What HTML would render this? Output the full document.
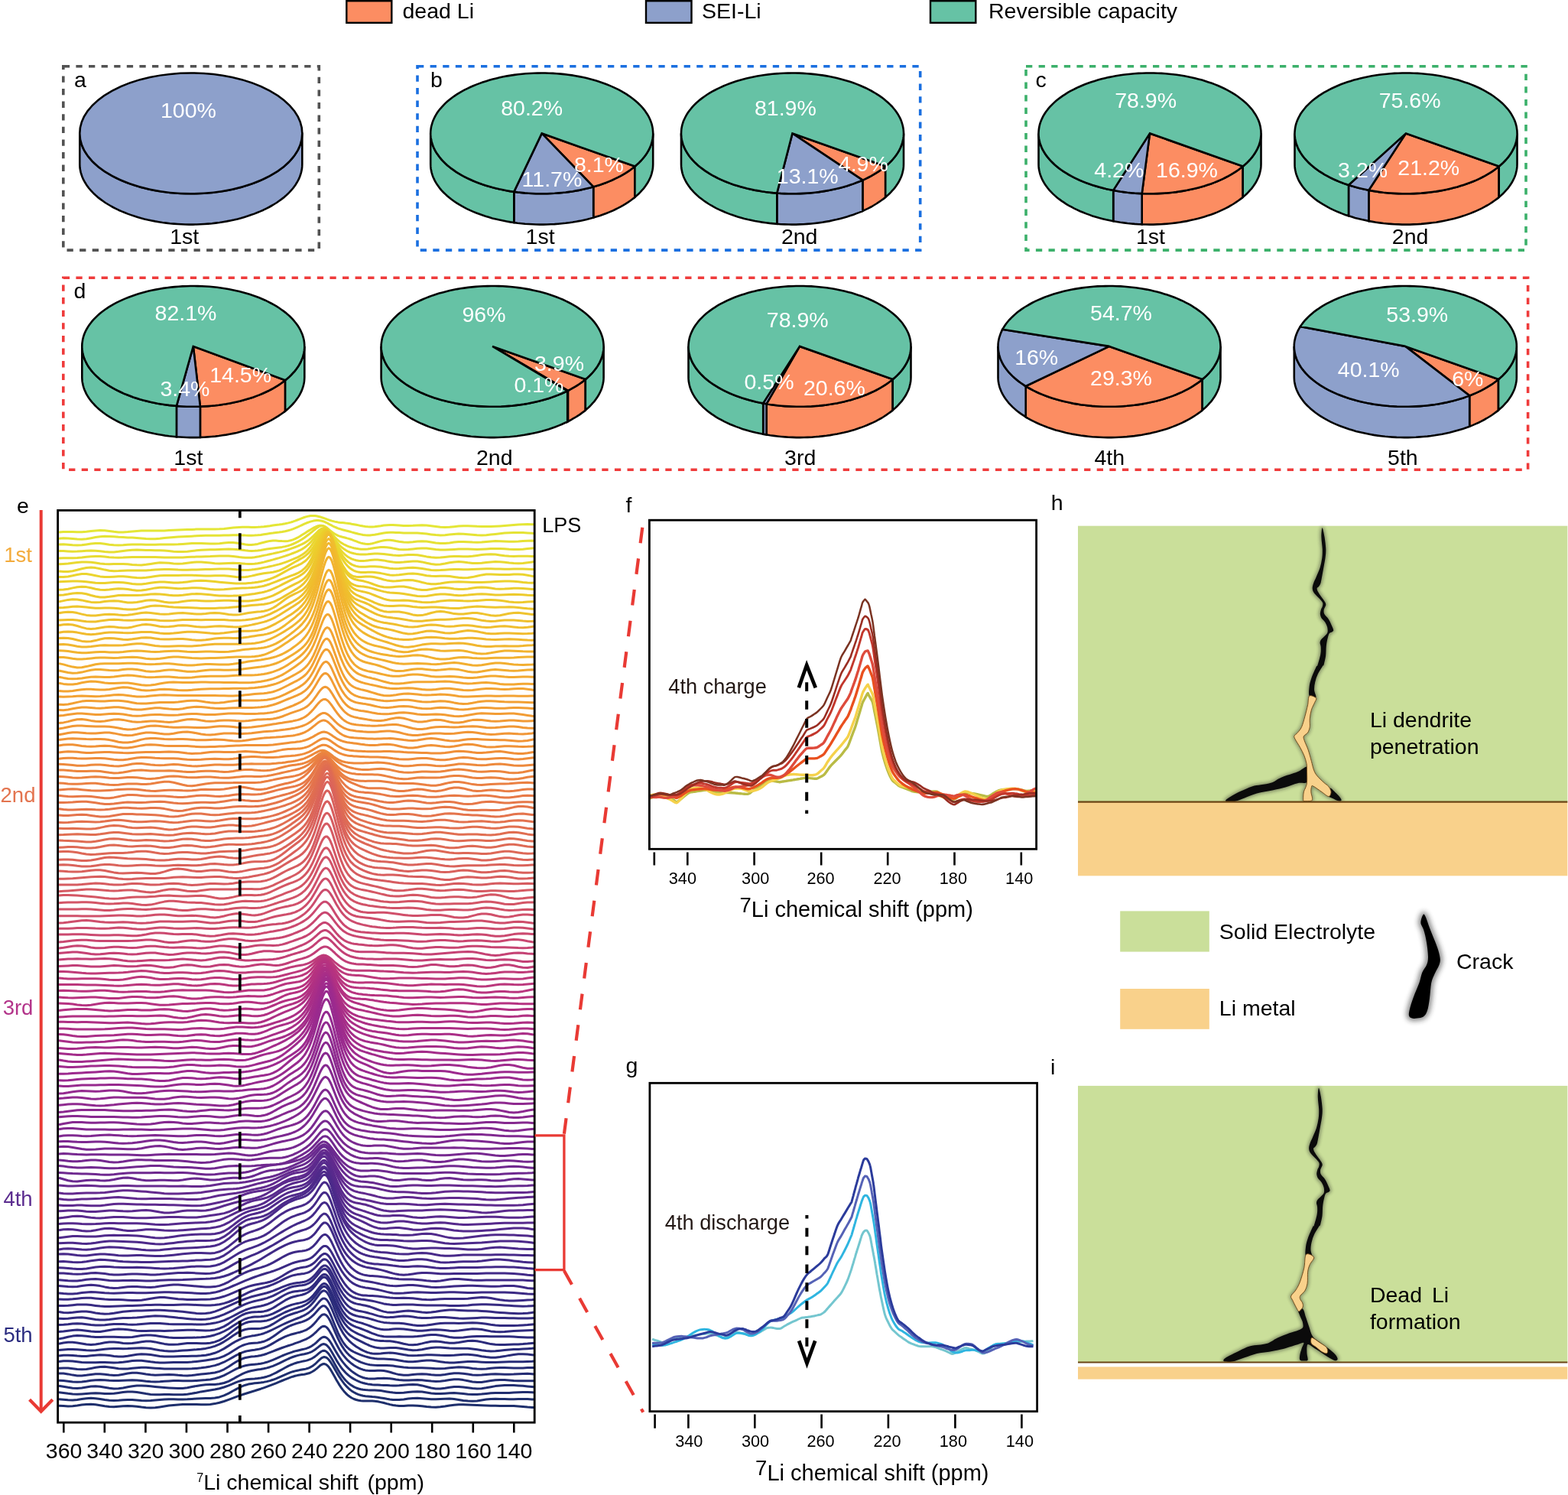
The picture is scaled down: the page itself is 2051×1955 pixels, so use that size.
<!DOCTYPE html>
<html lang="en"><head><meta charset="utf-8"><title>Figure</title>
<style>
html,body{margin:0;padding:0;background:#fff;}
body{width:2051px;height:1955px;overflow:hidden;}
svg{display:block;font-family:"Liberation Sans",sans-serif;}
</style></head><body>
<svg width="2051" height="1955" viewBox="0 0 2051 1955">
<rect width="2051" height="1955" fill="#fff"/>
<rect x="453.3" y="1.2" width="58.99999999999994" height="28.6" fill="#fc8d62" stroke="#000" stroke-width="2.4"/>
<text x="526.5" y="23.8" font-size="28.5" fill="#000" text-anchor="start" >dead Li</text>
<rect x="845" y="1.2" width="59.5" height="28.6" fill="#8da0cb" stroke="#000" stroke-width="2.4"/>
<text x="918.0" y="23.8" font-size="28.5" fill="#000" text-anchor="start" >SEI-Li</text>
<rect x="1217" y="1.2" width="59.299999999999955" height="28.6" fill="#66c2a5" stroke="#000" stroke-width="2.4"/>
<text x="1293.0" y="23.8" font-size="28.5" fill="#000" text-anchor="start" >Reversible capacity</text>
<rect x="82.8" y="86.7" width="334.5" height="240.40000000000003" fill="none" stroke="#525252" stroke-width="3.6" stroke-dasharray="8.3 8.3"/>
<rect x="546" y="86.7" width="657.7" height="240.40000000000003" fill="none" stroke="#1a6fe0" stroke-width="3.6" stroke-dasharray="8.3 8.3"/>
<rect x="1342" y="86.7" width="654" height="240.40000000000003" fill="none" stroke="#3bb06a" stroke-width="3.6" stroke-dasharray="8.3 8.3"/>
<rect x="82.8" y="363.2" width="1915.8" height="251.00000000000006" fill="none" stroke="#ef3b3b" stroke-width="3.6" stroke-dasharray="8.3 8.3"/>
<path d="M395.3,174.4 L395.2,177.1 L395.0,179.8 L394.5,182.6 L393.9,185.3 L393.1,188.0 L392.2,190.6 L391.1,193.3 L389.8,195.9 L388.3,198.5 L386.7,201.1 L384.9,203.6 L383.0,206.2 L380.9,208.6 L378.6,211.1 L376.2,213.5 L373.7,215.8 L371.0,218.1 L368.1,220.3 L365.1,222.5 L362.0,224.7 L358.7,226.7 L355.3,228.7 L351.8,230.7 L348.1,232.5 L344.4,234.4 L340.5,236.1 L336.5,237.7 L332.5,239.3 L328.3,240.8 L324.0,242.3 L319.6,243.6 L315.2,244.9 L310.7,246.1 L306.1,247.2 L301.4,248.2 L296.7,249.1 L291.9,249.9 L287.1,250.7 L282.2,251.3 L277.3,251.9 L272.3,252.3 L267.3,252.7 L262.3,253.0 L257.3,253.2 L252.3,253.3 L247.3,253.3 L242.3,253.2 L237.3,253.0 L232.3,252.7 L227.3,252.3 L222.3,251.9 L217.4,251.3 L212.5,250.7 L207.7,249.9 L202.9,249.1 L198.2,248.2 L193.5,247.2 L188.9,246.1 L184.4,244.9 L180.0,243.6 L175.6,242.3 L171.3,240.8 L167.1,239.3 L163.1,237.7 L159.1,236.1 L155.2,234.4 L151.5,232.5 L147.8,230.7 L144.3,228.7 L140.9,226.7 L137.6,224.7 L134.5,222.5 L131.5,220.3 L128.6,218.1 L125.9,215.8 L123.4,213.5 L121.0,211.1 L118.7,208.6 L116.6,206.2 L114.7,203.6 L112.9,201.1 L111.3,198.5 L109.8,195.9 L108.5,193.3 L107.4,190.6 L106.5,188.0 L105.7,185.3 L105.1,182.6 L104.6,179.8 L104.4,177.1 L104.3,174.4 L104.3,214.7 L104.4,217.4 L104.6,220.1 L105.1,222.9 L105.7,225.6 L106.5,228.3 L107.4,230.9 L108.5,233.6 L109.8,236.2 L111.3,238.8 L112.9,241.4 L114.7,243.9 L116.6,246.5 L118.7,248.9 L121.0,251.4 L123.4,253.8 L125.9,256.1 L128.6,258.4 L131.5,260.6 L134.5,262.8 L137.6,265.0 L140.9,267.0 L144.3,269.0 L147.8,271.0 L151.5,272.8 L155.2,274.7 L159.1,276.4 L163.1,278.0 L167.1,279.6 L171.3,281.1 L175.6,282.6 L180.0,283.9 L184.4,285.2 L188.9,286.4 L193.5,287.5 L198.2,288.5 L202.9,289.4 L207.7,290.2 L212.5,291.0 L217.4,291.6 L222.3,292.2 L227.3,292.6 L232.3,293.0 L237.3,293.3 L242.3,293.5 L247.3,293.6 L252.3,293.6 L257.3,293.5 L262.3,293.3 L267.3,293.0 L272.3,292.6 L277.3,292.2 L282.2,291.6 L287.1,291.0 L291.9,290.2 L296.7,289.4 L301.4,288.5 L306.1,287.5 L310.7,286.4 L315.2,285.2 L319.6,283.9 L324.0,282.6 L328.3,281.1 L332.5,279.6 L336.5,278.0 L340.5,276.4 L344.4,274.7 L348.1,272.8 L351.8,271.0 L355.3,269.0 L358.7,267.0 L362.0,265.0 L365.1,262.8 L368.1,260.6 L371.0,258.4 L373.7,256.1 L376.2,253.8 L378.6,251.4 L380.9,248.9 L383.0,246.5 L384.9,243.9 L386.7,241.4 L388.3,238.8 L389.8,236.2 L391.1,233.6 L392.2,230.9 L393.1,228.3 L393.9,225.6 L394.5,222.9 L395.0,220.1 L395.2,217.4 L395.3,214.7Z" fill="#8da0cb" stroke="#000" stroke-width="2.6" stroke-linejoin="round"/>
<ellipse cx="249.8" cy="174.4" rx="145.5" ry="78.9" fill="#8da0cb" stroke="#000" stroke-width="2.6"/>
<text x="246.4" y="153.7" font-size="28.5" fill="#fff" text-anchor="middle" >100%</text>
<text x="241.2" y="319.0" font-size="28.5" fill="#000" text-anchor="middle" >1st</text>
<text x="97.0" y="114.0" font-size="28.5" fill="#000" text-anchor="start" >a</text>
<path d="M830.4,217.6 L827.7,219.8 L824.8,222.0 L821.7,224.1 L818.6,226.1 L815.3,228.1 L811.8,230.1 L808.3,231.9 L804.6,233.7 L800.9,235.5 L797.0,237.1 L793.0,238.7 L788.9,240.2 L784.8,241.7 L780.5,243.0 L776.2,244.3 L776.2,284.6 L780.5,283.3 L784.8,282.0 L788.9,280.5 L793.0,279.0 L797.0,277.4 L800.9,275.8 L804.6,274.0 L808.3,272.2 L811.8,270.4 L815.3,268.4 L818.6,266.4 L821.7,264.4 L824.8,262.3 L827.7,260.1 L830.4,257.9Z" fill="#fc8d62" stroke="#000" stroke-width="2.6" stroke-linejoin="miter" stroke-miterlimit="6"/>
<path d="M776.2,244.3 L771.9,245.5 L767.4,246.6 L763.0,247.6 L758.4,248.6 L753.8,249.4 L749.2,250.2 L744.5,250.9 L739.8,251.5 L735.0,252.0 L730.2,252.4 L725.4,252.8 L720.5,253.0 L715.7,253.2 L710.8,253.3 L706.0,253.3 L701.1,253.2 L696.3,253.0 L691.4,252.7 L686.6,252.4 L681.8,251.9 L677.0,251.4 L672.3,250.8 L672.3,291.1 L677.0,291.7 L681.8,292.2 L686.6,292.7 L691.4,293.0 L696.3,293.3 L701.1,293.5 L706.0,293.6 L710.8,293.6 L715.7,293.5 L720.5,293.3 L725.4,293.1 L730.2,292.7 L735.0,292.3 L739.8,291.8 L744.5,291.2 L749.2,290.5 L753.8,289.7 L758.4,288.9 L763.0,287.9 L767.4,286.9 L771.9,285.8 L776.2,284.6Z" fill="#8da0cb" stroke="#000" stroke-width="2.6" stroke-linejoin="miter" stroke-miterlimit="6"/>
<path d="M672.3,250.8 L667.5,250.1 L662.6,249.2 L657.9,248.3 L653.2,247.3 L648.6,246.2 L644.0,245.1 L639.5,243.8 L635.1,242.5 L630.8,241.0 L626.6,239.5 L622.5,238.0 L618.5,236.3 L614.6,234.6 L610.8,232.8 L607.1,230.9 L603.5,228.9 L600.1,226.9 L596.8,224.8 L593.7,222.7 L590.6,220.5 L587.8,218.3 L585.0,216.0 L582.5,213.6 L580.0,211.2 L577.7,208.8 L575.6,206.3 L573.7,203.8 L571.9,201.2 L570.2,198.6 L568.8,196.0 L567.5,193.4 L566.3,190.7 L565.4,188.0 L564.6,185.3 L564.0,182.6 L563.5,179.9 L563.3,177.1 L563.2,174.4 L563.2,214.7 L563.3,217.4 L563.5,220.2 L564.0,222.9 L564.6,225.6 L565.4,228.3 L566.3,231.0 L567.5,233.7 L568.8,236.3 L570.2,238.9 L571.9,241.5 L573.7,244.1 L575.6,246.6 L577.7,249.1 L580.0,251.5 L582.5,253.9 L585.0,256.3 L587.8,258.6 L590.6,260.8 L593.7,263.0 L596.8,265.1 L600.1,267.2 L603.5,269.2 L607.1,271.2 L610.8,273.1 L614.6,274.9 L618.5,276.6 L622.5,278.3 L626.6,279.8 L630.8,281.3 L635.1,282.8 L639.5,284.1 L644.0,285.4 L648.6,286.5 L653.2,287.6 L657.9,288.6 L662.6,289.5 L667.5,290.4 L672.3,291.1Z" fill="#66c2a5" stroke="#000" stroke-width="2.6" stroke-linejoin="miter" stroke-miterlimit="6"/>
<path d="M854.2,174.4 L854.1,177.1 L853.9,179.8 L853.4,182.5 L852.8,185.1 L852.1,187.8 L851.2,190.4 L850.1,193.0 L848.8,195.6 L847.4,198.2 L845.8,200.8 L844.1,203.3 L842.2,205.8 L840.1,208.2 L837.9,210.6 L835.6,213.0 L833.1,215.3 L830.4,217.6 L830.4,257.9 L833.1,255.6 L835.6,253.3 L837.9,250.9 L840.1,248.5 L842.2,246.1 L844.1,243.6 L845.8,241.1 L847.4,238.5 L848.8,235.9 L850.1,233.3 L851.2,230.7 L852.1,228.1 L852.8,225.4 L853.4,222.8 L853.9,220.1 L854.1,217.4 L854.2,214.7Z" fill="#66c2a5" stroke="#000" stroke-width="2.6" stroke-linejoin="miter" stroke-miterlimit="6"/>
<path d="M708.7,174.4 L830.4,217.6 L827.7,219.8 L824.8,222.0 L821.7,224.1 L818.6,226.1 L815.3,228.1 L811.8,230.1 L808.3,231.9 L804.6,233.7 L800.9,235.5 L797.0,237.1 L793.0,238.7 L788.9,240.2 L784.8,241.7 L780.5,243.0 L776.2,244.3Z" fill="#fc8d62" stroke="#000" stroke-width="2.6" stroke-linejoin="miter" stroke-miterlimit="8"/>
<path d="M708.7,174.4 L776.2,244.3 L771.9,245.5 L767.4,246.6 L763.0,247.6 L758.4,248.6 L753.8,249.4 L749.2,250.2 L744.5,250.9 L739.8,251.5 L735.0,252.0 L730.2,252.4 L725.4,252.8 L720.5,253.0 L715.7,253.2 L710.8,253.3 L706.0,253.3 L701.1,253.2 L696.3,253.0 L691.4,252.7 L686.6,252.4 L681.8,251.9 L677.0,251.4 L672.3,250.8Z" fill="#8da0cb" stroke="#000" stroke-width="2.6" stroke-linejoin="miter" stroke-miterlimit="8"/>
<path d="M708.7,174.4 L672.3,250.8 L667.4,250.1 L662.6,249.2 L657.9,248.3 L653.1,247.3 L648.5,246.2 L643.9,245.1 L639.5,243.8 L635.1,242.4 L630.7,241.0 L626.5,239.5 L622.4,237.9 L618.4,236.3 L614.5,234.5 L610.7,232.7 L607.0,230.8 L603.4,228.9 L600.0,226.9 L596.7,224.8 L593.6,222.6 L590.5,220.4 L587.7,218.2 L584.9,215.9 L582.3,213.5 L579.9,211.1 L577.6,208.7 L575.5,206.2 L573.6,203.6 L571.8,201.1 L570.1,198.5 L568.7,195.9 L567.4,193.2 L566.3,190.5 L565.3,187.8 L564.6,185.1 L564.0,182.4 L563.5,179.7 L563.3,176.9 L563.2,174.2 L563.3,171.5 L563.6,168.7 L564.0,166.0 L564.7,163.3 L565.5,160.6 L566.4,157.9 L567.6,155.2 L568.9,152.6 L570.4,149.9 L572.0,147.3 L573.8,144.8 L575.8,142.3 L578.0,139.8 L580.3,137.3 L582.7,134.9 L585.3,132.6 L588.1,130.3 L591.0,128.0 L594.0,125.8 L597.2,123.7 L600.5,121.6 L603.9,119.6 L607.5,117.7 L611.2,115.8 L615.0,114.0 L619.0,112.3 L623.0,110.6 L627.1,109.1 L631.4,107.6 L635.7,106.2 L640.1,104.8 L644.6,103.6 L649.2,102.4 L653.8,101.3 L658.5,100.3 L663.3,99.4 L668.2,98.6 L673.0,97.9 L678.0,97.3 L682.9,96.7 L687.9,96.3 L692.9,96.0 L698.0,95.7 L703.0,95.6 L708.1,95.5 L713.1,95.5 L718.2,95.7 L723.2,95.9 L728.2,96.2 L733.2,96.6 L738.2,97.1 L743.1,97.7 L748.0,98.4 L752.9,99.2 L757.6,100.1 L762.4,101.1 L767.0,102.1 L771.6,103.3 L776.2,104.5 L780.6,105.8 L785.0,107.2 L789.2,108.7 L793.4,110.2 L797.4,111.9 L801.4,113.6 L805.2,115.4 L809.0,117.2 L812.6,119.1 L816.0,121.1 L819.4,123.2 L822.6,125.3 L825.7,127.5 L828.6,129.7 L831.4,132.0 L834.0,134.3 L836.5,136.7 L838.9,139.2 L841.1,141.6 L843.1,144.1 L844.9,146.7 L846.6,149.3 L848.2,151.9 L849.5,154.5 L850.7,157.2 L851.7,159.9 L852.6,162.6 L853.2,165.3 L853.7,168.0 L854.0,170.8 L854.2,173.5 L854.2,176.2 L854.0,179.0 L853.6,181.7 L853.0,184.4 L852.3,187.2 L851.4,189.9 L850.3,192.5 L849.1,195.2 L847.6,197.8 L846.1,200.4 L844.3,203.0 L842.4,205.5 L840.3,208.0 L838.1,210.5 L835.7,212.9 L833.1,215.3 L830.4,217.6Z" fill="#66c2a5" stroke="#000" stroke-width="2.6" stroke-linejoin="miter" stroke-miterlimit="8"/>
<text x="695.6" y="151.3" font-size="28.5" fill="#fff" text-anchor="middle" >80.2%</text>
<text x="783.4" y="224.9" font-size="28.5" fill="#fff" text-anchor="middle" >8.1%</text>
<text x="721.9" y="244.4" font-size="28.5" fill="#fff" text-anchor="middle" >11.7%</text>
<text x="706.6" y="319.0" font-size="28.5" fill="#000" text-anchor="middle" >1st</text>
<text x="563.0" y="113.7" font-size="28.5" fill="#000" text-anchor="start" >b</text>
<path d="M1158.2,217.6 L1155.5,219.8 L1152.5,222.0 L1149.4,224.1 L1146.2,226.2 L1142.9,228.2 L1139.5,230.2 L1135.9,232.0 L1132.2,233.8 L1128.4,235.6 L1128.4,275.9 L1132.2,274.1 L1135.9,272.3 L1139.5,270.5 L1142.9,268.5 L1146.2,266.5 L1149.4,264.4 L1152.5,262.3 L1155.5,260.1 L1158.2,257.9Z" fill="#fc8d62" stroke="#000" stroke-width="2.6" stroke-linejoin="miter" stroke-miterlimit="6"/>
<path d="M1128.4,235.6 L1124.5,237.3 L1120.4,238.8 L1116.3,240.4 L1112.1,241.8 L1107.8,243.2 L1103.4,244.5 L1098.9,245.7 L1094.4,246.8 L1089.8,247.8 L1085.1,248.8 L1080.4,249.6 L1075.6,250.4 L1070.8,251.1 L1065.9,251.7 L1061.0,252.2 L1056.0,252.6 L1051.1,252.9 L1046.1,253.1 L1041.1,253.3 L1036.1,253.3 L1031.2,253.2 L1026.2,253.1 L1021.2,252.9 L1016.3,252.5 L1016.3,292.8 L1021.2,293.2 L1026.2,293.4 L1031.2,293.5 L1036.1,293.6 L1041.1,293.6 L1046.1,293.4 L1051.1,293.2 L1056.0,292.9 L1061.0,292.5 L1065.9,292.0 L1070.8,291.4 L1075.6,290.7 L1080.4,289.9 L1085.1,289.1 L1089.8,288.1 L1094.4,287.1 L1098.9,286.0 L1103.4,284.8 L1107.8,283.5 L1112.1,282.1 L1116.3,280.7 L1120.4,279.1 L1124.5,277.6 L1128.4,275.9Z" fill="#8da0cb" stroke="#000" stroke-width="2.6" stroke-linejoin="miter" stroke-miterlimit="6"/>
<path d="M1016.3,252.5 L1011.4,252.1 L1006.5,251.6 L1001.7,251.0 L996.9,250.3 L992.1,249.5 L987.4,248.7 L982.8,247.7 L978.2,246.7 L973.7,245.6 L969.3,244.4 L964.9,243.1 L960.6,241.7 L956.4,240.3 L952.4,238.8 L948.4,237.2 L944.5,235.5 L940.7,233.8 L937.0,232.0 L933.4,230.1 L930.0,228.2 L926.7,226.2 L923.5,224.1 L920.4,222.0 L917.5,219.8 L914.7,217.6 L912.1,215.3 L909.6,213.0 L907.2,210.6 L905.0,208.2 L903.0,205.8 L901.1,203.3 L899.4,200.8 L897.8,198.2 L896.4,195.6 L895.1,193.0 L894.0,190.4 L893.1,187.8 L892.3,185.1 L891.8,182.5 L891.3,179.8 L891.1,177.1 L891.0,174.4 L891.0,214.7 L891.1,217.4 L891.3,220.1 L891.8,222.8 L892.3,225.4 L893.1,228.1 L894.0,230.7 L895.1,233.3 L896.4,235.9 L897.8,238.5 L899.4,241.1 L901.1,243.6 L903.0,246.1 L905.0,248.5 L907.2,250.9 L909.6,253.3 L912.1,255.6 L914.7,257.9 L917.5,260.1 L920.4,262.3 L923.5,264.4 L926.7,266.5 L930.0,268.5 L933.4,270.4 L937.0,272.3 L940.7,274.1 L944.5,275.8 L948.4,277.5 L952.4,279.1 L956.4,280.6 L960.6,282.0 L964.9,283.4 L969.3,284.7 L973.7,285.9 L978.2,287.0 L982.8,288.0 L987.4,289.0 L992.1,289.8 L996.9,290.6 L1001.7,291.3 L1006.5,291.9 L1011.4,292.4 L1016.3,292.8Z" fill="#66c2a5" stroke="#000" stroke-width="2.6" stroke-linejoin="miter" stroke-miterlimit="6"/>
<path d="M1182.0,174.4 L1181.9,177.1 L1181.7,179.8 L1181.2,182.5 L1180.6,185.1 L1179.9,187.8 L1179.0,190.4 L1177.9,193.0 L1176.6,195.6 L1175.2,198.2 L1173.6,200.8 L1171.9,203.3 L1170.0,205.8 L1167.9,208.2 L1165.7,210.6 L1163.4,213.0 L1160.9,215.3 L1158.2,217.6 L1158.2,257.9 L1160.9,255.6 L1163.4,253.3 L1165.7,250.9 L1167.9,248.5 L1170.0,246.1 L1171.9,243.6 L1173.6,241.1 L1175.2,238.5 L1176.6,235.9 L1177.9,233.3 L1179.0,230.7 L1179.9,228.1 L1180.6,225.4 L1181.2,222.8 L1181.7,220.1 L1181.9,217.4 L1182.0,214.7Z" fill="#66c2a5" stroke="#000" stroke-width="2.6" stroke-linejoin="miter" stroke-miterlimit="6"/>
<path d="M1036.5,174.4 L1158.2,217.6 L1155.5,219.8 L1152.5,222.0 L1149.4,224.1 L1146.2,226.2 L1142.9,228.2 L1139.5,230.2 L1135.9,232.0 L1132.2,233.8 L1128.4,235.6Z" fill="#fc8d62" stroke="#000" stroke-width="2.6" stroke-linejoin="miter" stroke-miterlimit="8"/>
<path d="M1036.5,174.4 L1128.4,235.6 L1124.5,237.3 L1120.4,238.8 L1116.3,240.4 L1112.1,241.8 L1107.8,243.2 L1103.4,244.5 L1098.9,245.7 L1094.4,246.8 L1089.8,247.8 L1085.1,248.8 L1080.4,249.6 L1075.6,250.4 L1070.8,251.1 L1065.9,251.7 L1061.0,252.2 L1056.0,252.6 L1051.1,252.9 L1046.1,253.1 L1041.1,253.3 L1036.1,253.3 L1031.2,253.2 L1026.2,253.1 L1021.2,252.9 L1016.3,252.5Z" fill="#8da0cb" stroke="#000" stroke-width="2.6" stroke-linejoin="miter" stroke-miterlimit="8"/>
<path d="M1036.5,174.4 L1016.3,252.5 L1011.2,252.1 L1006.3,251.6 L1001.3,251.0 L996.4,250.3 L991.6,249.4 L986.8,248.6 L982.1,247.6 L977.4,246.5 L972.8,245.3 L968.3,244.1 L963.9,242.8 L959.5,241.4 L955.3,239.9 L951.1,238.3 L947.1,236.6 L943.1,234.9 L939.3,233.1 L935.6,231.2 L932.0,229.3 L928.6,227.3 L925.2,225.2 L922.0,223.1 L919.0,220.9 L916.1,218.7 L913.3,216.4 L910.7,214.0 L908.2,211.6 L905.9,209.2 L903.7,206.7 L901.7,204.2 L899.9,201.6 L898.3,199.0 L896.8,196.4 L895.4,193.7 L894.3,191.1 L893.3,188.4 L892.5,185.7 L891.9,182.9 L891.4,180.2 L891.1,177.5 L891.0,174.7 L891.1,172.0 L891.3,169.2 L891.7,166.5 L892.3,163.8 L893.1,161.0 L894.0,158.3 L895.2,155.7 L896.5,153.0 L897.9,150.4 L899.5,147.8 L901.3,145.2 L903.3,142.7 L905.4,140.2 L907.7,137.7 L910.1,135.3 L912.7,132.9 L915.4,130.6 L918.3,128.4 L921.3,126.2 L924.5,124.0 L927.8,121.9 L931.2,119.9 L934.8,118.0 L938.5,116.1 L942.3,114.3 L946.2,112.5 L950.2,110.9 L954.4,109.3 L958.6,107.8 L962.9,106.3 L967.3,105.0 L971.8,103.7 L976.4,102.5 L981.0,101.5 L985.8,100.5 L990.5,99.5 L995.4,98.7 L1000.2,98.0 L1005.2,97.4 L1010.1,96.8 L1015.1,96.4 L1020.2,96.0 L1025.2,95.7 L1030.3,95.6 L1035.3,95.5 L1040.4,95.5 L1045.4,95.6 L1050.5,95.9 L1055.5,96.2 L1060.5,96.6 L1065.5,97.1 L1070.5,97.7 L1075.4,98.4 L1080.2,99.1 L1085.0,100.0 L1089.8,101.0 L1094.4,102.0 L1099.1,103.2 L1103.6,104.4 L1108.0,105.7 L1112.4,107.1 L1116.7,108.6 L1120.9,110.1 L1124.9,111.7 L1128.9,113.5 L1132.8,115.2 L1136.5,117.1 L1140.1,119.0 L1143.6,121.0 L1147.0,123.1 L1150.2,125.2 L1153.3,127.3 L1156.2,129.6 L1159.0,131.9 L1161.7,134.2 L1164.2,136.6 L1166.6,139.0 L1168.7,141.5 L1170.8,144.0 L1172.6,146.6 L1174.4,149.2 L1175.9,151.8 L1177.3,154.4 L1178.5,157.1 L1179.5,159.8 L1180.3,162.5 L1181.0,165.2 L1181.5,167.9 L1181.8,170.7 L1182.0,173.4 L1182.0,176.2 L1181.8,178.9 L1181.4,181.7 L1180.8,184.4 L1180.1,187.1 L1179.2,189.8 L1178.1,192.5 L1176.9,195.2 L1175.5,197.8 L1173.9,200.4 L1172.1,203.0 L1170.2,205.5 L1168.1,208.0 L1165.9,210.5 L1163.5,212.9 L1160.9,215.3 L1158.2,217.6Z" fill="#66c2a5" stroke="#000" stroke-width="2.6" stroke-linejoin="miter" stroke-miterlimit="8"/>
<text x="1027.4" y="151.3" font-size="28.5" fill="#fff" text-anchor="middle" >81.9%</text>
<text x="1129.3" y="223.5" font-size="28.5" fill="#fff" text-anchor="middle" >4.9%</text>
<text x="1056.2" y="239.7" font-size="28.5" fill="#fff" text-anchor="middle" >13.1%</text>
<text x="1045.7" y="319.0" font-size="28.5" fill="#000" text-anchor="middle" >2nd</text>
<path d="M1625.7,217.6 L1622.9,219.8 L1620.0,222.0 L1616.9,224.1 L1613.7,226.2 L1610.4,228.2 L1606.9,230.2 L1603.3,232.0 L1599.6,233.9 L1595.8,235.6 L1591.9,237.3 L1587.9,238.9 L1583.8,240.4 L1579.6,241.8 L1575.3,243.2 L1570.9,244.5 L1566.4,245.7 L1561.9,246.8 L1557.3,247.8 L1552.6,248.8 L1547.9,249.6 L1543.1,250.4 L1538.3,251.1 L1533.4,251.7 L1528.5,252.2 L1523.6,252.6 L1518.6,252.9 L1513.7,253.1 L1508.7,253.3 L1503.7,253.3 L1498.7,253.2 L1493.7,253.1 L1493.7,293.4 L1498.7,293.5 L1503.7,293.6 L1508.7,293.6 L1513.7,293.4 L1518.6,293.2 L1523.6,292.9 L1528.5,292.5 L1533.4,292.0 L1538.3,291.4 L1543.1,290.7 L1547.9,289.9 L1552.6,289.1 L1557.3,288.1 L1561.9,287.1 L1566.4,286.0 L1570.9,284.8 L1575.3,283.5 L1579.6,282.1 L1583.8,280.7 L1587.9,279.2 L1591.9,277.6 L1595.8,275.9 L1599.6,274.2 L1603.3,272.3 L1606.9,270.5 L1610.4,268.5 L1613.7,266.5 L1616.9,264.4 L1620.0,262.3 L1622.9,260.1 L1625.7,257.9Z" fill="#fc8d62" stroke="#000" stroke-width="2.6" stroke-linejoin="miter" stroke-miterlimit="6"/>
<path d="M1493.7,253.1 L1489.0,252.9 L1484.2,252.6 L1479.5,252.2 L1474.7,251.7 L1470.1,251.1 L1465.4,250.5 L1460.8,249.7 L1456.2,248.9 L1456.2,289.2 L1460.8,290.0 L1465.4,290.8 L1470.1,291.4 L1474.7,292.0 L1479.5,292.5 L1484.2,292.9 L1489.0,293.2 L1493.7,293.4Z" fill="#8da0cb" stroke="#000" stroke-width="2.6" stroke-linejoin="miter" stroke-miterlimit="6"/>
<path d="M1456.2,248.9 L1451.6,248.0 L1446.9,247.0 L1442.4,245.9 L1437.9,244.7 L1433.5,243.4 L1429.1,242.1 L1424.9,240.6 L1420.7,239.1 L1416.7,237.5 L1412.8,235.9 L1408.9,234.1 L1405.2,232.3 L1401.6,230.4 L1398.1,228.5 L1394.7,226.5 L1391.5,224.4 L1388.4,222.3 L1385.4,220.1 L1382.6,217.9 L1379.9,215.6 L1377.4,213.3 L1375.0,210.9 L1372.8,208.5 L1370.7,206.0 L1368.8,203.5 L1367.0,201.0 L1365.4,198.4 L1364.0,195.8 L1362.7,193.2 L1361.6,190.5 L1360.6,187.9 L1359.9,185.2 L1359.3,182.5 L1358.8,179.8 L1358.6,177.1 L1358.5,174.4 L1358.5,214.7 L1358.6,217.4 L1358.8,220.1 L1359.3,222.8 L1359.9,225.5 L1360.6,228.2 L1361.6,230.8 L1362.7,233.5 L1364.0,236.1 L1365.4,238.7 L1367.0,241.3 L1368.8,243.8 L1370.7,246.3 L1372.8,248.8 L1375.0,251.2 L1377.4,253.6 L1379.9,255.9 L1382.6,258.2 L1385.4,260.4 L1388.4,262.6 L1391.5,264.7 L1394.7,266.8 L1398.1,268.8 L1401.6,270.7 L1405.2,272.6 L1408.9,274.4 L1412.8,276.2 L1416.7,277.8 L1420.7,279.4 L1424.9,280.9 L1429.1,282.4 L1433.5,283.7 L1437.9,285.0 L1442.4,286.2 L1446.9,287.3 L1451.6,288.3 L1456.2,289.2Z" fill="#66c2a5" stroke="#000" stroke-width="2.6" stroke-linejoin="miter" stroke-miterlimit="6"/>
<path d="M1649.5,174.4 L1649.4,177.1 L1649.2,179.8 L1648.7,182.5 L1648.1,185.1 L1647.4,187.8 L1646.5,190.4 L1645.4,193.0 L1644.1,195.6 L1642.7,198.2 L1641.1,200.8 L1639.4,203.3 L1637.5,205.8 L1635.4,208.2 L1633.2,210.6 L1630.9,213.0 L1628.4,215.3 L1625.7,217.6 L1625.7,257.9 L1628.4,255.6 L1630.9,253.3 L1633.2,250.9 L1635.4,248.5 L1637.5,246.1 L1639.4,243.6 L1641.1,241.1 L1642.7,238.5 L1644.1,235.9 L1645.4,233.3 L1646.5,230.7 L1647.4,228.1 L1648.1,225.4 L1648.7,222.8 L1649.2,220.1 L1649.4,217.4 L1649.5,214.7Z" fill="#66c2a5" stroke="#000" stroke-width="2.6" stroke-linejoin="miter" stroke-miterlimit="6"/>
<path d="M1504.0,174.4 L1625.7,217.6 L1622.9,219.8 L1620.0,222.0 L1616.9,224.1 L1613.7,226.2 L1610.4,228.2 L1606.9,230.2 L1603.3,232.0 L1599.6,233.9 L1595.8,235.6 L1591.9,237.3 L1587.9,238.9 L1583.8,240.4 L1579.6,241.8 L1575.3,243.2 L1570.9,244.5 L1566.4,245.7 L1561.9,246.8 L1557.3,247.8 L1552.6,248.8 L1547.9,249.6 L1543.1,250.4 L1538.3,251.1 L1533.4,251.7 L1528.5,252.2 L1523.6,252.6 L1518.6,252.9 L1513.7,253.1 L1508.7,253.3 L1503.7,253.3 L1498.7,253.2 L1493.7,253.1Z" fill="#fc8d62" stroke="#000" stroke-width="2.6" stroke-linejoin="miter" stroke-miterlimit="8"/>
<path d="M1504.0,174.4 L1493.7,253.1 L1489.0,252.9 L1484.2,252.6 L1479.5,252.2 L1474.7,251.7 L1470.1,251.1 L1465.4,250.5 L1460.8,249.7 L1456.2,248.9Z" fill="#8da0cb" stroke="#000" stroke-width="2.6" stroke-linejoin="miter" stroke-miterlimit="8"/>
<path d="M1504.0,174.4 L1456.2,248.9 L1451.5,248.0 L1446.8,247.0 L1442.2,245.8 L1437.7,244.6 L1433.3,243.3 L1428.9,242.0 L1424.6,240.5 L1420.4,239.0 L1416.4,237.4 L1412.4,235.7 L1408.5,233.9 L1404.8,232.1 L1401.1,230.2 L1397.6,228.2 L1394.3,226.2 L1391.0,224.1 L1387.9,222.0 L1384.9,219.8 L1382.1,217.5 L1379.4,215.2 L1376.9,212.8 L1374.5,210.4 L1372.3,207.9 L1370.2,205.4 L1368.3,202.9 L1366.6,200.3 L1365.0,197.7 L1363.6,195.1 L1362.4,192.5 L1361.3,189.8 L1360.4,187.1 L1359.7,184.4 L1359.1,181.7 L1358.7,179.0 L1358.5,176.2 L1358.5,173.5 L1358.7,170.7 L1359.0,168.0 L1359.5,165.3 L1360.1,162.6 L1361.0,159.9 L1362.0,157.2 L1363.2,154.6 L1364.5,151.9 L1366.1,149.3 L1367.7,146.7 L1369.6,144.2 L1371.6,141.7 L1373.8,139.2 L1376.1,136.8 L1378.6,134.4 L1381.2,132.1 L1384.0,129.8 L1386.9,127.6 L1390.0,125.4 L1393.2,123.3 L1396.5,121.2 L1400.0,119.2 L1403.6,117.3 L1407.3,115.5 L1411.1,113.7 L1415.0,112.0 L1419.1,110.3 L1423.2,108.8 L1427.5,107.3 L1431.8,105.9 L1436.2,104.6 L1440.7,103.3 L1445.3,102.2 L1450.0,101.1 L1454.7,100.2 L1459.5,99.3 L1464.3,98.5 L1469.2,97.8 L1474.1,97.2 L1479.0,96.7 L1484.0,96.2 L1489.0,95.9 L1494.0,95.7 L1499.1,95.5 L1504.1,95.5 L1509.2,95.5 L1514.2,95.7 L1519.2,95.9 L1524.2,96.3 L1529.2,96.7 L1534.2,97.2 L1539.1,97.8 L1544.0,98.5 L1548.8,99.3 L1553.6,100.2 L1558.3,101.2 L1562.9,102.3 L1567.5,103.4 L1572.0,104.6 L1576.4,106.0 L1580.7,107.4 L1585.0,108.8 L1589.1,110.4 L1593.2,112.0 L1597.1,113.8 L1600.9,115.5 L1604.6,117.4 L1608.2,119.3 L1611.7,121.3 L1615.0,123.4 L1618.2,125.5 L1621.2,127.7 L1624.1,129.9 L1626.9,132.2 L1629.5,134.5 L1632.0,136.9 L1634.3,139.3 L1636.5,141.8 L1638.5,144.3 L1640.3,146.9 L1642.0,149.4 L1643.5,152.0 L1644.9,154.7 L1646.1,157.3 L1647.1,160.0 L1647.9,162.7 L1648.6,165.4 L1649.0,168.2 L1649.4,170.9 L1649.5,173.6 L1649.5,176.4 L1649.2,179.1 L1648.9,181.8 L1648.3,184.5 L1647.6,187.2 L1646.7,189.9 L1645.6,192.6 L1644.3,195.3 L1642.9,197.9 L1641.3,200.5 L1639.6,203.0 L1637.7,205.6 L1635.6,208.1 L1633.4,210.5 L1631.0,212.9 L1628.4,215.3 L1625.7,217.6Z" fill="#66c2a5" stroke="#000" stroke-width="2.6" stroke-linejoin="miter" stroke-miterlimit="8"/>
<text x="1498.6" y="141.1" font-size="28.5" fill="#fff" text-anchor="middle" >78.9%</text>
<text x="1463.8" y="232.0" font-size="28.5" fill="#fff" text-anchor="middle" >4.2%</text>
<text x="1552.5" y="232.0" font-size="28.5" fill="#fff" text-anchor="middle" >16.9%</text>
<text x="1504.9" y="319.0" font-size="28.5" fill="#000" text-anchor="middle" >1st</text>
<text x="1354.5" y="113.7" font-size="28.5" fill="#000" text-anchor="start" >c</text>
<path d="M1960.7,217.6 L1958.0,219.8 L1955.0,222.0 L1952.0,224.1 L1948.8,226.2 L1945.4,228.2 L1942.0,230.1 L1938.4,232.0 L1934.7,233.8 L1930.9,235.6 L1927.0,237.2 L1923.0,238.8 L1918.9,240.3 L1914.7,241.8 L1910.4,243.1 L1906.1,244.4 L1901.6,245.6 L1897.1,246.7 L1892.5,247.8 L1887.9,248.7 L1883.1,249.6 L1878.4,250.4 L1873.6,251.0 L1868.7,251.6 L1863.9,252.1 L1858.9,252.6 L1854.0,252.9 L1849.1,253.1 L1844.1,253.3 L1839.1,253.3 L1834.2,253.3 L1829.2,253.1 L1824.2,252.9 L1819.3,252.6 L1814.4,252.2 L1809.5,251.7 L1804.7,251.1 L1799.9,250.4 L1795.1,249.6 L1790.4,248.8 L1790.4,289.1 L1795.1,289.9 L1799.9,290.7 L1804.7,291.4 L1809.5,292.0 L1814.4,292.5 L1819.3,292.9 L1824.2,293.2 L1829.2,293.4 L1834.2,293.6 L1839.1,293.6 L1844.1,293.6 L1849.1,293.4 L1854.0,293.2 L1858.9,292.9 L1863.9,292.4 L1868.7,291.9 L1873.6,291.3 L1878.4,290.7 L1883.1,289.9 L1887.9,289.0 L1892.5,288.1 L1897.1,287.0 L1901.6,285.9 L1906.1,284.7 L1910.4,283.4 L1914.7,282.1 L1918.9,280.6 L1923.0,279.1 L1927.0,277.5 L1930.9,275.9 L1934.7,274.1 L1938.4,272.3 L1942.0,270.4 L1945.4,268.5 L1948.8,266.5 L1952.0,264.4 L1955.0,262.3 L1958.0,260.1 L1960.7,257.9Z" fill="#fc8d62" stroke="#000" stroke-width="2.6" stroke-linejoin="miter" stroke-miterlimit="6"/>
<path d="M1790.4,248.8 L1785.8,247.8 L1781.3,246.8 L1776.9,245.7 L1772.5,244.6 L1768.2,243.3 L1764.0,242.0 L1764.0,282.3 L1768.2,283.6 L1772.5,284.9 L1776.9,286.0 L1781.3,287.1 L1785.8,288.1 L1790.4,289.1Z" fill="#8da0cb" stroke="#000" stroke-width="2.6" stroke-linejoin="miter" stroke-miterlimit="6"/>
<path d="M1764.0,242.0 L1759.7,240.6 L1755.6,239.1 L1751.6,237.5 L1747.6,235.8 L1743.8,234.1 L1740.1,232.3 L1736.5,230.4 L1733.0,228.4 L1729.6,226.4 L1726.4,224.4 L1723.3,222.3 L1720.4,220.1 L1717.5,217.8 L1714.9,215.6 L1712.3,213.2 L1710.0,210.8 L1707.7,208.4 L1705.7,206.0 L1703.7,203.5 L1702.0,200.9 L1700.4,198.4 L1698.9,195.8 L1697.7,193.2 L1696.6,190.5 L1695.6,187.9 L1694.9,185.2 L1694.3,182.5 L1693.8,179.8 L1693.6,177.1 L1693.5,174.4 L1693.5,214.7 L1693.6,217.4 L1693.8,220.1 L1694.3,222.8 L1694.9,225.5 L1695.6,228.2 L1696.6,230.8 L1697.7,233.5 L1698.9,236.1 L1700.4,238.7 L1702.0,241.2 L1703.7,243.8 L1705.7,246.3 L1707.7,248.7 L1710.0,251.1 L1712.3,253.5 L1714.9,255.9 L1717.5,258.1 L1720.4,260.4 L1723.3,262.6 L1726.4,264.7 L1729.6,266.7 L1733.0,268.7 L1736.5,270.7 L1740.1,272.6 L1743.8,274.4 L1747.6,276.1 L1751.6,277.8 L1755.6,279.4 L1759.7,280.9 L1764.0,282.3Z" fill="#66c2a5" stroke="#000" stroke-width="2.6" stroke-linejoin="miter" stroke-miterlimit="6"/>
<path d="M1984.5,174.4 L1984.4,177.1 L1984.2,179.8 L1983.7,182.5 L1983.1,185.1 L1982.4,187.8 L1981.5,190.4 L1980.4,193.0 L1979.1,195.6 L1977.7,198.2 L1976.1,200.8 L1974.4,203.3 L1972.5,205.8 L1970.4,208.2 L1968.2,210.6 L1965.9,213.0 L1963.4,215.3 L1960.7,217.6 L1960.7,257.9 L1963.4,255.6 L1965.9,253.3 L1968.2,250.9 L1970.4,248.5 L1972.5,246.1 L1974.4,243.6 L1976.1,241.1 L1977.7,238.5 L1979.1,235.9 L1980.4,233.3 L1981.5,230.7 L1982.4,228.1 L1983.1,225.4 L1983.7,222.8 L1984.2,220.1 L1984.4,217.4 L1984.5,214.7Z" fill="#66c2a5" stroke="#000" stroke-width="2.6" stroke-linejoin="miter" stroke-miterlimit="6"/>
<path d="M1839.0,174.4 L1960.7,217.6 L1958.0,219.8 L1955.0,222.0 L1952.0,224.1 L1948.8,226.2 L1945.4,228.2 L1942.0,230.1 L1938.4,232.0 L1934.7,233.8 L1930.9,235.6 L1927.0,237.2 L1923.0,238.8 L1918.9,240.3 L1914.7,241.8 L1910.4,243.1 L1906.1,244.4 L1901.6,245.6 L1897.1,246.7 L1892.5,247.8 L1887.9,248.7 L1883.1,249.6 L1878.4,250.4 L1873.6,251.0 L1868.7,251.6 L1863.9,252.1 L1858.9,252.6 L1854.0,252.9 L1849.1,253.1 L1844.1,253.3 L1839.1,253.3 L1834.2,253.3 L1829.2,253.1 L1824.2,252.9 L1819.3,252.6 L1814.4,252.2 L1809.5,251.7 L1804.7,251.1 L1799.9,250.4 L1795.1,249.6 L1790.4,248.8Z" fill="#fc8d62" stroke="#000" stroke-width="2.6" stroke-linejoin="miter" stroke-miterlimit="8"/>
<path d="M1839.0,174.4 L1790.4,248.8 L1785.8,247.8 L1781.3,246.8 L1776.9,245.7 L1772.5,244.6 L1768.2,243.3 L1764.0,242.0Z" fill="#8da0cb" stroke="#000" stroke-width="2.6" stroke-linejoin="miter" stroke-miterlimit="8"/>
<path d="M1839.0,174.4 L1764.0,242.0 L1759.7,240.6 L1755.5,239.0 L1751.4,237.4 L1747.5,235.7 L1743.6,234.0 L1739.8,232.1 L1736.2,230.2 L1732.7,228.3 L1729.3,226.2 L1726.1,224.2 L1723.0,222.0 L1720.0,219.8 L1717.2,217.5 L1714.5,215.2 L1711.9,212.8 L1709.6,210.4 L1707.3,208.0 L1705.3,205.5 L1703.4,203.0 L1701.6,200.4 L1700.0,197.8 L1698.6,195.2 L1697.4,192.5 L1696.3,189.8 L1695.4,187.1 L1694.7,184.4 L1694.1,181.7 L1693.7,179.0 L1693.5,176.3 L1693.5,173.5 L1693.7,170.8 L1694.0,168.1 L1694.5,165.3 L1695.1,162.6 L1696.0,159.9 L1697.0,157.2 L1698.2,154.6 L1699.5,152.0 L1701.0,149.3 L1702.7,146.8 L1704.6,144.2 L1706.6,141.7 L1708.7,139.2 L1711.1,136.8 L1713.6,134.4 L1716.2,132.1 L1719.0,129.8 L1721.9,127.6 L1724.9,125.4 L1728.1,123.3 L1731.5,121.2 L1734.9,119.3 L1738.5,117.3 L1742.2,115.5 L1746.1,113.7 L1750.0,112.0 L1754.0,110.3 L1758.2,108.8 L1762.4,107.3 L1766.8,105.9 L1771.2,104.6 L1775.7,103.4 L1780.3,102.2 L1784.9,101.2 L1789.6,100.2 L1794.4,99.3 L1799.2,98.5 L1804.1,97.8 L1809.0,97.2 L1814.0,96.7 L1819.0,96.3 L1824.0,95.9 L1829.0,95.7 L1834.0,95.5 L1839.1,95.5 L1844.1,95.5 L1849.2,95.7 L1854.2,95.9 L1859.2,96.3 L1864.2,96.7 L1869.1,97.2 L1874.0,97.8 L1878.9,98.5 L1883.7,99.3 L1888.5,100.2 L1893.2,101.2 L1897.9,102.2 L1902.5,103.4 L1907.0,104.6 L1911.4,106.0 L1915.7,107.4 L1920.0,108.8 L1924.1,110.4 L1928.1,112.0 L1932.1,113.8 L1935.9,115.5 L1939.6,117.4 L1943.2,119.3 L1946.6,121.3 L1950.0,123.4 L1953.2,125.5 L1956.2,127.7 L1959.1,129.9 L1961.9,132.2 L1964.5,134.5 L1967.0,136.9 L1969.3,139.3 L1971.5,141.8 L1973.5,144.3 L1975.3,146.8 L1977.0,149.4 L1978.5,152.0 L1979.9,154.7 L1981.1,157.3 L1982.1,160.0 L1982.9,162.7 L1983.6,165.4 L1984.0,168.1 L1984.4,170.9 L1984.5,173.6 L1984.5,176.3 L1984.2,179.1 L1983.9,181.8 L1983.3,184.5 L1982.6,187.2 L1981.7,189.9 L1980.6,192.6 L1979.3,195.2 L1977.9,197.9 L1976.3,200.5 L1974.6,203.0 L1972.7,205.6 L1970.6,208.1 L1968.4,210.5 L1966.0,212.9 L1963.4,215.3 L1960.7,217.6Z" fill="#66c2a5" stroke="#000" stroke-width="2.6" stroke-linejoin="miter" stroke-miterlimit="8"/>
<text x="1844.1" y="140.7" font-size="28.5" fill="#fff" text-anchor="middle" >75.6%</text>
<text x="1782.6" y="232.2" font-size="28.5" fill="#fff" text-anchor="middle" >3.2%</text>
<text x="1868.7" y="228.5" font-size="28.5" fill="#fff" text-anchor="middle" >21.2%</text>
<text x="1844.6" y="319.0" font-size="28.5" fill="#000" text-anchor="middle" >2nd</text>
<path d="M373.1,497.2 L370.3,499.4 L367.4,501.5 L364.3,503.6 L361.0,505.6 L357.7,507.6 L354.2,509.5 L350.7,511.3 L347.0,513.0 L343.2,514.7 L339.3,516.4 L335.3,517.9 L331.2,519.4 L327.0,520.8 L322.7,522.1 L318.4,523.3 L314.0,524.5 L309.5,525.6 L304.9,526.6 L300.3,527.5 L295.7,528.3 L290.9,529.0 L286.2,529.7 L281.4,530.3 L276.6,530.7 L271.7,531.1 L266.8,531.4 L261.9,531.6 L261.9,571.9 L266.8,571.7 L271.7,571.4 L276.6,571.0 L281.4,570.6 L286.2,570.0 L290.9,569.3 L295.7,568.6 L300.3,567.8 L304.9,566.9 L309.5,565.9 L314.0,564.8 L318.4,563.6 L322.7,562.4 L327.0,561.1 L331.2,559.7 L335.3,558.2 L339.3,556.7 L343.2,555.0 L347.0,553.3 L350.7,551.6 L354.2,549.8 L357.7,547.9 L361.0,545.9 L364.3,543.9 L367.4,541.8 L370.3,539.7 L373.1,537.5Z" fill="#fc8d62" stroke="#000" stroke-width="2.6" stroke-linejoin="miter" stroke-miterlimit="6"/>
<path d="M261.9,531.6 L257.5,531.8 L253.1,531.8 L248.6,531.8 L244.2,531.7 L239.8,531.5 L235.3,531.2 L230.9,530.9 L230.9,571.2 L235.3,571.5 L239.8,571.8 L244.2,572.0 L248.6,572.1 L253.1,572.1 L257.5,572.1 L261.9,571.9Z" fill="#8da0cb" stroke="#000" stroke-width="2.6" stroke-linejoin="miter" stroke-miterlimit="6"/>
<path d="M230.9,530.9 L226.0,530.4 L221.0,529.9 L216.1,529.3 L211.3,528.5 L206.5,527.7 L201.7,526.8 L197.0,525.8 L192.4,524.7 L187.9,523.5 L183.4,522.2 L179.0,520.9 L174.7,519.5 L170.5,518.0 L166.4,516.4 L162.4,514.7 L158.5,513.0 L154.7,511.2 L151.1,509.3 L147.5,507.4 L144.1,505.4 L140.8,503.3 L137.7,501.2 L134.7,499.0 L131.8,496.7 L129.1,494.4 L126.5,492.1 L124.1,489.7 L121.8,487.2 L119.7,484.8 L117.7,482.2 L115.9,479.7 L114.3,477.1 L112.8,474.5 L111.6,471.8 L110.4,469.2 L109.5,466.5 L108.7,463.8 L108.1,461.1 L107.6,458.4 L107.4,455.6 L107.3,452.9 L107.3,493.2 L107.4,495.9 L107.6,498.7 L108.1,501.4 L108.7,504.1 L109.5,506.8 L110.4,509.5 L111.6,512.1 L112.8,514.8 L114.3,517.4 L115.9,520.0 L117.7,522.5 L119.7,525.1 L121.8,527.5 L124.1,530.0 L126.5,532.4 L129.1,534.7 L131.8,537.0 L134.7,539.3 L137.7,541.5 L140.8,543.6 L144.1,545.7 L147.5,547.7 L151.1,549.6 L154.7,551.5 L158.5,553.3 L162.4,555.0 L166.4,556.7 L170.5,558.3 L174.7,559.8 L179.0,561.2 L183.4,562.5 L187.9,563.8 L192.4,565.0 L197.0,566.1 L201.7,567.1 L206.5,568.0 L211.3,568.8 L216.1,569.6 L221.0,570.2 L226.0,570.7 L230.9,571.2Z" fill="#66c2a5" stroke="#000" stroke-width="2.6" stroke-linejoin="miter" stroke-miterlimit="6"/>
<path d="M398.3,452.9 L398.2,455.5 L398.0,458.1 L397.6,460.7 L397.0,463.3 L396.3,465.9 L395.4,468.5 L394.4,471.1 L393.2,473.6 L391.9,476.1 L390.4,478.6 L388.7,481.0 L386.9,483.5 L385.0,485.9 L382.9,488.2 L380.7,490.5 L378.3,492.8 L375.8,495.1 L373.1,497.2 L373.1,537.5 L375.8,535.4 L378.3,533.1 L380.7,530.8 L382.9,528.5 L385.0,526.2 L386.9,523.8 L388.7,521.3 L390.4,518.9 L391.9,516.4 L393.2,513.9 L394.4,511.4 L395.4,508.8 L396.3,506.2 L397.0,503.6 L397.6,501.0 L398.0,498.4 L398.2,495.8 L398.3,493.2Z" fill="#66c2a5" stroke="#000" stroke-width="2.6" stroke-linejoin="miter" stroke-miterlimit="6"/>
<path d="M252.8,452.9 L373.1,497.2 L370.3,499.4 L367.4,501.5 L364.3,503.6 L361.0,505.6 L357.7,507.6 L354.2,509.5 L350.7,511.3 L347.0,513.0 L343.2,514.7 L339.3,516.4 L335.3,517.9 L331.2,519.4 L327.0,520.8 L322.7,522.1 L318.4,523.3 L314.0,524.5 L309.5,525.6 L304.9,526.6 L300.3,527.5 L295.7,528.3 L290.9,529.0 L286.2,529.7 L281.4,530.3 L276.6,530.7 L271.7,531.1 L266.8,531.4 L261.9,531.6Z" fill="#fc8d62" stroke="#000" stroke-width="2.6" stroke-linejoin="miter" stroke-miterlimit="8"/>
<path d="M252.8,452.9 L261.9,531.6 L257.5,531.8 L253.1,531.8 L248.6,531.8 L244.2,531.7 L239.8,531.5 L235.3,531.2 L230.9,530.9Z" fill="#8da0cb" stroke="#000" stroke-width="2.6" stroke-linejoin="miter" stroke-miterlimit="8"/>
<path d="M252.8,452.9 L230.9,530.9 L225.9,530.4 L221.0,529.9 L216.0,529.2 L211.2,528.5 L206.3,527.7 L201.6,526.7 L196.8,525.7 L192.2,524.6 L187.6,523.4 L183.1,522.2 L178.7,520.8 L174.4,519.4 L170.2,517.8 L166.1,516.2 L162.0,514.6 L158.1,512.8 L154.3,511.0 L150.7,509.1 L147.1,507.1 L143.7,505.1 L140.4,503.0 L137.3,500.8 L134.2,498.6 L131.4,496.4 L128.7,494.0 L126.1,491.7 L123.7,489.3 L121.4,486.8 L119.3,484.3 L117.4,481.8 L115.6,479.2 L114.0,476.6 L112.6,473.9 L111.3,471.3 L110.2,468.6 L109.3,465.9 L108.5,463.2 L108.0,460.4 L107.6,457.7 L107.3,454.9 L107.3,452.2 L107.4,449.4 L107.8,446.7 L108.2,444.0 L108.9,441.2 L109.7,438.5 L110.7,435.8 L111.9,433.1 L113.3,430.5 L114.8,427.9 L116.5,425.3 L118.4,422.7 L120.4,420.2 L122.6,417.7 L124.9,415.3 L127.4,412.9 L130.0,410.5 L132.8,408.2 L135.8,406.0 L138.9,403.8 L142.1,401.7 L145.5,399.6 L148.9,397.6 L152.6,395.7 L156.3,393.9 L160.1,392.1 L164.1,390.4 L168.2,388.7 L172.4,387.2 L176.6,385.7 L181.0,384.3 L185.4,383.0 L190.0,381.7 L194.6,380.6 L199.3,379.5 L204.0,378.6 L208.8,377.7 L213.7,376.9 L218.6,376.2 L223.5,375.6 L228.5,375.1 L233.5,374.7 L238.6,374.4 L243.6,374.2 L248.7,374.0 L253.8,374.0 L258.8,374.1 L263.9,374.2 L269.0,374.5 L274.0,374.8 L279.0,375.3 L284.0,375.8 L288.9,376.5 L293.8,377.2 L298.6,378.0 L303.4,378.9 L308.1,379.9 L312.8,381.0 L317.4,382.2 L321.9,383.5 L326.3,384.8 L330.6,386.2 L334.9,387.7 L339.0,389.3 L343.0,391.0 L347.0,392.7 L350.8,394.6 L354.5,396.5 L358.0,398.4 L361.5,400.4 L364.8,402.5 L367.9,404.7 L371.0,406.9 L373.9,409.1 L376.6,411.4 L379.2,413.8 L381.6,416.2 L383.9,418.7 L386.0,421.2 L388.0,423.7 L389.8,426.3 L391.4,428.9 L392.9,431.5 L394.1,434.2 L395.3,436.9 L396.2,439.6 L397.0,442.3 L397.6,445.0 L398.0,447.7 L398.2,450.5 L398.3,453.2 L398.2,456.0 L397.9,458.7 L397.4,461.5 L396.8,464.2 L396.0,466.9 L395.0,469.6 L393.8,472.3 L392.5,474.9 L391.0,477.6 L389.3,480.2 L387.5,482.7 L385.5,485.3 L383.3,487.7 L381.0,490.2 L378.5,492.6 L375.9,494.9 L373.1,497.2Z" fill="#66c2a5" stroke="#000" stroke-width="2.6" stroke-linejoin="miter" stroke-miterlimit="8"/>
<text x="243.0" y="419.1" font-size="28.5" fill="#fff" text-anchor="middle" >82.1%</text>
<text x="314.6" y="500.4" font-size="28.5" fill="#fff" text-anchor="middle" >14.5%</text>
<text x="241.9" y="518.3" font-size="28.5" fill="#fff" text-anchor="middle" >3.4%</text>
<text x="246.3" y="607.7" font-size="28.5" fill="#000" text-anchor="middle" >1st</text>
<text x="96.5" y="389.6" font-size="28.5" fill="#000" text-anchor="start" >d</text>
<path d="M765.8,496.1 L763.4,498.1 L760.7,500.1 L758.0,502.0 L755.2,503.8 L752.3,505.7 L749.2,507.4 L746.1,509.2 L742.9,510.8 L742.9,551.1 L746.1,549.5 L749.2,547.7 L752.3,546.0 L755.2,544.1 L758.0,542.3 L760.7,540.4 L763.4,538.4 L765.8,536.4Z" fill="#fc8d62" stroke="#000" stroke-width="2.6" stroke-linejoin="miter" stroke-miterlimit="6"/>
<path d="M742.9,510.8 L742.5,511.0 L742.2,511.2 L742.2,551.5 L742.5,551.3 L742.9,551.1Z" fill="#8da0cb" stroke="#000" stroke-width="2.6" stroke-linejoin="miter" stroke-miterlimit="6"/>
<path d="M742.2,511.2 L738.4,513.0 L734.6,514.7 L730.6,516.3 L726.5,517.9 L722.3,519.4 L718.0,520.9 L713.7,522.2 L709.2,523.5 L704.7,524.6 L700.1,525.7 L695.4,526.7 L690.7,527.6 L685.9,528.5 L681.1,529.2 L676.2,529.9 L671.3,530.4 L666.4,530.9 L661.4,531.2 L656.4,531.5 L651.4,531.7 L646.4,531.8 L641.4,531.8 L636.4,531.7 L631.4,531.5 L626.4,531.2 L621.4,530.8 L616.4,530.4 L611.5,529.8 L606.7,529.1 L601.8,528.4 L597.1,527.6 L592.3,526.6 L587.7,525.6 L583.1,524.5 L578.6,523.3 L574.1,522.1 L569.8,520.7 L565.5,519.3 L561.3,517.8 L557.3,516.2 L553.3,514.5 L549.4,512.8 L545.7,511.0 L542.0,509.1 L538.5,507.2 L535.1,505.2 L531.9,503.1 L528.7,501.0 L525.7,498.8 L522.9,496.6 L520.2,494.3 L517.6,491.9 L515.2,489.5 L513.0,487.1 L510.9,484.6 L508.9,482.1 L507.2,479.6 L505.6,477.0 L504.1,474.4 L502.8,471.8 L501.7,469.1 L500.8,466.4 L500.0,463.8 L499.4,461.0 L498.9,458.3 L498.7,455.6 L498.6,452.9 L498.6,493.2 L498.7,495.9 L498.9,498.6 L499.4,501.3 L500.0,504.1 L500.8,506.7 L501.7,509.4 L502.8,512.1 L504.1,514.7 L505.6,517.3 L507.2,519.9 L508.9,522.4 L510.9,524.9 L513.0,527.4 L515.2,529.8 L517.6,532.2 L520.2,534.6 L522.9,536.9 L525.7,539.1 L528.7,541.3 L531.9,543.4 L535.1,545.5 L538.5,547.5 L542.0,549.4 L545.7,551.3 L549.4,553.1 L553.3,554.8 L557.3,556.5 L561.3,558.1 L565.5,559.6 L569.8,561.0 L574.1,562.4 L578.6,563.6 L583.1,564.8 L587.7,565.9 L592.3,566.9 L597.1,567.9 L601.8,568.7 L606.7,569.4 L611.5,570.1 L616.4,570.7 L621.4,571.1 L626.4,571.5 L631.4,571.8 L636.4,572.0 L641.4,572.1 L646.4,572.1 L651.4,572.0 L656.4,571.8 L661.4,571.5 L666.4,571.2 L671.3,570.7 L676.2,570.2 L681.1,569.5 L685.9,568.8 L690.7,567.9 L695.4,567.0 L700.1,566.0 L704.7,564.9 L709.2,563.8 L713.7,562.5 L718.0,561.2 L722.3,559.7 L726.5,558.2 L730.6,556.6 L734.6,555.0 L738.4,553.3 L742.2,551.5Z" fill="#66c2a5" stroke="#000" stroke-width="2.6" stroke-linejoin="miter" stroke-miterlimit="6"/>
<path d="M789.6,452.9 L789.5,455.6 L789.3,458.3 L788.8,461.0 L788.2,463.6 L787.5,466.3 L786.6,468.9 L785.5,471.5 L784.2,474.1 L782.8,476.7 L781.2,479.3 L779.5,481.8 L777.6,484.3 L775.5,486.7 L773.3,489.1 L771.0,491.5 L768.5,493.8 L765.8,496.1 L765.8,536.4 L768.5,534.1 L771.0,531.8 L773.3,529.4 L775.5,527.0 L777.6,524.6 L779.5,522.1 L781.2,519.6 L782.8,517.0 L784.2,514.4 L785.5,511.8 L786.6,509.2 L787.5,506.6 L788.2,503.9 L788.8,501.3 L789.3,498.6 L789.5,495.9 L789.6,493.2Z" fill="#66c2a5" stroke="#000" stroke-width="2.6" stroke-linejoin="miter" stroke-miterlimit="6"/>
<path d="M644.1,452.9 L765.8,496.1 L763.4,498.1 L760.7,500.1 L758.0,502.0 L755.2,503.8 L752.3,505.7 L749.2,507.4 L746.1,509.2 L742.9,510.8Z" fill="#fc8d62" stroke="#000" stroke-width="2.6" stroke-linejoin="miter" stroke-miterlimit="8"/>
<path d="M644.1,452.9 L742.9,510.8 L742.5,511.0 L742.2,511.2Z" fill="#8da0cb" stroke="#000" stroke-width="2.6" stroke-linejoin="miter" stroke-miterlimit="8"/>
<path d="M644.1,452.9 L742.2,511.2 L738.4,513.0 L734.5,514.7 L730.5,516.4 L726.3,518.0 L722.1,519.5 L717.8,520.9 L713.3,522.3 L708.8,523.6 L704.3,524.7 L699.6,525.8 L694.9,526.8 L690.1,527.8 L685.3,528.6 L680.4,529.3 L675.4,529.9 L670.5,530.5 L665.5,530.9 L660.4,531.3 L655.4,531.6 L650.3,531.7 L645.2,531.8 L640.2,531.8 L635.1,531.6 L630.0,531.4 L625.0,531.1 L620.0,530.7 L615.0,530.2 L610.0,529.6 L605.1,528.9 L600.3,528.1 L595.5,527.3 L590.7,526.3 L586.0,525.2 L581.4,524.1 L576.9,522.9 L572.4,521.6 L568.0,520.2 L563.8,518.7 L559.6,517.1 L555.5,515.5 L551.5,513.8 L547.7,512.0 L543.9,510.1 L540.3,508.2 L536.8,506.2 L533.5,504.1 L530.2,502.0 L527.2,499.8 L524.2,497.6 L521.4,495.3 L518.8,493.0 L516.3,490.6 L513.9,488.1 L511.7,485.7 L509.7,483.1 L507.8,480.6 L506.1,478.0 L504.6,475.4 L503.3,472.7 L502.1,470.0 L501.1,467.3 L500.2,464.6 L499.5,461.9 L499.1,459.2 L498.7,456.4 L498.6,453.7 L498.6,450.9 L498.9,448.2 L499.3,445.4 L499.8,442.7 L500.6,440.0 L501.5,437.3 L502.6,434.6 L503.8,431.9 L505.3,429.3 L506.9,426.7 L508.7,424.1 L510.6,421.5 L512.7,419.0 L514.9,416.6 L517.4,414.2 L519.9,411.8 L522.6,409.5 L525.5,407.2 L528.5,405.0 L531.7,402.8 L535.0,400.7 L538.4,398.7 L541.9,396.7 L545.6,394.8 L549.4,393.0 L553.3,391.2 L557.3,389.6 L561.4,388.0 L565.7,386.4 L570.0,385.0 L574.4,383.6 L578.9,382.4 L583.5,381.2 L588.1,380.1 L592.8,379.1 L597.6,378.1 L602.4,377.3 L607.3,376.6 L612.3,375.9 L617.2,375.4 L622.2,374.9 L627.3,374.5 L632.3,374.3 L637.4,374.1 L642.4,374.0 L647.5,374.0 L652.6,374.1 L657.6,374.3 L662.7,374.6 L667.7,375.0 L672.7,375.5 L677.6,376.1 L682.6,376.8 L687.4,377.6 L692.2,378.4 L697.0,379.4 L701.7,380.4 L706.3,381.6 L710.9,382.8 L715.3,384.1 L719.7,385.5 L724.0,387.0 L728.2,388.5 L732.3,390.1 L736.3,391.8 L740.1,393.6 L743.9,395.5 L747.5,397.4 L751.0,399.4 L754.4,401.4 L757.6,403.6 L760.7,405.7 L763.7,408.0 L766.5,410.2 L769.2,412.6 L771.7,415.0 L774.1,417.4 L776.3,419.9 L778.3,422.4 L780.2,425.0 L781.9,427.6 L783.4,430.2 L784.8,432.8 L786.0,435.5 L787.0,438.2 L787.9,440.9 L788.6,443.6 L789.1,446.4 L789.4,449.1 L789.6,451.9 L789.6,454.6 L789.4,457.4 L789.0,460.1 L788.4,462.8 L787.7,465.6 L786.8,468.3 L785.7,470.9 L784.5,473.6 L783.1,476.3 L781.5,478.9 L779.7,481.4 L777.8,484.0 L775.7,486.5 L773.5,489.0 L771.1,491.4 L768.6,493.8 L765.8,496.1Z" fill="#66c2a5" stroke="#000" stroke-width="2.6" stroke-linejoin="miter" stroke-miterlimit="8"/>
<text x="633.0" y="420.7" font-size="28.5" fill="#fff" text-anchor="middle" >96%</text>
<text x="731.5" y="484.6" font-size="28.5" fill="#fff" text-anchor="middle" >3.9%</text>
<text x="704.9" y="513.0" font-size="28.5" fill="#fff" text-anchor="middle" >0.1%</text>
<text x="646.8" y="607.7" font-size="28.5" fill="#000" text-anchor="middle" >2nd</text>
<path d="M1167.7,496.1 L1165.0,498.3 L1162.0,500.5 L1159.0,502.6 L1155.8,504.7 L1152.5,506.7 L1149.0,508.6 L1145.5,510.5 L1141.8,512.3 L1138.0,514.0 L1134.1,515.7 L1130.1,517.3 L1126.1,518.8 L1121.9,520.2 L1117.6,521.6 L1113.2,522.9 L1108.8,524.1 L1104.3,525.2 L1099.7,526.2 L1095.1,527.2 L1090.4,528.0 L1085.7,528.8 L1080.9,529.5 L1076.0,530.1 L1071.2,530.6 L1066.3,531.0 L1061.4,531.4 L1056.4,531.6 L1051.5,531.7 L1046.5,531.8 L1041.6,531.8 L1036.6,531.6 L1031.7,531.4 L1026.8,531.1 L1021.9,530.7 L1017.0,530.2 L1012.1,529.6 L1007.3,529.0 L1002.6,528.2 L1002.6,568.5 L1007.3,569.3 L1012.1,569.9 L1017.0,570.5 L1021.9,571.0 L1026.8,571.4 L1031.7,571.7 L1036.6,571.9 L1041.6,572.1 L1046.5,572.1 L1051.5,572.0 L1056.4,571.9 L1061.4,571.7 L1066.3,571.3 L1071.2,570.9 L1076.0,570.4 L1080.9,569.8 L1085.7,569.1 L1090.4,568.3 L1095.1,567.5 L1099.7,566.5 L1104.3,565.5 L1108.8,564.4 L1113.2,563.2 L1117.6,561.9 L1121.9,560.5 L1126.1,559.1 L1130.1,557.6 L1134.1,556.0 L1138.0,554.3 L1141.8,552.6 L1145.5,550.8 L1149.0,548.9 L1152.5,547.0 L1155.8,545.0 L1159.0,542.9 L1162.0,540.8 L1165.0,538.6 L1167.7,536.4Z" fill="#fc8d62" stroke="#000" stroke-width="2.6" stroke-linejoin="miter" stroke-miterlimit="6"/>
<path d="M1002.6,528.2 L1000.4,527.8 L998.2,527.4 L998.2,567.7 L1000.4,568.1 L1002.6,568.5Z" fill="#8da0cb" stroke="#000" stroke-width="2.6" stroke-linejoin="miter" stroke-miterlimit="6"/>
<path d="M998.2,527.4 L993.6,526.5 L988.9,525.5 L984.4,524.4 L979.9,523.2 L975.5,521.9 L971.1,520.6 L966.9,519.1 L962.7,517.6 L958.7,516.0 L954.8,514.4 L950.9,512.6 L947.2,510.8 L943.6,508.9 L940.1,507.0 L936.7,505.0 L933.5,502.9 L930.4,500.8 L927.4,498.6 L924.6,496.4 L921.9,494.1 L919.4,491.8 L917.0,489.4 L914.8,487.0 L912.7,484.5 L910.8,482.0 L909.0,479.5 L907.4,476.9 L906.0,474.3 L904.7,471.7 L903.6,469.0 L902.6,466.4 L901.9,463.7 L901.3,461.0 L900.8,458.3 L900.6,455.6 L900.5,452.9 L900.5,493.2 L900.6,495.9 L900.8,498.6 L901.3,501.3 L901.9,504.0 L902.6,506.7 L903.6,509.3 L904.7,512.0 L906.0,514.6 L907.4,517.2 L909.0,519.8 L910.8,522.3 L912.7,524.8 L914.8,527.3 L917.0,529.7 L919.4,532.1 L921.9,534.4 L924.6,536.7 L927.4,538.9 L930.4,541.1 L933.5,543.2 L936.7,545.3 L940.1,547.3 L943.6,549.2 L947.2,551.1 L950.9,552.9 L954.8,554.7 L958.7,556.3 L962.7,557.9 L966.9,559.4 L971.1,560.9 L975.5,562.2 L979.9,563.5 L984.4,564.7 L988.9,565.8 L993.6,566.8 L998.2,567.7Z" fill="#66c2a5" stroke="#000" stroke-width="2.6" stroke-linejoin="miter" stroke-miterlimit="6"/>
<path d="M1191.5,452.9 L1191.4,455.6 L1191.2,458.3 L1190.7,461.0 L1190.1,463.6 L1189.4,466.3 L1188.5,468.9 L1187.4,471.5 L1186.1,474.1 L1184.7,476.7 L1183.1,479.3 L1181.4,481.8 L1179.5,484.3 L1177.4,486.7 L1175.2,489.1 L1172.9,491.5 L1170.4,493.8 L1167.7,496.1 L1167.7,536.4 L1170.4,534.1 L1172.9,531.8 L1175.2,529.4 L1177.4,527.0 L1179.5,524.6 L1181.4,522.1 L1183.1,519.6 L1184.7,517.0 L1186.1,514.4 L1187.4,511.8 L1188.5,509.2 L1189.4,506.6 L1190.1,503.9 L1190.7,501.3 L1191.2,498.6 L1191.4,495.9 L1191.5,493.2Z" fill="#66c2a5" stroke="#000" stroke-width="2.6" stroke-linejoin="miter" stroke-miterlimit="6"/>
<path d="M1046.0,452.9 L1167.7,496.1 L1165.0,498.3 L1162.0,500.5 L1159.0,502.6 L1155.8,504.7 L1152.5,506.7 L1149.0,508.6 L1145.5,510.5 L1141.8,512.3 L1138.0,514.0 L1134.1,515.7 L1130.1,517.3 L1126.1,518.8 L1121.9,520.2 L1117.6,521.6 L1113.2,522.9 L1108.8,524.1 L1104.3,525.2 L1099.7,526.2 L1095.1,527.2 L1090.4,528.0 L1085.7,528.8 L1080.9,529.5 L1076.0,530.1 L1071.2,530.6 L1066.3,531.0 L1061.4,531.4 L1056.4,531.6 L1051.5,531.7 L1046.5,531.8 L1041.6,531.8 L1036.6,531.6 L1031.7,531.4 L1026.8,531.1 L1021.9,530.7 L1017.0,530.2 L1012.1,529.6 L1007.3,529.0 L1002.6,528.2Z" fill="#fc8d62" stroke="#000" stroke-width="2.6" stroke-linejoin="miter" stroke-miterlimit="8"/>
<path d="M1046.0,452.9 L1002.6,528.2 L1000.4,527.8 L998.2,527.4Z" fill="#8da0cb" stroke="#000" stroke-width="2.6" stroke-linejoin="miter" stroke-miterlimit="8"/>
<path d="M1046.0,452.9 L998.2,527.4 L993.5,526.5 L988.8,525.5 L984.2,524.3 L979.7,523.1 L975.3,521.8 L970.9,520.5 L966.6,519.0 L962.4,517.5 L958.4,515.9 L954.4,514.2 L950.5,512.4 L946.8,510.6 L943.1,508.7 L939.6,506.7 L936.3,504.7 L933.0,502.6 L929.9,500.5 L926.9,498.3 L924.1,496.0 L921.4,493.7 L918.9,491.3 L916.5,488.9 L914.3,486.4 L912.2,483.9 L910.3,481.4 L908.6,478.8 L907.0,476.2 L905.6,473.6 L904.4,471.0 L903.3,468.3 L902.4,465.6 L901.7,462.9 L901.1,460.2 L900.7,457.5 L900.5,454.7 L900.5,452.0 L900.7,449.2 L901.0,446.5 L901.5,443.8 L902.1,441.1 L903.0,438.4 L904.0,435.7 L905.2,433.1 L906.5,430.4 L908.1,427.8 L909.7,425.2 L911.6,422.7 L913.6,420.2 L915.8,417.7 L918.1,415.3 L920.6,412.9 L923.2,410.6 L926.0,408.3 L928.9,406.1 L932.0,403.9 L935.2,401.8 L938.5,399.7 L942.0,397.7 L945.6,395.8 L949.3,394.0 L953.1,392.2 L957.0,390.5 L961.1,388.8 L965.2,387.3 L969.5,385.8 L973.8,384.4 L978.2,383.1 L982.7,381.8 L987.3,380.7 L992.0,379.6 L996.7,378.7 L1001.5,377.8 L1006.3,377.0 L1011.2,376.3 L1016.1,375.7 L1021.0,375.2 L1026.0,374.7 L1031.0,374.4 L1036.0,374.2 L1041.1,374.0 L1046.1,374.0 L1051.2,374.0 L1056.2,374.2 L1061.2,374.4 L1066.2,374.8 L1071.2,375.2 L1076.2,375.7 L1081.1,376.3 L1086.0,377.0 L1090.8,377.8 L1095.6,378.7 L1100.3,379.7 L1104.9,380.8 L1109.5,381.9 L1114.0,383.1 L1118.4,384.5 L1122.7,385.9 L1127.0,387.3 L1131.1,388.9 L1135.2,390.5 L1139.1,392.3 L1142.9,394.0 L1146.6,395.9 L1150.2,397.8 L1153.7,399.8 L1157.0,401.9 L1160.2,404.0 L1163.2,406.2 L1166.1,408.4 L1168.9,410.7 L1171.5,413.0 L1174.0,415.4 L1176.3,417.8 L1178.5,420.3 L1180.5,422.8 L1182.3,425.4 L1184.0,427.9 L1185.5,430.5 L1186.9,433.2 L1188.1,435.8 L1189.1,438.5 L1189.9,441.2 L1190.6,443.9 L1191.0,446.7 L1191.4,449.4 L1191.5,452.1 L1191.5,454.9 L1191.2,457.6 L1190.9,460.3 L1190.3,463.0 L1189.6,465.7 L1188.7,468.4 L1187.6,471.1 L1186.3,473.8 L1184.9,476.4 L1183.3,479.0 L1181.6,481.5 L1179.7,484.1 L1177.6,486.6 L1175.4,489.0 L1173.0,491.4 L1170.4,493.8 L1167.7,496.1Z" fill="#66c2a5" stroke="#000" stroke-width="2.6" stroke-linejoin="miter" stroke-miterlimit="8"/>
<text x="1043.2" y="428.3" font-size="28.5" fill="#fff" text-anchor="middle" >78.9%</text>
<text x="1006.0" y="508.9" font-size="28.5" fill="#fff" text-anchor="middle" >0.5%</text>
<text x="1091.4" y="516.7" font-size="28.5" fill="#fff" text-anchor="middle" >20.6%</text>
<text x="1046.7" y="607.7" font-size="28.5" fill="#000" text-anchor="middle" >3rd</text>
<path d="M1572.7,496.1 L1569.9,498.4 L1566.9,500.6 L1563.8,502.7 L1560.5,504.8 L1557.2,506.9 L1553.6,508.8 L1550.0,510.7 L1546.2,512.6 L1542.3,514.3 L1538.4,516.0 L1534.3,517.6 L1530.1,519.1 L1525.8,520.6 L1521.4,521.9 L1516.9,523.2 L1512.4,524.4 L1507.8,525.5 L1503.1,526.6 L1498.3,527.5 L1493.5,528.4 L1488.7,529.1 L1483.8,529.8 L1478.8,530.3 L1473.9,530.8 L1468.8,531.2 L1463.8,531.5 L1458.8,531.7 L1453.7,531.8 L1448.7,531.8 L1443.6,531.7 L1438.6,531.5 L1433.6,531.2 L1428.5,530.9 L1423.6,530.4 L1418.6,529.8 L1413.7,529.2 L1408.9,528.4 L1404.0,527.6 L1399.3,526.6 L1394.6,525.6 L1390.0,524.5 L1385.4,523.3 L1381.0,522.1 L1376.6,520.7 L1372.3,519.3 L1368.1,517.7 L1364.0,516.1 L1360.0,514.5 L1356.1,512.7 L1352.3,510.9 L1348.7,509.0 L1345.1,507.0 L1341.7,505.0 L1341.7,545.3 L1345.1,547.3 L1348.7,549.3 L1352.3,551.2 L1356.1,553.0 L1360.0,554.8 L1364.0,556.4 L1368.1,558.0 L1372.3,559.6 L1376.6,561.0 L1381.0,562.4 L1385.4,563.6 L1390.0,564.8 L1394.6,565.9 L1399.3,566.9 L1404.0,567.9 L1408.9,568.7 L1413.7,569.5 L1418.6,570.1 L1423.6,570.7 L1428.5,571.2 L1433.6,571.5 L1438.6,571.8 L1443.6,572.0 L1448.7,572.1 L1453.7,572.1 L1458.8,572.0 L1463.8,571.8 L1468.8,571.5 L1473.9,571.1 L1478.8,570.6 L1483.8,570.1 L1488.7,569.4 L1493.5,568.7 L1498.3,567.8 L1503.1,566.9 L1507.8,565.8 L1512.4,564.7 L1516.9,563.5 L1521.4,562.2 L1525.8,560.9 L1530.1,559.4 L1534.3,557.9 L1538.4,556.3 L1542.3,554.6 L1546.2,552.9 L1550.0,551.0 L1553.6,549.1 L1557.2,547.2 L1560.5,545.1 L1563.8,543.0 L1566.9,540.9 L1569.9,538.7 L1572.7,536.4Z" fill="#fc8d62" stroke="#000" stroke-width="2.6" stroke-linejoin="miter" stroke-miterlimit="6"/>
<path d="M1341.7,505.0 L1338.5,502.9 L1335.4,500.8 L1332.4,498.6 L1329.6,496.4 L1326.9,494.1 L1324.4,491.8 L1322.0,489.4 L1319.8,487.0 L1317.7,484.5 L1315.8,482.0 L1314.0,479.5 L1312.4,476.9 L1311.0,474.3 L1309.7,471.7 L1308.6,469.0 L1307.6,466.4 L1306.9,463.7 L1306.3,461.0 L1305.8,458.3 L1305.6,455.6 L1305.5,452.9 L1305.5,493.2 L1305.6,495.9 L1305.8,498.6 L1306.3,501.3 L1306.9,504.0 L1307.6,506.7 L1308.6,509.3 L1309.7,512.0 L1311.0,514.6 L1312.4,517.2 L1314.0,519.8 L1315.8,522.3 L1317.7,524.8 L1319.8,527.3 L1322.0,529.7 L1324.4,532.1 L1326.9,534.4 L1329.6,536.7 L1332.4,538.9 L1335.4,541.1 L1338.5,543.2 L1341.7,545.3Z" fill="#8da0cb" stroke="#000" stroke-width="2.6" stroke-linejoin="miter" stroke-miterlimit="6"/>
<path d="M1596.5,452.9 L1596.4,455.6 L1596.2,458.3 L1595.7,461.0 L1595.1,463.6 L1594.4,466.3 L1593.5,468.9 L1592.4,471.5 L1591.1,474.1 L1589.7,476.7 L1588.1,479.3 L1586.4,481.8 L1584.5,484.3 L1582.4,486.7 L1580.2,489.1 L1577.9,491.5 L1575.4,493.8 L1572.7,496.1 L1572.7,536.4 L1575.4,534.1 L1577.9,531.8 L1580.2,529.4 L1582.4,527.0 L1584.5,524.6 L1586.4,522.1 L1588.1,519.6 L1589.7,517.0 L1591.1,514.4 L1592.4,511.8 L1593.5,509.2 L1594.4,506.6 L1595.1,503.9 L1595.7,501.3 L1596.2,498.6 L1596.4,495.9 L1596.5,493.2Z" fill="#66c2a5" stroke="#000" stroke-width="2.6" stroke-linejoin="miter" stroke-miterlimit="6"/>
<path d="M1451.0,452.9 L1572.7,496.1 L1569.9,498.4 L1566.9,500.6 L1563.8,502.7 L1560.5,504.8 L1557.2,506.9 L1553.6,508.8 L1550.0,510.7 L1546.2,512.6 L1542.3,514.3 L1538.4,516.0 L1534.3,517.6 L1530.1,519.1 L1525.8,520.6 L1521.4,521.9 L1516.9,523.2 L1512.4,524.4 L1507.8,525.5 L1503.1,526.6 L1498.3,527.5 L1493.5,528.4 L1488.7,529.1 L1483.8,529.8 L1478.8,530.3 L1473.9,530.8 L1468.8,531.2 L1463.8,531.5 L1458.8,531.7 L1453.7,531.8 L1448.7,531.8 L1443.6,531.7 L1438.6,531.5 L1433.6,531.2 L1428.5,530.9 L1423.6,530.4 L1418.6,529.8 L1413.7,529.2 L1408.9,528.4 L1404.0,527.6 L1399.3,526.6 L1394.6,525.6 L1390.0,524.5 L1385.4,523.3 L1381.0,522.1 L1376.6,520.7 L1372.3,519.3 L1368.1,517.7 L1364.0,516.1 L1360.0,514.5 L1356.1,512.7 L1352.3,510.9 L1348.7,509.0 L1345.1,507.0 L1341.7,505.0Z" fill="#fc8d62" stroke="#000" stroke-width="2.6" stroke-linejoin="miter" stroke-miterlimit="8"/>
<path d="M1451.0,452.9 L1341.7,505.0 L1338.5,502.9 L1335.3,500.8 L1332.3,498.6 L1329.5,496.3 L1326.8,494.0 L1324.2,491.6 L1321.8,489.2 L1319.6,486.8 L1317.5,484.3 L1315.6,481.8 L1313.8,479.2 L1312.2,476.6 L1310.8,474.0 L1309.5,471.3 L1308.4,468.7 L1307.5,466.0 L1306.8,463.3 L1306.2,460.6 L1305.8,457.8 L1305.6,455.1 L1305.5,452.4 L1305.6,449.6 L1305.9,446.9 L1306.4,444.2 L1307.0,441.5 L1307.9,438.8 L1308.8,436.1 L1310.0,433.4 L1311.3,430.8Z" fill="#8da0cb" stroke="#000" stroke-width="2.6" stroke-linejoin="miter" stroke-miterlimit="8"/>
<path d="M1451.0,452.9 L1311.3,430.8 L1312.8,428.2 L1314.5,425.6 L1316.3,423.0 L1318.3,420.5 L1320.5,418.0 L1322.8,415.6 L1325.3,413.2 L1327.9,410.9 L1330.6,408.6 L1333.5,406.3 L1336.6,404.2 L1339.8,402.0 L1343.1,400.0 L1346.6,398.0 L1350.1,396.0 L1353.8,394.2 L1357.7,392.4 L1361.6,390.7 L1365.6,389.0 L1369.8,387.4 L1374.0,386.0 L1378.3,384.5 L1382.8,383.2 L1387.3,382.0 L1391.8,380.8 L1396.5,379.7 L1401.2,378.8 L1406.0,377.9 L1410.8,377.1 L1415.7,376.4 L1420.6,375.7 L1425.6,375.2 L1430.5,374.8 L1435.6,374.4 L1440.6,374.2 L1445.6,374.1 L1450.7,374.0 L1455.7,374.0 L1460.8,374.2 L1465.8,374.4 L1470.8,374.7 L1475.8,375.2 L1480.8,375.7 L1485.7,376.3 L1490.6,377.0 L1495.4,377.8 L1500.2,378.6 L1504.9,379.6 L1509.6,380.7 L1514.2,381.8 L1518.7,383.1 L1523.1,384.4 L1527.5,385.8 L1531.7,387.3 L1535.9,388.8 L1539.9,390.4 L1543.9,392.2 L1547.7,393.9 L1551.4,395.8 L1555.0,397.7 L1558.5,399.7 L1561.8,401.8 L1565.0,403.9 L1568.1,406.1 L1571.0,408.3 L1573.8,410.6 L1576.4,412.9 L1578.9,415.3 L1581.2,417.7 L1583.4,420.2 L1585.4,422.7 L1587.3,425.3 L1589.0,427.8 L1590.5,430.5 L1591.8,433.1 L1593.0,435.8 L1594.0,438.4 L1594.9,441.1 L1595.5,443.9 L1596.0,446.6 L1596.3,449.3 L1596.5,452.1 L1596.5,454.8 L1596.2,457.5 L1595.9,460.3 L1595.3,463.0 L1594.6,465.7 L1593.7,468.4 L1592.6,471.1 L1591.3,473.7 L1589.9,476.3 L1588.3,478.9 L1586.6,481.5 L1584.7,484.1 L1582.6,486.5 L1580.4,489.0 L1578.0,491.4 L1575.4,493.8 L1572.7,496.1Z" fill="#66c2a5" stroke="#000" stroke-width="2.6" stroke-linejoin="miter" stroke-miterlimit="8"/>
<text x="1466.5" y="419.1" font-size="28.5" fill="#fff" text-anchor="middle" >54.7%</text>
<text x="1355.7" y="477.0" font-size="28.5" fill="#fff" text-anchor="middle" >16%</text>
<text x="1466.5" y="503.5" font-size="28.5" fill="#fff" text-anchor="middle" >29.3%</text>
<text x="1451.3" y="607.7" font-size="28.5" fill="#000" text-anchor="middle" >4th</text>
<path d="M1960.0,496.1 L1957.2,498.3 L1954.3,500.5 L1951.2,502.7 L1948.0,504.7 L1944.7,506.7 L1941.2,508.7 L1937.6,510.6 L1933.9,512.4 L1930.1,514.1 L1926.2,515.8 L1922.2,517.4 L1922.2,557.7 L1926.2,556.1 L1930.1,554.4 L1933.9,552.7 L1937.6,550.9 L1941.2,549.0 L1944.7,547.0 L1948.0,545.0 L1951.2,543.0 L1954.3,540.8 L1957.2,538.6 L1960.0,536.4Z" fill="#fc8d62" stroke="#000" stroke-width="2.6" stroke-linejoin="miter" stroke-miterlimit="6"/>
<path d="M1922.2,517.4 L1918.0,518.9 L1913.7,520.4 L1909.4,521.7 L1904.9,523.0 L1900.4,524.3 L1895.8,525.4 L1891.1,526.4 L1886.4,527.4 L1881.6,528.2 L1876.8,529.0 L1871.9,529.7 L1866.9,530.3 L1862.0,530.7 L1857.0,531.1 L1852.0,531.5 L1846.9,531.7 L1841.9,531.8 L1836.8,531.8 L1831.8,531.7 L1826.8,531.6 L1821.7,531.3 L1816.7,530.9 L1811.8,530.5 L1806.8,529.9 L1801.9,529.3 L1797.0,528.6 L1792.2,527.7 L1787.5,526.8 L1782.8,525.8 L1778.1,524.7 L1773.6,523.6 L1769.1,522.3 L1764.7,521.0 L1760.4,519.5 L1756.2,518.0 L1752.1,516.5 L1748.1,514.8 L1744.2,513.1 L1740.4,511.3 L1736.7,509.4 L1733.1,507.4 L1729.7,505.4 L1726.4,503.3 L1723.3,501.2 L1720.2,499.0 L1717.4,496.8 L1714.6,494.5 L1712.1,492.1 L1709.6,489.7 L1707.3,487.3 L1705.2,484.8 L1703.3,482.3 L1701.5,479.7 L1699.8,477.1 L1698.4,474.5 L1697.1,471.9 L1695.9,469.2 L1695.0,466.5 L1694.2,463.8 L1693.6,461.1 L1693.1,458.4 L1692.9,455.6 L1692.8,452.9 L1692.8,493.2 L1692.9,495.9 L1693.1,498.7 L1693.6,501.4 L1694.2,504.1 L1695.0,506.8 L1695.9,509.5 L1697.1,512.2 L1698.4,514.8 L1699.8,517.4 L1701.5,520.0 L1703.3,522.6 L1705.2,525.1 L1707.3,527.6 L1709.6,530.0 L1712.1,532.4 L1714.6,534.8 L1717.4,537.1 L1720.2,539.3 L1723.3,541.5 L1726.4,543.6 L1729.7,545.7 L1733.1,547.7 L1736.7,549.7 L1740.4,551.6 L1744.2,553.4 L1748.1,555.1 L1752.1,556.8 L1756.2,558.3 L1760.4,559.8 L1764.7,561.3 L1769.1,562.6 L1773.6,563.9 L1778.1,565.0 L1782.8,566.1 L1787.5,567.1 L1792.2,568.0 L1797.0,568.9 L1801.9,569.6 L1806.8,570.2 L1811.8,570.8 L1816.7,571.2 L1821.7,571.6 L1826.8,571.9 L1831.8,572.0 L1836.8,572.1 L1841.9,572.1 L1846.9,572.0 L1852.0,571.8 L1857.0,571.4 L1862.0,571.0 L1866.9,570.6 L1871.9,570.0 L1876.8,569.3 L1881.6,568.5 L1886.4,567.7 L1891.1,566.7 L1895.8,565.7 L1900.4,564.6 L1904.9,563.3 L1909.4,562.0 L1913.7,560.7 L1918.0,559.2 L1922.2,557.7Z" fill="#8da0cb" stroke="#000" stroke-width="2.6" stroke-linejoin="miter" stroke-miterlimit="6"/>
<path d="M1983.8,452.9 L1983.7,455.6 L1983.5,458.3 L1983.0,461.0 L1982.4,463.6 L1981.7,466.3 L1980.8,468.9 L1979.7,471.5 L1978.4,474.1 L1977.0,476.7 L1975.4,479.3 L1973.7,481.8 L1971.8,484.3 L1969.7,486.7 L1967.5,489.1 L1965.2,491.5 L1962.7,493.8 L1960.0,496.1 L1960.0,536.4 L1962.7,534.1 L1965.2,531.8 L1967.5,529.4 L1969.7,527.0 L1971.8,524.6 L1973.7,522.1 L1975.4,519.6 L1977.0,517.0 L1978.4,514.4 L1979.7,511.8 L1980.8,509.2 L1981.7,506.6 L1982.4,503.9 L1983.0,501.3 L1983.5,498.6 L1983.7,495.9 L1983.8,493.2Z" fill="#66c2a5" stroke="#000" stroke-width="2.6" stroke-linejoin="miter" stroke-miterlimit="6"/>
<path d="M1838.3,452.9 L1960.0,496.1 L1957.2,498.3 L1954.3,500.5 L1951.2,502.7 L1948.0,504.7 L1944.7,506.7 L1941.2,508.7 L1937.6,510.6 L1933.9,512.4 L1930.1,514.1 L1926.2,515.8 L1922.2,517.4Z" fill="#fc8d62" stroke="#000" stroke-width="2.6" stroke-linejoin="miter" stroke-miterlimit="8"/>
<path d="M1838.3,452.9 L1922.2,517.4 L1918.0,518.9 L1913.8,520.4 L1909.4,521.7 L1905.0,523.0 L1900.5,524.2 L1895.9,525.3 L1891.3,526.4 L1886.6,527.3 L1881.8,528.2 L1877.0,529.0 L1872.1,529.6 L1867.2,530.2 L1862.3,530.7 L1857.3,531.1 L1852.3,531.4 L1847.3,531.6 L1842.3,531.8 L1837.3,531.8 L1832.3,531.7 L1827.3,531.6 L1822.3,531.3 L1817.3,531.0 L1812.3,530.5 L1807.4,530.0 L1802.5,529.4 L1797.7,528.7 L1792.9,527.9 L1788.1,527.0 L1783.4,526.0 L1778.8,524.9 L1774.3,523.8 L1769.8,522.5 L1765.4,521.2 L1761.1,519.8 L1756.9,518.3 L1752.8,516.7 L1748.8,515.1 L1744.9,513.4 L1741.1,511.6 L1737.4,509.8 L1733.8,507.8 L1730.4,505.8 L1727.1,503.8 L1723.9,501.7 L1720.9,499.5 L1718.0,497.3 L1715.3,495.0 L1712.6,492.7 L1710.2,490.3 L1707.9,487.9 L1705.7,485.4 L1703.7,482.9 L1701.9,480.4 L1700.2,477.8 L1698.7,475.2 L1697.4,472.6 L1696.2,470.0 L1695.2,467.3 L1694.4,464.6 L1693.7,461.9 L1693.3,459.2 L1692.9,456.5 L1692.8,453.7 L1692.8,451.0 L1693.0,448.3 L1693.4,445.6 L1694.0,442.9 L1694.7,440.2 L1695.6,437.5 L1696.7,434.8 L1697.9,432.2 L1699.3,429.6 L1700.9,427.0Z" fill="#8da0cb" stroke="#000" stroke-width="2.6" stroke-linejoin="miter" stroke-miterlimit="8"/>
<path d="M1838.3,452.9 L1700.9,427.0 L1702.6,424.4 L1704.5,421.9 L1706.5,419.4 L1708.8,417.0 L1711.1,414.6 L1713.6,412.2 L1716.3,409.9 L1719.1,407.6 L1722.1,405.4 L1725.2,403.3 L1728.4,401.2 L1731.7,399.2 L1735.2,397.2 L1738.8,395.3 L1742.6,393.5 L1746.4,391.7 L1750.4,390.0 L1754.4,388.4 L1758.6,386.9 L1762.8,385.4 L1767.2,384.1 L1771.6,382.8 L1776.1,381.6 L1780.7,380.4 L1785.4,379.4 L1790.1,378.5 L1794.8,377.6 L1799.7,376.8 L1804.5,376.2 L1809.4,375.6 L1814.4,375.1 L1819.4,374.7 L1824.4,374.4 L1829.4,374.1 L1834.4,374.0 L1839.4,374.0 L1844.4,374.1 L1849.5,374.2 L1854.5,374.5 L1859.5,374.8 L1864.4,375.3 L1869.3,375.8 L1874.2,376.4 L1879.1,377.2 L1883.9,378.0 L1888.6,378.9 L1893.3,379.9 L1897.9,380.9 L1902.5,382.1 L1907.0,383.3 L1911.4,384.7 L1915.7,386.1 L1919.9,387.6 L1924.0,389.1 L1928.0,390.8 L1931.9,392.5 L1935.7,394.3 L1939.4,396.1 L1942.9,398.1 L1946.4,400.1 L1949.7,402.1 L1952.8,404.2 L1955.9,406.4 L1958.8,408.6 L1961.5,410.9 L1964.1,413.3 L1966.6,415.6 L1968.9,418.1 L1971.0,420.5 L1973.0,423.0 L1974.8,425.6 L1976.5,428.2 L1978.0,430.8 L1979.3,433.4 L1980.4,436.0 L1981.4,438.7 L1982.2,441.4 L1982.9,444.1 L1983.4,446.8 L1983.7,449.5 L1983.8,452.3 L1983.7,455.0 L1983.5,457.7 L1983.1,460.4 L1982.6,463.1 L1981.8,465.8 L1980.9,468.5 L1979.8,471.2 L1978.6,473.8 L1977.2,476.4 L1975.6,479.0 L1973.8,481.6 L1971.9,484.1 L1969.9,486.6 L1967.6,489.0 L1965.3,491.4 L1962.7,493.8 L1960.0,496.1Z" fill="#66c2a5" stroke="#000" stroke-width="2.6" stroke-linejoin="miter" stroke-miterlimit="8"/>
<text x="1853.7" y="420.7" font-size="28.5" fill="#fff" text-anchor="middle" >53.9%</text>
<text x="1790.2" y="493.3" font-size="28.5" fill="#fff" text-anchor="middle" >40.1%</text>
<text x="1919.8" y="504.9" font-size="28.5" fill="#fff" text-anchor="middle" >6%</text>
<text x="1834.9" y="607.7" font-size="28.5" fill="#000" text-anchor="middle" >5th</text>
<clipPath id="ce"><rect x="76.8" y="668" width="621.4" height="1191"/></clipPath>
<g clip-path="url(#ce)"><g fill="none" stroke-width="3" stroke-linejoin="round" stroke-linecap="butt">
<path d="M77.0,696.1l6,-.6 6,-.1 6,.1 6,.2 6,0 6,-.4 6,-.7 6,-.7 6,-.3 6,.2 6,.7 6,.8 6,.6 6,.1 6,-.4 6,-.6 6,-.6 6,-.3 6,-.1 6,.1 6,0 6,0 6,-.2 6,-.4 6,-.3 6,-.2 6,-.2 6,-.2 6,-.2 6,-.3 6,-.1 6,-.1 6,0 6,0 6,-.1 6,-.4 6,-.7 6,-.6 4,-.4 4,-.3 4,-.1 4,-.1 4,.1 4,.1 4,0 4,-.1 4,-.2 4,-.4 4,-.5 4,-.5 4,-.6 4,-.6 4,-.5 4,-.6 4,-.7 4,-.8 3,-.8 3,-.9 3,-1 3,-1.2 3,-1.2 3,-1.2 3,-1.1 2,-.6 2,-.5 2,-.5 2,-.3 2,-.1 2,-.1 2,.2 2,.2 2,.4 2,.5 2,.6 2,.7 2,.7 2,.7 2,.7 2,.7 2,.7 2,.6 2,.5 2,.5 2,.4 2,.4 2,.3 2,.2 2,.2 2,.2 2,.3 2,.2 2,.2 2,.3 2,.4 3,.5 3,.6 3,.6 3,.7 3,.5 3,.4 3,.3 3,.2 3,-.1 3,-.2 4,-.5 4,-.5 4,-.6 4,-.4 4,-.1 4,0 4,.2 4,.2 6,.4 6,.1 6,-.2 6,-.4 6,-.1 6,.2 6,.7 6,.8 6,.7 6,.2 6,-.2 6,-.5 6,-.6 6,-.4 6,0 6,.2 6,.4 6,.2 6,.1 6,-.1 6,-.3 6,-.3 6,-.4 6,-.4 6,-.5 6,-.5 6,-.3 6,-.2 6,.2 2,0" stroke="#e4e636"/>
<path d="M77.0,704.2l6,-.4 6,.2 6,.6 6,.5 6,.1 6,-.5 6,-1 6,-1.1 6,-.9 6,-.4 6,.1 6,.4 6,.5 6,.3 6,.3 6,.2 6,.4 6,.5 6,.5 6,.3 6,-.1 6,-.4 6,-.7 6,-.7 6,-.5 6,-.4 6,-.3 6,-.2 6,-.3 6,-.4 6,-.3 6,-.2 6,-.1 6,0 6,0 6,-.1 6,-.2 6,-.1 4,0 4,0 4,.1 4,.2 4,.1 4,0 4,-.1 4,-.3 4,-.4 4,-.6 4,-.6 4,-.6 4,-.5 4,-.6 4,-.5 4,-.6 4,-.7 4,-.9 3,-.9 3,-1 3,-1.2 3,-1.3 3,-1.4 3,-1.4 3,-1.4 2,-.9 2,-.8 2,-.7 2,-.7 2,-.5 2,-.5 2,-.3 2,-.2 2,0 2,.1 2,.3 2,.5 2,.7 2,.9 2,.9 2,1.1 2,1.1 2,1 2,1.1 2,.9 2,.8 2,.8 2,.7 2,.6 2,.6 2,.5 2,.6 2,.5 2,.5 2,.5 2,.6 3,.8 3,.8 3,.8 3,.6 3,.6 3,.3 3,.2 3,-.1 3,-.3 3,-.4 4,-.7 4,-.8 4,-.6 4,-.5 4,-.3 4,0 4,.1 4,.2 6,.4 6,.1 6,0 6,0 6,.3 6,.7 6,.8 6,.7 6,.3 6,-.2 6,-.6 6,-.6 6,-.4 6,.1 6,.5 6,.6 6,.5 6,.2 6,-.3 6,-.6 6,-.7 6,-.7 6,-.6 6,-.4 6,-.3 6,0 6,.1 6,.4 6,.4 2,.1" stroke="#e5e335"/>
<path d="M77.0,711.9l6,-.2 6,.5 6,.6 6,.3 6,-.4 6,-.8 6,-.9 6,-.6 6,.2 6,.7 6,.9 6,.6 6,.2 6,-.2 6,-.5 6,-.3 6,-.1 6,.1 6,.2 6,.1 6,0 6,-.2 6,-.1 6,-.1 6,0 6,-.1 6,-.3 6,-.4 6,-.5 6,-.2 6,.1 6,.3 6,.3 6,0 6,-.4 6,-.6 6,-.5 6,0 4,.4 4,.6 4,.7 4,.7 4,.4 4,.1 4,-.4 4,-.7 4,-1.1 4,-1.1 4,-1 4,-.8 4,-.3 4,0 4,.3 4,.2 4,.1 4,-.3 3,-.6 3,-.9 3,-1.2 3,-1.5 3,-1.7 3,-1.9 3,-1.9 2,-1.3 2,-1.3 2,-1.2 2,-1.2 2,-1.2 2,-1.1 2,-1.1 2,-.8 2,-.8 2,-.4 2,-.1 2,.2 2,.7 2,1.1 2,1.4 2,1.6 2,1.6 2,1.6 2,1.5 2,1.3 2,1.1 2,1 2,.8 2,.6 2,.6 2,.5 2,.5 2,.6 2,.5 2,.6 2,.7 3,1.1 3,1.1 3,1.2 3,1 3,.7 3,.5 3,.1 3,-.2 3,-.5 3,-.8 4,-1.2 4,-1.1 4,-.9 4,-.5 4,.1 4,.4 4,.8 4,.7 6,.9 6,.1 6,-.5 6,-.7 6,-.3 6,.4 6,.9 6,1 6,.6 6,0 6,-.6 6,-.9 6,-.5 6,-.2 6,.3 6,.4 6,.1 6,-.3 6,-.5 6,-.5 6,-.3 6,.1 6,.3 6,.3 6,0 6,-.3 6,-.5 6,-.3 6,-.1 2,.1" stroke="#e6e134"/>
<path d="M77.0,720.4l6,.2 6,.3 6,.3 6,-.1 6,-.4 6,-.5 6,-.2 6,.2 6,.6 6,.7 6,.4 6,0 6,-.6 6,-.8 6,-.8 6,-.5 6,-.1 6,.1 6,.2 6,.2 6,.1 6,.1 6,.3 6,.5 6,.6 6,.4 6,0 6,-.4 6,-.7 6,-.7 6,-.6 6,-.3 6,-.1 6,0 6,-.2 6,-.3 6,-.2 6,.1 4,.2 4,.4 4,.5 4,.5 4,.4 4,.2 4,-.1 4,-.3 4,-.5 4,-.7 4,-.7 4,-.6 4,-.6 4,-.5 4,-.5 4,-.5 4,-.8 4,-1 3,-1 3,-1.1 3,-1.3 3,-1.5 3,-1.7 3,-1.8 3,-2 2,-1.4 2,-1.5 2,-1.5 2,-1.6 2,-1.6 2,-1.7 2,-1.6 2,-1.6 2,-1.3 2,-1.1 2,-.6 2,0 2,.5 2,1.2 2,1.7 2,2.1 2,2.4 2,2.4 2,2.3 2,2.2 2,2.1 2,1.8 2,1.7 2,1.5 2,1.2 2,1.2 2,.9 2,.9 2,.8 2,.7 2,.6 3,.8 3,.6 3,.5 3,.4 3,.1 3,-.1 3,-.3 3,-.4 3,-.5 3,-.5 4,-.6 4,-.4 4,-.1 4,.3 4,.5 4,.8 4,.7 4,.7 6,.4 6,-.2 6,-.7 6,-.7 6,-.3 6,.2 6,.6 6,.8 6,.5 6,.1 6,-.3 6,-.4 6,-.4 6,0 6,.1 6,.2 6,.1 6,-.2 6,-.3 6,-.4 6,-.1 6,.1 6,.3 6,.4 6,.2 6,.1 6,-.3 6,-.6 6,-.6 2,-.2" stroke="#e7de33"/>
<path d="M77.0,730.0l6,-.2 6,-.1 6,0 6,-.3 6,-.5 6,-.7 6,-.5 6,-.2 6,.1 6,.5 6,.6 6,.4 6,.1 6,-.1 6,-.3 6,-.2 6,-.2 6,0 6,0 6,.1 6,.1 6,.1 6,.2 6,.1 6,.1 6,0 6,-.2 6,-.3 6,-.3 6,-.2 6,-.2 6,-.2 6,-.1 6,-.3 6,-.2 6,-.2 6,.2 6,.5 4,.4 4,.5 4,.4 4,.4 4,0 4,-.1 4,-.5 4,-.6 4,-.8 4,-.9 4,-.8 4,-.9 4,-.8 4,-.9 4,-.9 4,-1 4,-1.1 4,-1.3 3,-1 3,-1.1 3,-1.1 3,-1.2 3,-1.3 3,-1.4 3,-1.5 2,-1.2 2,-1.3 2,-1.5 2,-1.6 2,-1.8 2,-1.9 2,-2.1 2,-2 2,-2 2,-1.7 2,-1.3 2,-.7 2,.1 2,.8 2,1.5 2,2.1 2,2.5 2,2.6 2,2.7 2,2.7 2,2.5 2,2.3 2,2.2 2,1.9 2,1.7 2,1.4 2,1.3 2,1.2 2,1 2,.8 2,.7 3,.8 3,.6 3,.4 3,.2 3,0 3,-.1 3,-.2 3,-.3 3,-.2 3,-.1 4,-.1 4,.2 4,.4 4,.5 4,.5 4,.5 4,.2 4,.1 6,-.3 6,-.5 6,-.2 6,.4 6,.9 6,1.2 6,.9 6,.4 6,-.2 6,-.6 6,-.6 6,-.3 6,0 6,.2 6,0 6,-.4 6,-.8 6,-.9 6,-.7 6,-.2 6,.4 6,.8 6,.8 6,.5 6,.2 6,-.1 6,0 6,0 6,.1 2,.1" stroke="#e8db32"/>
<path d="M77.0,737.7l6,-.3 6,-.4 6,-.7 6,-.7 6,-.6 6,-.1 6,.3 6,.8 6,.9 6,.6 6,.2 6,-.1 6,-.1 6,0 6,.3 6,.6 6,.4 6,.1 6,-.6 6,-.9 6,-1 6,-.6 6,.1 6,.4 6,.6 6,.3 6,-.2 6,-.7 6,-.8 6,-.6 6,0 6,.5 6,.7 6,.6 6,.2 6,-.2 6,-.3 6,-.1 4,.1 4,.2 4,.3 4,.3 4,.2 4,.1 4,-.3 4,-.5 4,-.7 4,-.9 4,-1.1 4,-1 4,-1.1 4,-1.2 4,-1.1 4,-1.2 4,-1.3 4,-1.3 3,-1.1 3,-1.2 3,-1.2 3,-1.2 3,-1.4 3,-1.6 3,-1.8 2,-1.5 2,-1.6 2,-1.8 2,-2 2,-2.2 2,-2.4 2,-2.6 2,-2.6 2,-2.6 2,-2.3 2,-2 2,-1.2 2,-.4 2,.6 2,1.5 2,2.2 2,2.9 2,3.2 2,3.3 2,3.3 2,3.3 2,3 2,2.8 2,2.5 2,2.3 2,2 2,1.8 2,1.6 2,1.3 2,1.1 2,1 3,1.1 3,.8 3,.5 3,.2 3,0 3,-.2 3,-.3 3,-.3 3,-.3 3,-.2 4,0 4,.3 4,.5 4,.8 4,.7 4,.7 4,.4 4,0 6,-.4 6,-.7 6,-.5 6,.1 6,.9 6,1.4 6,1.2 6,.7 6,-.3 6,-.9 6,-1.2 6,-.9 6,-.3 6,.4 6,.8 6,.6 6,.2 6,-.3 6,-.7 6,-.7 6,-.3 6,.1 6,.5 6,.8 6,.5 6,.2 6,-.3 6,-.7 6,-.8 2,-.3" stroke="#e9d931"/>
<path d="M77.0,746.9l6,.6 6,0 6,-.8 6,-1.4 6,-1.6 6,-1.2 6,-.4 6,.5 6,1.2 6,1.3 6,1.1 6,.5 6,-.1 6,-.3 6,-.2 6,-.1 6,0 6,.1 6,-.2 6,-.3 6,-.5 6,-.4 6,-.1 6,0 6,.2 6,.3 6,.1 6,0 6,-.1 6,-.2 6,-.2 6,-.1 6,-.2 6,-.2 6,-.2 6,-.1 6,.1 6,.4 4,.4 4,.3 4,.3 4,.1 4,-.1 4,-.3 4,-.5 4,-.7 4,-.7 4,-.8 4,-.8 4,-.9 4,-.8 4,-1 4,-1 4,-1.2 4,-1.4 4,-1.5 3,-1.2 3,-1.2 3,-1.3 3,-1.3 3,-1.5 3,-1.8 3,-2 2,-1.7 2,-1.8 2,-2.2 2,-2.4 2,-2.7 2,-3 2,-3.3 2,-3.3 2,-3.4 2,-3.2 2,-2.7 2,-2.1 2,-1 2,0 2,1.2 2,2.3 2,3.1 2,3.6 2,4 2,4 2,4 2,3.8 2,3.6 2,3.3 2,3 2,2.7 2,2.3 2,2 2,1.8 2,1.5 2,1.2 3,1.4 3,.9 3,.6 3,.3 3,0 3,-.1 3,-.2 3,-.2 3,-.1 3,0 4,.2 4,.4 4,.6 4,.7 4,.6 4,.4 4,.1 4,-.1 6,-.5 6,-.6 6,-.2 6,.4 6,.9 6,1 6,.8 6,.4 6,-.2 6,-.4 6,-.4 6,-.2 6,0 6,.1 6,0 6,-.2 6,-.3 6,-.3 6,-.2 6,0 6,.2 6,.2 6,.1 6,0 6,-.2 6,0 6,.1 6,.2 6,.1 2,.1" stroke="#ead630"/>
<path d="M77.0,754.4l6,.1 6,-.6 6,-1.1 6,-1.3 6,-.9 6,0 6,.9 6,1.2 6,1.2 6,.7 6,0 6,-.4 6,-.4 6,0 6,.5 6,.7 6,.6 6,.1 6,-.5 6,-.8 6,-.9 6,-.7 6,-.3 6,0 6,0 6,-.1 6,-.1 6,-.1 6,0 6,.3 6,.3 6,.2 6,0 6,-.2 6,-.1 6,0 6,.5 6,.7 4,.5 4,.3 4,.1 4,-.3 4,-.6 4,-.8 4,-.9 4,-.9 4,-.8 4,-.7 4,-.5 4,-.5 4,-.6 4,-.9 4,-1.2 4,-1.7 4,-2 4,-2.3 3,-1.8 3,-1.8 3,-1.8 3,-1.6 3,-1.7 3,-1.7 3,-1.8 2,-1.5 2,-1.7 2,-1.9 2,-2.3 2,-2.6 2,-2.9 2,-3.3 2,-3.5 2,-3.6 2,-3.5 2,-3.2 2,-2.6 2,-1.6 2,-.5 2,.8 2,2.1 2,3 2,3.8 2,4.2 2,4.4 2,4.4 2,4.3 2,4 2,3.8 2,3.3 2,3.1 2,2.7 2,2.4 2,2 2,1.7 2,1.4 3,1.7 3,1.1 3,.7 3,.3 3,.1 3,0 3,-.2 3,0 3,0 3,.1 4,.5 4,.7 4,.8 4,.8 4,.7 4,.3 4,-.1 4,-.3 6,-.9 6,-.7 6,-.2 6,.6 6,1 6,1.1 6,.6 6,.1 6,-.2 6,0 6,.4 6,.8 6,.8 6,.6 6,-.2 6,-1 6,-1.4 6,-1.3 6,-.8 6,-.2 6,.3 6,.4 6,0 6,-.2 6,-.4 6,-.1 6,.4 6,.9 6,1.2 2,.4" stroke="#ebd42e"/>
<path d="M77.0,760.8l6,-.2 6,-.3 6,-.2 6,-.1 6,.2 6,.5 6,.8 6,.7 6,.3 6,-.1 6,-.4 6,-.4 6,-.2 6,.4 6,.8 6,.9 6,.5 6,-.1 6,-.7 6,-.9 6,-.9 6,-.5 6,.1 6,.5 6,.4 6,.1 6,-.4 6,-.7 6,-.8 6,-.6 6,-.3 6,.2 6,.5 6,.6 6,.7 6,.6 6,.5 6,.4 4,.2 4,.1 4,0 4,-.1 4,-.3 4,-.3 4,-.5 4,-.6 4,-.7 4,-.9 4,-1.1 4,-1.3 4,-1.5 4,-1.8 4,-2.1 4,-2.2 4,-2.2 4,-2.2 3,-1.5 3,-1.5 3,-1.3 3,-1.3 3,-1.4 3,-1.6 3,-2 2,-1.6 2,-1.9 2,-2.3 2,-2.7 2,-3.1 2,-3.5 2,-3.9 2,-4.1 2,-4.2 2,-4.2 2,-3.9 2,-3.1 2,-2.1 2,-.8 2,.8 2,2.2 2,3.5 2,4.5 2,5.1 2,5.4 2,5.4 2,5.2 2,4.9 2,4.5 2,4 2,3.5 2,3 2,2.5 2,2 2,1.6 2,1.3 3,1.2 3,.5 3,.2 3,-.1 3,-.2 3,-.2 3,-.1 3,.1 3,.2 3,.5 4,1 4,1.1 4,1.2 4,.9 4,.7 4,.3 4,-.1 4,-.4 6,-.6 6,-.4 6,.4 6,1.1 6,1.6 6,1.4 6,.8 6,0 6,-.7 6,-.9 6,-.8 6,-.4 6,-.1 6,.2 6,.3 6,.2 6,0 6,-.1 6,-.2 6,-.3 6,-.3 6,-.4 6,-.3 6,0 6,.3 6,.5 6,.7 6,.5 6,.3 2,-.1" stroke="#ecd12d"/>
<path d="M77.0,771.3l6,-.2 6,-.9 6,-1.3 6,-1.2 6,-.5 6,.4 6,1.2 6,1.4 6,1 6,.2 6,-.4 6,-.8 6,-.4 6,.1 6,.7 6,.9 6,.7 6,-.1 6,-.8 6,-1.2 6,-1.2 6,-.6 6,0 6,.5 6,.5 6,.4 6,-.1 6,-.4 6,-.4 6,0 6,.3 6,.7 6,.7 6,.5 6,.1 6,-.3 6,-.5 6,-.6 4,-.3 4,-.2 4,-.2 4,-.1 4,-.1 4,-.2 4,-.3 4,-.5 4,-.7 4,-.9 4,-1.2 4,-1.3 4,-1.5 4,-1.6 4,-1.6 4,-1.6 4,-1.6 4,-1.5 3,-1.1 3,-1.1 3,-1.1 3,-1.3 3,-1.6 3,-1.9 3,-2.5 2,-2.1 2,-2.4 2,-2.9 2,-3.2 2,-3.7 2,-4.2 2,-4.5 2,-4.8 2,-4.9 2,-4.9 2,-4.5 2,-3.9 2,-2.8 2,-1.3 2,.2 2,2 2,3.5 2,4.7 2,5.5 2,5.8 2,5.9 2,5.7 2,5.3 2,4.9 2,4.3 2,3.7 2,3.1 2,2.6 2,2.1 2,1.6 2,1.3 3,1.4 3,.8 3,.7 3,.5 3,.6 3,.8 3,.8 3,1 3,1.1 3,1.1 4,1.4 4,1.1 4,.7 4,.3 4,0 4,-.4 4,-.4 4,-.3 6,.1 6,.9 6,1.4 6,1.4 6,.8 6,-.2 6,-.9 6,-1.1 6,-.9 6,-.1 6,.6 6,.9 6,.6 6,0 6,-.6 6,-.9 6,-.8 6,-.2 6,.3 6,.8 6,.8 6,.3 6,-.1 6,-.4 6,-.4 6,-.1 6,.3 6,.4 6,.5 2,.1" stroke="#ecce2d"/>
<path d="M77.0,778.2l6,-.3 6,-.8 6,-1 6,-.6 6,.2 6,1.1 6,1.7 6,1.5 6,1 6,0 6,-.7 6,-.9 6,-.8 6,-.3 6,.1 6,.2 6,0 6,-.3 6,-.6 6,-.6 6,-.3 6,.2 6,.6 6,.7 6,.4 6,0 6,-.5 6,-.7 6,-.7 6,-.2 6,.1 6,.5 6,.6 6,.6 6,.5 6,.2 6,.1 6,-.1 4,-.2 4,-.2 4,-.3 4,-.4 4,-.4 4,-.6 4,-.5 4,-.7 4,-.7 4,-.9 4,-1.1 4,-1.3 4,-1.6 4,-1.8 4,-1.9 4,-2.1 4,-2.1 4,-2 3,-1.5 3,-1.4 3,-1.4 3,-1.4 3,-1.6 3,-1.9 3,-2.3 2,-2 2,-2.3 2,-2.8 2,-3.2 2,-3.6 2,-4.2 2,-4.6 2,-4.9 2,-5.2 2,-5.3 2,-5 2,-4.5 2,-3.4 2,-2.1 2,-.3 2,1.5 2,3.3 2,4.8 2,5.7 2,6.4 2,6.5 2,6.3 2,6.1 2,5.5 2,4.9 2,4.4 2,3.6 2,3.1 2,2.5 2,1.9 2,1.5 3,1.5 3,1 3,.5 3,.4 3,.3 3,.3 3,.5 3,.7 3,.8 3,.8 4,1.3 4,1.1 4,1 4,.8 4,.5 4,.3 4,.3 4,.3 6,.7 6,1 6,1.1 6,.9 6,.3 6,-.4 6,-1 6,-1 6,-.5 6,0 6,.6 6,.7 6,.5 6,-.1 6,-.5 6,-.7 6,-.5 6,-.1 6,.3 6,.5 6,.4 6,.1 6,-.3 6,-.3 6,-.2 6,.2 6,.3 6,.5 6,.3 2,0" stroke="#edcb2d"/>
<path d="M77.0,786.9l6,-1.3 6,-1.2 6,-.7 6,.2 6,1 6,1.3 6,1.2 6,.4 6,-.4 6,-.8 6,-.7 6,-.2 6,.4 6,1 6,.8 6,.2 6,-.6 6,-1.1 6,-1.1 6,-.5 6,.3 6,1 6,1.1 6,.8 6,.1 6,-.6 6,-1 6,-.8 6,-.4 6,0 6,.4 6,.3 6,0 6,-.2 6,-.4 6,-.2 6,0 6,.3 4,.2 4,.3 4,.1 4,0 4,-.2 4,-.3 4,-.5 4,-.7 4,-.7 4,-.9 4,-1.1 4,-1.4 4,-1.5 4,-1.9 4,-2.1 4,-2.2 4,-2.2 4,-2.2 3,-1.6 3,-1.5 3,-1.5 3,-1.4 3,-1.6 3,-1.9 3,-2.4 2,-1.9 2,-2.4 2,-2.8 2,-3.3 2,-3.9 2,-4.4 2,-5 2,-5.4 2,-5.8 2,-5.9 2,-5.9 2,-5.3 2,-4.5 2,-3.1 2,-1.4 2,.7 2,2.6 2,4.4 2,5.7 2,6.5 2,6.9 2,6.9 2,6.6 2,6.2 2,5.6 2,4.9 2,4.3 2,3.7 2,3 2,2.5 2,2 3,2.1 3,1.5 3,1 3,.7 3,.7 3,.6 3,.8 3,1 3,1.1 3,1.2 4,1.6 4,1.6 4,1.4 4,1.1 4,.7 4,.3 4,.1 4,-.1 6,-.1 6,.2 6,.6 6,.9 6,.7 6,.3 6,-.3 6,-.6 6,-.9 6,-.6 6,-.3 6,.1 6,.3 6,.3 6,.1 6,-.1 6,-.4 6,-.5 6,-.3 6,-.1 6,.2 6,.6 6,.8 6,.9 6,.6 6,.2 6,-.2 6,-.5 6,-.4 2,0" stroke="#eec92d"/>
<path d="M77.0,794.8l6,-.3 6,-.6 6,-.6 6,-.2 6,.3 6,.7 6,.6 6,.5 6,0 6,-.1 6,-.1 6,.2 6,.6 6,.8 6,.5 6,0 6,-.7 6,-1.3 6,-1.4 6,-1.1 6,-.5 6,.1 6,.5 6,.7 6,.5 6,.3 6,.2 6,.2 6,.2 6,.3 6,.3 6,.1 6,0 6,-.1 6,-.3 6,-.2 6,-.3 6,-.5 4,-.4 4,-.4 4,-.5 4,-.4 4,-.5 4,-.4 4,-.3 4,-.3 4,-.3 4,-.4 4,-.7 4,-.9 4,-1.3 4,-1.6 4,-2 4,-2.2 4,-2.4 4,-2.4 3,-1.7 3,-1.8 3,-1.8 3,-1.8 3,-2 3,-2.4 3,-2.9 2,-2.2 2,-2.7 2,-3.1 2,-3.7 2,-4.1 2,-4.7 2,-5.2 2,-5.7 2,-6.1 2,-6.3 2,-6.3 2,-5.8 2,-5 2,-3.7 2,-1.9 2,.2 2,2.3 2,4.4 2,5.9 2,6.9 2,7.4 2,7.5 2,7.3 2,6.8 2,6.2 2,5.5 2,4.7 2,4.1 2,3.4 2,2.8 2,2.2 3,2.6 3,1.8 3,1.4 3,1.3 3,1.1 3,1.2 3,1.3 3,1.3 3,1.3 3,1.4 4,1.6 4,1.3 4,.9 4,.4 4,.2 4,-.1 4,-.2 4,-.2 6,.1 6,.5 6,.8 6,.6 6,.4 6,-.1 6,-.2 6,-.1 6,.2 6,.5 6,.6 6,.2 6,-.1 6,-.6 6,-.8 6,-.6 6,-.3 6,.2 6,.4 6,.3 6,.2 6,-.1 6,-.2 6,-.1 6,.2 6,.5 6,.7 6,.6 6,.4 2,0" stroke="#eec62d"/>
<path d="M77.0,801.8l6,-1 6,-.5 6,.2 6,1.1 6,1.5 6,1.3 6,.7 6,-.2 6,-.7 6,-.8 6,-.2 6,.3 6,.6 6,.4 6,-.2 6,-.8 6,-1.1 6,-1 6,-.3 6,.4 6,.8 6,.8 6,.2 6,-.3 6,-.7 6,-.6 6,-.1 6,.4 6,.6 6,.5 6,-.1 6,-.5 6,-.7 6,-.3 6,.3 6,.8 6,.9 6,.5 4,0 4,-.3 4,-.6 4,-.8 4,-.7 4,-.6 4,-.5 4,-.4 4,-.4 4,-.5 4,-.9 4,-1.4 4,-1.9 4,-2.4 4,-2.9 4,-3 4,-2.9 4,-2.7 3,-1.8 3,-1.5 3,-1.4 3,-1.4 3,-1.5 3,-1.7 3,-2.4 2,-2 2,-2.5 2,-3 2,-3.6 2,-4.2 2,-4.9 2,-5.5 2,-6.1 2,-6.5 2,-6.9 2,-7 2,-6.6 2,-5.9 2,-4.7 2,-2.8 2,-.7 2,1.8 2,4 2,5.9 2,7.2 2,8 2,8.2 2,8.1 2,7.6 2,7 2,6.2 2,5.3 2,4.6 2,3.7 2,3.1 2,2.4 3,2.6 3,1.8 3,1.2 3,1.1 3,1 3,1.2 3,1.3 3,1.6 3,1.6 3,1.6 4,2 4,1.7 4,1.1 4,.6 4,.2 4,-.1 4,-.1 4,.1 6,.8 6,1.4 6,1.6 6,.9 6,-.2 6,-1.3 6,-1.8 6,-1.4 6,-.6 6,.6 6,1.2 6,1.3 6,.5 6,-.2 6,-.7 6,-.7 6,.1 6,.8 6,1.2 6,1.2 6,.4 6,-.5 6,-1.2 6,-1.3 6,-.8 6,-.1 6,.6 6,.8 6,.7 2,.1" stroke="#efc32e"/>
<path d="M77.0,811.0l6,-.3 6,-.3 6,.1 6,.6 6,.9 6,.8 6,.3 6,-.2 6,-.8 6,-.9 6,-.7 6,-.2 6,.3 6,.4 6,.2 6,0 6,-.4 6,-.4 6,-.2 6,.2 6,.4 6,.6 6,.3 6,0 6,-.3 6,-.5 6,-.4 6,-.1 6,0 6,.2 6,.1 6,-.1 6,-.1 6,-.1 6,0 6,.2 6,.4 6,.2 4,.1 4,-.1 4,-.2 4,-.3 4,-.5 4,-.5 4,-.7 4,-.8 4,-.9 4,-1.2 4,-1.4 4,-1.6 4,-1.9 4,-2 4,-2.2 4,-2.3 4,-2.3 4,-2.3 3,-1.7 3,-1.7 3,-1.8 3,-1.9 3,-2.1 3,-2.5 3,-3.1 2,-2.5 2,-2.8 2,-3.3 2,-3.9 2,-4.4 2,-5.1 2,-5.6 2,-6.2 2,-6.6 2,-7 2,-7.1 2,-6.8 2,-6.2 2,-5 2,-3.2 2,-.9 2,1.4 2,3.9 2,5.9 2,7.3 2,8.1 2,8.4 2,8.3 2,7.9 2,7.2 2,6.4 2,5.7 2,4.8 2,4 2,3.4 2,2.7 3,3.2 3,2.4 3,1.8 3,1.6 3,1.5 3,1.5 3,1.5 3,1.6 3,1.5 3,1.4 4,1.7 4,1.4 4,1 4,.8 4,.5 4,.5 4,.4 4,.6 6,1 6,1.1 6,.8 6,.4 6,-.1 6,-.6 6,-.6 6,-.4 6,-.3 6,-.1 6,-.3 6,-.4 6,-.6 6,-.4 6,0 6,.6 6,1 6,1.2 6,.8 6,.3 6,-.2 6,-.6 6,-.5 6,-.2 6,.2 6,.5 6,.5 6,.3 6,-.1 2,-.1" stroke="#efc02e"/>
<path d="M77.0,817.8l6,-1 6,-.4 6,.6 6,1.5 6,1.9 6,1.5 6,.6 6,-.4 6,-1.1 6,-1.1 6,-.4 6,.3 6,.8 6,.5 6,-.2 6,-1 6,-1.5 6,-1.3 6,-.5 6,.4 6,1.1 6,1.1 6,.6 6,-.2 6,-.7 6,-.8 6,-.4 6,.3 6,.8 6,.8 6,.5 6,0 6,-.5 6,-.6 6,-.2 6,.2 6,.4 6,.4 4,.1 4,-.2 4,-.4 4,-.7 4,-.7 4,-.8 4,-.9 4,-.8 4,-1 4,-1 4,-1.2 4,-1.5 4,-1.8 4,-2.1 4,-2.3 4,-2.5 4,-2.5 4,-2.6 3,-1.9 3,-1.8 3,-1.9 3,-2 3,-2.1 3,-2.6 3,-3.1 2,-2.5 2,-3 2,-3.4 2,-4 2,-4.7 2,-5.3 2,-6 2,-6.7 2,-7.2 2,-7.5 2,-7.7 2,-7.5 2,-6.8 2,-5.5 2,-3.6 2,-1.3 2,1.4 2,3.9 2,6.1 2,7.6 2,8.5 2,8.9 2,8.8 2,8.3 2,7.7 2,7 2,6.1 2,5.4 2,4.5 2,3.9 2,3.2 3,3.9 3,3 3,2.4 3,2.1 3,1.8 3,1.8 3,1.7 3,1.5 3,1.4 3,1.3 4,1.4 4,1 4,.8 4,.6 4,.6 4,.6 4,.7 4,.9 6,1.3 6,.9 6,.2 6,-.6 6,-1 6,-1 6,-.4 6,.3 6,.8 6,.8 6,.3 6,-.3 6,-.6 6,-.6 6,0 6,.5 6,1 6,.9 6,.3 6,-.2 6,-.7 6,-.5 6,-.2 6,.4 6,.7 6,.6 6,.2 6,-.5 6,-.8 2,-.3" stroke="#f0be2e"/>
<path d="M77.0,827.2l6,-.9 6,-.4 6,.3 6,.9 6,1.2 6,1 6,.4 6,-.4 6,-.9 6,-.9 6,-.6 6,0 6,.3 6,.4 6,.2 6,-.3 6,-.5 6,-.5 6,-.1 6,.2 6,.6 6,.8 6,.4 6,.1 6,-.4 6,-.7 6,-.7 6,-.4 6,-.1 6,.3 6,.5 6,.6 6,.5 6,.3 6,-.2 6,-.5 6,-.7 6,-.7 4,-.4 4,-.4 4,-.2 4,-.1 4,0 4,-.1 4,-.3 4,-.4 4,-.8 4,-1.1 4,-1.4 4,-1.7 4,-2 4,-2.1 4,-2.3 4,-2.3 4,-2.4 4,-2.5 3,-1.9 3,-2 3,-2.1 3,-2.3 3,-2.6 3,-3 3,-3.6 2,-2.8 2,-3.2 2,-3.7 2,-4.3 2,-4.8 2,-5.4 2,-6.1 2,-6.7 2,-7.1 2,-7.6 2,-7.6 2,-7.5 2,-6.7 2,-5.5 2,-3.6 2,-1.2 2,1.5 2,4 2,6.1 2,7.7 2,8.6 2,9 2,8.8 2,8.4 2,7.7 2,7 2,6.1 2,5.4 2,4.6 2,3.9 2,3.3 3,4.1 3,3.3 3,2.7 3,2.3 3,2.1 3,2 3,1.7 3,1.6 3,1.4 3,1.2 4,1.2 4,.9 4,.8 4,.7 4,.8 4,.9 4,1.1 4,1.1 6,1.6 6,.8 6,-.1 6,-1 6,-1.4 6,-1.1 6,-.2 6,.6 6,1.1 6,.9 6,.3 6,-.5 6,-1.2 6,-1.1 6,-.6 6,.3 6,.9 6,1.3 6,1.1 6,.5 6,0 6,-.4 6,-.3 6,-.1 6,.3 6,.3 6,.3 6,-.2 6,-.4 2,-.2" stroke="#f1bb2e"/>
<path d="M77.0,834.5l6,-.3 6,.3 6,1 6,1.5 6,1.4 6,.6 6,-.3 6,-1.1 6,-1.6 6,-1.2 6,-.4 6,.3 6,.8 6,.7 6,.2 6,-.6 6,-.9 6,-.8 6,-.3 6,.3 6,.8 6,.8 6,.4 6,0 6,-.4 6,-.3 6,.1 6,.5 6,.7 6,.5 6,.1 6,-.5 6,-.9 6,-.9 6,-.6 6,-.2 6,.1 6,.2 4,-.1 4,-.1 4,-.4 4,-.5 4,-.5 4,-.6 4,-.6 4,-.6 4,-.6 4,-.6 4,-.8 4,-1.1 4,-1.4 4,-1.7 4,-2.2 4,-2.5 4,-2.8 4,-3 3,-2.4 3,-2.3 3,-2.4 3,-2.6 3,-2.6 3,-3 3,-3.5 2,-2.7 2,-3.1 2,-3.6 2,-4.2 2,-4.8 2,-5.5 2,-6.1 2,-6.8 2,-7.3 2,-7.8 2,-7.9 2,-7.7 2,-7 2,-5.7 2,-3.8 2,-1.3 2,1.4 2,4 2,6.2 2,7.9 2,8.8 2,9.1 2,9.1 2,8.7 2,7.9 2,7.2 2,6.4 2,5.5 2,4.7 2,4 2,3.3 3,3.9 3,3 3,2.4 3,2 3,1.8 3,1.7 3,1.8 3,1.6 3,1.7 3,1.6 4,2.1 4,1.8 4,1.6 4,1.4 4,1.1 4,.9 4,.7 4,.5 6,.4 6,0 6,-.5 6,-.9 6,-.9 6,-.7 6,-.3 6,.3 6,.6 6,.7 6,.4 6,.1 6,-.2 6,-.4 6,-.4 6,0 6,.4 6,.6 6,.6 6,.4 6,.1 6,-.2 6,-.3 6,-.1 6,.1 6,.4 6,.4 6,.4 6,.1 2,-.1" stroke="#f1b82e"/>
<path d="M77.0,842.7l6,-.1 6,.5 6,1 6,1.1 6,.7 6,.1 6,-.5 6,-.8 6,-.6 6,-.3 6,.1 6,.2 6,0 6,-.4 6,-.7 6,-.8 6,-.5 6,.1 6,.6 6,1.1 6,1 6,.6 6,.2 6,-.1 6,-.3 6,-.1 6,0 6,.1 6,0 6,-.4 6,-.5 6,-.7 6,-.6 6,-.4 6,-.1 6,0 6,.1 6,0 4,0 4,-.1 4,-.1 4,-.1 4,-.2 4,-.2 4,-.4 4,-.6 4,-.8 4,-1 4,-1.4 4,-1.5 4,-1.9 4,-2 4,-2.2 4,-2.3 4,-2.4 4,-2.6 3,-2 3,-2.1 3,-2.3 3,-2.4 3,-2.6 3,-3.1 3,-3.6 2,-2.9 2,-3.2 2,-3.8 2,-4.3 2,-4.9 2,-5.6 2,-6.3 2,-6.9 2,-7.5 2,-7.8 2,-8.1 2,-7.8 2,-7.2 2,-5.8 2,-3.9 2,-1.5 2,1.2 2,3.9 2,6.1 2,7.8 2,8.7 2,9.1 2,9 2,8.6 2,8.1 2,7.2 2,6.5 2,5.7 2,5 2,4.2 2,3.6 3,4.5 3,3.5 3,2.9 3,2.4 3,2.2 3,1.8 3,1.7 3,1.5 3,1.4 3,1.2 4,1.4 4,1.3 4,1.2 4,1.2 4,1.3 4,1.3 4,1.3 4,1.1 6,1.1 6,.3 6,-.6 6,-1.2 6,-1.3 6,-.9 6,-.4 6,0 6,.2 6,-.1 6,-.3 6,-.4 6,-.3 6,.3 6,.8 6,1.1 6,1.2 6,.8 6,.4 6,-.1 6,-.3 6,-.2 6,-.1 6,.1 6,.1 6,-.1 6,-.3 6,-.5 6,-.4 2,-.2" stroke="#f1b62f"/>
<path d="M77.0,850.7l6,.2 6,.7 6,.9 6,.8 6,.4 6,0 6,-.4 6,-.5 6,-.3 6,.1 6,.3 6,.2 6,-.1 6,-.5 6,-.7 6,-.6 6,-.2 6,.2 6,.5 6,.5 6,.3 6,-.2 6,-.5 6,-.4 6,-.2 6,.1 6,.4 6,.5 6,.2 6,0 6,-.2 6,-.2 6,0 6,.2 6,.3 6,.1 6,-.3 6,-.7 4,-.5 4,-.7 4,-.6 4,-.5 4,-.4 4,-.3 4,-.3 4,-.3 4,-.4 4,-.6 4,-.9 4,-1.2 4,-1.5 4,-1.8 4,-2.2 4,-2.4 4,-2.7 4,-2.9 3,-2.3 3,-2.3 3,-2.5 3,-2.5 3,-2.7 3,-3 3,-3.6 2,-2.7 2,-3 2,-3.6 2,-4.1 2,-4.7 2,-5.3 2,-6 2,-6.6 2,-7.2 2,-7.6 2,-7.8 2,-7.6 2,-6.9 2,-5.7 2,-3.9 2,-1.5 2,1.2 2,3.7 2,6 2,7.5 2,8.5 2,8.9 2,8.9 2,8.6 2,7.9 2,7.3 2,6.6 2,5.8 2,5 2,4.4 2,3.8 3,4.7 3,3.7 3,3 3,2.4 3,2 3,1.7 3,1.4 3,1.1 3,1 3,.8 4,.9 4,.9 4,1 4,1 4,1.1 4,1.1 4,1.1 4,.8 6,.6 6,-.3 6,-1.1 6,-1.2 6,-.9 6,-.2 6,.4 6,.8 6,.7 6,.3 6,-.2 6,-.3 6,-.1 6,.5 6,1 6,1.3 6,1.1 6,.4 6,-.2 6,-.9 6,-1.1 6,-1 6,-.6 6,-.1 6,.2 6,.3 6,.3 6,.1 6,0 2,0" stroke="#f2b32f"/>
<path d="M77.0,859.4l6,.2 6,.7 6,.9 6,.7 6,.1 6,-.4 6,-.7 6,-.7 6,-.3 6,.1 6,.2 6,.2 6,-.1 6,-.5 6,-.4 6,-.2 6,.3 6,.8 6,.9 6,.6 6,0 6,-.5 6,-.9 6,-.9 6,-.6 6,0 6,.5 6,.6 6,.6 6,.2 6,.1 6,-.2 6,-.2 6,-.1 6,-.2 6,-.3 6,-.3 6,-.3 4,-.2 4,-.1 4,-.1 4,0 4,0 4,-.1 4,-.3 4,-.4 4,-.8 4,-1 4,-1.4 4,-1.7 4,-1.9 4,-2.2 4,-2.3 4,-2.6 4,-2.6 4,-2.7 3,-2.1 3,-2.1 3,-2.1 3,-2.2 3,-2.3 3,-2.6 3,-2.9 2,-2.4 2,-2.7 2,-3.1 2,-3.6 2,-4.2 2,-4.8 2,-5.4 2,-6.1 2,-6.6 2,-7 2,-7.3 2,-7.1 2,-6.5 2,-5.4 2,-3.7 2,-1.4 2,1 2,3.4 2,5.4 2,7 2,7.8 2,8.3 2,8.2 2,7.9 2,7.3 2,6.8 2,6 2,5.4 2,4.7 2,4 2,3.6 3,4.3 3,3.6 3,2.8 3,2.4 3,2 3,1.7 3,1.4 3,1.2 3,1 3,.9 4,1 4,.8 4,.7 4,.7 4,.7 4,.5 4,.4 4,.2 6,-.1 6,-.6 6,-.6 6,-.3 6,.5 6,1.1 6,1.5 6,1.4 6,.8 6,0 6,-.7 6,-.9 6,-.7 6,-.2 6,.2 6,.6 6,.4 6,.2 6,-.1 6,-.3 6,-.3 6,-.1 6,0 6,0 6,-.2 6,-.4 6,-.4 6,-.3 6,0 2,.1" stroke="#f2b130"/>
<path d="M77.0,867.6l6,1.3 6,1.7 6,1.5 6,.8 6,-.2 6,-1.1 6,-1.4 6,-1.4 6,-.8 6,-.3 6,0 6,.1 6,-.1 6,-.3 6,-.2 6,0 6,.3 6,.5 6,.5 6,.2 6,-.1 6,-.4 6,-.4 6,0 6,.4 6,.7 6,.7 6,.4 6,0 6,-.4 6,-.6 6,-.4 6,-.1 6,.2 6,.3 6,.1 6,-.2 6,-.6 4,-.6 4,-.6 4,-.7 4,-.6 4,-.7 4,-.6 4,-.5 4,-.6 4,-.5 4,-.6 4,-.7 4,-.8 4,-1 4,-1.2 4,-1.4 4,-1.7 4,-2.1 4,-2.3 3,-1.9 3,-2.1 3,-2.2 3,-2.3 3,-2.5 3,-2.8 3,-3.2 2,-2.5 2,-2.8 2,-3.1 2,-3.7 2,-4.2 2,-4.7 2,-5.4 2,-5.9 2,-6.4 2,-6.9 2,-7 2,-6.8 2,-6.3 2,-5.2 2,-3.5 2,-1.4 2,.9 2,3.2 2,5.2 2,6.6 2,7.6 2,7.9 2,7.9 2,7.5 2,7.2 2,6.5 2,5.8 2,5.2 2,4.6 2,3.9 2,3.4 3,4.2 3,3.4 3,2.6 3,2.1 3,1.7 3,1.4 3,1.2 3,1 3,.8 3,.7 4,.9 4,.9 4,.9 4,1 4,1 4,1 4,.7 4,.6 6,.4 6,-.2 6,-.3 6,-.1 6,.1 6,.4 6,.4 6,.2 6,-.4 6,-.7 6,-.7 6,-.3 6,.4 6,1 6,1.1 6,.9 6,.2 6,-.5 6,-1 6,-1 6,-.6 6,-.1 6,.5 6,.8 6,.6 6,.4 6,.1 6,-.2 6,-.1 2,-.1" stroke="#f2ae30"/>
<path d="M77.0,877.0l6,1.2 6,1.3 6,.8 6,-.2 6,-1 6,-1.5 6,-1.4 6,-.8 6,0 6,.6 6,.6 6,.1 6,-.3 6,-.8 6,-.6 6,0 6,.6 6,1 6,1.1 6,.5 6,-.1 6,-.7 6,-.8 6,-.5 6,0 6,.6 6,.9 6,.6 6,.1 6,-.3 6,-.7 6,-.7 6,-.5 6,-.1 6,.1 6,.2 6,0 6,-.2 4,-.2 4,-.4 4,-.4 4,-.5 4,-.5 4,-.5 4,-.5 4,-.5 4,-.5 4,-.6 4,-.8 4,-.8 4,-1.1 4,-1.3 4,-1.6 4,-1.9 4,-2.1 4,-2.3 3,-1.8 3,-1.9 3,-1.9 3,-2 3,-2.2 3,-2.4 3,-2.9 2,-2.2 2,-2.6 2,-3.1 2,-3.5 2,-4.1 2,-4.7 2,-5.3 2,-5.9 2,-6.4 2,-6.8 2,-6.8 2,-6.7 2,-6.1 2,-5 2,-3.2 2,-1.2 2,1.2 2,3.3 2,5.2 2,6.5 2,7.3 2,7.7 2,7.6 2,7.3 2,7 2,6.3 2,5.7 2,5.1 2,4.4 2,3.9 2,3.2 3,4 3,3.1 3,2.3 3,1.7 3,1.3 3,1 3,.8 3,.7 3,.7 3,.7 4,1.1 4,1.3 4,1.4 4,1.5 4,1.4 4,1.1 4,.7 4,.2 6,-.4 6,-1 6,-1 6,-.5 6,.1 6,.7 6,.6 6,.3 6,-.4 6,-.6 6,-.6 6,.1 6,.7 6,1.3 6,1.3 6,.8 6,-.1 6,-.9 6,-1.1 6,-.9 6,-.4 6,.3 6,.6 6,.6 6,.2 6,-.3 6,-.5 6,-.5 6,-.2 2,.1" stroke="#f2ac31"/>
<path d="M77.0,885.2l6,1.2 6,1 6,.4 6,-.2 6,-.7 6,-1 6,-.6 6,-.2 6,.2 6,.2 6,0 6,-.4 6,-.8 6,-.9 6,-.4 6,.2 6,.7 6,.9 6,.7 6,.3 6,-.2 6,-.4 6,-.3 6,.1 6,.4 6,.5 6,.3 6,0 6,-.3 6,-.6 6,-.6 6,-.3 6,-.1 6,0 6,0 6,-.1 6,-.3 6,-.4 4,-.2 4,-.1 4,-.1 4,0 4,-.1 4,0 4,-.2 4,-.3 4,-.4 4,-.6 4,-.8 4,-.9 4,-1.2 4,-1.4 4,-1.6 4,-1.9 4,-2.2 4,-2.4 3,-2 3,-2 3,-2.1 3,-2.2 3,-2.3 3,-2.6 3,-3 2,-2.4 2,-2.6 2,-3.1 2,-3.4 2,-4 2,-4.5 2,-5 2,-5.6 2,-5.9 2,-6.1 2,-6.2 2,-5.9 2,-5.2 2,-3.9 2,-2.3 2,-.2 2,1.9 2,3.8 2,5.4 2,6.5 2,7 2,7.3 2,7.1 2,6.9 2,6.3 2,5.8 2,5.2 2,4.5 2,4 2,3.5 2,2.9 3,3.6 3,2.7 3,2.1 3,1.6 3,1.2 3,.9 3,.8 3,.6 3,.6 3,.6 4,.9 4,.9 4,.9 4,.9 4,.7 4,.5 4,.1 4,-.1 6,-.7 6,-.9 6,-.7 6,0 6,.6 6,1 6,.9 6,.5 6,.1 6,-.3 6,-.2 6,.2 6,.5 6,.7 6,.5 6,.1 6,-.5 6,-.8 6,-.8 6,-.4 6,0 6,.4 6,.6 6,.4 6,0 6,-.1 6,-.2 6,0 6,.1 2,.1" stroke="#f3a931"/>
<path d="M77.0,893.2l6,1.2 6,.7 6,-.1 6,-.8 6,-1.4 6,-1.1 6,-.6 6,.1 6,.8 6,.9 6,.5 6,.1 6,-.3 6,-.2 6,.1 6,.7 6,1 6,1 6,.4 6,-.2 6,-.8 6,-1.2 6,-1.1 6,-.6 6,-.2 6,.1 6,.2 6,.1 6,-.1 6,-.1 6,-.2 6,0 6,.1 6,.1 6,0 6,.1 6,0 6,.1 4,.1 4,.1 4,.1 4,0 4,-.1 4,-.2 4,-.3 4,-.5 4,-.5 4,-.7 4,-.8 4,-1 4,-1.1 4,-1.4 4,-1.7 4,-1.9 4,-2.3 4,-2.5 3,-2 3,-2 3,-2.1 3,-2.2 3,-2.2 3,-2.5 3,-2.8 2,-2.1 2,-2.4 2,-2.8 2,-3.2 2,-3.6 2,-4.1 2,-4.6 2,-5 2,-5.4 2,-5.6 2,-5.5 2,-5.2 2,-4.4 2,-3.1 2,-1.6 2,.4 2,2.3 2,3.9 2,5.2 2,6.1 2,6.4 2,6.6 2,6.3 2,6 2,5.6 2,5 2,4.5 2,3.9 2,3.3 2,2.9 2,2.5 3,3 3,2.3 3,1.8 3,1.3 3,1.1 3,.9 3,.9 3,.7 3,.8 3,.7 4,1.1 4,1.2 4,1.2 4,1 4,.9 4,.6 4,.3 4,0 6,-.5 6,-.8 6,-.7 6,-.3 6,-.1 6,.1 6,0 6,-.2 6,-.4 6,-.1 6,.1 6,.7 6,.8 6,.8 6,.4 6,-.1 6,-.5 6,-.6 6,-.1 6,.3 6,.7 6,.8 6,.6 6,.1 6,-.2 6,-.4 6,-.2 6,-.1 6,.2 2,0" stroke="#f3a732"/>
<path d="M77.0,903.4l6,.6 6,0 6,-.5 6,-.9 6,-.9 6,-.5 6,.1 6,.4 6,.4 6,0 6,-.6 6,-1 6,-1.1 6,-.6 6,.3 6,1 6,1.3 6,1.1 6,.5 6,-.2 6,-.6 6,-.7 6,-.3 6,.2 6,.5 6,.6 6,.3 6,-.1 6,-.4 6,-.6 6,-.5 6,-.3 6,-.1 6,0 6,-.1 6,-.1 6,-.2 6,-.1 4,0 4,0 4,0 4,-.1 4,-.1 4,-.3 4,-.3 4,-.4 4,-.5 4,-.7 4,-.7 4,-.9 4,-1 4,-1.2 4,-1.5 4,-1.7 4,-2 4,-2 3,-1.7 3,-1.6 3,-1.6 3,-1.7 3,-1.8 3,-2.1 3,-2.4 2,-1.9 2,-2.2 2,-2.5 2,-3 2,-3.5 2,-3.8 2,-4.4 2,-4.7 2,-5.1 2,-5.2 2,-5.1 2,-4.6 2,-3.8 2,-2.6 2,-1 2,.7 2,2.5 2,3.8 2,5 2,5.6 2,5.8 2,5.9 2,5.7 2,5.3 2,4.8 2,4.4 2,3.9 2,3.4 2,2.9 2,2.5 2,2.1 3,2.6 3,1.9 3,1.5 3,1.1 3,.9 3,.8 3,.7 3,.7 3,.6 3,.7 4,.9 4,.9 4,.9 4,.7 4,.4 4,.3 4,-.1 4,-.1 6,-.4 6,-.1 6,.3 6,.7 6,.8 6,.5 6,-.1 6,-.5 6,-.7 6,-.5 6,0 6,.6 6,.9 6,.8 6,.2 6,-.3 6,-.8 6,-.8 6,-.5 6,.1 6,.3 6,.4 6,.2 6,-.2 6,-.4 6,-.3 6,.1 6,.6 6,.9 2,.3" stroke="#f3a432"/>
<path d="M77.0,910.9l6,.4 6,-.2 6,-.3 6,-.5 6,-.2 6,.1 6,.3 6,.2 6,-.1 6,-.5 6,-.7 6,-.6 6,-.2 6,.2 6,.7 6,.8 6,.6 6,.1 6,-.3 6,-.7 6,-.6 6,-.5 6,-.1 6,.2 6,.2 6,.3 6,.1 6,0 6,-.1 6,0 6,0 6,0 6,0 6,.1 6,.1 6,.1 6,.1 6,0 4,-.2 4,-.2 4,-.3 4,-.4 4,-.4 4,-.4 4,-.4 4,-.3 4,-.3 4,-.3 4,-.4 4,-.7 4,-.9 4,-1.3 4,-1.5 4,-1.9 4,-2 4,-2 3,-1.6 3,-1.5 3,-1.6 3,-1.5 3,-1.7 3,-2 3,-2.3 2,-1.9 2,-2.2 2,-2.6 2,-3 2,-3.4 2,-3.8 2,-4.2 2,-4.5 2,-4.7 2,-4.7 2,-4.5 2,-4 2,-3 2,-1.8 2,-.2 2,1.4 2,3 2,4.2 2,5 2,5.5 2,5.7 2,5.6 2,5.3 2,4.9 2,4.5 2,3.9 2,3.4 2,2.9 2,2.5 2,2 2,1.6 3,1.8 3,1.4 3,.9 3,.8 3,.7 3,.7 3,.8 3,.9 3,.9 3,.9 4,1.2 4,1 4,.7 4,.3 4,0 4,-.4 4,-.6 4,-.7 6,-.7 6,-.2 6,.3 6,.7 6,.7 6,.2 6,-.2 6,-.4 6,-.3 6,.1 6,.5 6,.9 6,.8 6,.6 6,.1 6,-.3 6,-.3 6,-.3 6,-.1 6,0 6,.1 6,0 6,-.1 6,0 6,0 6,.1 6,.1 6,0 6,-.2 2,-.1" stroke="#f3a233"/>
<path d="M77.0,921.2l6,.3 6,-.5 6,-1.2 6,-1.4 6,-1.3 6,-.6 6,-.1 6,.3 6,.2 6,0 6,-.3 6,-.3 6,-.1 6,.5 6,.9 6,1.1 6,1 6,.4 6,-.1 6,-.6 6,-.5 6,-.4 6,0 6,0 6,-.1 6,-.5 6,-.7 6,-.7 6,-.3 6,.1 6,.7 6,1 6,.8 6,.4 6,-.2 6,-.6 6,-.9 6,-.8 4,-.4 4,-.2 4,-.2 4,0 4,0 4,0 4,0 4,0 4,-.1 4,-.2 4,-.4 4,-.6 4,-.8 4,-1.1 4,-1.4 4,-1.6 4,-1.8 4,-2 3,-1.5 3,-1.5 3,-1.5 3,-1.6 3,-1.7 3,-2 3,-2.3 2,-1.9 2,-2.1 2,-2.5 2,-2.8 2,-3.2 2,-3.6 2,-3.9 2,-4.2 2,-4.4 2,-4.3 2,-4.1 2,-3.5 2,-2.6 2,-1.4 2,.1 2,1.5 2,3 2,3.9 2,4.8 2,5.1 2,5.2 2,5.1 2,4.9 2,4.5 2,4.1 2,3.6 2,3.2 2,2.8 2,2.3 2,2 2,1.6 3,1.8 3,1.4 3,1 3,.7 3,.5 3,.5 3,.5 3,.4 3,.5 3,.5 4,.7 4,.6 4,.4 4,.2 4,-.1 4,-.3 4,-.4 4,-.4 6,-.3 6,.1 6,.7 6,.9 6,.8 6,.3 6,-.3 6,-.5 6,-.4 6,.2 6,.7 6,1.2 6,1 6,.5 6,-.2 6,-.9 6,-1.2 6,-.9 6,-.5 6,0 6,.4 6,.4 6,.3 6,.1 6,0 6,.1 6,.2 6,.3 6,.2 2,0" stroke="#f2a033"/>
<path d="M77.0,928.6l6,.1 6,-.7 6,-1.2 6,-1.1 6,-.6 6,0 6,.4 6,.5 6,.2 6,-.4 6,-.6 6,-.5 6,0 6,.7 6,1.1 6,1.1 6,.5 6,-.1 6,-.8 6,-.8 6,-.6 6,0 6,.6 6,.7 6,.5 6,-.2 6,-.7 6,-1.1 6,-.9 6,-.5 6,.2 6,.6 6,.7 6,.5 6,.3 6,-.1 6,-.3 6,-.3 4,-.1 4,-.1 4,-.1 4,0 4,0 4,-.1 4,-.1 4,-.2 4,-.3 4,-.5 4,-.6 4,-.9 4,-1 4,-1.3 4,-1.5 4,-1.6 4,-1.7 4,-1.7 3,-1.2 3,-1.2 3,-1.3 3,-1.2 3,-1.4 3,-1.6 3,-2 2,-1.7 2,-1.9 2,-2.2 2,-2.6 2,-2.9 2,-3.3 2,-3.5 2,-3.8 2,-3.9 2,-3.8 2,-3.5 2,-2.9 2,-2 2,-.8 2,.5 2,1.8 2,2.9 2,3.9 2,4.4 2,4.6 2,4.7 2,4.5 2,4.2 2,3.9 2,3.5 2,3 2,2.6 2,2.2 2,1.8 2,1.4 2,1.2 3,1.3 3,.9 3,.6 3,.5 3,.5 3,.4 3,.6 3,.6 3,.7 3,.7 4,.9 4,.8 4,.4 4,.1 4,-.2 4,-.4 4,-.6 4,-.5 6,-.3 6,.3 6,.9 6,1.2 6,.8 6,.2 6,-.4 6,-.7 6,-.4 6,.1 6,.6 6,.9 6,.8 6,.2 6,-.4 6,-.8 6,-.8 6,-.5 6,.1 6,.3 6,.4 6,.1 6,-.1 6,-.4 6,-.3 6,0 6,.2 6,.4 6,.4 2,.1" stroke="#f29e34"/>
<path d="M77.0,935.9l6,-.4 6,-.9 6,-.9 6,-.6 6,-.1 6,.4 6,.6 6,.5 6,0 6,-.5 6,-.5 6,-.3 6,.2 6,.7 6,1 6,.8 6,.3 6,-.2 6,-.7 6,-.6 6,-.3 6,.1 6,.4 6,.4 6,0 6,-.4 6,-.6 6,-.6 6,-.2 6,.1 6,.5 6,.4 6,.1 6,-.2 6,-.5 6,-.5 6,-.4 6,-.1 4,.1 4,.1 4,.1 4,.2 4,.1 4,0 4,-.1 4,-.1 4,-.2 4,-.2 4,-.4 4,-.5 4,-.6 4,-.9 4,-1.1 4,-1.3 4,-1.4 4,-1.5 3,-1.2 3,-1.2 3,-1.3 3,-1.3 3,-1.5 3,-1.7 3,-2.2 2,-1.6 2,-1.9 2,-2.2 2,-2.5 2,-2.7 2,-3.1 2,-3.2 2,-3.4 2,-3.4 2,-3.3 2,-3 2,-2.3 2,-1.4 2,-.3 2,.8 2,2 2,2.9 2,3.6 2,4 2,4.1 2,4.2 2,3.9 2,3.7 2,3.3 2,3 2,2.6 2,2.2 2,1.9 2,1.5 2,1.3 2,1 3,1.1 3,.7 3,.6 3,.5 3,.4 3,.5 3,.5 3,.6 3,.6 3,.5 4,.7 4,.4 4,.2 4,-.1 4,-.3 4,-.5 4,-.5 4,-.4 6,-.2 6,.5 6,.8 6,.9 6,.5 6,0 6,-.2 6,-.2 6,.1 6,.6 6,.9 6,.8 6,.3 6,-.5 6,-1 6,-1.1 6,-.9 6,-.5 6,.1 6,.3 6,.2 6,0 6,-.2 6,-.2 6,.1 6,.6 6,.9 6,.9 6,.8 2,.1" stroke="#f29c34"/>
<path d="M77.0,945.5l6,-.6 6,-1.3 6,-1.6 6,-1.2 6,-.3 6,.7 6,1.2 6,.9 6,.3 6,-.6 6,-1.1 6,-.9 6,-.2 6,.6 6,1.2 6,1.1 6,.5 6,-.1 6,-.6 6,-.5 6,0 6,.4 6,.7 6,.3 6,-.4 6,-1.1 6,-1.2 6,-1 6,-.1 6,.5 6,1 6,.8 6,.3 6,-.3 6,-.6 6,-.4 6,0 6,.4 4,.3 4,.2 4,.1 4,-.2 4,-.3 4,-.4 4,-.5 4,-.4 4,-.2 4,-.2 4,-.1 4,-.2 4,-.4 4,-.7 4,-1 4,-1.3 4,-1.6 4,-1.5 3,-1.2 3,-1.1 3,-1 3,-1 3,-1 3,-1.2 3,-1.4 2,-1.2 2,-1.4 2,-1.6 2,-2 2,-2.2 2,-2.5 2,-2.7 2,-2.8 2,-2.9 2,-2.8 2,-2.4 2,-1.9 2,-1.1 2,-.2 2,.8 2,1.7 2,2.5 2,3 2,3.3 2,3.4 2,3.3 2,3.3 2,3 2,2.7 2,2.5 2,2.2 2,1.8 2,1.6 2,1.3 2,1.1 2,.8 3,1 3,.7 3,.6 3,.5 3,.5 3,.5 3,.6 3,.5 3,.5 3,.3 4,.3 4,-.1 4,-.5 4,-.8 4,-.9 4,-.9 4,-.6 4,-.2 6,.7 6,1.6 6,1.8 6,1.2 6,.1 6,-.8 6,-1.1 6,-.8 6,.2 6,1.1 6,1.4 6,1 6,0 6,-.8 6,-1.4 6,-1.2 6,-.4 6,.3 6,.8 6,.7 6,.2 6,-.2 6,-.5 6,-.4 6,0 6,.4 6,.4 6,.1 6,-.3 2,-.1" stroke="#f19a35"/>
<path d="M77.0,953.0l6,-1 6,-1.3 6,-1.1 6,-.5 6,0 6,.3 6,.4 6,.3 6,-.1 6,0 6,.3 6,.7 6,1.1 6,1.1 6,.7 6,-.1 6,-.9 6,-1.4 6,-1.4 6,-.9 6,-.2 6,.5 6,.7 6,.6 6,.4 6,0 6,-.1 6,0 6,.1 6,.3 6,.1 6,-.2 6,-.5 6,-.6 6,-.5 6,-.1 6,.3 6,.6 4,.4 4,.3 4,.2 4,0 4,-.2 4,-.3 4,-.5 4,-.5 4,-.5 4,-.6 4,-.6 4,-.6 4,-.6 4,-.6 4,-.7 4,-.6 4,-.7 4,-.6 3,-.5 3,-.5 3,-.6 3,-.7 3,-.9 3,-1.2 3,-1.5 2,-1.3 2,-1.4 2,-1.7 2,-1.9 2,-2.1 2,-2.2 2,-2.4 2,-2.5 2,-2.4 2,-2.1 2,-1.8 2,-1.3 2,-.5 2,.2 2,1.1 2,1.8 2,2.4 2,2.6 2,2.9 2,2.9 2,2.8 2,2.7 2,2.4 2,2.2 2,1.9 2,1.6 2,1.4 2,1.2 2,.9 2,.7 2,.6 3,.6 3,.5 3,.3 3,.2 3,.3 3,.2 3,.1 3,.2 3,.1 3,0 4,-.1 4,-.3 4,-.3 4,-.5 4,-.3 4,-.2 4,.1 4,.5 6,1.3 6,1.6 6,1.5 6,.9 6,0 6,-.7 6,-1.1 6,-.8 6,-.4 6,.1 6,.3 6,.1 6,-.1 6,-.5 6,-.4 6,-.2 6,.3 6,.7 6,.7 6,.4 6,-.2 6,-.5 6,-.7 6,-.4 6,.1 6,.5 6,.8 6,.6 6,.3 2,0" stroke="#f19835"/>
<path d="M77.0,960.8l6,-1.1 6,-1.1 6,-.8 6,0 6,.4 6,.6 6,.3 6,-.1 6,-.5 6,-.5 6,.1 6,.8 6,1.2 6,1.1 6,.5 6,-.3 6,-1.1 6,-1.3 6,-.9 6,-.2 6,.5 6,.9 6,.6 6,0 6,-.7 6,-1.1 6,-.8 6,-.2 6,.6 6,1.1 6,1.2 6,.8 6,.1 6,-.5 6,-.7 6,-.6 6,-.1 6,.1 4,.2 4,.1 4,.1 4,-.2 4,-.2 4,-.4 4,-.5 4,-.5 4,-.5 4,-.4 4,-.3 4,-.3 4,-.3 4,-.4 4,-.4 4,-.5 4,-.5 4,-.6 3,-.5 3,-.6 3,-.5 3,-.7 3,-.8 3,-.9 3,-1.1 2,-.9 2,-1 2,-1.2 2,-1.3 2,-1.5 2,-1.6 2,-1.6 2,-1.7 2,-1.6 2,-1.4 2,-1.2 2,-.8 2,-.2 2,.4 2,1 2,1.4 2,1.8 2,2 2,2 2,2.1 2,1.9 2,1.8 2,1.6 2,1.4 2,1.2 2,1.1 2,.8 2,.7 2,.6 2,.5 2,.4 3,.4 3,.4 3,.3 3,.3 3,.3 3,.2 3,.2 3,.1 3,0 3,-.1 4,-.3 4,-.3 4,-.3 4,-.2 4,0 4,.3 4,.6 4,.8 6,1.6 6,1.3 6,.8 6,0 6,-.7 6,-.9 6,-.7 6,-.3 6,.2 6,.3 6,.1 6,-.3 6,-.8 6,-.7 6,-.4 6,.2 6,.8 6,1 6,.8 6,.3 6,-.2 6,-.5 6,-.5 6,-.1 6,.3 6,.4 6,.1 6,-.3 6,-.7 2,-.3" stroke="#f19636"/>
<path d="M77.0,967.4l6,-.7 6,-.6 6,-.3 6,.1 6,.4 6,.3 6,.1 6,-.1 6,-.1 6,.3 6,.8 6,1.2 6,1.4 6,.9 6,0 6,-.8 6,-1.5 6,-1.7 6,-1.2 6,-.5 6,.2 6,.5 6,.5 6,.2 6,-.1 6,-.2 6,0 6,.3 6,.4 6,.5 6,.1 6,-.1 6,-.3 6,-.3 6,.1 6,.4 6,.6 6,.6 4,.2 4,0 4,-.3 4,-.4 4,-.6 4,-.6 4,-.6 4,-.6 4,-.5 4,-.3 4,-.4 4,-.2 4,-.3 4,-.2 4,-.3 4,-.3 4,-.4 4,-.4 3,-.3 3,-.4 3,-.5 3,-.6 3,-.8 3,-1 3,-1.2 2,-1 2,-1.1 2,-1.3 2,-1.4 2,-1.5 2,-1.6 2,-1.6 2,-1.6 2,-1.6 2,-1.3 2,-1.1 2,-.6 2,-.1 2,.5 2,1 2,1.5 2,1.8 2,2 2,2.1 2,2.1 2,1.9 2,1.9 2,1.6 2,1.4 2,1.2 2,1 2,.8 2,.6 2,.5 2,.4 2,.2 3,.3 3,.2 3,.2 3,.1 3,.2 3,.2 3,.2 3,.1 3,.1 3,.1 4,-.1 4,-.1 4,-.2 4,-.1 4,-.1 4,.2 4,.4 4,.5 6,.9 6,.7 6,.1 6,-.5 6,-1 6,-.9 6,-.4 6,.3 6,1 6,1.1 6,.8 6,.2 6,-.5 6,-.9 6,-.8 6,-.4 6,.1 6,.4 6,.4 6,.3 6,0 6,.1 6,.1 6,.5 6,.5 6,.4 6,-.1 6,-.7 6,-1.1 2,-.5" stroke="#f19436"/>
<path d="M77.0,975.1l6,-1 6,-.4 6,.1 6,.7 6,.9 6,.6 6,.2 6,-.3 6,-.5 6,-.2 6,.2 6,.8 6,1 6,.7 6,.1 6,-.7 6,-1.2 6,-1.2 6,-.9 6,-.2 6,.3 6,.5 6,.6 6,.2 6,0 6,0 6,0 6,.2 6,.4 6,.4 6,.3 6,0 6,-.1 6,-.2 6,-.3 6,-.2 6,-.3 6,-.3 4,-.2 4,-.2 4,-.2 4,-.2 4,-.1 4,0 4,0 4,.1 4,.1 4,0 4,-.1 4,-.3 4,-.3 4,-.5 4,-.5 4,-.5 4,-.5 4,-.5 3,-.3 3,-.3 3,-.3 3,-.4 3,-.4 3,-.6 3,-.8 2,-.6 2,-.7 2,-.8 2,-1 2,-1 2,-1.1 2,-1.2 2,-1.2 2,-1.1 2,-1 2,-.8 2,-.6 2,-.1 2,.3 2,.6 2,1 2,1.3 2,1.3 2,1.4 2,1.3 2,1.3 2,1.1 2,1 2,.8 2,.7 2,.6 2,.5 2,.4 2,.3 2,.3 2,.2 3,.4 3,.4 3,.4 3,.5 3,.4 3,.4 3,.3 3,.2 3,0 3,0 4,-.3 4,-.4 4,-.3 4,-.2 4,.2 4,.4 4,.8 4,1 6,1.4 6,.9 6,.1 6,-.8 6,-1.3 6,-1 6,-.4 6,.3 6,.9 6,.7 6,.2 6,-.7 6,-1.1 6,-1.1 6,-.6 6,.3 6,1 6,1.3 6,.9 6,.4 6,-.3 6,-.5 6,-.5 6,-.1 6,.2 6,.4 6,.2 6,-.2 6,-.4 2,-.2" stroke="#f09237"/>
<path d="M77.0,983.9l6,-.7 6,-.4 6,.1 6,.4 6,.6 6,.5 6,0 6,-.3 6,-.4 6,-.3 6,.1 6,.4 6,.4 6,.3 6,.1 6,-.3 6,-.4 6,-.3 6,-.2 6,0 6,0 6,-.1 6,-.2 6,-.1 6,.1 6,.4 6,.7 6,.7 6,.4 6,-.1 6,-.4 6,-.7 6,-.6 6,-.3 6,0 6,.2 6,.1 6,-.1 4,-.2 4,-.3 4,-.2 4,-.2 4,.1 4,.2 4,.3 4,.4 4,.3 4,.1 4,-.1 4,-.3 4,-.6 4,-.8 4,-.8 4,-.8 4,-.6 4,-.4 3,-.2 3,-.1 3,-.1 3,-.1 3,-.2 3,-.4 3,-.6 2,-.6 2,-.7 2,-.8 2,-1 2,-1.1 2,-1.2 2,-1.3 2,-1.2 2,-1.3 2,-1.1 2,-1 2,-.6 2,-.3 2,.2 2,.6 2,.9 2,1.2 2,1.4 2,1.4 2,1.4 2,1.4 2,1.3 2,1.2 2,1 2,.9 2,.8 2,.6 2,.5 2,.4 2,.4 2,.2 3,.3 3,.2 3,.2 3,.1 3,.1 3,.2 3,.1 3,0 3,.1 3,0 4,0 4,-.1 4,-.1 4,0 4,0 4,.1 4,.2 4,.2 6,.5 6,.3 6,.2 6,.1 6,.2 6,.2 6,.3 6,.2 6,-.1 6,-.5 6,-.8 6,-.9 6,-.5 6,.1 6,.6 6,.8 6,.6 6,.2 6,-.5 6,-.7 6,-.7 6,-.1 6,.6 6,1 6,.9 6,.5 6,-.2 6,-.7 6,-.9 2,-.3" stroke="#f08f38"/>
<path d="M77.0,992.2l6,-.6 6,-.3 6,0 6,.4 6,.2 6,.1 6,-.2 6,-.3 6,-.1 6,.4 6,.7 6,.8 6,.5 6,0 6,-.7 6,-1.1 6,-.9 6,-.6 6,0 6,.3 6,.5 6,.3 6,.1 6,0 6,.1 6,.3 6,.6 6,.6 6,.3 6,0 6,-.3 6,-.5 6,-.4 6,-.1 6,.2 6,.2 6,0 6,-.4 4,-.5 4,-.6 4,-.6 4,-.5 4,-.4 4,-.2 4,.1 4,.2 4,.3 4,.2 4,.2 4,.1 4,-.1 4,-.3 4,-.3 4,-.4 4,-.4 4,-.4 3,-.2 3,-.3 3,-.3 3,-.4 3,-.5 3,-.6 3,-.8 2,-.7 2,-.8 2,-.8 2,-1 2,-1 2,-1.2 2,-1.2 2,-1.1 2,-1.2 2,-1 2,-.8 2,-.5 2,-.1 2,.2 2,.7 2,1 2,1.2 2,1.3 2,1.4 2,1.4 2,1.2 2,1.2 2,1 2,.9 2,.7 2,.6 2,.5 2,.4 2,.3 2,.2 2,.2 3,.3 3,.1 3,.2 3,.2 3,.1 3,.2 3,.1 3,.1 3,.1 3,0 4,.1 4,.1 4,.2 4,.4 4,.4 4,.6 4,.5 4,.5 6,.3 6,-.1 6,-.6 6,-.7 6,-.3 6,.2 6,.7 6,.9 6,.5 6,0 6,-.7 6,-1.1 6,-1 6,-.4 6,.3 6,.7 6,.9 6,.4 6,0 6,-.6 6,-.5 6,-.3 6,.2 6,.5 6,.6 6,.2 6,-.4 6,-.7 6,-.8 2,-.2" stroke="#ef8c3a"/>
<path d="M77.0,999.2l6,.2 6,.5 6,.7 6,.6 6,.1 6,-.4 6,-.6 6,-.4 6,0 6,.5 6,.8 6,.6 6,.1 6,-.6 6,-1.1 6,-1.1 6,-.6 6,.1 6,.6 6,.8 6,.6 6,.1 6,-.3 6,-.5 6,-.3 6,.2 6,.6 6,.8 6,.6 6,.1 6,-.4 6,-.6 6,-.5 6,-.3 6,0 6,.2 6,0 6,-.1 4,-.3 4,-.3 4,-.3 4,-.3 4,-.1 4,-.1 4,.1 4,.1 4,.1 4,0 4,0 4,-.2 4,-.3 4,-.3 4,-.5 4,-.4 4,-.5 4,-.6 3,-.4 3,-.4 3,-.5 3,-.6 3,-.8 3,-.8 3,-1 2,-.8 2,-.9 2,-.9 2,-1 2,-1.1 2,-1.1 2,-1.2 2,-1 2,-1 2,-.8 2,-.6 2,-.2 2,.3 2,.6 2,1.1 2,1.3 2,1.5 2,1.5 2,1.6 2,1.5 2,1.3 2,1.2 2,1.1 2,.8 2,.8 2,.5 2,.5 2,.3 2,.3 2,.2 2,.1 3,.2 3,0 3,.1 3,0 3,-.1 3,-.1 3,-.1 3,-.1 3,-.2 3,-.1 4,-.2 4,.1 4,.2 4,.5 4,.7 4,.8 4,.8 4,.8 6,.7 6,0 6,-.4 6,-.7 6,-.4 6,.1 6,.5 6,.6 6,.4 6,-.2 6,-.8 6,-.9 6,-.8 6,-.1 6,.4 6,.6 6,.6 6,.2 6,-.4 6,-.6 6,-.6 6,-.1 6,.5 6,.7 6,.7 6,.3 6,-.1 6,-.5 6,-.5 2,-.2" stroke="#ed893c"/>
<path d="M77.0,1006.9l6,.1 6,.5 6,.6 6,.4 6,.1 6,-.2 6,-.2 6,0 6,.4 6,.9 6,.8 6,.6 6,-.1 6,-.8 6,-1.1 6,-1.1 6,-.6 6,-.1 6,.3 6,.5 6,.2 6,0 6,-.2 6,-.1 6,.1 6,.5 6,.6 6,.4 6,0 6,-.3 6,-.6 6,-.3 6,0 6,.4 6,.5 6,.3 6,-.2 6,-.7 4,-.7 4,-.6 4,-.5 4,-.3 4,0 4,.2 4,.3 4,.4 4,.3 4,.2 4,-.2 4,-.4 4,-.7 4,-.9 4,-1.1 4,-1 4,-1 4,-.9 3,-.5 3,-.5 3,-.4 3,-.4 3,-.5 3,-.6 3,-.8 2,-.7 2,-.9 2,-.9 2,-1.2 2,-1.2 2,-1.4 2,-1.5 2,-1.5 2,-1.5 2,-1.3 2,-1 2,-.6 2,-.1 2,.4 2,.9 2,1.4 2,1.5 2,1.7 2,1.7 2,1.7 2,1.6 2,1.4 2,1.4 2,1.1 2,1.1 2,.9 2,.8 2,.8 2,.6 2,.6 2,.5 3,.7 3,.6 3,.4 3,.4 3,.2 3,0 3,0 3,-.2 3,-.3 3,-.2 4,-.3 4,-.2 4,.2 4,.4 4,.7 4,.9 4,.9 4,.9 6,.8 6,.2 6,-.3 6,-.5 6,-.4 6,-.1 6,.2 6,.1 6,-.3 6,-.7 6,-1.1 6,-.8 6,-.4 6,.4 6,.9 6,1 6,.7 6,.3 6,-.3 6,-.4 6,-.1 6,.3 6,.8 6,.8 6,.4 6,-.2 6,-.9 6,-1.2 6,-1.2 2,-.3" stroke="#ec863e"/>
<path d="M77.0,1015.5l6,.3 6,.5 6,.6 6,.3 6,-.2 6,-.6 6,-.5 6,-.2 6,.2 6,.7 6,.6 6,.4 6,-.1 6,-.5 6,-.4 6,-.2 6,.4 6,.7 6,.7 6,.2 6,-.3 6,-.9 6,-1.1 6,-.8 6,-.3 6,.3 6,.7 6,.6 6,.2 6,-.1 6,-.4 6,-.2 6,0 6,.4 6,.5 6,.3 6,-.1 6,-.5 4,-.4 4,-.4 4,-.3 4,-.3 4,0 4,0 4,.1 4,0 4,0 4,-.3 4,-.4 4,-.6 4,-.8 4,-.9 4,-.9 4,-1 4,-.9 4,-.9 3,-.6 3,-.7 3,-.6 3,-.8 3,-.8 3,-1.1 3,-1.3 2,-1 2,-1.1 2,-1.3 2,-1.5 2,-1.6 2,-1.7 2,-1.8 2,-1.8 2,-1.8 2,-1.5 2,-1.1 2,-.6 2,0 2,.7 2,1.3 2,1.8 2,2.2 2,2.3 2,2.3 2,2.2 2,2.1 2,1.9 2,1.7 2,1.5 2,1.3 2,1 2,.9 2,.7 2,.6 2,.5 2,.4 3,.4 3,.4 3,.2 3,.2 3,.1 3,0 3,0 3,.1 3,0 3,.1 4,.2 4,.4 4,.7 4,.9 4,.9 4,.9 4,.9 4,.5 6,.4 6,-.3 6,-.7 6,-.6 6,-.3 6,.1 6,.2 6,0 6,-.4 6,-.8 6,-.9 6,-.6 6,0 6,.6 6,1 6,.9 6,.5 6,0 6,-.3 6,-.3 6,.2 6,.6 6,.8 6,.6 6,.1 6,-.6 6,-1 6,-1.2 6,-.9 2,-.2" stroke="#eb8340"/>
<path d="M77.0,1023.9l6,.4 6,.6 6,.4 6,0 6,-.4 6,-.5 6,-.2 6,.1 6,.6 6,.8 6,.6 6,.2 6,-.3 6,-.6 6,-.5 6,-.2 6,.2 6,.3 6,0 6,-.5 6,-.9 6,-1.1 6,-.7 6,.1 6,.9 6,1.5 6,1.6 6,1.1 6,.3 6,-.6 6,-1 6,-1.1 6,-.8 6,-.4 6,-.1 6,.1 6,-.1 6,-.1 4,-.2 4,0 4,0 4,0 4,.1 4,0 4,0 4,-.2 4,-.4 4,-.6 4,-.7 4,-.9 4,-.8 4,-.9 4,-.8 4,-.7 4,-.7 4,-.6 3,-.5 3,-.5 3,-.6 3,-.8 3,-1 3,-1.3 3,-1.6 2,-1.3 2,-1.5 2,-1.7 2,-1.9 2,-2.1 2,-2.3 2,-2.4 2,-2.4 2,-2.3 2,-2.1 2,-1.7 2,-1 2,-.3 2,.5 2,1.4 2,2 2,2.4 2,2.8 2,2.8 2,2.9 2,2.6 2,2.5 2,2.3 2,2 2,1.8 2,1.5 2,1.3 2,1.2 2,.9 2,.8 2,.6 3,.8 3,.6 3,.3 3,.3 3,.1 3,.1 3,-.1 3,0 3,-.1 3,0 4,.1 4,.3 4,.4 4,.5 4,.6 4,.6 4,.4 4,.3 6,.2 6,-.1 6,0 6,.4 6,.8 6,.9 6,.7 6,-.1 6,-.9 6,-1.5 6,-1.4 6,-1 6,0 6,.8 6,1.2 6,1.2 6,.7 6,.1 6,-.4 6,-.4 6,-.4 6,-.2 6,-.1 6,-.2 6,-.4 6,-.5 6,-.4 6,-.1 6,.5 2,.3" stroke="#ea8042"/>
<path d="M77.0,1033.1l6,-.7 6,-.5 6,-.1 6,.3 6,.6 6,.6 6,.5 6,.1 6,0 6,-.2 6,-.3 6,-.3 6,-.5 6,-.4 6,-.3 6,0 6,.4 6,.8 6,.7 6,.5 6,.1 6,-.4 6,-.5 6,-.3 6,0 6,.3 6,.3 6,.1 6,-.2 6,-.5 6,-.6 6,-.3 6,.1 6,.1 6,0 6,-.5 6,-.9 6,-1.1 4,-.6 4,-.3 4,.1 4,.5 4,.7 4,.9 4,.7 4,.5 4,0 4,-.4 4,-.7 4,-1.1 4,-1.2 4,-1.2 4,-1.2 4,-1 4,-.9 4,-.8 3,-.8 3,-.8 3,-1 3,-1.2 3,-1.4 3,-1.8 3,-2.1 2,-1.7 2,-1.8 2,-2 2,-2.1 2,-2.4 2,-2.5 2,-2.5 2,-2.6 2,-2.5 2,-2.3 2,-1.8 2,-1.2 2,-.3 2,.5 2,1.5 2,2.1 2,2.7 2,3 2,3 2,3 2,2.8 2,2.6 2,2.2 2,2.1 2,1.7 2,1.6 2,1.3 2,1.2 2,1.1 2,1 2,1 3,1.3 3,1.3 3,1.2 3,1.1 3,.8 3,.7 3,.5 3,.2 3,.1 3,0 4,-.1 4,.1 4,.2 4,.6 4,.8 4,.8 4,.8 4,.5 6,0 6,-.8 6,-1 6,-.6 6,.2 6,.9 6,1 6,.5 6,-.6 6,-1.4 6,-1.7 6,-1.1 6,0 6,1 6,1.6 6,1.4 6,.6 6,-.3 6,-.6 6,-.5 6,.1 6,.5 6,.7 6,.3 6,-.4 6,-.9 6,-.9 6,-.5 6,.1 2,.2" stroke="#e97d44"/>
<path d="M77.0,1040.3l6,.7 6,.6 6,.2 6,-.2 6,-.3 6,-.1 6,.3 6,.7 6,.9 6,.6 6,0 6,-.8 6,-1.2 6,-1.3 6,-.8 6,-.2 6,.4 6,.6 6,.5 6,.2 6,0 6,-.1 6,.1 6,.4 6,.6 6,.4 6,0 6,-.4 6,-.8 6,-.7 6,-.4 6,.1 6,.5 6,.5 6,.2 6,-.4 6,-.7 6,-.9 4,-.4 4,-.3 4,-.2 4,.1 4,.1 4,.2 4,0 4,-.2 4,-.4 4,-.7 4,-.9 4,-1 4,-1.1 4,-1.1 4,-1 4,-.9 4,-.9 4,-.8 3,-.6 3,-.6 3,-.7 3,-.9 3,-1.1 3,-1.4 3,-1.9 2,-1.6 2,-1.8 2,-2.2 2,-2.4 2,-2.8 2,-3 2,-3.2 2,-3.4 2,-3.3 2,-3.1 2,-2.7 2,-2 2,-1.1 2,.1 2,1.1 2,2.2 2,2.9 2,3.4 2,3.7 2,3.7 2,3.7 2,3.4 2,3.2 2,2.9 2,2.6 2,2.2 2,2 2,1.7 2,1.4 2,1.3 2,1 3,1.2 3,.8 3,.7 3,.4 3,.3 3,.3 3,.2 3,.2 3,.3 3,.3 4,.5 4,.7 4,.8 4,.8 4,.7 4,.4 4,.2 4,0 6,-.4 6,-.5 6,-.3 6,.2 6,.7 6,.7 6,.4 6,0 6,-.5 6,-.7 6,-.6 6,-.2 6,.3 6,.3 6,.3 6,-.1 6,-.4 6,-.4 6,0 6,.5 6,.8 6,.9 6,.5 6,-.1 6,-.6 6,-.9 6,-.8 6,-.3 6,.3 2,.1" stroke="#e87a47"/>
<path d="M77.0,1049.4l6,0 6,-.1 6,-.3 6,-.5 6,-.3 6,.1 6,.6 6,.9 6,1 6,.6 6,.1 6,-.5 6,-.8 6,-.7 6,-.4 6,.1 6,.2 6,.1 6,-.2 6,-.5 6,-.4 6,-.2 6,.3 6,.7 6,.8 6,.6 6,.2 6,-.4 6,-.5 6,-.5 6,-.2 6,.1 6,.1 6,0 6,-.6 6,-.9 6,-1 6,-.8 4,-.2 4,0 4,.3 4,.5 4,.4 4,.4 4,.1 4,-.1 4,-.5 4,-.7 4,-1 4,-1 4,-1.1 4,-1.1 4,-1 4,-1.1 4,-1 4,-1.1 3,-.9 3,-1 3,-1.2 3,-1.4 3,-1.6 3,-2 3,-2.5 2,-1.9 2,-2.3 2,-2.5 2,-2.7 2,-3.1 2,-3.4 2,-3.5 2,-3.6 2,-3.7 2,-3.3 2,-2.9 2,-2.2 2,-1.1 2,.2 2,1.3 2,2.6 2,3.4 2,4.1 2,4.4 2,4.4 2,4.3 2,4.1 2,3.7 2,3.4 2,2.9 2,2.6 2,2.1 2,1.8 2,1.5 2,1.2 2,1 3,1.1 3,.8 3,.6 3,.5 3,.4 3,.5 3,.5 3,.5 3,.6 3,.7 4,.9 4,.9 4,.7 4,.5 4,.2 4,-.1 4,-.4 4,-.6 6,-.9 6,-.5 6,.2 6,.8 6,1.1 6,.8 6,.3 6,-.5 6,-.7 6,-.6 6,0 6,.7 6,1.1 6,1 6,.4 6,-.4 6,-1 6,-1.1 6,-.7 6,-.2 6,.5 6,.7 6,.6 6,0 6,-.4 6,-.5 6,-.4 6,0 6,.4 2,.2" stroke="#e67848"/>
<path d="M77.0,1057.8l6,.8 6,.5 6,0 6,-.3 6,-.4 6,-.1 6,.1 6,.4 6,.2 6,-.2 6,-.5 6,-.9 6,-.7 6,-.4 6,0 6,.4 6,.4 6,.2 6,-.3 6,-.4 6,-.2 6,.3 6,.9 6,1.2 6,1.1 6,.6 6,-.3 6,-1.1 6,-1.3 6,-1.1 6,-.5 6,0 6,.4 6,.3 6,0 6,-.4 6,-.7 6,-.7 4,-.3 4,-.2 4,0 4,0 4,.1 4,0 4,-.1 4,-.2 4,-.4 4,-.6 4,-.7 4,-.9 4,-1 4,-1.1 4,-1.2 4,-1.3 4,-1.5 4,-1.5 3,-1.2 3,-1.3 3,-1.3 3,-1.5 3,-1.6 3,-2 3,-2.3 2,-1.8 2,-2.1 2,-2.4 2,-2.8 2,-3 2,-3.4 2,-3.6 2,-3.9 2,-3.8 2,-3.7 2,-3.3 2,-2.5 2,-1.5 2,-.2 2,1.2 2,2.4 2,3.5 2,4.2 2,4.6 2,4.7 2,4.6 2,4.4 2,4 2,3.6 2,3.1 2,2.7 2,2.3 2,1.9 2,1.6 2,1.2 2,1 3,1.1 3,.8 3,.6 3,.4 3,.5 3,.5 3,.5 3,.7 3,.8 3,.8 4,1.2 4,1.3 4,1.1 4,.9 4,.6 4,.3 4,0 4,-.2 6,-.5 6,-.3 6,0 6,.3 6,.3 6,.1 6,-.4 6,-.8 6,-.9 6,-.4 6,.1 6,.8 6,1.2 6,1.1 6,.7 6,.2 6,0 6,-.1 6,0 6,.2 6,0 6,-.3 6,-.9 6,-1.3 6,-1.4 6,-1 6,-.2 6,.7 6,1.1 2,.5" stroke="#e5764a"/>
<path d="M77.0,1066.0l6,.5 6,0 6,-.4 6,-.5 6,-.3 6,.3 6,.8 6,.9 6,.7 6,.1 6,-.5 6,-1.1 6,-1.1 6,-.8 6,-.2 6,.1 6,.4 6,.2 6,.2 6,.1 6,.3 6,.6 6,.7 6,.7 6,.3 6,-.4 6,-1 6,-1.3 6,-1 6,-.4 6,.2 6,.6 6,.7 6,.3 6,-.2 6,-.7 6,-.8 6,-.6 4,-.3 4,-.1 4,0 4,0 4,0 4,-.2 4,-.3 4,-.5 4,-.7 4,-.8 4,-.9 4,-.9 4,-1 4,-1 4,-1.1 4,-1.2 4,-1.2 4,-1.5 3,-1.1 3,-1.3 3,-1.3 3,-1.6 3,-1.8 3,-2.1 3,-2.6 2,-2 2,-2.4 2,-2.7 2,-3.1 2,-3.4 2,-3.8 2,-4.2 2,-4.3 2,-4.4 2,-4.2 2,-3.9 2,-3.1 2,-1.9 2,-.6 2,.9 2,2.5 2,3.6 2,4.5 2,5.1 2,5.2 2,5.2 2,5 2,4.5 2,4.2 2,3.6 2,3.2 2,2.7 2,2.2 2,1.9 2,1.5 2,1.2 3,1.4 3,.9 3,.8 3,.6 3,.7 3,.6 3,.7 3,.8 3,.9 3,.9 4,1.3 4,1.1 4,.9 4,.7 4,.2 4,0 4,-.2 4,-.4 6,-.4 6,0 6,.6 6,1 6,.9 6,.4 6,-.3 6,-.9 6,-1.1 6,-.9 6,-.3 6,.3 6,.5 6,.6 6,.4 6,.3 6,.2 6,.3 6,.6 6,.6 6,.4 6,-.2 6,-.8 6,-1.1 6,-1.1 6,-.6 6,-.1 6,.6 6,.7 2,.2" stroke="#e4744c"/>
<path d="M77.0,1075.4l6,.3 6,-.2 6,-.5 6,-.5 6,-.2 6,.1 6,.3 6,.2 6,-.2 6,-.6 6,-.8 6,-.7 6,-.3 6,.4 6,.8 6,.8 6,.5 6,0 6,-.4 6,-.5 6,-.2 6,.3 6,.6 6,.7 6,.4 6,-.2 6,-.7 6,-.9 6,-.7 6,-.2 6,.3 6,.4 6,.3 6,-.3 6,-.7 6,-1 6,-.9 6,-.6 4,-.1 4,0 4,.2 4,.1 4,.1 4,0 4,-.1 4,-.4 4,-.4 4,-.7 4,-.7 4,-.9 4,-1 4,-1.1 4,-1.3 4,-1.5 4,-1.7 4,-1.8 3,-1.4 3,-1.5 3,-1.6 3,-1.8 3,-1.9 3,-2.3 3,-2.7 2,-2.2 2,-2.5 2,-2.9 2,-3.3 2,-3.7 2,-4.1 2,-4.4 2,-4.7 2,-4.9 2,-4.7 2,-4.4 2,-3.6 2,-2.5 2,-1 2,.6 2,2.3 2,3.7 2,4.8 2,5.4 2,5.7 2,5.8 2,5.5 2,5.1 2,4.7 2,4.2 2,3.7 2,3.1 2,2.7 2,2.2 2,1.8 2,1.5 3,1.8 3,1.2 3,1 3,.8 3,.7 3,.7 3,.7 3,.8 3,.8 3,.8 4,1.1 4,1 4,.8 4,.6 4,.4 4,.1 4,0 4,0 6,0 6,.2 6,.5 6,.4 6,.2 6,-.4 6,-.7 6,-.8 6,-.4 6,.1 6,.7 6,1 6,.7 6,.3 6,-.2 6,-.5 6,-.4 6,-.1 6,.4 6,.6 6,.4 6,-.1 6,-.6 6,-.9 6,-.7 6,-.2 6,.3 6,.8 6,.8 2,.2" stroke="#e3724e"/>
<path d="M77.0,1083.3l6,.1 6,0 6,-.1 6,.2 6,.2 6,.3 6,-.1 6,-.5 6,-1 6,-1.3 6,-1.1 6,-.5 6,.2 6,.9 6,1.1 6,.8 6,.3 6,-.3 6,-.3 6,-.2 6,.4 6,.9 6,1 6,.6 6,-.1 6,-.9 6,-1.2 6,-1.1 6,-.6 6,0 6,.5 6,.4 6,0 6,-.6 6,-1 6,-.9 6,-.5 6,.2 4,.3 4,.4 4,.4 4,.2 4,-.1 4,-.4 4,-.6 4,-.9 4,-1 4,-1 4,-1.1 4,-1 4,-1 4,-1.1 4,-1.2 4,-1.4 4,-1.6 4,-1.7 3,-1.5 3,-1.5 3,-1.6 3,-1.8 3,-2 3,-2.3 3,-2.8 2,-2.2 2,-2.5 2,-3 2,-3.4 2,-3.8 2,-4.3 2,-4.7 2,-5.1 2,-5.2 2,-5.2 2,-4.9 2,-4.2 2,-3 2,-1.6 2,.2 2,2 2,3.5 2,4.8 2,5.6 2,6 2,6 2,5.9 2,5.5 2,5 2,4.6 2,4 2,3.5 2,3 2,2.5 2,2.2 2,1.8 3,2.2 3,1.7 3,1.4 3,1.2 3,1.1 3,1 3,1 3,.9 3,.8 3,.7 4,.8 4,.7 4,.4 4,.3 4,.1 4,.1 4,0 4,.1 6,.4 6,.6 6,.6 6,.5 6,.1 6,-.2 6,-.4 6,-.2 6,0 6,.5 6,.5 6,.3 6,0 6,-.5 6,-.7 6,-.5 6,-.1 6,.5 6,.8 6,.6 6,.1 6,-.5 6,-.9 6,-.7 6,-.2 6,.4 6,1 6,.9 6,.6 2,.1" stroke="#e27050"/>
<path d="M77.0,1091.8l6,-.2 6,-.4 6,-.3 6,-.2 6,.3 6,.3 6,.3 6,-.1 6,-.7 6,-.9 6,-1 6,-.5 6,.1 6,.7 6,.8 6,.7 6,.3 6,-.1 6,-.2 6,-.1 6,.3 6,.6 6,.6 6,.2 6,-.3 6,-.9 6,-1 6,-.6 6,-.2 6,.4 6,.6 6,.4 6,-.1 6,-.7 6,-1.1 6,-1 6,-.7 6,-.2 4,.1 4,.2 4,.2 4,.1 4,0 4,-.1 4,-.2 4,-.4 4,-.5 4,-.6 4,-.8 4,-.9 4,-1.2 4,-1.4 4,-1.7 4,-2 4,-2.2 4,-2.3 3,-1.8 3,-1.8 3,-1.9 3,-1.9 3,-2.1 3,-2.4 3,-2.9 2,-2.3 2,-2.6 2,-3.1 2,-3.6 2,-4 2,-4.5 2,-5 2,-5.4 2,-5.6 2,-5.6 2,-5.3 2,-4.6 2,-3.5 2,-2 2,-.1 2,1.9 2,3.6 2,5.1 2,6 2,6.5 2,6.7 2,6.5 2,6.1 2,5.6 2,5 2,4.5 2,3.8 2,3.3 2,2.7 2,2.3 2,1.9 3,2.2 3,1.7 3,1.4 3,1.2 3,1 3,1.1 3,1 3,1.1 3,1 3,1 4,1.2 4,.9 4,.7 4,.5 4,.2 4,.1 4,0 4,.1 6,.4 6,.5 6,.5 6,.2 6,-.2 6,-.7 6,-.9 6,-.6 6,0 6,.6 6,.9 6,.8 6,.6 6,0 6,-.2 6,-.1 6,.1 6,.4 6,.4 6,.2 6,-.4 6,-.9 6,-1.2 6,-1 6,-.3 6,.5 6,1 6,1.2 6,.8 2,.1" stroke="#e06e51"/>
<path d="M77.0,1098.9l6,.4 6,.2 6,.3 6,.3 6,.5 6,.4 6,-.1 6,-.6 6,-1.1 6,-1.2 6,-.9 6,-.4 6,.3 6,.8 6,.8 6,.5 6,.1 6,-.3 6,-.3 6,.1 6,.3 6,.6 6,.4 6,-.2 6,-.6 6,-1 6,-.9 6,-.3 6,.3 6,.8 6,.9 6,.5 6,-.1 6,-.6 6,-.9 6,-.9 6,-.6 6,-.2 4,-.1 4,-.1 4,-.1 4,-.2 4,-.3 4,-.4 4,-.5 4,-.4 4,-.5 4,-.5 4,-.6 4,-.8 4,-1.1 4,-1.4 4,-1.8 4,-2.1 4,-2.3 4,-2.6 3,-2 3,-2.1 3,-2.1 3,-2.1 3,-2.3 3,-2.6 3,-3.1 2,-2.4 2,-2.8 2,-3.2 2,-3.7 2,-4.2 2,-4.7 2,-5.2 2,-5.6 2,-5.8 2,-6 2,-5.6 2,-5 2,-3.9 2,-2.3 2,-.3 2,1.8 2,3.7 2,5.3 2,6.5 2,7 2,7.2 2,7.1 2,6.7 2,6.2 2,5.5 2,4.9 2,4.2 2,3.5 2,3 2,2.4 2,2 3,2.2 3,1.7 3,1.2 3,1 3,.9 3,.8 3,.9 3,.9 3,.8 3,.9 4,1.1 4,1 4,.8 4,.6 4,.6 4,.5 4,.4 4,.5 6,.9 6,.8 6,.4 6,0 6,-.5 6,-.9 6,-.8 6,-.4 6,.3 6,.8 6,1 6,.7 6,.2 6,-.3 6,-.4 6,-.3 6,.1 6,.3 6,.4 6,.1 6,-.5 6,-.9 6,-1 6,-.6 6,.1 6,.7 6,1.1 6,.9 6,.6 2,0" stroke="#df6c53"/>
<path d="M77.0,1108.3l6,-.4 6,-.5 6,0 6,.4 6,.6 6,.6 6,.1 6,-.5 6,-1.1 6,-1.3 6,-.9 6,-.2 6,.4 6,.7 6,.6 6,.1 6,-.3 6,-.4 6,-.3 6,.3 6,.8 6,1 6,.6 6,0 6,-.8 6,-1.1 6,-.9 6,-.4 6,.4 6,.8 6,.9 6,.4 6,-.3 6,-.8 6,-1.1 6,-.9 6,-.5 6,0 4,.1 4,0 4,.1 4,-.2 4,-.2 4,-.4 4,-.5 4,-.6 4,-.6 4,-.8 4,-.8 4,-1.1 4,-1.3 4,-1.6 4,-1.9 4,-2.2 4,-2.5 4,-2.6 3,-2 3,-2.1 3,-2.1 3,-2.2 3,-2.3 3,-2.7 3,-3.1 2,-2.5 2,-2.8 2,-3.3 2,-3.8 2,-4.4 2,-4.9 2,-5.4 2,-5.8 2,-6.2 2,-6.3 2,-6.1 2,-5.5 2,-4.5 2,-2.8 2,-.9 2,1.4 2,3.5 2,5.3 2,6.5 2,7.3 2,7.6 2,7.4 2,7.1 2,6.6 2,5.9 2,5.3 2,4.5 2,3.9 2,3.3 2,2.8 2,2.2 3,2.8 3,2.1 3,1.8 3,1.5 3,1.3 3,1.3 3,1.2 3,1.1 3,1 3,.9 4,.9 4,.7 4,.3 4,.2 4,.1 4,.1 4,.2 4,.4 6,.7 6,.8 6,.6 6,0 6,-.3 6,-.4 6,-.1 6,.5 6,.9 6,1.2 6,.8 6,.1 6,-.6 6,-.9 6,-.8 6,-.2 6,.4 6,.9 6,.7 6,0 6,-.7 6,-1.3 6,-1.3 6,-.8 6,0 6,.8 6,1.1 6,.9 6,.5 2,.1" stroke="#de6a55"/>
<path d="M77.0,1113.8l6,-.4 6,0 6,.5 6,.9 6,1.2 6,.9 6,.5 6,-.1 6,-.5 6,-.6 6,-.5 6,-.2 6,0 6,-.1 6,-.3 6,-.7 6,-.8 6,-.4 6,0 6,.7 6,1.1 6,.9 6,.5 6,-.1 6,-.7 6,-.8 6,-.4 6,.1 6,.5 6,.6 6,.4 6,-.1 6,-.6 6,-.8 6,-.7 6,-.4 6,-.1 6,0 4,-.2 4,-.2 4,-.5 4,-.5 4,-.7 4,-.6 4,-.6 4,-.4 4,-.4 4,-.5 4,-.5 4,-.7 4,-1.1 4,-1.4 4,-1.9 4,-2.2 4,-2.4 4,-2.6 3,-2 3,-2 3,-2 3,-2.1 3,-2.3 3,-2.6 3,-3.1 2,-2.5 2,-2.9 2,-3.3 2,-3.9 2,-4.5 2,-5.1 2,-5.6 2,-6.1 2,-6.5 2,-6.6 2,-6.5 2,-5.9 2,-4.9 2,-3.3 2,-1.2 2,1 2,3.2 2,5.1 2,6.5 2,7.3 2,7.7 2,7.7 2,7.3 2,6.8 2,6.1 2,5.5 2,4.7 2,4.1 2,3.4 2,2.8 2,2.4 3,2.8 3,2.1 3,1.7 3,1.5 3,1.3 3,1.3 3,1.2 3,1.2 3,1.2 3,1.1 4,1.4 4,1.3 4,1 4,.9 4,.8 4,.6 4,.7 4,.5 6,.7 6,.2 6,-.3 6,-.9 6,-1.2 6,-1.1 6,-.6 6,.1 6,.8 6,1.1 6,1 6,.6 6,.1 6,-.2 6,0 6,.2 6,.4 6,.4 6,0 6,-.5 6,-1 6,-1 6,-.7 6,0 6,.6 6,1 6,.9 6,.4 6,-.1 2,-.1" stroke="#dd6857"/>
<path d="M77.0,1124.2l6,-.2 6,0 6,.3 6,.6 6,.5 6,.1 6,-.5 6,-1.1 6,-1.2 6,-1.1 6,-.5 6,.1 6,.5 6,.6 6,.5 6,.2 6,.1 6,.1 6,.4 6,.6 6,.6 6,.3 6,-.2 6,-.5 6,-.7 6,-.4 6,-.1 6,.4 6,.4 6,.1 6,-.5 6,-1.1 6,-1.2 6,-.9 6,-.3 6,.4 6,.9 6,.7 4,.2 4,-.1 4,-.3 4,-.7 4,-.7 4,-.8 4,-.8 4,-.7 4,-.5 4,-.5 4,-.6 4,-.7 4,-1 4,-1.3 4,-1.7 4,-2.1 4,-2.4 4,-2.6 3,-2.1 3,-2.1 3,-2.2 3,-2.4 3,-2.5 3,-3 3,-3.5 2,-2.7 2,-3.1 2,-3.7 2,-4.1 2,-4.7 2,-5.3 2,-5.8 2,-6.3 2,-6.6 2,-6.8 2,-6.6 2,-6 2,-4.9 2,-3.4 2,-1.2 2,1 2,3.4 2,5.3 2,6.7 2,7.7 2,8 2,7.9 2,7.6 2,7.1 2,6.4 2,5.7 2,5 2,4.2 2,3.6 2,3 2,2.5 3,3 3,2.3 3,1.9 3,1.6 3,1.4 3,1.4 3,1.3 3,1.3 3,1.2 3,1.1 4,1.3 4,1.1 4,.8 4,.5 4,.4 4,.3 4,.2 4,.1 6,.1 6,0 6,-.3 6,-.3 6,-.3 6,0 6,.4 6,.8 6,.8 6,.5 6,.1 6,-.4 6,-.7 6,-.4 6,.1 6,.7 6,.9 6,.8 6,.2 6,-.5 6,-1.1 6,-1.1 6,-.7 6,.1 6,.7 6,1 6,.7 6,.2 6,-.3 2,-.2" stroke="#dc6559"/>
<path d="M77.0,1131.0l6,-.2 6,.1 6,.6 6,.8 6,.6 6,.2 6,-.4 6,-.8 6,-.8 6,-.5 6,0 6,.4 6,.7 6,.5 6,.1 6,-.4 6,-.4 6,-.3 6,0 6,.3 6,.5 6,.3 6,-.1 6,-.3 6,-.4 6,-.2 6,.1 6,.2 6,.2 6,-.1 6,-.5 6,-.8 6,-.6 6,-.2 6,.3 6,.6 6,.4 6,0 4,-.3 4,-.7 4,-.8 4,-.8 4,-.7 4,-.5 4,-.3 4,-.1 4,0 4,-.1 4,-.3 4,-.7 4,-1.3 4,-1.9 4,-2.4 4,-2.8 4,-3 4,-3.1 3,-2.4 3,-2.2 3,-2.2 3,-2.3 3,-2.3 3,-2.6 3,-3.1 2,-2.5 2,-2.9 2,-3.4 2,-3.9 2,-4.6 2,-5.1 2,-5.8 2,-6.3 2,-6.7 2,-6.9 2,-6.8 2,-6.3 2,-5.2 2,-3.7 2,-1.6 2,.8 2,3 2,5.1 2,6.7 2,7.5 2,8 2,8.1 2,7.7 2,7.3 2,6.6 2,6 2,5.2 2,4.6 2,3.9 2,3.4 2,2.9 3,3.5 3,2.8 3,2.3 3,1.8 3,1.6 3,1.4 3,1.1 3,.9 3,.8 3,.5 4,.5 4,.3 4,.2 4,.3 4,.3 4,.4 4,.7 4,.7 6,1 6,.7 6,.1 6,-.4 6,-.7 6,-.5 6,.1 6,.7 6,1 6,1 6,.6 6,.1 6,-.4 6,-.4 6,-.4 6,0 6,0 6,.1 6,-.2 6,-.5 6,-.4 6,-.3 6,.1 6,.4 6,.6 6,.3 6,0 6,-.4 6,-.4 2,-.1" stroke="#da635b"/>
<path d="M77.0,1138.9l6,.3 6,.5 6,.3 6,.1 6,-.4 6,-.7 6,-.8 6,-.5 6,.1 6,.7 6,1.2 6,1.2 6,.9 6,.3 6,-.3 6,-.4 6,-.2 6,.2 6,.5 6,.5 6,0 6,-.9 6,-1.6 6,-1.9 6,-1.5 6,-.5 6,.4 6,1.1 6,1.2 6,.7 6,0 6,-.6 6,-.7 6,-.3 6,.3 6,.8 6,1 6,.5 4,0 4,-.4 4,-.6 4,-.8 4,-.8 4,-.7 4,-.6 4,-.5 4,-.4 4,-.4 4,-.7 4,-.9 4,-1.4 4,-1.8 4,-2.2 4,-2.6 4,-2.8 4,-2.9 3,-2.2 3,-2.2 3,-2.2 3,-2.2 3,-2.4 3,-2.7 3,-3.2 2,-2.5 2,-2.9 2,-3.4 2,-4 2,-4.4 2,-5.1 2,-5.6 2,-6.1 2,-6.5 2,-6.6 2,-6.5 2,-5.9 2,-4.9 2,-3.3 2,-1.3 2,1 2,3.3 2,5.1 2,6.6 2,7.4 2,7.8 2,7.8 2,7.5 2,7 2,6.4 2,5.7 2,5.1 2,4.5 2,3.8 2,3.2 2,2.8 3,3.5 3,2.7 3,2.2 3,1.7 3,1.5 3,1.2 3,1 3,.7 3,.6 3,.5 4,.4 4,.2 4,.3 4,.4 4,.4 4,.7 4,.7 4,.7 6,.9 6,.3 6,-.3 6,-.6 6,-.5 6,-.1 6,.5 6,.9 6,.9 6,.4 6,-.3 6,-.8 6,-.9 6,-.5 6,.1 6,.8 6,1 6,.7 6,.1 6,-.5 6,-.8 6,-.7 6,-.2 6,.4 6,.9 6,.8 6,.5 6,.1 6,-.3 2,-.2" stroke="#d9615c"/>
<path d="M77.0,1149.3l6,-.1 6,-.2 6,-.3 6,-.5 6,-.5 6,-.5 6,-.5 6,-.3 6,-.1 6,.3 6,.6 6,.9 6,.8 6,.6 6,.2 6,-.2 6,-.4 6,-.4 6,-.3 6,0 6,.1 6,.1 6,-.2 6,-.5 6,-.6 6,-.4 6,-.2 6,.2 6,.3 6,.3 6,0 6,-.4 6,-.4 6,-.3 6,0 6,.5 6,.8 6,.6 4,.1 4,-.1 4,-.3 4,-.5 4,-.6 4,-.7 4,-.8 4,-.7 4,-.8 4,-.8 4,-1.1 4,-1.3 4,-1.6 4,-2 4,-2.2 4,-2.4 4,-2.5 4,-2.4 3,-1.7 3,-1.6 3,-1.7 3,-1.7 3,-1.9 3,-2.2 3,-2.9 2,-2.3 2,-2.8 2,-3.2 2,-3.9 2,-4.3 2,-5 2,-5.5 2,-6 2,-6.3 2,-6.4 2,-6.2 2,-5.7 2,-4.5 2,-3 2,-1 2,1.3 2,3.3 2,5.1 2,6.5 2,7.2 2,7.5 2,7.4 2,7.1 2,6.6 2,5.9 2,5.4 2,4.6 2,3.9 2,3.4 2,2.9 2,2.3 3,2.9 3,2.2 3,1.8 3,1.6 3,1.4 3,1.2 3,1.2 3,1 3,.9 3,.7 4,.6 4,.4 4,.1 4,-.1 4,-.1 4,0 4,.2 4,.3 6,.7 6,.7 6,.4 6,.2 6,.1 6,.3 6,.7 6,1.1 6,1.1 6,.7 6,-.1 6,-.9 6,-1.2 6,-1.1 6,-.4 6,.2 6,.6 6,.5 6,0 6,-.5 6,-.8 6,-.5 6,.1 6,.7 6,1 6,.8 6,.1 6,-.3 6,-.5 2,-.2" stroke="#d85e5e"/>
<path d="M77.0,1156.9l6,0 6,.1 6,.1 6,-.1 6,-.4 6,-.6 6,-.6 6,-.3 6,.1 6,.5 6,.8 6,.5 6,.1 6,-.4 6,-.6 6,-.5 6,-.2 6,.4 6,.6 6,.6 6,.1 6,-.4 6,-.7 6,-.6 6,-.2 6,.3 6,.8 6,.7 6,.4 6,-.1 6,-.6 6,-.7 6,-.4 6,-.1 6,.2 6,.2 6,-.2 6,-.5 4,-.6 4,-.6 4,-.5 4,-.3 4,-.2 4,-.1 4,0 4,0 4,-.2 4,-.6 4,-.9 4,-1.4 4,-1.7 4,-2 4,-2.2 4,-2.3 4,-2.1 4,-2 3,-1.3 3,-1.3 3,-1.4 3,-1.4 3,-1.7 3,-2.1 3,-2.7 2,-2.3 2,-2.7 2,-3.1 2,-3.7 2,-4.2 2,-4.8 2,-5.3 2,-5.7 2,-6 2,-6 2,-5.9 2,-5.2 2,-4.2 2,-2.6 2,-.7 2,1.3 2,3.2 2,4.8 2,6 2,6.7 2,6.8 2,6.8 2,6.5 2,6 2,5.5 2,4.8 2,4.3 2,3.7 2,3.2 2,2.6 2,2.3 3,2.7 3,2.2 3,1.6 3,1.4 3,1.2 3,.9 3,.8 3,.7 3,.6 3,.4 4,.6 4,.5 4,.4 4,.6 4,.5 4,.6 4,.6 4,.6 6,.5 6,.2 6,.1 6,0 6,.2 6,.5 6,.6 6,.6 6,.1 6,-.4 6,-.7 6,-.7 6,-.4 6,.2 6,.6 6,.7 6,.4 6,0 6,-.6 6,-.7 6,-.5 6,-.2 6,.2 6,.3 6,.2 6,-.1 6,-.3 6,-.2 6,.3 2,.2" stroke="#d65c60"/>
<path d="M77.0,1165.7l6,-.4 6,-.4 6,-.5 6,-.5 6,-.4 6,-.4 6,-.1 6,.2 6,.5 6,.6 6,.5 6,.2 6,-.3 6,-.5 6,-.3 6,.1 6,.7 6,1 6,.9 6,.3 6,-.5 6,-1.1 6,-1.4 6,-.9 6,-.3 6,.6 6,1 6,.9 6,.4 6,-.2 6,-.8 6,-.9 6,-.6 6,-.2 6,0 6,.2 6,0 6,-.2 4,-.2 4,-.2 4,-.1 4,0 4,.1 4,.1 4,.1 4,0 4,-.3 4,-.6 4,-1 4,-1.4 4,-1.6 4,-1.9 4,-1.9 4,-1.9 4,-1.9 4,-1.9 3,-1.3 3,-1.5 3,-1.5 3,-1.7 3,-2.1 3,-2.5 3,-3.1 2,-2.4 2,-2.9 2,-3.2 2,-3.8 2,-4.1 2,-4.7 2,-5 2,-5.3 2,-5.5 2,-5.5 2,-5.2 2,-4.5 2,-3.4 2,-1.9 2,-.1 2,1.8 2,3.6 2,5 2,6 2,6.5 2,6.6 2,6.5 2,6.1 2,5.6 2,5.1 2,4.5 2,3.8 2,3.3 2,2.8 2,2.3 2,1.9 3,2.2 3,1.6 3,1.3 3,1 3,.8 3,.7 3,.7 3,.7 3,.7 3,.7 4,.9 4,1 4,1 4,.9 4,.9 4,.6 4,.5 4,.1 6,-.3 6,-.7 6,-.9 6,-.6 6,-.1 6,.6 6,.8 6,.7 6,.4 6,-.3 6,-.5 6,-.5 6,-.2 6,.3 6,.8 6,.7 6,.5 6,0 6,-.3 6,-.4 6,-.1 6,.2 6,.4 6,.3 6,-.1 6,-.4 6,-.6 6,-.6 6,-.2 2,.1" stroke="#d55a62"/>
<path d="M77.0,1171.1l6,-.6 6,-.1 6,.3 6,.4 6,.5 6,.4 6,.4 6,.6 6,.7 6,.8 6,.5 6,.2 6,-.2 6,-.6 6,-.6 6,-.6 6,-.2 6,-.1 6,0 6,-.3 6,-.4 6,-.6 6,-.4 6,-.1 6,.3 6,.4 6,.3 6,-.1 6,-.3 6,-.3 6,-.1 6,.5 6,1 6,1.2 6,.9 6,.1 6,-.7 6,-1.2 4,-1 4,-.8 4,-.6 4,-.2 4,-.1 4,.1 4,.2 4,-.1 4,-.3 4,-.8 4,-1.1 4,-1.6 4,-1.8 4,-1.9 4,-2 4,-1.8 4,-1.7 4,-1.6 3,-1.1 3,-1.1 3,-1.2 3,-1.3 3,-1.6 3,-2.1 3,-2.7 2,-2.1 2,-2.5 2,-2.9 2,-3.4 2,-3.7 2,-4.2 2,-4.6 2,-4.8 2,-5 2,-4.9 2,-4.6 2,-4 2,-2.9 2,-1.4 2,.2 2,2 2,3.5 2,4.7 2,5.6 2,6 2,6 2,5.9 2,5.4 2,5.1 2,4.4 2,3.9 2,3.4 2,2.8 2,2.3 2,1.9 2,1.5 3,1.8 3,1.2 3,.9 3,.7 3,.6 3,.6 3,.6 3,.6 3,.7 3,.7 4,1 4,1 4,.9 4,.9 4,.7 4,.4 4,.2 4,-.1 6,-.5 6,-.7 6,-.4 6,.2 6,.7 6,1.1 6,1.1 6,.6 6,0 6,-.4 6,-.6 6,-.3 6,.1 6,.5 6,.4 6,-.1 6,-.7 6,-1.2 6,-1.3 6,-.7 6,.2 6,1.1 6,1.6 6,1.6 6,.9 6,.1 6,-.5 6,-.7 6,-.6 2,-.1" stroke="#d45764"/>
<path d="M77.0,1180.7l6,-.4 6,-.2 6,-.1 6,-.1 6,-.1 6,0 6,.3 6,.5 6,.6 6,.5 6,.2 6,-.1 6,-.4 6,-.3 6,0 6,.5 6,.8 6,.8 6,.3 6,-.4 6,-1.2 6,-1.5 6,-1.3 6,-.8 6,0 6,.5 6,.6 6,.6 6,.2 6,.2 6,.2 6,.6 6,.8 6,.7 6,.4 6,-.4 6,-1 6,-1.3 4,-.9 4,-.6 4,-.4 4,-.2 4,.1 4,.2 4,.2 4,0 4,-.2 4,-.6 4,-.9 4,-1.2 4,-1.4 4,-1.6 4,-1.6 4,-1.5 4,-1.6 4,-1.5 3,-1.1 3,-1.2 3,-1.3 3,-1.4 3,-1.7 3,-2.1 3,-2.6 2,-2.1 2,-2.4 2,-2.7 2,-3.1 2,-3.5 2,-3.8 2,-4.2 2,-4.4 2,-4.5 2,-4.5 2,-4.2 2,-3.5 2,-2.5 2,-1.1 2,.3 2,1.9 2,3.3 2,4.3 2,5 2,5.4 2,5.3 2,5.2 2,4.9 2,4.5 2,3.9 2,3.6 2,3 2,2.6 2,2.2 2,1.9 2,1.5 3,1.9 3,1.5 3,1.2 3,1 3,.8 3,.8 3,.6 3,.7 3,.5 3,.5 4,.7 4,.6 4,.5 4,.4 4,.4 4,.1 4,0 4,-.2 6,-.5 6,-.6 6,-.3 6,.2 6,.7 6,1.1 6,1 6,.7 6,.3 6,-.1 6,-.2 6,-.2 6,0 6,.1 6,-.1 6,-.5 6,-.8 6,-.9 6,-.5 6,.2 6,.8 6,1.1 6,1.1 6,.4 6,-.2 6,-.9 6,-.9 6,-.6 6,0 2,.1" stroke="#d35566"/>
<path d="M77.0,1188.9l6,.1 6,.1 6,0 6,-.1 6,-.2 6,0 6,.3 6,.5 6,.5 6,.4 6,0 6,-.5 6,-.7 6,-.6 6,-.3 6,.1 6,.4 6,.4 6,.1 6,-.3 6,-.6 6,-.5 6,-.1 6,.5 6,.8 6,.9 6,.4 6,-.1 6,-.6 6,-.7 6,-.4 6,0 6,.5 6,.6 6,.3 6,-.3 6,-.8 6,-1 4,-.5 4,-.3 4,-.2 4,.1 4,.2 4,.1 4,.1 4,-.2 4,-.4 4,-.8 4,-1 4,-1.2 4,-1.3 4,-1.3 4,-1.4 4,-1.2 4,-1.2 4,-1.3 3,-1 3,-1 3,-1.3 3,-1.4 3,-1.7 3,-2.1 3,-2.5 2,-2.1 2,-2.3 2,-2.7 2,-3 2,-3.3 2,-3.7 2,-4 2,-4.3 2,-4.3 2,-4.2 2,-3.9 2,-3.3 2,-2.3 2,-1 2,.5 2,1.9 2,3.1 2,4.2 2,4.8 2,5 2,5.1 2,4.9 2,4.6 2,4.2 2,3.8 2,3.3 2,2.8 2,2.5 2,2.1 2,1.8 2,1.4 3,1.8 3,1.4 3,1.1 3,.9 3,.7 3,.6 3,.6 3,.5 3,.4 3,.4 4,.5 4,.5 4,.4 4,.4 4,.3 4,.1 4,.1 4,-.1 6,-.2 6,-.1 6,.1 6,.6 6,.8 6,.9 6,.6 6,.2 6,-.1 6,-.4 6,-.3 6,.1 6,.2 6,.2 6,0 6,-.6 6,-.9 6,-.9 6,-.5 6,.1 6,.8 6,1.1 6,.9 6,.5 6,-.2 6,-.4 6,-.5 6,-.1 6,.3 2,.1" stroke="#d15368"/>
<path d="M77.0,1197.8l6,-.1 6,0 6,.1 6,0 6,.1 6,0 6,0 6,0 6,0 6,-.1 6,-.2 6,-.3 6,-.3 6,0 6,.2 6,.4 6,.3 6,0 6,-.4 6,-.6 6,-.6 6,-.4 6,.2 6,.5 6,.6 6,.5 6,0 6,-.2 6,-.2 6,.1 6,.5 6,.9 6,.8 6,.3 6,-.6 6,-1.3 6,-1.6 6,-1.2 4,-.4 4,0 4,.4 4,.5 4,.6 4,.4 4,.2 4,-.4 4,-.7 4,-1.2 4,-1.4 4,-1.5 4,-1.5 4,-1.4 4,-1.2 4,-1 4,-.8 4,-.8 3,-.7 3,-.7 3,-.9 3,-1.1 3,-1.4 3,-1.8 3,-2.3 2,-1.8 2,-2.2 2,-2.4 2,-2.8 2,-3.2 2,-3.4 2,-3.8 2,-3.9 2,-4 2,-4 2,-3.6 2,-2.9 2,-2.1 2,-.9 2,.5 2,1.8 2,3 2,3.8 2,4.3 2,4.6 2,4.6 2,4.4 2,4.2 2,3.9 2,3.4 2,3.1 2,2.7 2,2.4 2,2 2,1.7 2,1.5 3,1.8 3,1.4 3,1.1 3,.9 3,.5 3,.4 3,.3 3,.1 3,0 3,-.1 4,-.1 4,-.1 4,.1 4,.2 4,.4 4,.5 4,.6 4,.6 6,.8 6,.7 6,.3 6,.1 6,-.2 6,-.3 6,-.4 6,-.2 6,.2 6,.6 6,1.1 6,1.1 6,.7 6,-.1 6,-.8 6,-1.6 6,-1.5 6,-1.1 6,0 6,.8 6,1.5 6,1.3 6,.6 6,-.3 6,-1 6,-1.2 6,-.7 6,-.1 6,.6 2,.3" stroke="#d0506a"/>
<path d="M77.0,1207.0l6,-.3 6,-.6 6,-.9 6,-.8 6,-.7 6,-.2 6,.4 6,.8 6,.8 6,.6 6,.2 6,-.1 6,-.3 6,-.2 6,.3 6,.5 6,.5 6,.3 6,-.2 6,-.6 6,-.8 6,-.6 6,-.2 6,.1 6,.2 6,.1 6,-.1 6,-.3 6,-.2 6,.1 6,.6 6,.8 6,.7 6,.1 6,-.4 6,-1 6,-1 6,-.6 4,-.1 4,.2 4,.5 4,.5 4,.4 4,.1 4,-.1 4,-.6 4,-.9 4,-1.1 4,-1.2 4,-1.3 4,-1.1 4,-1 4,-.8 4,-.7 4,-.7 4,-.8 3,-.6 3,-.9 3,-1 3,-1.3 3,-1.5 3,-1.9 3,-2.4 2,-1.8 2,-2.1 2,-2.4 2,-2.6 2,-3 2,-3.2 2,-3.4 2,-3.5 2,-3.6 2,-3.5 2,-3.1 2,-2.5 2,-1.6 2,-.5 2,.7 2,2 2,2.9 2,3.7 2,4.1 2,4.3 2,4.2 2,4.1 2,3.8 2,3.4 2,3.1 2,2.6 2,2.3 2,2 2,1.6 2,1.3 2,1.1 3,1.2 3,.9 3,.6 3,.4 3,.4 3,.3 3,.3 3,.3 3,.4 3,.5 4,.6 4,.8 4,.7 4,.7 4,.5 4,.4 4,.1 4,0 6,-.2 6,-.3 6,.1 6,.3 6,.7 6,.6 6,.3 6,0 6,-.3 6,-.5 6,-.3 6,-.2 6,-.2 6,-.2 6,-.3 6,-.4 6,-.3 6,.1 6,.6 6,.9 6,.9 6,.5 6,-.1 6,-.6 6,-.7 6,-.4 6,.2 6,.8 6,.9 2,.2" stroke="#ce4e6b"/>
<path d="M77.0,1214.3l6,0 6,-.1 6,-.3 6,-.3 6,-.2 6,0 6,.3 6,.4 6,.2 6,-.1 6,-.3 6,-.5 6,-.3 6,.1 6,.5 6,.8 6,.6 6,.2 6,-.4 6,-.7 6,-.8 6,-.4 6,.1 6,.4 6,.5 6,.3 6,0 6,-.3 6,-.3 6,-.1 6,.2 6,.4 6,.3 6,0 6,-.4 6,-.6 6,-.6 6,-.2 4,.1 4,.1 4,.2 4,.2 4,-.1 4,-.2 4,-.5 4,-.6 4,-.8 4,-.7 4,-.7 4,-.5 4,-.4 4,-.3 4,-.4 4,-.4 4,-.7 4,-1 3,-1 3,-1.1 3,-1.4 3,-1.5 3,-1.7 3,-2 3,-2.2 2,-1.7 2,-1.9 2,-2.1 2,-2.3 2,-2.5 2,-2.8 2,-2.9 2,-3.1 2,-3.1 2,-2.9 2,-2.7 2,-2.1 2,-1.3 2,-.3 2,.7 2,1.7 2,2.6 2,3.2 2,3.5 2,3.7 2,3.6 2,3.4 2,3.2 2,2.9 2,2.6 2,2.3 2,2 2,1.7 2,1.5 2,1.2 2,1.1 3,1.4 3,1.1 3,1 3,.8 3,.8 3,.6 3,.6 3,.6 3,.5 3,.4 4,.5 4,.4 4,.3 4,.1 4,0 4,-.1 4,-.2 4,-.3 6,-.3 6,-.1 6,.1 6,.4 6,.4 6,.2 6,.1 6,-.2 6,-.1 6,.2 6,.3 6,.6 6,.4 6,0 6,-.3 6,-.5 6,-.5 6,-.1 6,.3 6,.6 6,.5 6,0 6,-.4 6,-.7 6,-.6 6,-.2 6,.4 6,.8 6,.7 2,.2" stroke="#cc4c6d"/>
<path d="M77.0,1221.9l6,.1 6,-.1 6,-.1 6,-.1 6,0 6,.3 6,.4 6,.4 6,.3 6,-.1 6,-.1 6,-.2 6,.1 6,.3 6,.4 6,.3 6,-.1 6,-.7 6,-1 6,-1.2 6,-.7 6,-.2 6,.4 6,.6 6,.6 6,.2 6,-.1 6,-.2 6,.1 6,.5 6,.9 6,.8 6,.5 6,-.2 6,-.9 6,-1.1 6,-.9 6,-.3 4,.1 4,.3 4,.4 4,.4 4,.2 4,.1 4,-.3 4,-.5 4,-.6 4,-.8 4,-.7 4,-.8 4,-.6 4,-.7 4,-.7 4,-.8 4,-1 4,-1.2 3,-1 3,-1.1 3,-1.2 3,-1.3 3,-1.5 3,-1.6 3,-1.8 2,-1.3 2,-1.5 2,-1.7 2,-1.8 2,-2.1 2,-2.2 2,-2.4 2,-2.5 2,-2.5 2,-2.4 2,-2 2,-1.6 2,-.9 2,0 2,.9 2,1.7 2,2.5 2,2.9 2,3.2 2,3.3 2,3.2 2,3 2,2.9 2,2.5 2,2.3 2,2 2,1.7 2,1.5 2,1.2 2,1.1 2,.8 3,1 3,.8 3,.6 3,.4 3,.3 3,.3 3,.2 3,.2 3,.2 3,.1 4,.2 4,.2 4,.1 4,0 4,0 4,-.1 4,-.1 4,-.1 6,0 6,.2 6,.5 6,.6 6,.5 6,.2 6,-.2 6,-.2 6,-.2 6,.1 6,.4 6,.5 6,.3 6,-.1 6,-.4 6,-.5 6,-.2 6,.2 6,.7 6,.9 6,.7 6,.1 6,-.6 6,-1 6,-1.1 6,-.6 6,-.2 6,.3 6,.3 2,0" stroke="#cb496f"/>
<path d="M77.0,1231.9l6,-.4 6,-.7 6,-.7 6,-.6 6,-.3 6,.1 6,.4 6,.5 6,.3 6,.1 6,0 6,-.1 6,-.1 6,.1 6,0 6,-.2 6,-.4 6,-.5 6,-.5 6,0 6,.6 6,1 6,1.2 6,.8 6,.1 6,-.5 6,-1 6,-.9 6,-.4 6,.2 6,.7 6,.5 6,.1 6,-.6 6,-1.1 6,-1.1 6,-.7 6,0 4,.3 4,.6 4,.6 4,.6 4,.3 4,.2 4,-.2 4,-.3 4,-.5 4,-.5 4,-.5 4,-.5 4,-.4 4,-.5 4,-.6 4,-.7 4,-1 4,-1.2 3,-1 3,-1.1 3,-1.2 3,-1.2 3,-1.3 3,-1.4 3,-1.5 2,-1.1 2,-1.3 2,-1.4 2,-1.6 2,-1.7 2,-1.9 2,-2.1 2,-2.1 2,-2.2 2,-2.1 2,-1.8 2,-1.4 2,-.8 2,0 2,.7 2,1.5 2,2.1 2,2.4 2,2.6 2,2.7 2,2.6 2,2.5 2,2.2 2,2.1 2,1.8 2,1.5 2,1.3 2,1.2 2,.9 2,.8 2,.7 3,.8 3,.7 3,.6 3,.5 3,.5 3,.5 3,.4 3,.4 3,.5 3,.4 4,.4 4,.4 4,.3 4,.2 4,.1 4,0 4,0 4,.1 6,.2 6,.4 6,.5 6,.4 6,0 6,-.3 6,-.6 6,-.6 6,-.3 6,.2 6,.5 6,.5 6,.3 6,-.1 6,-.5 6,-.4 6,-.2 6,.3 6,.6 6,.5 6,.2 6,-.4 6,-.9 6,-1 6,-.5 6,.2 6,.8 6,1.2 6,1 2,.2" stroke="#c94770"/>
<path d="M77.0,1240.0l6,-.7 6,-1.1 6,-1 6,-.5 6,.3 6,.8 6,1.1 6,.8 6,.1 6,-.4 6,-.7 6,-.5 6,.1 6,.4 6,.6 6,.2 6,-.3 6,-.8 6,-.8 6,-.4 6,.1 6,.6 6,.7 6,.5 6,.1 6,-.2 6,-.2 6,.1 6,.4 6,.5 6,.2 6,-.4 6,-.8 6,-1 6,-.8 6,-.1 6,.6 6,.8 4,.5 4,.3 4,-.1 4,-.3 4,-.5 4,-.7 4,-.7 4,-.5 4,-.2 4,-.1 4,.2 4,.1 4,.1 4,-.1 4,-.4 4,-.8 4,-1.1 4,-1.3 3,-1.1 3,-1 3,-1.1 3,-1 3,-1.1 3,-1.1 3,-1.3 2,-.9 2,-1.1 2,-1.2 2,-1.4 2,-1.6 2,-1.7 2,-1.8 2,-1.9 2,-1.9 2,-1.8 2,-1.5 2,-1.2 2,-.5 2,.1 2,.8 2,1.4 2,2 2,2.3 2,2.4 2,2.5 2,2.4 2,2.2 2,2.1 2,1.8 2,1.6 2,1.4 2,1.2 2,.9 2,.8 2,.6 2,.6 3,.6 3,.4 3,.4 3,.3 3,.3 3,.3 3,.3 3,.2 3,.2 3,.1 4,0 4,-.2 4,-.2 4,-.3 4,-.2 4,0 4,.2 4,.5 6,1 6,1.3 6,1 6,.5 6,-.1 6,-.6 6,-.6 6,-.4 6,0 6,.4 6,.3 6,0 6,-.3 6,-.7 6,-.7 6,-.4 6,.1 6,.3 6,.5 6,.4 6,.2 6,.1 6,0 6,.2 6,.3 6,.3 6,.1 6,-.3 6,-.5 2,-.3" stroke="#c74572"/>
<path d="M77.0,1246.6l6,-.6 6,-.6 6,-.4 6,.1 6,.6 6,.9 6,.9 6,.4 6,-.1 6,-.6 6,-.6 6,-.3 6,.2 6,.6 6,.6 6,.3 6,-.3 6,-.7 6,-.8 6,-.3 6,.2 6,.8 6,.9 6,.6 6,-.1 6,-.8 6,-.9 6,-.6 6,-.1 6,.4 6,.5 6,.1 6,-.3 6,-.8 6,-.7 6,-.2 6,.5 6,1.2 4,.9 4,.7 4,.4 4,-.1 4,-.5 4,-.8 4,-1 4,-1 4,-.8 4,-.6 4,-.1 4,.1 4,.3 4,.3 4,.1 4,-.3 4,-.6 4,-.9 3,-.9 3,-1.1 3,-1.1 3,-1.2 3,-1.2 3,-1.2 3,-1.4 2,-1 2,-1.1 2,-1.2 2,-1.3 2,-1.5 2,-1.6 2,-1.7 2,-1.8 2,-1.9 2,-1.7 2,-1.5 2,-1.1 2,-.6 2,-.1 2,.7 2,1.2 2,1.6 2,2 2,2.2 2,2.2 2,2.2 2,2.1 2,2 2,1.9 2,1.7 2,1.5 2,1.3 2,1.2 2,1 2,.8 2,.7 3,.8 3,.6 3,.3 3,.2 3,0 3,0 3,0 3,0 3,0 3,.1 4,.2 4,.3 4,.3 4,.3 4,.2 4,.2 4,0 4,0 6,0 6,.1 6,.4 6,.5 6,.5 6,.3 6,-.1 6,-.4 6,-.5 6,-.5 6,-.5 6,-.5 6,-.5 6,-.4 6,-.1 6,.2 6,.8 6,1.2 6,1.3 6,.9 6,.4 6,-.4 6,-.9 6,-1.1 6,-.8 6,-.2 6,.3 6,.6 6,.4 2,.1" stroke="#c54274"/>
<path d="M77.0,1255.0l6,-.5 6,-.4 6,-.2 6,-.1 6,.2 6,.1 6,.1 6,-.2 6,-.2 6,-.2 6,.1 6,.5 6,.8 6,1 6,.7 6,.3 6,-.2 6,-.4 6,-.5 6,-.3 6,.1 6,.1 6,0 6,-.3 6,-.5 6,-.6 6,-.3 6,.3 6,.6 6,.6 6,.4 6,-.4 6,-1 6,-1.3 6,-1 6,-.4 6,.5 6,1 4,.8 4,.8 4,.5 4,.4 4,0 4,-.1 4,-.2 4,-.2 4,-.2 4,-.2 4,-.1 4,-.2 4,-.2 4,-.5 4,-.7 4,-1 4,-1.2 4,-1.3 3,-1 3,-.9 3,-.9 3,-.9 3,-.9 3,-.9 3,-1 2,-.8 2,-.9 2,-1.1 2,-1.2 2,-1.3 2,-1.6 2,-1.7 2,-1.7 2,-1.8 2,-1.7 2,-1.5 2,-1.1 2,-.7 2,0 2,.5 2,1.1 2,1.6 2,1.9 2,2 2,2.1 2,2.1 2,2 2,1.9 2,1.8 2,1.6 2,1.4 2,1.3 2,1.1 2,.9 2,.8 2,.7 3,.8 3,.7 3,.5 3,.3 3,.3 3,.2 3,.1 3,.1 3,.1 3,.1 4,0 4,0 4,-.1 4,-.1 4,0 4,0 4,0 4,.2 6,.5 6,.6 6,.5 6,.2 6,-.1 6,-.4 6,-.5 6,-.3 6,-.1 6,.1 6,.1 6,-.1 6,-.4 6,-.5 6,-.3 6,.1 6,.5 6,.7 6,.6 6,.3 6,-.2 6,-.4 6,-.3 6,.2 6,.6 6,1 6,.8 6,.2 6,-.5 2,-.3" stroke="#c34075"/>
<path d="M77.0,1263.4l6,-.2 6,-.3 6,-.3 6,0 6,.3 6,.5 6,.5 6,.2 6,-.2 6,-.5 6,-.5 6,-.3 6,.2 6,.5 6,.4 6,.1 6,-.4 6,-.7 6,-.4 6,.1 6,.8 6,1.1 6,.9 6,.1 6,-.6 6,-1.3 6,-1.2 6,-.5 6,.4 6,.9 6,1 6,.3 6,-.4 6,-1.1 6,-1 6,-.4 6,.4 6,1.1 4,.7 4,.5 4,.2 4,-.2 4,-.5 4,-.8 4,-.8 4,-.6 4,-.3 4,0 4,.3 4,.4 4,.4 4,.2 4,-.2 4,-.7 4,-1 4,-1.3 3,-1 3,-1 3,-1 3,-.9 3,-.9 3,-.8 3,-.9 2,-.6 2,-.8 2,-.8 2,-1 2,-1.2 2,-1.3 2,-1.5 2,-1.5 2,-1.6 2,-1.5 2,-1.3 2,-1 2,-.6 2,-.1 2,.5 2,1 2,1.4 2,1.7 2,1.8 2,1.9 2,2 2,1.8 2,1.7 2,1.6 2,1.4 2,1.3 2,1.1 2,.9 2,.7 2,.6 2,.5 3,.5 3,.4 3,.2 3,.1 3,.1 3,.1 3,.2 3,.1 3,.2 3,.2 4,.3 4,.2 4,.1 4,0 4,.1 4,0 4,.1 4,.3 6,.6 6,.6 6,.3 6,-.3 6,-.8 6,-1 6,-.8 6,0 6,.6 6,.9 6,.7 6,0 6,-.6 6,-.9 6,-.4 6,.3 6,1.1 6,1.3 6,.8 6,-.1 6,-1.1 6,-1.4 6,-1 6,0 6,1 6,1.4 6,1.1 6,.1 6,-.9 2,-.5" stroke="#c13e77"/>
<path d="M77.0,1270.4l6,.2 6,.2 6,.4 6,.5 6,.6 6,.4 6,.2 6,0 6,-.2 6,-.3 6,-.2 6,0 6,-.1 6,-.3 6,-.5 6,-.7 6,-.7 6,-.4 6,.2 6,.7 6,.9 6,.8 6,.4 6,-.1 6,-.3 6,-.3 6,0 6,.3 6,.5 6,.2 6,-.3 6,-.8 6,-1 6,-.9 6,-.4 6,.4 6,.8 6,.9 4,.4 4,.2 4,0 4,-.2 4,-.4 4,-.3 4,-.2 4,-.1 4,0 4,.1 4,0 4,0 4,-.3 4,-.6 4,-.9 4,-1.1 4,-1.2 4,-1.2 3,-.8 3,-.7 3,-.6 3,-.5 3,-.5 3,-.5 3,-.7 2,-.6 2,-.7 2,-.8 2,-.9 2,-1.1 2,-1.2 2,-1.4 2,-1.3 2,-1.4 2,-1.2 2,-.9 2,-.6 2,-.2 2,.4 2,.8 2,1.2 2,1.5 2,1.7 2,1.8 2,1.8 2,1.6 2,1.6 2,1.5 2,1.2 2,1.2 2,.9 2,.8 2,.6 2,.5 2,.4 2,.3 3,.2 3,.2 3,0 3,0 3,0 3,0 3,0 3,0 3,.1 3,.1 4,.2 4,.2 4,.2 4,.1 4,.2 4,.2 4,.3 4,.3 6,.5 6,.3 6,.2 6,-.1 6,-.3 6,-.4 6,-.2 6,0 6,.1 6,.1 6,0 6,-.3 6,-.4 6,-.2 6,.2 6,.6 6,.9 6,.8 6,.4 6,-.3 6,-.7 6,-.8 6,-.6 6,-.1 6,.2 6,.3 6,0 6,-.3 6,-.7 2,-.2" stroke="#bf3c79"/>
<path d="M77.0,1279.1l6,.5 6,.3 6,.1 6,-.1 6,-.1 6,-.1 6,0 6,.1 6,.3 6,.5 6,.6 6,.4 6,-.1 6,-.5 6,-1.1 6,-1.2 6,-1 6,-.4 6,.4 6,.9 6,1.1 6,.7 6,.2 6,-.3 6,-.6 6,-.3 6,.1 6,.5 6,.7 6,.3 6,-.2 6,-.7 6,-1 6,-.6 6,-.1 6,.5 6,.8 6,.7 4,.1 4,-.1 4,-.4 4,-.6 4,-.6 4,-.5 4,-.4 4,-.2 4,0 4,.1 4,.2 4,0 4,-.2 4,-.4 4,-.7 4,-.9 4,-1.1 4,-1 3,-.8 3,-.8 3,-.7 3,-.8 3,-.8 3,-1 3,-1.1 2,-.9 2,-1.1 2,-1.2 2,-1.4 2,-1.6 2,-1.6 2,-1.8 2,-1.8 2,-1.7 2,-1.5 2,-1.2 2,-.7 2,-.1 2,.5 2,1.1 2,1.7 2,2 2,2.1 2,2.3 2,2.2 2,2.1 2,1.9 2,1.8 2,1.4 2,1.3 2,1 2,.9 2,.6 2,.5 2,.3 2,.3 3,.2 3,.2 3,.1 3,.2 3,.3 3,.4 3,.4 3,.5 3,.5 3,.5 4,.6 4,.4 4,.3 4,0 4,-.1 4,-.2 4,-.2 4,-.2 6,-.1 6,.1 6,.1 6,.2 6,.1 6,.2 6,.1 6,.2 6,.1 6,-.1 6,-.3 6,-.4 6,-.4 6,-.1 6,.4 6,.7 6,.7 6,.5 6,.1 6,-.4 6,-.5 6,-.4 6,-.1 6,.2 6,.3 6,.1 6,-.4 6,-.8 6,-.9 2,-.2" stroke="#bd397b"/>
<path d="M77.0,1287.6l6,0 6,-.1 6,0 6,.1 6,.1 6,.2 6,.1 6,0 6,.2 6,.2 6,.4 6,.3 6,.1 6,-.2 6,-.5 6,-.6 6,-.5 6,-.1 6,.2 6,.5 6,.2 6,0 6,-.5 6,-.5 6,-.4 6,0 6,.6 6,.8 6,.6 6,.1 6,-.4 6,-.9 6,-.8 6,-.3 6,.3 6,.8 6,.8 6,.6 4,0 4,-.2 4,-.4 4,-.4 4,-.5 4,-.4 4,-.2 4,-.2 4,0 4,-.2 4,-.3 4,-.5 4,-.7 4,-1 4,-1.2 4,-1.2 4,-1.2 4,-1 3,-.6 3,-.6 3,-.5 3,-.6 3,-.7 3,-.9 3,-1.3 2,-1 2,-1.3 2,-1.6 2,-1.7 2,-2 2,-2.2 2,-2.3 2,-2.3 2,-2.3 2,-2 2,-1.7 2,-1.1 2,-.3 2,.4 2,1.3 2,1.9 2,2.4 2,2.7 2,2.8 2,2.8 2,2.8 2,2.6 2,2.3 2,2.1 2,1.8 2,1.6 2,1.3 2,1 2,.8 2,.7 2,.4 3,.5 3,.2 3,.1 3,0 3,0 3,-.1 3,0 3,0 3,0 3,.1 4,.1 4,.2 4,.3 4,.3 4,.4 4,.5 4,.5 4,.5 6,.6 6,.4 6,0 6,-.4 6,-.5 6,-.4 6,-.3 6,.1 6,.1 6,.1 6,-.1 6,-.1 6,.1 6,.3 6,.6 6,.8 6,.7 6,.3 6,-.3 6,-.8 6,-.9 6,-.7 6,-.2 6,.2 6,.3 6,.1 6,-.3 6,-.5 6,-.5 2,-.1" stroke="#bb377c"/>
<path d="M77.0,1295.5l6,-.2 6,.1 6,.3 6,.4 6,.2 6,0 6,-.4 6,-.5 6,-.2 6,0 6,.5 6,.7 6,.6 6,.2 6,-.1 6,-.3 6,-.3 6,-.1 6,.2 6,.4 6,.2 6,0 6,-.5 6,-.7 6,-.7 6,-.4 6,-.1 6,.1 6,.2 6,0 6,0 6,0 6,.2 6,.6 6,.8 6,.7 6,.3 6,-.2 4,-.5 4,-.6 4,-.5 4,-.5 4,-.3 4,-.1 4,0 4,.1 4,0 4,-.2 4,-.6 4,-.8 4,-1.2 4,-1.4 4,-1.5 4,-1.4 4,-1.2 4,-.9 3,-.5 3,-.4 3,-.4 3,-.5 3,-.6 3,-1 3,-1.4 2,-1.3 2,-1.5 2,-1.8 2,-2.2 2,-2.3 2,-2.6 2,-2.8 2,-2.8 2,-2.8 2,-2.5 2,-2.1 2,-1.4 2,-.5 2,.3 2,1.4 2,2.1 2,2.7 2,3.1 2,3.3 2,3.3 2,3.2 2,3 2,2.7 2,2.4 2,2.1 2,1.8 2,1.5 2,1.2 2,.9 2,.7 2,.6 3,.5 3,.3 3,.2 3,.1 3,0 3,.2 3,.1 3,.3 3,.2 3,.4 4,.4 4,.5 4,.4 4,.4 4,.4 4,.2 4,.2 4,.2 6,0 6,0 6,-.1 6,0 6,.2 6,.4 6,.5 6,.2 6,-.2 6,-.6 6,-1 6,-.9 6,-.5 6,.3 6,.9 6,1.3 6,1.2 6,.6 6,-.1 6,-.6 6,-.6 6,-.4 6,.1 6,.5 6,.3 6,-.1 6,-.8 6,-1.2 6,-1.2 2,-.3" stroke="#b9357e"/>
<path d="M77.0,1303.9l6,.5 6,.4 6,.1 6,-.2 6,-.2 6,-.3 6,-.2 6,.1 6,.3 6,.5 6,.5 6,.2 6,-.2 6,-.6 6,-.7 6,-.5 6,-.1 6,.3 6,.6 6,.4 6,0 6,-.5 6,-.8 6,-.6 6,-.1 6,.5 6,1 6,1 6,.7 6,0 6,-.6 6,-.8 6,-.7 6,-.2 6,.1 6,.3 6,.1 6,-.2 4,-.3 4,-.4 4,-.4 4,-.2 4,-.1 4,.1 4,.1 4,.2 4,0 4,-.3 4,-.5 4,-.9 4,-1.2 4,-1.4 4,-1.4 4,-1.3 4,-1.1 4,-.9 3,-.5 3,-.5 3,-.5 3,-.7 3,-.9 3,-1.2 3,-1.8 2,-1.6 2,-1.8 2,-2.2 2,-2.4 2,-2.8 2,-3 2,-3.2 2,-3.3 2,-3.2 2,-3 2,-2.5 2,-1.7 2,-.9 2,.2 2,1.3 2,2.2 2,3 2,3.3 2,3.6 2,3.7 2,3.5 2,3.3 2,3.1 2,2.8 2,2.4 2,2.1 2,1.8 2,1.5 2,1.3 2,1 2,.9 3,1 3,.8 3,.6 3,.4 3,.4 3,.3 3,.3 3,.2 3,.1 3,.2 4,.1 4,.1 4,.1 4,.2 4,.4 4,.4 4,.4 4,.5 6,.6 6,.3 6,0 6,-.3 6,-.2 6,-.2 6,.1 6,.2 6,.1 6,-.1 6,-.3 6,-.3 6,-.3 6,.1 6,.4 6,.5 6,.3 6,.1 6,-.2 6,-.3 6,-.2 6,.1 6,.4 6,.4 6,.2 6,-.1 6,-.5 6,-.5 6,-.3 2,-.1" stroke="#b7337f"/>
<path d="M77.0,1312.0l6,.2 6,.3 6,.6 6,.8 6,.6 6,.2 6,-.5 6,-.9 6,-1 6,-.8 6,-.2 6,.2 6,.4 6,.2 6,-.1 6,-.3 6,-.3 6,0 6,.4 6,.9 6,.8 6,.7 6,.1 6,-.3 6,-.5 6,-.5 6,-.4 6,-.1 6,-.2 6,-.2 6,-.4 6,-.2 6,0 6,.3 6,.6 6,.4 6,0 6,-.5 4,-.6 4,-.6 4,-.5 4,-.4 4,0 4,.3 4,.4 4,.6 4,.4 4,0 4,-.4 4,-.9 4,-1.5 4,-1.8 4,-2 4,-2 4,-1.8 4,-1.4 3,-.8 3,-.7 3,-.6 3,-.7 3,-.9 3,-1.3 3,-1.8 2,-1.7 2,-1.9 2,-2.4 2,-2.6 2,-3.1 2,-3.3 2,-3.6 2,-3.6 2,-3.6 2,-3.4 2,-2.8 2,-2 2,-.9 2,.2 2,1.5 2,2.6 2,3.4 2,4 2,4.3 2,4.3 2,4.1 2,4 2,3.6 2,3.2 2,2.8 2,2.3 2,1.9 2,1.6 2,1.2 2,.9 2,.7 3,.6 3,.4 3,.1 3,.2 3,.1 3,.2 3,.3 3,.5 3,.4 3,.6 4,.7 4,.6 4,.6 4,.5 4,.4 4,.3 4,.3 4,.4 6,.5 6,.4 6,.3 6,-.1 6,-.3 6,-.5 6,-.3 6,-.3 6,0 6,0 6,-.1 6,-.1 6,0 6,0 6,.4 6,.5 6,.5 6,.3 6,0 6,-.4 6,-.5 6,-.4 6,-.2 6,.1 6,.3 6,.3 6,.1 6,0 6,0 2,0" stroke="#b53281"/>
<path d="M77.0,1321.4l6,-.6 6,-.6 6,-.5 6,-.3 6,0 6,.2 6,.4 6,.5 6,.6 6,.5 6,.3 6,-.1 6,-.4 6,-.5 6,-.4 6,-.1 6,.2 6,.3 6,.1 6,-.1 6,-.4 6,-.5 6,-.2 6,.2 6,.7 6,.9 6,.7 6,.1 6,-.7 6,-1 6,-1.1 6,-.6 6,.1 6,.7 6,.9 6,.5 6,-.1 6,-.6 4,-.6 4,-.4 4,-.3 4,-.1 4,.2 4,.3 4,.3 4,.1 4,-.2 4,-.6 4,-1.1 4,-1.4 4,-1.7 4,-1.7 4,-1.8 4,-1.5 4,-1.2 4,-1 3,-.7 3,-.6 3,-.7 3,-.9 3,-1.2 3,-1.7 3,-2.2 2,-1.9 2,-2.2 2,-2.6 2,-3 2,-3.2 2,-3.6 2,-3.8 2,-3.9 2,-3.8 2,-3.6 2,-3.1 2,-2.3 2,-1.1 2,.1 2,1.4 2,2.6 2,3.4 2,4.1 2,4.4 2,4.3 2,4.3 2,4 2,3.6 2,3.2 2,2.8 2,2.4 2,2 2,1.7 2,1.4 2,1.1 2,1 3,1.2 3,.9 3,.9 3,.9 3,.8 3,.9 3,.9 3,.9 3,.9 3,.8 4,.9 4,.8 4,.5 4,.4 4,.2 4,0 4,-.2 4,-.3 6,-.7 6,-.7 6,-.6 6,-.4 6,0 6,.2 6,.5 6,.3 6,.3 6,.3 6,.3 6,.5 6,.9 6,.8 6,.6 6,.1 6,-.7 6,-1.1 6,-1.2 6,-.9 6,-.3 6,.4 6,.6 6,.5 6,0 6,-.4 6,-.5 6,-.3 6,.2 2,.3" stroke="#b33182"/>
<path d="M77.0,1330.1l6,-.4 6,-.4 6,-.2 6,-.2 6,0 6,0 6,0 6,.1 6,.1 6,.1 6,-.1 6,-.1 6,-.3 6,-.2 6,-.1 6,.1 6,.2 6,.1 6,0 6,-.3 6,-.3 6,-.2 6,.3 6,.8 6,1.1 6,.9 6,.3 6,-.5 6,-1.2 6,-1.5 6,-1.2 6,-.5 6,.4 6,.9 6,1 6,.5 6,-.2 6,-.6 4,-.4 4,-.4 4,-.1 4,.1 4,.3 4,.4 4,.3 4,0 4,-.4 4,-.8 4,-1.2 4,-1.7 4,-1.8 4,-2 4,-1.9 4,-1.7 4,-1.5 4,-1.3 3,-.9 3,-.9 3,-1.1 3,-1.2 3,-1.5 3,-1.9 3,-2.5 2,-2.1 2,-2.3 2,-2.7 2,-3.1 2,-3.4 2,-3.7 2,-3.9 2,-4 2,-4 2,-3.7 2,-3.2 2,-2.4 2,-1.2 2,.2 2,1.6 2,2.9 2,3.8 2,4.6 2,4.8 2,4.9 2,4.8 2,4.4 2,4 2,3.6 2,3.1 2,2.6 2,2.2 2,1.8 2,1.4 2,1.2 2,.9 3,1.1 3,.9 3,.7 3,.6 3,.6 3,.7 3,.6 3,.7 3,.7 3,.7 4,1 4,.8 4,.8 4,.6 4,.6 4,.3 4,.1 4,0 6,-.4 6,-.5 6,-.6 6,-.2 6,.2 6,.4 6,.5 6,.3 6,0 6,-.2 6,-.3 6,0 6,.4 6,.7 6,.6 6,.3 6,-.1 6,-.5 6,-.7 6,-.4 6,-.1 6,.4 6,.4 6,.3 6,-.2 6,-.4 6,-.6 6,-.2 6,.3 2,.1" stroke="#b13183"/>
<path d="M77.0,1336.3l6,0 6,.2 6,.1 6,.1 6,-.1 6,0 6,.1 6,.2 6,.4 6,.3 6,.2 6,0 6,-.3 6,-.3 6,-.1 6,.3 6,.6 6,.6 6,.3 6,-.1 6,-.5 6,-.8 6,-.5 6,-.3 6,.1 6,.2 6,-.1 6,-.5 6,-.8 6,-.8 6,-.5 6,.1 6,.6 6,1.1 6,.9 6,.6 6,.1 6,-.1 4,-.1 4,-.1 4,.1 4,.2 4,.2 4,.1 4,-.1 4,-.4 4,-.8 4,-1.2 4,-1.5 4,-1.7 4,-1.9 4,-1.9 4,-1.9 4,-1.8 4,-1.6 4,-1.6 3,-1.2 3,-1.3 3,-1.3 3,-1.6 3,-1.9 3,-2.2 3,-2.8 2,-2.2 2,-2.6 2,-2.8 2,-3.3 2,-3.5 2,-3.9 2,-4.2 2,-4.2 2,-4.3 2,-4.1 2,-3.5 2,-2.6 2,-1.4 2,0 2,1.5 2,2.9 2,4.1 2,4.8 2,5.2 2,5.3 2,5.2 2,4.9 2,4.4 2,4 2,3.6 2,3 2,2.6 2,2.2 2,1.9 2,1.5 2,1.3 3,1.6 3,1.3 3,1.1 3,.8 3,.8 3,.7 3,.6 3,.5 3,.4 3,.4 4,.5 4,.5 4,.4 4,.5 4,.4 4,.4 4,.4 4,.3 6,.1 6,-.1 6,-.2 6,-.2 6,0 6,.2 6,.2 6,0 6,-.3 6,-.3 6,-.3 6,0 6,.4 6,.5 6,.5 6,.3 6,0 6,-.3 6,-.2 6,.1 6,.4 6,.6 6,.4 6,.1 6,-.3 6,-.5 6,-.5 6,-.2 6,.2 2,.1" stroke="#ae3084"/>
<path d="M77.0,1345.1l6,0 6,.2 6,.4 6,.3 6,.1 6,0 6,-.1 6,-.1 6,0 6,-.1 6,-.3 6,-.4 6,-.5 6,-.4 6,-.2 6,.1 6,.5 6,.5 6,.4 6,.2 6,0 6,0 6,0 6,.3 6,.2 6,.2 6,-.2 6,-.5 6,-.6 6,-.4 6,-.1 6,.3 6,.5 6,.4 6,-.1 6,-.5 6,-.9 6,-.8 4,-.4 4,-.1 4,.1 4,.2 4,.2 4,.2 4,-.1 4,-.3 4,-.6 4,-.9 4,-1.1 4,-1.2 4,-1.3 4,-1.3 4,-1.2 4,-1.3 4,-1.4 4,-1.6 3,-1.3 3,-1.4 3,-1.7 3,-2 3,-2.2 3,-2.7 3,-3.3 2,-2.5 2,-2.9 2,-3.1 2,-3.6 2,-3.9 2,-4.2 2,-4.6 2,-4.7 2,-4.6 2,-4.5 2,-4 2,-3.1 2,-1.8 2,-.3 2,1.4 2,2.8 2,4.2 2,4.9 2,5.5 2,5.6 2,5.4 2,5.2 2,4.7 2,4.3 2,3.7 2,3.3 2,2.8 2,2.4 2,2.1 2,1.7 2,1.5 3,1.8 3,1.5 3,1.3 3,1.1 3,1.1 3,.9 3,.8 3,.7 3,.7 3,.6 4,.7 4,.7 4,.6 4,.7 4,.6 4,.5 4,.5 4,.3 6,.1 6,-.2 6,-.4 6,-.4 6,-.2 6,0 6,0 6,.1 6,-.1 6,0 6,0 6,.2 6,.2 6,.3 6,.2 6,-.1 6,-.2 6,-.2 6,0 6,.3 6,.5 6,.5 6,.2 6,-.2 6,-.5 6,-.5 6,-.3 6,.2 6,.5 2,.2" stroke="#ac2f85"/>
<path d="M77.0,1352.4l6,.3 6,.7 6,1 6,.8 6,.3 6,-.1 6,-.5 6,-.5 6,-.2 6,-.1 6,0 6,-.3 6,-.5 6,-.6 6,-.4 6,-.1 6,.4 6,.5 6,.4 6,0 6,-.2 6,-.3 6,-.1 6,.3 6,.7 6,.6 6,.2 6,-.3 6,-.7 6,-.7 6,-.2 6,.3 6,.8 6,.6 6,.2 6,-.6 6,-1.1 6,-1.1 4,-.6 4,-.1 4,.1 4,.3 4,.4 4,.2 4,0 4,-.5 4,-1 4,-1.3 4,-1.6 4,-1.8 4,-1.6 4,-1.5 4,-1.3 4,-1.1 4,-1.1 4,-1.2 3,-1 3,-1.3 3,-1.7 3,-1.9 3,-2.4 3,-2.9 3,-3.5 2,-2.8 2,-3 2,-3.5 2,-3.8 2,-4.1 2,-4.5 2,-4.8 2,-5 2,-5 2,-4.8 2,-4.3 2,-3.3 2,-2.1 2,-.5 2,1.3 2,2.9 2,4.3 2,5.2 2,5.8 2,5.9 2,5.7 2,5.5 2,5 2,4.5 2,4 2,3.5 2,3 2,2.5 2,2.3 2,1.9 2,1.6 3,2.1 3,1.8 3,1.6 3,1.4 3,1.3 3,1.1 3,.9 3,.7 3,.6 3,.4 4,.6 4,.5 4,.5 4,.7 4,.7 4,.8 4,.7 4,.5 6,.3 6,-.3 6,-.7 6,-.6 6,-.3 6,0 6,.2 6,.2 6,-.1 6,-.2 6,0 6,.4 6,.7 6,.9 6,.7 6,.2 6,-.4 6,-.6 6,-.5 6,-.2 6,.2 6,.3 6,.1 6,-.5 6,-.8 6,-.9 6,-.5 6,.3 6,1 2,.4" stroke="#aa2e87"/>
<path d="M77.0,1360.8l6,.6 6,.8 6,.7 6,.4 6,0 6,-.2 6,-.2 6,-.1 6,-.2 6,-.4 6,-.6 6,-.7 6,-.7 6,-.4 6,.1 6,.6 6,.9 6,.7 6,.4 6,0 6,-.2 6,-.1 6,.1 6,.2 6,.3 6,-.1 6,-.4 6,-.8 6,-.7 6,-.4 6,.3 6,.7 6,.8 6,.4 6,-.2 6,-.8 6,-1 6,-.9 4,-.3 4,0 4,.2 4,.3 4,.2 4,.1 4,-.2 4,-.5 4,-.9 4,-1.2 4,-1.3 4,-1.4 4,-1.5 4,-1.4 4,-1.4 4,-1.4 4,-1.5 4,-1.8 3,-1.5 3,-1.7 3,-1.9 3,-2.2 3,-2.6 3,-3 3,-3.6 2,-2.8 2,-3.1 2,-3.5 2,-4 2,-4.3 2,-4.8 2,-5.1 2,-5.3 2,-5.4 2,-5.3 2,-4.7 2,-3.8 2,-2.5 2,-.7 2,1.1 2,2.9 2,4.5 2,5.6 2,6.2 2,6.4 2,6.4 2,6 2,5.6 2,5.1 2,4.4 2,3.9 2,3.4 2,2.8 2,2.4 2,2 2,1.7 3,2 3,1.7 3,1.4 3,1.3 3,1.1 3,1 3,1 3,.9 3,.8 3,.7 4,.9 4,.8 4,.8 4,.7 4,.6 4,.6 4,.5 4,.5 6,.4 6,.1 6,-.2 6,-.4 6,-.6 6,-.5 6,-.3 6,0 6,.3 6,.6 6,.8 6,.7 6,.5 6,.1 6,-.4 6,-.5 6,-.5 6,-.3 6,-.1 6,.1 6,0 6,-.2 6,-.4 6,-.5 6,-.2 6,.3 6,.7 6,.9 6,.8 2,.2" stroke="#a82e88"/>
<path d="M77.0,1370.6l6,.5 6,.4 6,.1 6,-.3 6,-.6 6,-.6 6,-.4 6,-.1 6,.2 6,.1 6,.1 6,-.2 6,-.3 6,-.1 6,0 6,.3 6,.2 6,.1 6,-.2 6,-.3 6,-.2 6,.1 6,.4 6,.5 6,.4 6,0 6,-.5 6,-.5 6,-.4 6,.2 6,.7 6,.8 6,.5 6,-.1 6,-.9 6,-1.3 6,-1.1 6,-.6 4,0 4,.3 4,.4 4,.4 4,.1 4,-.2 4,-.7 4,-1 4,-1.3 4,-1.4 4,-1.5 4,-1.4 4,-1.2 4,-1.1 4,-1.2 4,-1.2 4,-1.5 4,-1.8 3,-1.5 3,-1.8 3,-2 3,-2.3 3,-2.6 3,-3.1 3,-3.6 2,-2.8 2,-3.1 2,-3.6 2,-4.1 2,-4.5 2,-5.1 2,-5.4 2,-5.7 2,-6 2,-5.8 2,-5.4 2,-4.5 2,-3.1 2,-1.4 2,.6 2,2.6 2,4.3 2,5.5 2,6.4 2,6.7 2,6.7 2,6.5 2,6.1 2,5.6 2,5.1 2,4.5 2,4 2,3.5 2,3 2,2.5 2,2.2 3,2.8 3,2.1 3,1.8 3,1.3 3,1.1 3,.9 3,.7 3,.6 3,.5 3,.5 4,.7 4,.8 4,.9 4,1 4,.9 4,.9 4,.6 4,.4 6,.1 6,-.3 6,-.5 6,-.4 6,-.3 6,-.1 6,-.1 6,.1 6,.1 6,.4 6,.7 6,.7 6,.5 6,.1 6,-.4 6,-.8 6,-.7 6,-.5 6,.2 6,.7 6,.7 6,.5 6,-.2 6,-.6 6,-.7 6,-.5 6,.1 6,.7 6,.9 2,.2" stroke="#a52d89"/>
<path d="M77.0,1377.5l6,.4 6,.6 6,.6 6,.4 6,0 6,-.4 6,-.6 6,-.6 6,-.4 6,-.2 6,.1 6,.3 6,.3 6,.3 6,.2 6,.3 6,.2 6,.1 6,0 6,-.2 6,-.2 6,-.2 6,-.2 6,-.2 6,-.3 6,-.3 6,-.3 6,-.3 6,-.2 6,.2 6,.3 6,.5 6,.3 6,.1 6,-.2 6,-.4 6,-.2 6,.1 4,.3 4,.3 4,.4 4,.2 4,-.1 4,-.3 4,-.7 4,-1.1 4,-1.4 4,-1.5 4,-1.7 4,-1.8 4,-1.8 4,-1.7 4,-1.9 4,-1.9 4,-2.1 4,-2.3 3,-1.9 3,-1.9 3,-2.2 3,-2.3 3,-2.7 3,-3 3,-3.5 2,-2.8 2,-3.2 2,-3.6 2,-4 2,-4.6 2,-5.1 2,-5.5 2,-5.9 2,-6.1 2,-6 2,-5.5 2,-4.8 2,-3.3 2,-1.5 2,.5 2,2.7 2,4.4 2,5.9 2,6.7 2,7.2 2,7.1 2,6.9 2,6.5 2,5.9 2,5.3 2,4.7 2,4.2 2,3.5 2,3.1 2,2.7 2,2.3 3,2.8 3,2.4 3,1.9 3,1.7 3,1.4 3,1.2 3,1 3,.9 3,.7 3,.7 4,.8 4,.7 4,.7 4,.6 4,.6 4,.5 4,.3 4,.1 6,-.3 6,-.6 6,-.7 6,-.5 6,-.1 6,.3 6,.5 6,.6 6,.5 6,.4 6,.4 6,.5 6,.4 6,.3 6,.2 6,0 6,-.1 6,-.2 6,0 6,0 6,-.1 6,-.2 6,-.5 6,-.8 6,-.6 6,-.4 6,.1 6,.5 6,.7 2,.1" stroke="#a32c8a"/>
<path d="M77.0,1385.9l6,1.1 6,.9 6,.6 6,.1 6,-.1 6,-.4 6,-.4 6,-.5 6,-.5 6,-.5 6,-.5 6,-.4 6,-.2 6,.1 6,.2 6,.3 6,.2 6,.1 6,0 6,.1 6,.3 6,.4 6,.5 6,.3 6,-.1 6,-.5 6,-.6 6,-.5 6,-.2 6,.2 6,.2 6,.2 6,-.1 6,-.4 6,-.4 6,-.2 6,.2 6,.6 4,.4 4,.2 4,0 4,-.4 4,-.8 4,-1.1 4,-1.3 4,-1.4 4,-1.3 4,-1.2 4,-1 4,-.9 4,-.8 4,-1 4,-1.2 4,-1.7 4,-2.1 4,-2.5 3,-2.2 3,-2.3 3,-2.5 3,-2.7 3,-2.9 3,-3.3 3,-3.8 2,-3 2,-3.3 2,-3.8 2,-4.3 2,-4.9 2,-5.3 2,-5.9 2,-6.3 2,-6.5 2,-6.5 2,-6.1 2,-5.3 2,-3.8 2,-2 2,.3 2,2.5 2,4.5 2,6.1 2,7.1 2,7.7 2,7.7 2,7.5 2,7.1 2,6.5 2,5.9 2,5.2 2,4.5 2,3.9 2,3.2 2,2.8 2,2.3 3,2.7 3,2.1 3,1.7 3,1.3 3,1.1 3,1 3,.9 3,.9 3,.9 3,.8 4,1.2 4,1.2 4,1 4,.9 4,.8 4,.5 4,.3 4,.1 6,0 6,-.1 6,0 6,.2 6,.2 6,.1 6,.1 6,0 6,0 6,.1 6,.1 6,.1 6,0 6,-.2 6,-.3 6,-.1 6,.1 6,.4 6,.6 6,.6 6,.1 6,-.3 6,-.6 6,-.6 6,-.4 6,0 6,.3 6,.5 6,.3 2,0" stroke="#a12c8b"/>
<path d="M77.0,1394.5l6,.5 6,.4 6,.1 6,-.3 6,-.3 6,-.4 6,-.4 6,-.2 6,-.2 6,-.1 6,0 6,.1 6,.3 6,.5 6,.6 6,.4 6,.2 6,0 6,0 6,0 6,.1 6,.1 6,0 6,-.3 6,-.7 6,-.9 6,-.9 6,-.5 6,0 6,.3 6,.5 6,.3 6,0 6,-.3 6,-.3 6,.1 6,.4 6,.7 4,.5 4,.3 4,0 4,-.3 4,-.5 4,-.9 4,-1 4,-1.1 4,-1 4,-1 4,-1 4,-1.1 4,-1.3 4,-1.5 4,-2 4,-2.4 4,-2.9 4,-3.1 3,-2.4 3,-2.5 3,-2.5 3,-2.6 3,-2.8 3,-3 3,-3.5 2,-2.8 2,-3.2 2,-3.7 2,-4.2 2,-4.8 2,-5.5 2,-6 2,-6.4 2,-6.8 2,-6.8 2,-6.4 2,-5.5 2,-4.2 2,-2.3 2,0 2,2.3 2,4.4 2,6.1 2,7.2 2,7.7 2,7.9 2,7.7 2,7.3 2,6.7 2,6.1 2,5.4 2,4.8 2,4.1 2,3.5 2,3.1 2,2.5 3,3.2 3,2.5 3,2 3,1.7 3,1.5 3,1.4 3,1.2 3,1.1 3,1.1 3,1 4,1.1 4,1 4,.8 4,.5 4,.2 4,0 4,-.1 4,-.1 6,-.2 6,0 6,.3 6,.5 6,.4 6,0 6,-.2 6,-.5 6,-.6 6,-.3 6,.1 6,.4 6,.6 6,.8 6,.9 6,.7 6,.6 6,.2 6,-.3 6,-.7 6,-1.2 6,-1.2 6,-.8 6,0 6,.8 6,1.4 6,1.5 6,1 6,0 2,-.2" stroke="#9f2b8d"/>
<path d="M77.0,1404.2l6,0 6,-.2 6,-.4 6,-.4 6,-.3 6,-.3 6,-.3 6,-.4 6,-.5 6,-.4 6,-.3 6,.3 6,.7 6,1 6,1 6,.7 6,.2 6,-.3 6,-.4 6,-.4 6,0 6,.1 6,.2 6,-.1 6,-.6 6,-.9 6,-1 6,-.7 6,0 6,.5 6,.9 6,.8 6,.5 6,.1 6,-.3 6,-.4 6,-.2 6,-.1 4,-.1 4,0 4,-.3 4,-.3 4,-.5 4,-.7 4,-.8 4,-.8 4,-1 4,-1 4,-1.1 4,-1.3 4,-1.5 4,-1.7 4,-2 4,-2.2 4,-2.4 4,-2.5 3,-1.9 3,-1.9 3,-2 3,-2.2 3,-2.5 3,-2.9 3,-3.7 2,-3 2,-3.5 2,-4.1 2,-4.7 2,-5.4 2,-6 2,-6.6 2,-7.1 2,-7.3 2,-7.4 2,-6.9 2,-5.9 2,-4.5 2,-2.4 2,0 2,2.4 2,4.7 2,6.4 2,7.5 2,8.3 2,8.3 2,8.2 2,7.7 2,7.2 2,6.4 2,5.7 2,5 2,4.2 2,3.6 2,2.9 2,2.5 3,2.9 3,2.2 3,1.7 3,1.4 3,1.3 3,1.2 3,1.3 3,1.4 3,1.4 3,1.5 4,1.8 4,1.6 4,1.3 4,.8 4,.4 4,-.2 4,-.5 4,-.7 6,-1.1 6,-.7 6,-.3 6,.2 6,.3 6,.2 6,0 6,-.2 6,0 6,.4 6,.8 6,1.1 6,1.1 6,.9 6,.5 6,0 6,-.4 6,-.5 6,-.7 6,-.6 6,-.6 6,-.4 6,-.2 6,0 6,.2 6,.2 6,.1 6,0 6,-.2 2,-.1" stroke="#9c2a8e"/>
<path d="M77.0,1412.7l6,.3 6,-.2 6,-.6 6,-.7 6,-.5 6,-.3 6,-.1 6,-.2 6,-.3 6,-.2 6,-.2 6,0 6,.3 6,.3 6,.4 6,.1 6,.1 6,.1 6,.4 6,.7 6,.9 6,.6 6,0 6,-.6 6,-1.2 6,-1.3 6,-.9 6,-.2 6,.4 6,.6 6,.4 6,-.2 6,-.6 6,-.8 6,-.5 6,.2 6,.6 6,.8 4,.4 4,.1 4,-.2 4,-.5 4,-.6 4,-.8 4,-.7 4,-.6 4,-.6 4,-.5 4,-.7 4,-1 4,-1.4 4,-2 4,-2.5 4,-3 4,-3.3 4,-3.4 3,-2.5 3,-2.4 3,-2.3 3,-2.3 3,-2.4 3,-2.8 3,-3.4 2,-2.8 2,-3.4 2,-3.9 2,-4.5 2,-5.3 2,-5.9 2,-6.5 2,-7.1 2,-7.4 2,-7.4 2,-7 2,-6.1 2,-4.5 2,-2.5 2,-.1 2,2.4 2,4.7 2,6.5 2,7.7 2,8.4 2,8.5 2,8.4 2,8 2,7.4 2,6.7 2,5.9 2,5.2 2,4.5 2,3.8 2,3.2 2,2.7 3,3.1 3,2.3 3,1.8 3,1.3 3,1.2 3,1 3,.9 3,1 3,.9 3,1 4,1.1 4,1 4,.8 4,.6 4,.3 4,.1 4,0 4,-.1 6,0 6,.1 6,.3 6,.2 6,0 6,-.1 6,0 6,.2 6,.6 6,.9 6,1 6,.6 6,.2 6,-.3 6,-.6 6,-.5 6,-.3 6,-.1 6,-.2 6,-.4 6,-.6 6,-.6 6,-.3 6,.2 6,.8 6,1.1 6,.9 6,.3 6,-.3 2,-.2" stroke="#9a2a8e"/>
<path d="M77.0,1420.1l6,.3 6,0 6,-.4 6,-.5 6,-.4 6,-.2 6,0 6,0 6,-.1 6,-.1 6,-.1 6,0 6,0 6,.2 6,.2 6,.2 6,.3 6,.3 6,.4 6,.5 6,.4 6,0 6,-.3 6,-.8 6,-.9 6,-.8 6,-.5 6,0 6,.3 6,.3 6,0 6,-.3 6,-.5 6,-.3 6,.2 6,.7 6,.9 6,.8 4,.3 4,-.1 4,-.4 4,-.8 4,-.9 4,-.9 4,-1 4,-.8 4,-.8 4,-.7 4,-.8 4,-1 4,-1.3 4,-1.8 4,-2.2 4,-2.5 4,-2.8 4,-2.9 3,-2.3 3,-2.2 3,-2.2 3,-2.3 3,-2.6 3,-3.1 3,-3.7 2,-3 2,-3.5 2,-4 2,-4.7 2,-5.3 2,-6 2,-6.5 2,-7 2,-7.2 2,-7.2 2,-6.7 2,-5.8 2,-4.2 2,-2.3 2,.2 2,2.6 2,4.9 2,6.6 2,7.7 2,8.4 2,8.6 2,8.3 2,8 2,7.3 2,6.6 2,5.8 2,5.1 2,4.4 2,3.6 2,3 2,2.5 3,2.9 3,2.1 3,1.5 3,1.1 3,1 3,.8 3,.8 3,.8 3,.9 3,.8 4,1.1 4,1 4,.8 4,.7 4,.3 4,.1 4,0 4,-.1 6,-.2 6,-.1 6,.2 6,.4 6,.5 6,.6 6,.6 6,.5 6,.3 6,.2 6,0 6,-.4 6,-.5 6,-.4 6,-.2 6,.1 6,.4 6,.5 6,.3 6,-.1 6,-.4 6,-.4 6,-.3 6,.1 6,.5 6,.6 6,.4 6,0 6,-.3 2,-.1" stroke="#972a8e"/>
<path d="M77.0,1429.9l6,-.2 6,-.9 6,-1.1 6,-.8 6,-.4 6,.2 6,.3 6,.3 6,-.2 6,-.5 6,-.5 6,-.2 6,.3 6,.9 6,1.1 6,1 6,.5 6,0 6,-.4 6,-.7 6,-.8 6,-.7 6,-.5 6,-.3 6,-.1 6,.2 6,.3 6,.4 6,.4 6,.2 6,0 6,-.3 6,-.3 6,-.3 6,0 6,.1 6,.1 6,-.1 4,-.3 4,-.3 4,-.4 4,-.5 4,-.4 4,-.3 4,-.2 4,-.1 4,-.3 4,-.4 4,-.8 4,-1.2 4,-1.7 4,-2.2 4,-2.6 4,-2.8 4,-2.9 4,-2.9 3,-2 3,-1.9 3,-1.9 3,-1.9 3,-2.1 3,-2.5 3,-3.2 2,-2.7 2,-3.1 2,-3.7 2,-4.3 2,-4.9 2,-5.5 2,-6.1 2,-6.5 2,-6.8 2,-6.7 2,-6.3 2,-5.3 2,-4 2,-2 2,.3 2,2.5 2,4.5 2,6.2 2,7.2 2,7.8 2,7.9 2,7.7 2,7.2 2,6.7 2,5.9 2,5.3 2,4.6 2,3.8 2,3.3 2,2.7 2,2.1 3,2.6 3,1.8 3,1.3 3,1.1 3,.9 3,.8 3,.9 3,.8 3,1 3,.9 4,1.2 4,1.1 4,1 4,.8 4,.5 4,.3 4,.1 4,0 6,-.2 6,-.2 6,0 6,.2 6,.3 6,.5 6,.6 6,.5 6,.5 6,.1 6,-.2 6,-.4 6,-.4 6,-.3 6,0 6,.2 6,.2 6,.1 6,-.3 6,-.5 6,-.4 6,-.1 6,.3 6,.8 6,.7 6,.5 6,-.2 6,-.6 6,-.7 2,-.1" stroke="#942a8f"/>
<path d="M77.0,1436.5l6,-.4 6,-.6 6,-.4 6,-.1 6,.5 6,.8 6,.7 6,.2 6,-.4 6,-.6 6,-.7 6,-.4 6,0 6,.1 6,.1 6,0 6,-.1 6,.1 6,.3 6,.7 6,.6 6,.4 6,-.1 6,-.8 6,-1.1 6,-.9 6,-.4 6,.2 6,.6 6,.5 6,.2 6,-.2 6,-.3 6,-.1 6,.4 6,.7 6,.7 6,.2 4,-.3 4,-.7 4,-.9 4,-1 4,-1 4,-.8 4,-.5 4,-.3 4,0 4,-.1 4,-.3 4,-.7 4,-1.3 4,-1.9 4,-2.4 4,-2.8 4,-3 4,-3 3,-2 3,-2 3,-1.8 3,-1.8 3,-2.1 3,-2.4 3,-3 2,-2.5 2,-3 2,-3.6 2,-4.1 2,-4.7 2,-5.3 2,-5.8 2,-6.2 2,-6.4 2,-6.3 2,-5.8 2,-5 2,-3.5 2,-1.7 2,.5 2,2.7 2,4.6 2,6.1 2,7.1 2,7.6 2,7.7 2,7.4 2,7 2,6.4 2,5.7 2,5 2,4.3 2,3.6 2,2.9 2,2.3 2,1.9 3,2 3,1.4 3,.9 3,.8 3,.6 3,.8 3,.8 3,.9 3,1 3,1 4,1.3 4,1.1 4,.7 4,.4 4,.1 4,-.2 4,-.2 4,-.3 6,-.2 6,.3 6,.5 6,.4 6,.4 6,.1 6,.2 6,.5 6,.8 6,1.1 6,.9 6,.7 6,0 6,-.5 6,-.8 6,-.8 6,-.7 6,-.7 6,-.6 6,-.6 6,-.7 6,-.4 6,.1 6,.7 6,1.1 6,1.1 6,.9 6,.4 6,0 2,-.1" stroke="#912a8f"/>
<path d="M77.0,1445.2l6,-.5 6,-.6 6,-.4 6,0 6,.3 6,.7 6,.6 6,.5 6,.1 6,-.2 6,-.4 6,-.5 6,-.7 6,-.6 6,-.6 6,-.5 6,-.1 6,.2 6,.5 6,.6 6,.4 6,0 6,-.3 6,-.5 6,-.5 6,-.2 6,.2 6,.5 6,.6 6,.5 6,.3 6,.2 6,.3 6,.4 6,.4 6,.2 6,-.4 6,-1 4,-.9 4,-1.2 4,-1.1 4,-.9 4,-.7 4,-.4 4,-.2 4,.1 4,0 4,-.1 4,-.5 4,-.9 4,-1.5 4,-1.9 4,-2.4 4,-2.5 4,-2.6 4,-2.5 3,-1.8 3,-1.7 3,-1.7 3,-1.7 3,-2 3,-2.5 3,-3 2,-2.5 2,-3 2,-3.5 2,-3.9 2,-4.6 2,-5 2,-5.5 2,-5.8 2,-5.9 2,-5.9 2,-5.4 2,-4.5 2,-3.1 2,-1.4 2,.8 2,2.7 2,4.6 2,6 2,6.8 2,7.2 2,7.3 2,6.9 2,6.5 2,5.9 2,5.2 2,4.6 2,3.8 2,3.2 2,2.6 2,2.2 2,1.6 3,1.9 3,1.4 3,1 3,.8 3,.8 3,.8 3,.9 3,.9 3,.9 3,.8 4,1 4,.8 4,.6 4,.3 4,0 4,0 4,-.1 4,-.1 6,-.1 6,.2 6,.3 6,.5 6,.4 6,.6 6,.8 6,.8 6,.8 6,.7 6,.4 6,.1 6,-.2 6,-.3 6,-.3 6,-.4 6,-.4 6,-.5 6,-.7 6,-.8 6,-.5 6,-.1 6,.3 6,.6 6,.5 6,.2 6,-.1 6,-.3 6,-.3 2,-.1" stroke="#8e2a8f"/>
<path d="M77.0,1454.4l6,-.5 6,-.7 6,-.8 6,-.6 6,-.3 6,0 6,0 6,0 6,0 6,.1 6,.3 6,.3 6,.3 6,.2 6,.1 6,-.1 6,-.1 6,-.2 6,-.1 6,-.1 6,-.3 6,-.3 6,-.3 6,-.2 6,.2 6,.6 6,.8 6,.6 6,.3 6,-.3 6,-.7 6,-.7 6,-.6 6,-.1 6,.2 6,.4 6,.1 6,-.3 4,-.5 4,-.5 4,-.6 4,-.4 4,-.3 4,-.1 4,0 4,0 4,-.1 4,-.4 4,-.6 4,-1.1 4,-1.5 4,-1.8 4,-2 4,-2.2 4,-2.1 4,-2 3,-1.4 3,-1.5 3,-1.5 3,-1.8 3,-2 3,-2.5 3,-3.2 2,-2.6 2,-3 2,-3.5 2,-4 2,-4.5 2,-4.9 2,-5.4 2,-5.6 2,-5.7 2,-5.6 2,-5.1 2,-4.2 2,-2.9 2,-1.2 2,.7 2,2.6 2,4.3 2,5.6 2,6.3 2,6.6 2,6.7 2,6.3 2,6 2,5.3 2,4.8 2,4.1 2,3.5 2,3 2,2.4 2,2 2,1.7 3,2 3,1.6 3,1.4 3,1.3 3,1.3 3,1.4 3,1.3 3,1.2 3,1.2 3,.9 4,1 4,.6 4,.2 4,-.1 4,-.3 4,-.4 4,-.3 4,-.1 6,.2 6,.6 6,.8 6,.7 6,.4 6,.2 6,-.1 6,-.1 6,-.2 6,0 6,.1 6,.1 6,.1 6,.1 6,-.1 6,-.2 6,-.5 6,-.5 6,-.4 6,0 6,.5 6,1 6,1.2 6,1.1 6,.5 6,-.4 6,-1 6,-1.2 6,-1 2,-.2" stroke="#8b298f"/>
<path d="M77.0,1460.8l6,-.6 6,-.5 6,-.2 6,0 6,.3 6,.3 6,.3 6,.1 6,0 6,-.1 6,0 6,.1 6,.2 6,.3 6,.1 6,.1 6,0 6,-.2 6,-.4 6,-.4 6,-.4 6,-.3 6,0 6,.3 6,.5 6,.5 6,.3 6,-.1 6,-.5 6,-.6 6,-.5 6,0 6,.4 6,.6 6,.5 6,0 6,-.6 6,-1 4,-.6 4,-.5 4,-.3 4,.1 4,.3 4,.4 4,.5 4,.2 4,-.1 4,-.7 4,-1.1 4,-1.7 4,-2 4,-2.2 4,-2.3 4,-2.1 4,-1.9 4,-1.6 3,-1.2 3,-1.2 3,-1.3 3,-1.5 3,-1.9 3,-2.4 3,-3.1 2,-2.5 2,-3 2,-3.4 2,-3.8 2,-4.3 2,-4.6 2,-5.1 2,-5.2 2,-5.3 2,-5.2 2,-4.6 2,-3.8 2,-2.5 2,-.8 2,.9 2,2.7 2,4.3 2,5.5 2,6.1 2,6.4 2,6.4 2,6.1 2,5.6 2,5.2 2,4.5 2,3.9 2,3.4 2,2.8 2,2.3 2,1.9 2,1.5 3,1.8 3,1.4 3,1.1 3,.9 3,.9 3,.8 3,.7 3,.7 3,.6 3,.6 4,.5 4,.4 4,.2 4,.2 4,.1 4,.2 4,.2 4,.2 6,.3 6,.3 6,.3 6,.2 6,.4 6,.6 6,.8 6,.6 6,.3 6,-.2 6,-.6 6,-.7 6,-.4 6,-.1 6,.3 6,.5 6,.2 6,-.3 6,-.5 6,-.7 6,-.3 6,.3 6,.7 6,.9 6,.6 6,0 6,-.5 6,-.8 6,-.6 2,-.1" stroke="#88298f"/>
<path d="M77.0,1470.7l6,-1.2 6,-1.1 6,-.8 6,-.2 6,.2 6,.3 6,.3 6,0 6,-.1 6,-.2 6,-.2 6,.1 6,.2 6,.4 6,.5 6,.5 6,.5 6,.3 6,.1 6,-.4 6,-.7 6,-.9 6,-.7 6,-.3 6,.2 6,.6 6,.8 6,.5 6,0 6,-.4 6,-.5 6,-.4 6,-.1 6,.4 6,.4 6,.1 6,-.3 6,-.8 4,-.6 4,-.6 4,-.4 4,-.2 4,0 4,.2 4,.2 4,.2 4,-.1 4,-.4 4,-.8 4,-1.1 4,-1.5 4,-1.7 4,-1.7 4,-1.8 4,-1.7 4,-1.6 3,-1.1 3,-1.2 3,-1.3 3,-1.6 3,-1.8 3,-2.3 3,-2.8 2,-2.3 2,-2.7 2,-3.1 2,-3.4 2,-3.9 2,-4.2 2,-4.6 2,-4.7 2,-4.9 2,-4.6 2,-4.3 2,-3.4 2,-2.3 2,-.8 2,.8 2,2.4 2,3.8 2,4.7 2,5.4 2,5.6 2,5.6 2,5.3 2,4.9 2,4.4 2,4 2,3.4 2,3 2,2.5 2,2.1 2,1.8 2,1.5 3,2 3,1.6 3,1.5 3,1.3 3,1.3 3,1.1 3,1.1 3,.8 3,.7 3,.5 4,.4 4,0 4,-.2 4,-.2 4,-.3 4,0 4,.1 4,.3 6,.7 6,.8 6,.5 6,.3 6,-.1 6,-.1 6,0 6,.1 6,.2 6,.4 6,.2 6,.2 6,.1 6,0 6,-.2 6,-.3 6,-.5 6,-.5 6,-.4 6,-.1 6,.1 6,.5 6,.4 6,.2 6,0 6,-.3 6,-.3 6,0 6,.5 2,.3" stroke="#85298f"/>
<path d="M77.0,1476.7l6,-.9 6,-.4 6,.1 6,.5 6,.5 6,.4 6,.2 6,0 6,0 6,0 6,.1 6,0 6,0 6,-.2 6,-.1 6,-.1 6,.1 6,.1 6,.2 6,.2 6,-.1 6,-.1 6,-.3 6,-.2 6,-.3 6,-.2 6,-.2 6,-.1 6,.1 6,.2 6,.5 6,.6 6,.5 6,.3 6,-.2 6,-.5 6,-.8 6,-.9 4,-.4 4,-.4 4,-.1 4,-.1 4,.1 4,.1 4,0 4,-.1 4,-.3 4,-.5 4,-.7 4,-.8 4,-1.1 4,-1.2 4,-1.3 4,-1.5 4,-1.6 4,-1.7 3,-1.4 3,-1.5 3,-1.7 3,-1.7 3,-2.1 3,-2.3 3,-2.7 2,-2.1 2,-2.4 2,-2.7 2,-3 2,-3.3 2,-3.7 2,-3.9 2,-4.1 2,-4.2 2,-4 2,-3.6 2,-2.9 2,-1.9 2,-.6 2,1 2,2.3 2,3.6 2,4.5 2,4.9 2,5.2 2,5.1 2,4.8 2,4.5 2,4 2,3.6 2,3.1 2,2.7 2,2.2 2,1.9 2,1.5 2,1.3 3,1.5 3,1.1 3,1 3,.7 3,.7 3,.7 3,.6 3,.5 3,.6 3,.5 4,.7 4,.6 4,.6 4,.6 4,.5 4,.3 4,.3 4,.2 6,0 6,-.2 6,-.2 6,0 6,.1 6,.4 6,.5 6,.4 6,.3 6,0 6,0 6,-.2 6,-.2 6,-.3 6,-.3 6,-.4 6,-.4 6,-.4 6,0 6,.3 6,.7 6,1 6,.9 6,.6 6,.1 6,-.4 6,-.8 6,-.8 6,-.5 2,-.2" stroke="#832990"/>
<path d="M77.0,1485.9l6,-.8 6,-.4 6,0 6,.4 6,.5 6,.2 6,-.2 6,-.5 6,-.5 6,-.4 6,-.1 6,.3 6,.4 6,.5 6,.3 6,.1 6,-.1 6,-.3 6,-.3 6,-.2 6,-.2 6,.1 6,.2 6,.4 6,.3 6,.2 6,-.1 6,-.3 6,-.5 6,-.4 6,-.1 6,.2 6,.5 6,.5 6,.2 6,-.3 6,-.7 6,-.7 4,-.5 4,-.2 4,0 4,.1 4,.3 4,.3 4,.2 4,-.1 4,-.4 4,-.8 4,-1 4,-1.4 4,-1.5 4,-1.5 4,-1.4 4,-1.3 4,-1.1 4,-1.1 3,-.8 3,-.9 3,-1 3,-1.1 3,-1.5 3,-1.8 3,-2.4 2,-1.9 2,-2.1 2,-2.5 2,-2.8 2,-3.1 2,-3.3 2,-3.6 2,-3.8 2,-3.8 2,-3.6 2,-3.2 2,-2.5 2,-1.6 2,-.4 2,1 2,2.2 2,3.2 2,4 2,4.5 2,4.6 2,4.4 2,4.3 2,3.9 2,3.5 2,3.1 2,2.7 2,2.2 2,1.9 2,1.6 2,1.2 2,1.1 3,1.2 3,1 3,.7 3,.7 3,.6 3,.5 3,.5 3,.4 3,.3 3,.3 4,.3 4,.2 4,.3 4,.3 4,.4 4,.4 4,.6 4,.6 6,.8 6,.6 6,.4 6,.3 6,.2 6,.2 6,.1 6,.2 6,-.1 6,-.3 6,-.5 6,-.7 6,-.6 6,-.5 6,-.3 6,-.2 6,.1 6,.2 6,.3 6,.4 6,.5 6,.4 6,.4 6,.1 6,.1 6,0 6,.2 6,.2 6,.2 2,.1" stroke="#802990"/>
<path d="M77.0,1492.8l6,-.3 6,.1 6,.3 6,.4 6,.2 6,0 6,-.2 6,-.2 6,-.1 6,.3 6,.5 6,.6 6,.5 6,.3 6,-.1 6,-.4 6,-.6 6,-.9 6,-1 6,-.8 6,-.5 6,.1 6,.6 6,.9 6,1 6,.8 6,.1 6,-.3 6,-.6 6,-.5 6,0 6,.6 6,.8 6,.8 6,.2 6,-.6 6,-1.3 6,-1.4 4,-.9 4,-.5 4,-.3 4,0 4,.3 4,.3 4,.2 4,.1 4,-.2 4,-.5 4,-.7 4,-.9 4,-1 4,-1 4,-.9 4,-.9 4,-1 4,-1 3,-.9 3,-1.1 3,-1.2 3,-1.5 3,-1.8 3,-2.2 3,-2.5 2,-2 2,-2.2 2,-2.5 2,-2.7 2,-2.9 2,-3.2 2,-3.4 2,-3.4 2,-3.4 2,-3.3 2,-2.9 2,-2.2 2,-1.3 2,-.2 2,1.1 2,2.2 2,3.1 2,3.9 2,4.2 2,4.3 2,4.2 2,3.9 2,3.6 2,3.2 2,2.9 2,2.4 2,2 2,1.7 2,1.4 2,1.2 2,.9 3,1.2 3,1 3,.8 3,.7 3,.7 3,.6 3,.6 3,.5 3,.3 3,.4 4,.3 4,.2 4,.2 4,.3 4,.3 4,.4 4,.4 4,.5 6,.7 6,.6 6,.7 6,.5 6,.5 6,.3 6,.1 6,-.5 6,-.8 6,-1.1 6,-1 6,-.8 6,-.3 6,.1 6,.4 6,.4 6,.3 6,.4 6,.4 6,.6 6,.8 6,.7 6,.5 6,0 6,-.5 6,-.8 6,-.7 6,-.4 6,0 2,0" stroke="#7d2990"/>
<path d="M77.0,1499.8l6,-.5 6,.3 6,.8 6,1.1 6,1.1 6,.6 6,.1 6,-.3 6,-.5 6,-.4 6,-.2 6,0 6,.3 6,.3 6,.3 6,0 6,-.3 6,-.8 6,-1.1 6,-1.1 6,-.8 6,-.1 6,.6 6,1.2 6,1.4 6,1.1 6,.5 6,-.3 6,-.7 6,-.8 6,-.4 6,.1 6,.5 6,.4 6,.2 6,-.4 6,-.6 6,-.6 4,-.3 4,0 4,.1 4,.3 4,.2 4,.2 4,0 4,-.3 4,-.7 4,-.9 4,-1.1 4,-1.2 4,-1.2 4,-1.2 4,-1 4,-.9 4,-.8 4,-.9 3,-.6 3,-.7 3,-.9 3,-1 3,-1.2 3,-1.5 3,-1.8 2,-1.5 2,-1.7 2,-1.9 2,-2.2 2,-2.4 2,-2.7 2,-2.8 2,-3 2,-3.1 2,-2.9 2,-2.7 2,-2.1 2,-1.3 2,-.4 2,.7 2,1.7 2,2.5 2,3 2,3.4 2,3.6 2,3.5 2,3.3 2,3.1 2,2.9 2,2.5 2,2.3 2,2 2,1.7 2,1.6 2,1.3 2,1.2 3,1.5 3,1.2 3,.9 3,.8 3,.5 3,.3 3,.2 3,0 3,-.1 3,-.2 4,-.1 4,-.1 4,.2 4,.4 4,.7 4,.8 4,.8 4,.7 6,.7 6,.1 6,-.3 6,-.5 6,-.4 6,-.1 6,0 6,.1 6,0 6,-.1 6,-.1 6,-.1 6,.1 6,.2 6,.4 6,.4 6,.2 6,.1 6,0 6,0 6,-.1 6,-.2 6,-.2 6,-.2 6,-.1 6,0 6,.3 6,.4 6,.4 2,.1" stroke="#7a2990"/>
<path d="M77.0,1508.9l6,-.3 6,.2 6,.4 6,.4 6,.2 6,.1 6,-.2 6,0 6,0 6,.1 6,.1 6,0 6,0 6,0 6,.1 6,.2 6,.3 6,.3 6,0 6,-.3 6,-.4 6,-.4 6,-.3 6,-.1 6,.1 6,.2 6,0 6,0 6,0 6,0 6,.1 6,.1 6,0 6,-.3 6,-.5 6,-.6 6,-.3 6,.2 4,.4 4,.6 4,.6 4,.6 4,.4 4,0 4,-.3 4,-.7 4,-.9 4,-1.1 4,-1.1 4,-1 4,-.8 4,-.6 4,-.5 4,-.4 4,-.6 4,-.7 3,-.7 3,-.9 3,-1.1 3,-1.3 3,-1.5 3,-1.8 3,-2 2,-1.5 2,-1.7 2,-1.8 2,-2.1 2,-2.2 2,-2.4 2,-2.5 2,-2.6 2,-2.6 2,-2.5 2,-2.2 2,-1.7 2,-1 2,-.2 2,.7 2,1.6 2,2.3 2,2.8 2,3.1 2,3.1 2,3.1 2,3 2,2.7 2,2.5 2,2.3 2,2 2,1.8 2,1.5 2,1.4 2,1.2 2,1.1 3,1.4 3,1.2 3,1 3,.8 3,.6 3,.4 3,.3 3,.1 3,.1 3,-.1 4,0 4,-.1 4,.1 4,.2 4,.3 4,.3 4,.4 4,.2 6,0 6,-.2 6,-.3 6,-.2 6,.2 6,.5 6,.6 6,.6 6,.3 6,0 6,-.4 6,-.5 6,-.5 6,-.5 6,-.4 6,-.2 6,0 6,.4 6,.7 6,.8 6,.8 6,.5 6,0 6,-.5 6,-.6 6,-.7 6,-.2 6,.1 6,.3 2,.1" stroke="#772990"/>
<path d="M77.0,1517.1l6,.4 6,.8 6,.5 6,0 6,-.5 6,-.7 6,-.6 6,-.1 6,.6 6,1 6,.9 6,.5 6,-.1 6,-.7 6,-1 6,-.8 6,-.5 6,-.1 6,.2 6,.2 6,.3 6,.1 6,0 6,0 6,.1 6,.2 6,.4 6,.6 6,.7 6,.6 6,.3 6,-.1 6,-.6 6,-1.1 6,-1.2 6,-1.1 6,-.6 6,0 4,.2 4,.4 4,.3 4,.2 4,.1 4,-.2 4,-.4 4,-.6 4,-.5 4,-.5 4,-.3 4,-.2 4,0 4,0 4,0 4,-.3 4,-.7 4,-1 3,-1 3,-1.1 3,-1.4 3,-1.4 3,-1.6 3,-1.7 3,-1.9 2,-1.4 2,-1.5 2,-1.6 2,-1.8 2,-2 2,-2.2 2,-2.3 2,-2.5 2,-2.4 2,-2.4 2,-2.2 2,-1.7 2,-1.1 2,-.3 2,.5 2,1.4 2,2 2,2.5 2,2.8 2,2.9 2,2.9 2,2.7 2,2.6 2,2.4 2,2.2 2,2 2,1.8 2,1.6 2,1.3 2,1.3 2,1.1 3,1.3 3,1.1 3,.8 3,.5 3,.3 3,.2 3,0 3,-.1 3,-.1 3,-.1 4,0 4,.3 4,.6 4,.8 4,.8 4,.8 4,.6 4,.3 6,-.2 6,-.6 6,-.8 6,-.3 6,.2 6,.8 6,1 6,.7 6,0 6,-.6 6,-1.1 6,-1.1 6,-.7 6,-.1 6,.4 6,.8 6,.9 6,.7 6,.3 6,0 6,-.4 6,-.5 6,-.4 6,-.1 6,.2 6,.6 6,.5 6,.3 6,-.3 2,-.2" stroke="#74298f"/>
<path d="M77.0,1524.4l6,.7 6,.8 6,.7 6,.3 6,0 6,-.2 6,-.1 6,.1 6,.4 6,.4 6,.3 6,0 6,-.2 6,-.4 6,-.5 6,-.4 6,-.5 6,-.4 6,-.4 6,-.4 6,-.1 6,.1 6,.3 6,.5 6,.5 6,.3 6,.2 6,.2 6,.2 6,.5 6,.5 6,.4 6,0 6,-.5 6,-.9 6,-1 6,-.8 6,-.3 4,-.1 4,.1 4,.2 4,.1 4,-.1 4,-.1 4,-.3 4,-.4 4,-.3 4,-.4 4,-.2 4,-.1 4,-.2 4,-.2 4,-.4 4,-.8 4,-1.1 4,-1.4 3,-1.3 3,-1.4 3,-1.5 3,-1.5 3,-1.6 3,-1.6 3,-1.8 2,-1.2 2,-1.3 2,-1.5 2,-1.6 2,-1.8 2,-2 2,-2.1 2,-2.2 2,-2.2 2,-2.2 2,-1.9 2,-1.6 2,-.8 2,-.1 2,.7 2,1.6 2,2.2 2,2.7 2,2.9 2,3 2,2.9 2,2.8 2,2.6 2,2.3 2,2.1 2,1.8 2,1.6 2,1.3 2,1.1 2,1 2,.8 3,.9 3,.6 3,.4 3,.3 3,.1 3,0 3,-.1 3,-.1 3,0 3,.1 4,.3 4,.5 4,.7 4,.9 4,.9 4,1 4,.7 4,.6 6,.4 6,0 6,-.2 6,-.1 6,-.2 6,-.1 6,-.2 6,-.4 6,-.5 6,-.6 6,-.3 6,-.1 6,.3 6,.4 6,.5 6,.5 6,.3 6,.3 6,.2 6,0 6,-.2 6,-.4 6,-.6 6,-.5 6,-.2 6,.2 6,.5 6,.7 6,.6 2,0" stroke="#71298f"/>
<path d="M77.0,1533.4l6,.3 6,.5 6,.4 6,.2 6,.1 6,.1 6,.2 6,.4 6,.5 6,.2 6,-.1 6,-.5 6,-.7 6,-.6 6,-.5 6,-.2 6,0 6,0 6,0 6,0 6,-.1 6,0 6,.1 6,0 6,0 6,-.1 6,0 6,.2 6,.4 6,.7 6,.6 6,.5 6,.1 6,-.4 6,-.6 6,-.6 6,-.4 6,-.1 4,0 4,-.1 4,-.3 4,-.6 4,-.8 4,-1.1 4,-1.3 4,-1.4 4,-1.3 4,-1.2 4,-1 4,-.8 4,-.6 4,-.4 4,-.5 4,-.6 4,-.7 4,-.8 3,-.7 3,-.8 3,-.8 3,-.9 3,-1 3,-1.2 3,-1.4 2,-1.1 2,-1.3 2,-1.5 2,-1.6 2,-1.9 2,-2.1 2,-2.2 2,-2.2 2,-2.2 2,-2 2,-1.5 2,-1 2,-.1 2,.5 2,1.3 2,1.8 2,2.3 2,2.6 2,2.7 2,2.7 2,2.7 2,2.6 2,2.5 2,2.2 2,2.1 2,1.9 2,1.7 2,1.6 2,1.3 2,1.2 2,1 3,1.3 3,.9 3,.6 3,.4 3,.2 3,0 3,-.2 3,-.1 3,-.2 3,0 4,0 4,.3 4,.5 4,.6 4,.7 4,.7 4,.5 4,.4 6,.2 6,0 6,0 6,-.1 6,0 6,0 6,-.2 6,-.4 6,-.4 6,-.2 6,0 6,.3 6,.5 6,.5 6,.5 6,.3 6,.2 6,.1 6,.1 6,.1 6,-.1 6,-.2 6,-.4 6,-.3 6,-.3 6,-.2 6,-.1 6,-.1 6,-.4 2,-.2" stroke="#6e298f"/>
<path d="M77.0,1540.3l6,1.7 6,1.7 6,1.1 6,.1 6,-.6 6,-.7 6,-.4 6,.1 6,.5 6,.2 6,-.4 6,-1.1 6,-1.3 6,-1 6,-.2 6,.7 6,1.3 6,1.1 6,.7 6,0 6,-.3 6,-.3 6,0 6,.3 6,.3 6,-.1 6,-.6 6,-1 6,-.8 6,-.3 6,.4 6,.8 6,.7 6,.1 6,-.6 6,-.9 6,-.8 6,-.4 4,0 4,.1 4,0 4,-.2 4,-.6 4,-1.1 4,-1.3 4,-1.6 4,-1.6 4,-1.4 4,-1.1 4,-.8 4,-.4 4,-.3 4,-.4 4,-.6 4,-.9 4,-1.2 3,-1.2 3,-1.3 3,-1.4 3,-1.3 3,-1.4 3,-1.5 3,-1.5 2,-1.1 2,-1.2 2,-1.4 2,-1.5 2,-1.8 2,-1.9 2,-2.1 2,-2.2 2,-2.2 2,-2 2,-1.7 2,-1.1 2,-.3 2,.5 2,1.2 2,1.8 2,2.3 2,2.7 2,2.8 2,2.9 2,2.8 2,2.8 2,2.7 2,2.6 2,2.4 2,2.2 2,2.1 2,1.8 2,1.7 2,1.5 2,1.3 3,1.6 3,1.1 3,.7 3,.4 3,0 3,-.2 3,-.2 3,-.3 3,-.1 3,.1 4,.4 4,.9 4,1.1 4,1.2 4,1 4,.7 4,.2 4,-.1 6,-.7 6,-.8 6,-.2 6,.4 6,.8 6,.5 6,0 6,-.7 6,-1.1 6,-.8 6,-.2 6,.6 6,.8 6,.8 6,.3 6,-.1 6,-.2 6,0 6,.3 6,.6 6,.4 6,-.1 6,-.6 6,-.9 6,-.7 6,-.2 6,.4 6,.5 6,.4 2,0" stroke="#6a2a8f"/>
<path d="M77.0,1550.1l6,.5 6,.4 6,0 6,-.3 6,-.3 6,-.1 6,.1 6,.4 6,.4 6,.1 6,0 6,-.3 6,-.3 6,-.1 6,0 6,.2 6,.2 6,.1 6,0 6,-.1 6,0 6,0 6,.1 6,.1 6,0 6,0 6,-.1 6,.1 6,.2 6,.2 6,-.1 6,-.4 6,-.7 6,-1 6,-1 6,-.8 6,-.4 6,-.2 4,-.1 4,-.2 4,-.4 4,-.6 4,-.7 4,-.8 4,-.9 4,-.9 4,-.8 4,-.8 4,-.8 4,-.8 4,-1 4,-1.2 4,-1.4 4,-1.7 4,-1.8 4,-1.8 3,-1.3 3,-1.2 3,-1.2 3,-1 3,-1 3,-1 3,-1.3 2,-1 2,-1.2 2,-1.4 2,-1.7 2,-2 2,-2.2 2,-2.4 2,-2.5 2,-2.5 2,-2.4 2,-1.9 2,-1.2 2,-.4 2,.6 2,1.4 2,2.2 2,2.7 2,3.2 2,3.4 2,3.4 2,3.4 2,3.2 2,3.1 2,2.8 2,2.6 2,2.3 2,2 2,1.8 2,1.6 2,1.3 2,1.1 3,1.3 3,.9 3,.6 3,.5 3,.3 3,.3 3,.3 3,.4 3,.4 3,.5 4,.9 4,.9 4,.9 4,.8 4,.6 4,.3 4,0 4,-.2 6,-.5 6,-.5 6,-.3 6,0 6,.2 6,.2 6,0 6,-.1 6,-.2 6,-.1 6,.1 6,.2 6,.2 6,.2 6,.1 6,0 6,.2 6,.2 6,.2 6,.2 6,.1 6,-.2 6,-.2 6,-.2 6,-.2 6,-.1 6,-.1 6,-.2 6,-.4 2,-.1" stroke="#672a8f"/>
<path d="M77.0,1559.9l6,.8 6,.4 6,-.1 6,-.4 6,-.4 6,-.3 6,0 6,0 6,-.1 6,-.4 6,-.7 6,-.8 6,-.7 6,-.4 6,0 6,.2 6,.4 6,.5 6,.4 6,.6 6,.6 6,.6 6,.6 6,.3 6,.1 6,-.1 6,-.3 6,-.3 6,-.2 6,-.3 6,-.5 6,-.8 6,-.9 6,-1 6,-.8 6,-.5 6,-.3 6,-.3 4,-.4 4,-.5 4,-.7 4,-1 4,-1 4,-1.1 4,-1.1 4,-1.1 4,-.9 4,-1 4,-.9 4,-1.1 4,-1.3 4,-1.4 4,-1.8 4,-1.8 4,-1.9 4,-1.8 3,-1.2 3,-1 3,-.9 3,-.8 3,-.7 3,-.8 3,-1 2,-.9 2,-1.1 2,-1.4 2,-1.7 2,-2 2,-2.2 2,-2.5 2,-2.7 2,-2.7 2,-2.5 2,-2.1 2,-1.4 2,-.5 2,.6 2,1.5 2,2.3 2,3.1 2,3.5 2,3.7 2,3.8 2,3.8 2,3.6 2,3.3 2,3.1 2,2.8 2,2.5 2,2.1 2,1.9 2,1.5 2,1.3 2,1 3,1.1 3,.7 3,.4 3,.3 3,.1 3,.1 3,.2 3,.3 3,.4 3,.5 4,.8 4,1 4,.9 4,.9 4,.7 4,.5 4,.3 4,.2 6,.1 6,.3 6,.4 6,.6 6,.4 6,.1 6,-.3 6,-.6 6,-.8 6,-.6 6,-.3 6,-.2 6,0 6,.1 6,.1 6,.2 6,.2 6,.4 6,.5 6,.3 6,.2 6,0 6,-.1 6,-.1 6,0 6,0 6,-.1 6,-.3 6,-.5 2,-.2" stroke="#642a8e"/>
<path d="M77.0,1567.8l6,.8 6,.4 6,-.1 6,-.4 6,-.4 6,-.2 6,-.1 6,-.2 6,-.3 6,-.5 6,-.6 6,-.5 6,-.1 6,.3 6,.5 6,.6 6,.5 6,.2 6,0 6,-.1 6,-.1 6,0 6,.1 6,0 6,.2 6,.1 6,.2 6,.3 6,.2 6,0 6,-.5 6,-1 6,-1.2 6,-1.4 6,-1.2 6,-.9 6,-.8 6,-.8 4,-.6 4,-.7 4,-.8 4,-.9 4,-.9 4,-.9 4,-.9 4,-.8 4,-.8 4,-1 4,-1.1 4,-1.5 4,-1.8 4,-2.1 4,-2.3 4,-2.4 4,-2.2 4,-2 3,-1.3 3,-1 3,-.7 3,-.5 3,-.5 3,-.6 3,-.8 2,-.8 2,-1 2,-1.4 2,-1.6 2,-2 2,-2.3 2,-2.6 2,-2.8 2,-2.9 2,-2.7 2,-2.3 2,-1.6 2,-.6 2,.4 2,1.5 2,2.4 2,3.3 2,3.7 2,4 2,4.1 2,4.1 2,3.9 2,3.6 2,3.3 2,3.1 2,2.6 2,2.4 2,2 2,1.7 2,1.5 2,1.2 3,1.4 3,1 3,.8 3,.7 3,.5 3,.6 3,.7 3,.7 3,.7 3,.8 4,1.1 4,.9 4,.8 4,.4 4,.1 4,-.1 4,-.4 4,-.4 6,-.6 6,-.1 6,.3 6,.6 6,.6 6,.3 6,.1 6,-.2 6,-.3 6,-.2 6,-.1 6,0 6,0 6,.1 6,.2 6,.3 6,.4 6,.6 6,.5 6,.2 6,0 6,-.4 6,-.6 6,-.6 6,-.5 6,-.5 6,-.4 6,-.4 6,-.3 2,-.1" stroke="#612a8e"/>
<path d="M77.0,1576.1l6,.4 6,.1 6,-.2 6,-.3 6,0 6,.3 6,.3 6,.1 6,-.1 6,-.6 6,-.8 6,-.7 6,-.4 6,0 6,.2 6,.3 6,.3 6,.1 6,.1 6,0 6,.1 6,.2 6,.1 6,.1 6,.1 6,.2 6,.2 6,.3 6,.3 6,0 6,-.3 6,-.7 6,-1.1 6,-1.2 6,-1.2 6,-1.4 6,-1.5 6,-1.9 4,-1.5 4,-1.5 4,-1.5 4,-1.5 4,-1.3 4,-1 4,-.8 4,-.7 4,-.5 4,-.7 4,-.8 4,-1.2 4,-1.5 4,-1.9 4,-2.1 4,-2.3 4,-2.1 4,-1.9 3,-1.2 3,-1 3,-.8 3,-.6 3,-.7 3,-.9 3,-1.1 2,-1 2,-1.3 2,-1.6 2,-1.9 2,-2.3 2,-2.6 2,-2.9 2,-3.1 2,-3.1 2,-3 2,-2.5 2,-1.8 2,-.7 2,.5 2,1.7 2,2.7 2,3.7 2,4.2 2,4.5 2,4.7 2,4.6 2,4.5 2,4.1 2,3.9 2,3.4 2,3.1 2,2.6 2,2.3 2,2 2,1.6 2,1.3 3,1.5 3,1.1 3,.8 3,.6 3,.6 3,.5 3,.6 3,.6 3,.7 3,.7 4,.9 4,.9 4,.6 4,.3 4,.2 4,-.1 4,-.1 4,-.2 6,0 6,.3 6,.5 6,.5 6,.3 6,-.1 6,-.4 6,-.5 6,-.4 6,-.1 6,.1 6,.3 6,.3 6,.1 6,.1 6,.1 6,.2 6,.2 6,.3 6,.1 6,.1 6,0 6,0 6,0 6,0 6,-.1 6,-.4 6,-.6 6,-.7 2,-.2" stroke="#5e2a8e"/>
<path d="M77.0,1583.8l6,-.3 6,-.4 6,-.2 6,.2 6,.5 6,.6 6,.4 6,-.1 6,-.5 6,-.5 6,-.4 6,0 6,.3 6,.4 6,.2 6,-.2 6,-.6 6,-.4 6,-.2 6,.5 6,.9 6,1.1 6,.8 6,.1 6,-.5 6,-.9 6,-1 6,-.6 6,-.1 6,.2 6,.1 6,-.3 6,-.9 6,-1.5 6,-1.8 6,-1.9 6,-1.8 6,-1.7 4,-1 4,-1 4,-.8 4,-.8 4,-.8 4,-.8 4,-1 4,-1.1 4,-1.4 4,-1.7 4,-2.1 4,-2.3 4,-2.6 4,-2.6 4,-2.5 4,-2.3 4,-2 4,-1.6 3,-.9 3,-.8 3,-.6 3,-.6 3,-.7 3,-.9 3,-1.3 2,-1.1 2,-1.4 2,-1.6 2,-2 2,-2.3 2,-2.6 2,-2.8 2,-3 2,-3 2,-2.8 2,-2.4 2,-1.5 2,-.4 2,.8 2,2.2 2,3.2 2,4.2 2,4.8 2,5.1 2,5.2 2,5.1 2,4.7 2,4.5 2,3.9 2,3.5 2,3.1 2,2.5 2,2.1 2,1.7 2,1.4 2,1 3,1.1 3,.8 3,.5 3,.5 3,.6 3,.6 3,.9 3,.9 3,1.1 3,1.1 4,1.5 4,1.2 4,1 4,.6 4,.3 4,0 4,-.1 4,-.3 6,-.3 6,-.1 6,0 6,0 6,-.2 6,-.3 6,-.4 6,-.3 6,-.1 6,.1 6,.3 6,.3 6,.4 6,.4 6,.5 6,.6 6,.7 6,.6 6,.2 6,-.3 6,-.6 6,-.7 6,-.7 6,-.5 6,-.2 6,-.1 6,-.1 6,-.1 6,-.2 2,0" stroke="#5b2a8d"/>
<path d="M77.0,1592.9l6,-.6 6,-.9 6,-.8 6,-.3 6,.3 6,.8 6,.8 6,.6 6,.1 6,-.3 6,-.6 6,-.4 6,-.1 6,.1 6,.4 6,.4 6,.3 6,.1 6,-.1 6,-.2 6,-.3 6,-.2 6,-.3 6,-.2 6,-.1 6,.1 6,.3 6,.3 6,0 6,-.2 6,-.6 6,-.9 6,-.9 6,-.8 6,-.9 6,-1.2 6,-1.8 6,-2.6 4,-2.1 4,-2.1 4,-2.2 4,-2 4,-1.6 4,-1.3 4,-1 4,-.8 4,-.8 4,-1 4,-1.2 4,-1.7 4,-2.2 4,-2.5 4,-2.6 4,-2.7 4,-2.5 4,-2.1 3,-1.2 3,-1.1 3,-.8 3,-.7 3,-.6 3,-.8 3,-1.1 2,-.9 2,-1.2 2,-1.5 2,-1.8 2,-2.1 2,-2.5 2,-2.7 2,-3 2,-3 2,-2.9 2,-2.5 2,-1.6 2,-.6 2,.8 2,2 2,3.2 2,4.2 2,4.9 2,5.1 2,5.3 2,5.2 2,4.9 2,4.5 2,4 2,3.6 2,3.2 2,2.7 2,2.2 2,1.9 2,1.6 2,1.3 3,1.5 3,1.2 3,1 3,.9 3,1 3,.9 3,1 3,1.1 3,.9 3,.9 4,1 4,.6 4,.3 4,0 4,-.2 4,-.3 4,-.2 4,0 6,.4 6,.9 6,1 6,.6 6,.2 6,-.4 6,-.6 6,-.6 6,-.2 6,.3 6,.5 6,.5 6,.4 6,0 6,-.1 6,-.3 6,-.3 6,-.3 6,-.1 6,-.1 6,.1 6,.3 6,.3 6,.3 6,.1 6,-.1 6,-.3 6,-.5 6,-.3 2,0" stroke="#592a8d"/>
<path d="M77.0,1600.4l6,-.4 6,-.3 6,0 6,.2 6,.5 6,.3 6,.1 6,-.2 6,-.4 6,-.4 6,-.2 6,0 6,.1 6,.1 6,0 6,-.1 6,0 6,.2 6,.4 6,.5 6,.5 6,.3 6,0 6,-.3 6,-.5 6,-.6 6,-.5 6,-.3 6,-.2 6,-.2 6,-.2 6,-.3 6,-.7 6,-1 6,-1.5 6,-2.1 6,-2.7 6,-2.9 4,-1.9 4,-1.8 4,-1.6 4,-1.4 4,-1.1 4,-1 4,-1 4,-1.2 4,-1.4 4,-1.8 4,-2.3 4,-2.5 4,-2.8 4,-2.8 4,-2.7 4,-2.4 4,-2 4,-1.5 3,-.9 3,-.7 3,-.6 3,-.5 3,-.7 3,-.8 3,-1.3 2,-1.1 2,-1.3 2,-1.7 2,-2 2,-2.3 2,-2.7 2,-2.9 2,-3.2 2,-3.2 2,-3 2,-2.6 2,-1.8 2,-.6 2,.8 2,2.2 2,3.4 2,4.5 2,5.2 2,5.5 2,5.7 2,5.5 2,5.2 2,4.8 2,4.3 2,3.9 2,3.3 2,2.8 2,2.4 2,2 2,1.6 2,1.4 3,1.6 3,1.2 3,1.1 3,1.1 3,1.1 3,1.1 3,1.2 3,1.3 3,1.2 3,1 4,1.2 4,.7 4,.3 4,-.2 4,-.4 4,-.6 4,-.6 4,-.3 6,0 6,.7 6,1 6,.9 6,.4 6,-.1 6,-.5 6,-.5 6,-.1 6,.3 6,.7 6,.7 6,.6 6,.3 6,0 6,-.2 6,-.2 6,-.2 6,-.3 6,-.3 6,-.4 6,-.3 6,-.2 6,-.1 6,0 6,0 6,0 6,-.2 6,0 2,0" stroke="#562a8c"/>
<path d="M77.0,1608.7l6,-.9 6,-.3 6,.2 6,.9 6,.9 6,.5 6,-.2 6,-1 6,-1.2 6,-1 6,-.4 6,.5 6,1 6,1.1 6,.7 6,.1 6,-.5 6,-.7 6,-.6 6,-.1 6,.2 6,.5 6,.5 6,.3 6,.1 6,-.2 6,-.4 6,-.5 6,-.4 6,-.5 6,-.5 6,-.4 6,-.5 6,-.8 6,-1.3 6,-2.1 6,-3 6,-3.7 4,-2.7 4,-2.5 4,-2.3 4,-1.9 4,-1.5 4,-1.2 4,-.9 4,-1 4,-1.1 4,-1.4 4,-1.9 4,-2.3 4,-2.6 4,-2.7 4,-2.8 4,-2.5 4,-2.2 4,-1.8 3,-1.1 3,-1 3,-.8 3,-.8 3,-.8 3,-1.1 3,-1.3 2,-1.2 2,-1.4 2,-1.6 2,-2 2,-2.2 2,-2.6 2,-2.8 2,-2.9 2,-3.1 2,-2.9 2,-2.5 2,-1.6 2,-.4 2,1 2,2.3 2,3.7 2,4.7 2,5.5 2,5.7 2,5.9 2,5.6 2,5.2 2,4.8 2,4.3 2,3.8 2,3.2 2,2.7 2,2.2 2,1.9 2,1.5 2,1.3 3,1.5 3,1.4 3,1.3 3,1.4 3,1.4 3,1.4 3,1.6 3,1.4 3,1.4 3,1.1 4,1.1 4,.6 4,.2 4,-.2 4,-.4 4,-.3 4,-.2 4,0 6,.6 6,.9 6,.8 6,.3 6,-.3 6,-.7 6,-.7 6,-.3 6,.2 6,.7 6,.9 6,.9 6,.7 6,.3 6,.1 6,-.1 6,-.2 6,-.3 6,-.3 6,-.4 6,-.5 6,-.6 6,-.5 6,-.5 6,-.5 6,-.2 6,.1 6,.5 6,.9 2,.3" stroke="#532a8c"/>
<path d="M77.0,1618.7l6,-.7 6,-.8 6,-.6 6,0 6,.2 6,.3 6,0 6,-.2 6,-.5 6,-.6 6,-.3 6,-.2 6,.1 6,.1 6,.1 6,.1 6,.3 6,.5 6,.8 6,.8 6,.6 6,.3 6,-.3 6,-.6 6,-.9 6,-1 6,-.7 6,-.6 6,-.5 6,-.2 6,-.1 6,0 6,-.1 6,-.5 6,-1.2 6,-2.3 6,-3.5 6,-4.4 4,-3.1 4,-3 4,-2.7 4,-2.2 4,-1.7 4,-1.3 4,-.9 4,-.9 4,-1.1 4,-1.4 4,-1.8 4,-2.3 4,-2.7 4,-2.7 4,-2.8 4,-2.5 4,-2.1 4,-1.8 3,-1 3,-.9 3,-.7 3,-.8 3,-.8 3,-1.1 3,-1.4 2,-1.3 2,-1.5 2,-1.8 2,-2.1 2,-2.5 2,-2.8 2,-3.1 2,-3.3 2,-3.5 2,-3.3 2,-2.8 2,-2 2,-.8 2,.7 2,2.3 2,3.6 2,4.9 2,5.6 2,6.1 2,6.2 2,6.1 2,5.8 2,5.3 2,4.9 2,4.3 2,3.8 2,3.3 2,2.8 2,2.3 2,2.1 2,1.7 3,2.1 3,1.7 3,1.5 3,1.4 3,1.3 3,1.2 3,1.1 3,1.1 3,.9 3,.8 4,.8 4,.5 4,.3 4,.1 4,.1 4,.2 4,.1 4,.3 6,.3 6,.1 6,-.3 6,-.7 6,-.7 6,-.3 6,.2 6,1 6,1.4 6,1.5 6,1.2 6,.6 6,.1 6,-.4 6,-.7 6,-.7 6,-.7 6,-.7 6,-.5 6,-.5 6,-.3 6,-.1 6,0 6,.2 6,.2 6,.3 6,.3 6,.4 6,.7 2,.3" stroke="#502a8b"/>
<path d="M77.0,1625.8l6,-.4 6,-.2 6,.1 6,.5 6,.5 6,.1 6,-.4 6,-.8 6,-1 6,-.7 6,-.4 6,0 6,.2 6,.3 6,.2 6,.2 6,.3 6,.5 6,.7 6,.7 6,.6 6,.2 6,-.3 6,-.6 6,-.7 6,-.8 6,-.7 6,-.6 6,-.4 6,-.3 6,-.1 6,0 6,-.2 6,-.6 6,-1.6 6,-2.9 6,-4.1 6,-5.1 4,-3.5 4,-3.2 4,-2.8 4,-2.3 4,-1.5 4,-1.1 4,-.7 4,-.6 4,-.9 4,-1.2 4,-1.7 4,-2.3 4,-2.6 4,-2.9 4,-3 4,-2.9 4,-2.6 4,-2.2 3,-1.5 3,-1.3 3,-1.2 3,-1.1 3,-1.1 3,-1.2 3,-1.5 2,-1.2 2,-1.5 2,-1.6 2,-2 2,-2.3 2,-2.6 2,-2.9 2,-3.1 2,-3.2 2,-3.1 2,-2.8 2,-1.9 2,-.7 2,.9 2,2.4 2,3.8 2,5 2,5.8 2,6.3 2,6.4 2,6.3 2,5.9 2,5.5 2,5 2,4.4 2,3.9 2,3.4 2,2.8 2,2.5 2,2.1 2,1.8 3,2.3 3,2 3,1.6 3,1.6 3,1.4 3,1.3 3,1.2 3,1.1 3,.9 3,.7 4,.6 4,.4 4,.1 4,0 4,.1 4,.1 4,.2 4,.3 6,.5 6,.3 6,0 6,-.3 6,-.3 6,-.1 6,.4 6,.9 6,1 6,1 6,.6 6,.2 6,-.2 6,-.3 6,-.3 6,-.2 6,-.3 6,-.3 6,-.5 6,-.5 6,-.5 6,-.3 6,-.1 6,0 6,.1 6,.2 6,.4 6,.6 6,.8 2,.3" stroke="#4d2a8a"/>
<path d="M77.0,1634.1l6,-1 6,-.4 6,.2 6,.6 6,.5 6,.2 6,-.4 6,-.9 6,-1 6,-.7 6,-.4 6,.1 6,.4 6,.5 6,.6 6,.5 6,.6 6,.7 6,.5 6,.3 6,0 6,-.3 6,-.6 6,-.7 6,-.6 6,-.4 6,-.2 6,-.2 6,-.3 6,-.3 6,-.4 6,-.4 6,-.6 6,-1 6,-1.9 6,-3.1 6,-4.2 6,-5 4,-3.4 4,-3.2 4,-2.8 4,-2.2 4,-1.7 4,-1.3 4,-1 4,-1.1 4,-1.3 4,-1.7 4,-2.2 4,-2.7 4,-3 4,-3.2 4,-3.2 4,-3.1 4,-2.6 4,-2.4 3,-1.4 3,-1.3 3,-1.1 3,-1 3,-.9 3,-1 3,-1.2 2,-.9 2,-1.2 2,-1.5 2,-1.7 2,-2 2,-2.5 2,-2.7 2,-3.1 2,-3.3 2,-3.3 2,-3 2,-2.3 2,-1.1 2,.4 2,1.9 2,3.5 2,4.8 2,5.7 2,6.3 2,6.5 2,6.4 2,6.1 2,5.7 2,5.2 2,4.7 2,4.1 2,3.6 2,3.2 2,2.8 2,2.4 2,2.1 3,2.8 3,2.4 3,2.1 3,1.9 3,1.7 3,1.6 3,1.3 3,1.1 3,.8 3,.6 4,.5 4,.1 4,0 4,0 4,.2 4,.3 4,.5 4,.7 6,1.2 6,.9 6,.6 6,0 6,-.3 6,-.3 6,-.2 6,0 6,.1 6,.2 6,.1 6,.3 6,.3 6,.4 6,.4 6,.2 6,-.1 6,-.6 6,-.8 6,-.8 6,-.6 6,-.1 6,.3 6,.6 6,.6 6,.5 6,.2 6,.1 6,0 2,0" stroke="#4b2a8a"/>
<path d="M77.0,1640.1l6,-.3 6,.3 6,.7 6,.8 6,.4 6,-.1 6,-.7 6,-.8 6,-.5 6,0 6,.5 6,.7 6,.6 6,.4 6,-.1 6,-.2 6,-.2 6,0 6,.3 6,.3 6,.3 6,0 6,-.2 6,-.5 6,-.6 6,-.7 6,-.7 6,-.6 6,-.5 6,-.2 6,.1 6,.2 6,.1 6,-.5 6,-1.6 6,-2.8 6,-4.1 6,-4.8 4,-3.3 4,-3 4,-2.7 4,-2.2 4,-1.8 4,-1.4 4,-1.3 4,-1.4 4,-1.6 4,-2.1 4,-2.5 4,-2.8 4,-3.1 4,-3.1 4,-3 4,-2.7 4,-2.4 4,-2 3,-1.3 3,-1.1 3,-.9 3,-.9 3,-.9 3,-.9 3,-1.2 2,-1 2,-1.2 2,-1.5 2,-1.8 2,-2.1 2,-2.5 2,-2.8 2,-3.1 2,-3.4 2,-3.3 2,-3.1 2,-2.4 2,-1.2 2,.3 2,1.8 2,3.3 2,4.6 2,5.6 2,6.1 2,6.3 2,6.2 2,6.1 2,5.6 2,5.1 2,4.7 2,4.2 2,3.7 2,3.3 2,2.9 2,2.5 2,2.2 3,2.9 3,2.5 3,2.1 3,1.8 3,1.6 3,1.4 3,1.2 3,1 3,.7 3,.6 4,.6 4,.4 4,.3 4,.3 4,.5 4,.4 4,.5 4,.4 6,.3 6,-.2 6,-.6 6,-.6 6,-.3 6,.3 6,.9 6,1.1 6,1 6,.6 6,0 6,-.4 6,-.5 6,-.4 6,-.1 6,0 6,.2 6,0 6,0 6,-.2 6,-.1 6,-.1 6,.1 6,.1 6,.2 6,.1 6,.2 6,.2 6,.1 2,.1" stroke="#482a89"/>
<path d="M77.0,1649.7l6,-.1 6,.3 6,.5 6,.3 6,-.2 6,-.7 6,-1 6,-.9 6,-.6 6,.1 6,.5 6,.7 6,.7 6,.5 6,.2 6,.2 6,.1 6,.1 6,.1 6,0 6,-.2 6,-.3 6,-.3 6,-.2 6,-.2 6,0 6,-.2 6,-.2 6,-.4 6,-.4 6,-.2 6,-.3 6,-.3 6,-.9 6,-1.7 6,-2.9 6,-4 6,-4.4 4,-3 4,-2.6 4,-2.3 4,-1.8 4,-1.4 4,-1.1 4,-1 4,-1.1 4,-1.4 4,-1.8 4,-2.3 4,-2.7 4,-3 4,-3.1 4,-3.1 4,-2.9 4,-2.7 4,-2.3 3,-1.6 3,-1.3 3,-1.1 3,-1.1 3,-.9 3,-.9 3,-1.1 2,-.9 2,-1.1 2,-1.2 2,-1.6 2,-1.9 2,-2.2 2,-2.5 2,-2.9 2,-3 2,-3.1 2,-2.8 2,-2.2 2,-1 2,.3 2,1.8 2,3.2 2,4.4 2,5.3 2,5.8 2,5.9 2,6 2,5.7 2,5.3 2,4.9 2,4.5 2,4 2,3.6 2,3.1 2,2.7 2,2.5 2,2.1 3,2.7 3,2.2 3,1.9 3,1.5 3,1.3 3,1.1 3,.8 3,.7 3,.6 3,.5 4,.5 4,.6 4,.6 4,.6 4,.7 4,.7 4,.6 4,.4 6,0 6,-.5 6,-.7 6,-.6 6,0 6,.6 6,1.2 6,1.3 6,.9 6,.3 6,-.2 6,-.4 6,-.4 6,-.2 6,-.1 6,0 6,-.2 6,-.5 6,-.7 6,-.7 6,-.5 6,0 6,.3 6,.7 6,.8 6,.7 6,.7 6,.4 6,.3 2,.1" stroke="#452a88"/>
<path d="M77.0,1657.7l6,.2 6,.5 6,.7 6,.4 6,0 6,-.6 6,-1 6,-.9 6,-.6 6,-.2 6,.3 6,.5 6,.3 6,.2 6,0 6,-.1 6,-.1 6,.1 6,.3 6,.4 6,.4 6,.3 6,.1 6,-.1 6,-.3 6,-.5 6,-.6 6,-.7 6,-.4 6,-.2 6,0 6,.1 6,-.2 6,-.9 6,-1.8 6,-2.7 6,-3.6 6,-3.8 4,-2.5 4,-2.3 4,-2 4,-1.7 4,-1.5 4,-1.4 4,-1.4 4,-1.5 4,-1.8 4,-1.9 4,-2.2 4,-2.3 4,-2.5 4,-2.4 4,-2.5 4,-2.4 4,-2.4 4,-2.3 3,-1.6 3,-1.6 3,-1.4 3,-1.4 3,-1.2 3,-1.3 3,-1.2 2,-1 2,-1 2,-1.3 2,-1.4 2,-1.7 2,-2 2,-2.3 2,-2.6 2,-2.7 2,-2.7 2,-2.6 2,-1.8 2,-.9 2,.4 2,1.8 2,3.1 2,4.1 2,5 2,5.4 2,5.6 2,5.5 2,5.3 2,4.9 2,4.5 2,4.2 2,3.7 2,3.3 2,3 2,2.7 2,2.3 2,2.1 3,2.7 3,2.3 3,2 3,1.7 3,1.4 3,1.1 3,.9 3,.6 3,.5 3,.3 4,.2 4,.3 4,.3 4,.3 4,.5 4,.6 4,.5 4,.5 6,.3 6,0 6,-.3 6,-.3 6,.1 6,.6 6,.7 6,.8 6,.5 6,0 6,-.2 6,-.4 6,-.3 6,-.1 6,0 6,0 6,0 6,-.2 6,-.2 6,-.2 6,-.2 6,0 6,.1 6,.1 6,.2 6,.3 6,.5 6,.7 6,.5 2,.2" stroke="#432a88"/>
<path d="M77.0,1664.9l6,0 6,.5 6,.6 6,.2 6,-.2 6,-.6 6,-.6 6,-.2 6,.3 6,.7 6,.8 6,.5 6,.1 6,-.3 6,-.4 6,-.4 6,0 6,.3 6,.4 6,.3 6,0 6,-.3 6,-.5 6,-.6 6,-.5 6,-.4 6,-.2 6,-.1 6,.2 6,.4 6,.3 6,.3 6,-.2 6,-.9 6,-1.7 6,-2.5 6,-3.1 6,-3.5 4,-2.2 4,-2.2 4,-2 4,-1.9 4,-1.7 4,-1.7 4,-1.6 4,-1.7 4,-1.9 4,-2 4,-2.1 4,-2.2 4,-2.2 4,-2.3 4,-2.4 4,-2.4 4,-2.3 4,-2.3 3,-1.5 3,-1.5 3,-1.4 3,-1.1 3,-1 3,-1 3,-.9 2,-.6 2,-.8 2,-1 2,-1.1 2,-1.4 2,-1.7 2,-2 2,-2.3 2,-2.5 2,-2.6 2,-2.3 2,-1.8 2,-.9 2,.4 2,1.6 2,2.8 2,3.7 2,4.6 2,4.9 2,5.1 2,5 2,4.8 2,4.5 2,4.2 2,3.7 2,3.4 2,3 2,2.7 2,2.3 2,2.1 2,1.8 3,2.3 3,2 3,1.6 3,1.3 3,1.1 3,.9 3,.7 3,.5 3,.5 3,.5 4,.7 4,.8 4,1 4,1.2 4,1.2 4,1.1 4,1 4,.7 6,.4 6,-.4 6,-.9 6,-.9 6,-.5 6,0 6,.3 6,.5 6,.4 6,.1 6,-.1 6,-.1 6,-.1 6,0 6,.1 6,0 6,-.1 6,-.2 6,-.2 6,-.2 6,0 6,0 6,.2 6,.1 6,.3 6,.4 6,.6 6,.7 6,.5 2,.1" stroke="#412a87"/>
<path d="M77.0,1673.8l6,.5 6,.5 6,.3 6,-.2 6,-.7 6,-.9 6,-.6 6,-.1 6,.4 6,.7 6,.7 6,.4 6,0 6,-.2 6,-.2 6,-.1 6,.3 6,.2 6,.2 6,0 6,-.3 6,-.4 6,-.3 6,-.2 6,-.1 6,0 6,-.1 6,-.3 6,-.3 6,-.3 6,-.3 6,-.1 6,-.3 6,-.5 6,-1 6,-1.5 6,-2 6,-2.5 4,-1.8 4,-1.8 4,-1.8 4,-1.9 4,-1.9 4,-2 4,-2.1 4,-2.2 4,-2.3 4,-2.4 4,-2.5 4,-2.4 4,-2.4 4,-2.4 4,-2.2 4,-2.1 4,-2 4,-1.7 3,-1.1 3,-1 3,-.8 3,-.6 3,-.5 3,-.5 3,-.6 2,-.6 2,-.6 2,-.9 2,-1.2 2,-1.5 2,-1.8 2,-2.2 2,-2.5 2,-2.7 2,-2.7 2,-2.6 2,-2.1 2,-1.2 2,.1 2,1.2 2,2.4 2,3.4 2,4.1 2,4.6 2,4.8 2,4.9 2,4.6 2,4.5 2,4.2 2,3.8 2,3.6 2,3.2 2,2.9 2,2.6 2,2.3 2,2 3,2.6 3,2.2 3,1.7 3,1.3 3,1 3,.7 3,.5 3,.3 3,.2 3,.2 4,.3 4,.3 4,.5 4,.6 4,.7 4,.6 4,.5 4,.4 6,.2 6,.1 6,0 6,.4 6,.7 6,.7 6,.5 6,.1 6,-.5 6,-.9 6,-.9 6,-.5 6,-.1 6,.4 6,.5 6,.5 6,.3 6,0 6,-.1 6,-.1 6,0 6,0 6,-.1 6,0 6,0 6,0 6,.2 6,.3 6,.3 2,.1" stroke="#3f2a86"/>
<path d="M77.0,1681.6l6,.4 6,.5 6,.2 6,-.3 6,-.8 6,-.8 6,-.5 6,.4 6,.9 6,1.3 6,1.1 6,.4 6,-.2 6,-.7 6,-.7 6,-.3 6,.1 6,.4 6,.3 6,.1 6,-.5 6,-.8 6,-.9 6,-.7 6,-.4 6,0 6,.4 6,.5 6,.5 6,.6 6,.5 6,.4 6,.1 6,-.5 6,-1.2 6,-2.2 6,-2.9 6,-3.5 4,-2.4 4,-2.4 4,-2.1 4,-1.9 4,-1.6 4,-1.4 4,-1.2 4,-1.1 4,-1.1 4,-1.3 4,-1.4 4,-1.8 4,-2 4,-2.2 4,-2.3 4,-2.3 4,-2.2 4,-1.9 3,-1.2 3,-1 3,-.7 3,-.6 3,-.4 3,-.3 3,-.5 2,-.4 2,-.6 2,-.9 2,-1.1 2,-1.4 2,-1.7 2,-2.1 2,-2.3 2,-2.6 2,-2.6 2,-2.4 2,-1.9 2,-1 2,0 2,1.2 2,2.2 2,3.1 2,3.8 2,4.3 2,4.4 2,4.5 2,4.3 2,4.1 2,3.9 2,3.5 2,3.2 2,2.9 2,2.5 2,2.2 2,2 2,1.6 3,2.1 3,1.6 3,1.2 3,.9 3,.7 3,.6 3,.5 3,.5 3,.5 3,.6 4,.8 4,.9 4,.8 4,.8 4,.6 4,.3 4,.1 4,-.2 6,-.4 6,-.5 6,-.1 6,.4 6,.8 6,.8 6,.7 6,.3 6,-.2 6,-.4 6,-.5 6,-.4 6,-.3 6,-.2 6,-.2 6,0 6,.1 6,.3 6,.3 6,.2 6,0 6,-.2 6,-.4 6,-.2 6,.1 6,.7 6,1.1 6,1.1 6,.7 2,0" stroke="#3d2a85"/>
<path d="M77.0,1690.9l6,.6 6,.4 6,0 6,-.5 6,-.8 6,-.7 6,-.3 6,.1 6,.5 6,.6 6,.3 6,.1 6,-.2 6,-.3 6,-.1 6,0 6,.1 6,.1 6,0 6,-.3 6,-.3 6,-.3 6,-.2 6,0 6,.2 6,.1 6,.2 6,.3 6,.3 6,.4 6,.3 6,.1 6,-.5 6,-1 6,-1.6 6,-2.1 6,-2.3 6,-2.6 4,-1.7 4,-1.7 4,-1.7 4,-1.7 4,-1.6 4,-1.6 4,-1.5 4,-1.4 4,-1.3 4,-1.3 4,-1.2 4,-1.2 4,-1.3 4,-1.5 4,-1.5 4,-1.7 4,-1.8 4,-1.7 3,-1.3 3,-1.1 3,-.9 3,-.8 3,-.7 3,-.5 3,-.6 2,-.4 2,-.6 2,-.8 2,-.9 2,-1.3 2,-1.5 2,-1.8 2,-2.1 2,-2.2 2,-2.4 2,-2.1 2,-1.7 2,-1 2,0 2,1 2,1.9 2,2.7 2,3.3 2,3.7 2,3.9 2,3.9 2,3.7 2,3.6 2,3.4 2,3.2 2,2.8 2,2.6 2,2.3 2,2.1 2,1.8 2,1.6 3,2 3,1.6 3,1.2 3,.9 3,.7 3,.6 3,.4 3,.4 3,.5 3,.5 4,.8 4,.9 4,1 4,1 4,.9 4,.6 4,.4 4,0 6,-.3 6,-.6 6,-.5 6,-.1 6,.2 6,.3 6,.2 6,0 6,-.3 6,-.3 6,-.2 6,0 6,.3 6,.2 6,.2 6,0 6,-.1 6,-.2 6,-.2 6,0 6,0 6,.1 6,0 6,.2 6,.3 6,.5 6,.5 6,.5 6,.3 2,0" stroke="#3b2a84"/>
<path d="M77.0,1699.0l6,.2 6,0 6,-.4 6,-.6 6,-.7 6,-.3 6,.1 6,.6 6,.6 6,.6 6,.3 6,.1 6,.1 6,.2 6,.4 6,.3 6,.1 6,-.4 6,-.9 6,-1.1 6,-1 6,-.6 6,0 6,.6 6,.7 6,.8 6,.4 6,.3 6,0 6,0 6,-.1 6,-.1 6,-.3 6,-.7 6,-1.2 6,-1.7 6,-2.2 6,-2.5 4,-1.8 4,-1.8 4,-1.7 4,-1.5 4,-1.4 4,-1.1 4,-1 4,-.8 4,-.7 4,-.7 4,-.8 4,-1.1 4,-1.3 4,-1.8 4,-2.1 4,-2.3 4,-2.5 4,-2.3 3,-1.6 3,-1.4 3,-1.2 3,-.9 3,-.7 3,-.5 3,-.5 2,-.4 2,-.5 2,-.7 2,-.9 2,-1.2 2,-1.4 2,-1.7 2,-2 2,-2.2 2,-2.2 2,-2 2,-1.6 2,-.8 2,.1 2,1 2,2 2,2.8 2,3.3 2,3.7 2,4 2,3.9 2,3.9 2,3.7 2,3.5 2,3.2 2,3 2,2.7 2,2.4 2,2.1 2,1.9 2,1.6 3,1.9 3,1.5 3,1 3,.7 3,.5 3,.2 3,.2 3,.1 3,.2 3,.2 4,.3 4,.5 4,.5 4,.5 4,.4 4,.3 4,.1 4,0 6,-.1 6,.1 6,.4 6,.7 6,.7 6,.4 6,.1 6,-.4 6,-.5 6,-.3 6,-.1 6,.1 6,.1 6,0 6,-.4 6,-.7 6,-.6 6,-.3 6,.2 6,.8 6,1.1 6,1.1 6,.8 6,.4 6,.1 6,-.3 6,-.3 6,-.4 6,-.4 2,-.2" stroke="#392a83"/>
<path d="M77.0,1707.4l6,.1 6,-.2 6,-.6 6,-.6 6,-.2 6,.2 6,.5 6,.8 6,.7 6,.3 6,.1 6,-.3 6,-.3 6,-.2 6,-.2 6,-.1 6,-.2 6,-.3 6,-.3 6,-.2 6,-.1 6,0 6,.1 6,.1 6,0 6,-.2 6,-.2 6,0 6,.1 6,.3 6,.3 6,.2 6,0 6,-.4 6,-.8 6,-1.4 6,-1.9 6,-2.5 4,-1.8 4,-2 4,-2.1 4,-2 4,-1.9 4,-1.7 4,-1.4 4,-1.3 4,-1.1 4,-1.1 4,-1.1 4,-1.3 4,-1.5 4,-1.8 4,-1.9 4,-2.1 4,-2 4,-1.8 3,-1.2 3,-1 3,-.7 3,-.6 3,-.4 3,-.4 3,-.4 2,-.5 2,-.5 2,-.8 2,-1.1 2,-1.3 2,-1.6 2,-1.8 2,-2.1 2,-2.3 2,-2.3 2,-2 2,-1.6 2,-.8 2,.3 2,1.2 2,2.2 2,3 2,3.6 2,4 2,4.1 2,4.1 2,3.9 2,3.8 2,3.4 2,3.2 2,2.8 2,2.4 2,2.1 2,1.8 2,1.5 2,1.2 3,1.5 3,.9 3,.7 3,.5 3,.4 3,.4 3,.5 3,.5 3,.6 3,.6 4,1 4,1 4,1 4,.7 4,.5 4,.3 4,0 4,-.1 6,-.2 6,-.1 6,.1 6,.3 6,.3 6,.2 6,.1 6,-.1 6,.1 6,.1 6,.3 6,.1 6,.1 6,-.3 6,-.4 6,-.6 6,-.4 6,-.1 6,0 6,.2 6,.3 6,.3 6,.3 6,.4 6,.4 6,.3 6,.2 6,-.1 6,-.4 2,-.1" stroke="#372b82"/>
<path d="M77.0,1715.6l6,1 6,.1 6,-.5 6,-.8 6,-.5 6,.1 6,.8 6,1.1 6,.9 6,.4 6,-.2 6,-.8 6,-1 6,-.9 6,-.6 6,-.4 6,-.2 6,-.2 6,-.2 6,-.3 6,-.1 6,0 6,.2 6,.4 6,.3 6,.5 6,.6 6,.7 6,.7 6,.7 6,.4 6,-.2 6,-.9 6,-1.6 6,-2.2 6,-2.5 6,-2.6 6,-2.7 4,-1.8 4,-1.7 4,-1.6 4,-1.5 4,-1.4 4,-1.3 4,-1.1 4,-1 4,-1 4,-.9 4,-1.1 4,-1.2 4,-1.4 4,-1.6 4,-1.6 4,-1.7 4,-1.6 4,-1.4 3,-.9 3,-.7 3,-.5 3,-.5 3,-.3 3,-.5 3,-.6 2,-.6 2,-.8 2,-1 2,-1.2 2,-1.6 2,-1.8 2,-2.1 2,-2.4 2,-2.5 2,-2.5 2,-2.2 2,-1.7 2,-.9 2,.1 2,1.2 2,2 2,3 2,3.5 2,3.9 2,4.1 2,4.1 2,3.9 2,3.8 2,3.4 2,3.1 2,2.8 2,2.4 2,2.1 2,1.8 2,1.4 2,1.2 3,1.3 3,.9 3,.7 3,.5 3,.6 3,.6 3,.7 3,.8 3,1.1 3,1.1 4,1.5 4,1.4 4,1.2 4,.8 4,.4 4,-.1 4,-.4 4,-.6 6,-.8 6,-.3 6,.4 6,.8 6,.7 6,.4 6,-.3 6,-.8 6,-1 6,-.8 6,-.4 6,0 6,.3 6,.3 6,.2 6,.1 6,.1 6,.3 6,.4 6,.5 6,.6 6,.5 6,.4 6,.4 6,.3 6,.2 6,-.1 6,-.4 6,-.8 2,-.3" stroke="#352b81"/>
<path d="M77.0,1724.3l6,.2 6,-.3 6,-.7 6,-.6 6,-.1 6,.6 6,1 6,1 6,.6 6,0 6,-.5 6,-.8 6,-.7 6,-.4 6,-.2 6,-.1 6,-.3 6,-.6 6,-.6 6,-.6 6,-.4 6,.1 6,.4 6,.7 6,.6 6,.7 6,.5 6,.6 6,.5 6,.4 6,.2 6,-.3 6,-.8 6,-1.4 6,-1.8 6,-2.3 6,-2.7 6,-2.9 4,-2.1 4,-2 4,-2 4,-1.8 4,-1.5 4,-1.3 4,-1.1 4,-.9 4,-.9 4,-1 4,-1.1 4,-1.4 4,-1.6 4,-2 4,-2.1 4,-2.2 4,-2 4,-1.8 3,-1.1 3,-.9 3,-.6 3,-.4 3,-.4 3,-.4 3,-.5 2,-.5 2,-.8 2,-.9 2,-1.2 2,-1.5 2,-1.9 2,-2.1 2,-2.3 2,-2.5 2,-2.5 2,-2.2 2,-1.7 2,-.8 2,.3 2,1.4 2,2.3 2,3.3 2,3.9 2,4.3 2,4.4 2,4.4 2,4.3 2,4 2,3.7 2,3.3 2,2.9 2,2.6 2,2.2 2,1.8 2,1.5 2,1.2 3,1.4 3,1 3,.7 3,.6 3,.6 3,.6 3,.7 3,.9 3,.8 3,1 4,1.2 4,1 4,.7 4,.4 4,-.1 4,-.2 4,-.5 4,-.4 6,-.4 6,.2 6,.7 6,.9 6,.6 6,.1 6,-.3 6,-.5 6,-.4 6,0 6,.5 6,.6 6,.5 6,.3 6,-.2 6,-.3 6,-.4 6,-.3 6,0 6,.1 6,.2 6,.1 6,.1 6,.1 6,.1 6,.2 6,.1 6,-.1 6,-.3 2,-.1" stroke="#332b80"/>
<path d="M77.0,1732.4l6,-.1 6,-.5 6,-.7 6,-.3 6,.2 6,.7 6,.8 6,.6 6,0 6,-.4 6,-.7 6,-.5 6,-.1 6,.2 6,.4 6,.2 6,-.1 6,-.5 6,-.6 6,-.4 6,-.2 6,.2 6,.4 6,.5 6,.3 6,0 6,0 6,0 6,0 6,.1 6,0 6,-.2 6,-.6 6,-1 6,-1.5 6,-2 6,-2.6 6,-3 4,-2.1 4,-2.2 4,-1.9 4,-1.8 4,-1.4 4,-1.2 4,-.9 4,-.8 4,-.7 4,-1 4,-1.2 4,-1.6 4,-1.9 4,-2.3 4,-2.4 4,-2.4 4,-2.2 4,-1.8 3,-1.1 3,-.8 3,-.6 3,-.3 3,-.3 3,-.3 3,-.5 2,-.5 2,-.7 2,-.9 2,-1.2 2,-1.6 2,-1.8 2,-2.2 2,-2.3 2,-2.6 2,-2.5 2,-2.2 2,-1.7 2,-.7 2,.3 2,1.5 2,2.5 2,3.3 2,4 2,4.4 2,4.5 2,4.5 2,4.3 2,4 2,3.7 2,3.3 2,2.9 2,2.5 2,2.1 2,1.8 2,1.4 2,1.1 3,1.3 3,.9 3,.7 3,.5 3,.6 3,.6 3,.7 3,.8 3,.9 3,.9 4,1.2 4,1 4,.8 4,.4 4,.3 4,.1 4,0 4,.1 6,.5 6,.9 6,1 6,.7 6,.2 6,-.5 6,-.9 6,-1 6,-.7 6,-.3 6,0 6,.1 6,.1 6,-.2 6,-.3 6,-.2 6,.2 6,.6 6,.8 6,1 6,.7 6,.4 6,.2 6,0 6,-.2 6,-.1 6,-.3 6,-.4 6,-.6 2,-.2" stroke="#312b7f"/>
<path d="M77.0,1741.5l6,-.4 6,-.9 6,-.8 6,-.3 6,.3 6,.8 6,.9 6,.5 6,-.2 6,-.9 6,-1.1 6,-1 6,-.4 6,.2 6,.6 6,.8 6,.6 6,.2 6,0 6,-.1 6,0 6,0 6,.1 6,-.1 6,-.2 6,-.4 6,-.3 6,-.2 6,0 6,.2 6,.3 6,.2 6,-.2 6,-.8 6,-1.7 6,-2.6 6,-3.5 6,-4.1 4,-2.8 4,-2.5 4,-2.2 4,-1.7 4,-1.1 4,-.7 4,-.3 4,-.1 4,-.2 4,-.5 4,-.9 4,-1.5 4,-2 4,-2.4 4,-2.6 4,-2.6 4,-2.5 4,-2.1 3,-1.3 3,-1 3,-.8 3,-.7 3,-.6 3,-.7 3,-.9 2,-.8 2,-1 2,-1.2 2,-1.5 2,-1.7 2,-2 2,-2.3 2,-2.5 2,-2.6 2,-2.5 2,-2.1 2,-1.6 2,-.5 2,.7 2,1.7 2,2.9 2,3.8 2,4.4 2,4.8 2,4.9 2,4.8 2,4.6 2,4.2 2,3.9 2,3.4 2,2.9 2,2.5 2,2.2 2,1.7 2,1.4 2,1.1 3,1.3 3,1 3,.9 3,.8 3,.9 3,1 3,1.1 3,1.1 3,1.1 3,1.1 4,1.2 4,.8 4,.5 4,0 4,-.2 4,-.4 4,-.3 4,-.1 6,.3 6,.7 6,.9 6,.6 6,0 6,-.5 6,-.6 6,-.3 6,.2 6,.5 6,.7 6,.2 6,-.3 6,-.8 6,-.9 6,-.6 6,.1 6,.7 6,1.1 6,1.2 6,.7 6,.1 6,-.2 6,-.5 6,-.5 6,-.3 6,-.3 6,-.2 6,-.3 2,-.1" stroke="#2f2b7e"/>
<path d="M77.0,1750.9l6,-1.2 6,-1.4 6,-1.2 6,-.6 6,.2 6,.6 6,.7 6,.4 6,.1 6,-.2 6,-.1 6,.1 6,.3 6,.2 6,0 6,-.4 6,-.9 6,-.9 6,-.6 6,0 6,.5 6,.9 6,.9 6,.8 6,.3 6,.1 6,-.1 6,-.1 6,-.1 6,-.1 6,-.3 6,-.6 6,-1 6,-1.5 6,-2 6,-2.7 6,-3.3 6,-3.9 4,-2.6 4,-2.5 4,-2.2 4,-1.8 4,-1.3 4,-.8 4,-.5 4,-.2 4,-.2 4,-.4 4,-.7 4,-1.2 4,-1.6 4,-1.9 4,-2.1 4,-2.2 4,-2 4,-1.7 3,-1.1 3,-.9 3,-.8 3,-.6 3,-.6 3,-.8 3,-1 2,-.8 2,-1.1 2,-1.2 2,-1.6 2,-1.8 2,-2.2 2,-2.4 2,-2.5 2,-2.7 2,-2.6 2,-2.3 2,-1.7 2,-.7 2,.5 2,1.6 2,2.7 2,3.6 2,4.2 2,4.6 2,4.7 2,4.6 2,4.5 2,4.1 2,3.7 2,3.3 2,2.9 2,2.5 2,2.1 2,1.8 2,1.5 2,1.2 3,1.5 3,1.2 3,1.1 3,1.1 3,1.1 3,1.2 3,1.2 3,1.3 3,1.3 3,1.1 4,1.4 4,1 4,.7 4,.3 4,0 4,-.1 4,-.1 4,-.1 6,.1 6,.1 6,0 6,-.4 6,-.7 6,-.8 6,-.6 6,0 6,.7 6,1.1 6,1.1 6,.8 6,.1 6,-.4 6,-.6 6,-.6 6,-.3 6,.1 6,.1 6,.2 6,0 6,0 6,-.1 6,.1 6,.3 6,.3 6,.3 6,.2 6,0 2,0" stroke="#2d2b7d"/>
<path d="M77.0,1757.2l6,-1.1 6,-.8 6,-.1 6,.7 6,1.1 6,1.1 6,.4 6,-.5 6,-1 6,-1.2 6,-.7 6,0 6,.5 6,.8 6,.4 6,-.2 6,-.9 6,-1 6,-.6 6,0 6,.8 6,1.3 6,1.2 6,.8 6,.1 6,-.4 6,-.7 6,-.6 6,-.2 6,.1 6,.2 6,0 6,-.5 6,-1.3 6,-2.3 6,-3.4 6,-4.3 6,-4.8 4,-3.1 4,-2.9 4,-2.3 4,-1.8 4,-1.2 4,-.6 4,-.2 4,0 4,-.1 4,-.3 4,-.7 4,-1.2 4,-1.6 4,-1.9 4,-2.1 4,-2.1 4,-2 4,-1.7 3,-1.2 3,-1 3,-1 3,-.9 3,-.9 3,-1 3,-1.3 2,-1 2,-1.2 2,-1.5 2,-1.6 2,-2 2,-2.2 2,-2.5 2,-2.7 2,-2.7 2,-2.7 2,-2.3 2,-1.7 2,-.6 2,.6 2,1.7 2,2.9 2,3.8 2,4.4 2,4.9 2,4.9 2,4.8 2,4.6 2,4.3 2,3.9 2,3.4 2,3.1 2,2.7 2,2.3 2,1.9 2,1.7 2,1.5 3,1.8 3,1.6 3,1.5 3,1.3 3,1.3 3,1.3 3,1.2 3,1 3,.9 3,.8 4,.6 4,.4 4,.2 4,.1 4,.1 4,.4 4,.7 4,.8 6,1.5 6,1.2 6,.4 6,-.6 6,-1.3 6,-1.5 6,-1.1 6,-.3 6,.6 6,.9 6,.7 6,0 6,-.7 6,-1.1 6,-.9 6,-.3 6,.5 6,1.2 6,1.4 6,1.3 6,.7 6,.3 6,-.1 6,-.2 6,-.2 6,-.2 6,-.3 6,-.5 6,-.7 2,-.2" stroke="#2b2b7b"/>
<path d="M77.0,1765.6l6,-.5 6,-.5 6,-.2 6,.3 6,.6 6,.5 6,.2 6,-.3 6,-.7 6,-.7 6,-.6 6,-.2 6,.1 6,.1 6,-.1 6,-.3 6,-.3 6,-.2 6,.2 6,.6 6,1.1 6,1 6,.8 6,.4 6,0 6,-.3 6,-.5 6,-.4 6,-.5 6,-.4 6,-.6 6,-.8 6,-1.3 6,-1.7 6,-2.5 6,-3.3 6,-3.9 6,-4.1 4,-2.7 4,-2.3 4,-1.8 4,-1.3 4,-.7 4,-.3 4,0 4,0 4,-.3 4,-.7 4,-1.2 4,-1.7 4,-2.2 4,-2.5 4,-2.5 4,-2.3 4,-2.2 4,-1.8 3,-1.1 3,-1 3,-1 3,-.8 3,-1 3,-1.1 3,-1.3 2,-1.1 2,-1.3 2,-1.5 2,-1.8 2,-2.1 2,-2.3 2,-2.5 2,-2.7 2,-2.7 2,-2.7 2,-2.3 2,-1.5 2,-.5 2,.8 2,1.9 2,3.1 2,4.1 2,4.7 2,5.1 2,5.2 2,5 2,4.8 2,4.4 2,4 2,3.6 2,3.1 2,2.6 2,2.3 2,2 2,1.7 2,1.4 3,1.9 3,1.6 3,1.5 3,1.5 3,1.5 3,1.5 3,1.4 3,1.3 3,1.1 3,.9 4,.8 4,.4 4,0 4,-.2 4,-.2 4,-.1 4,.1 4,.4 6,1 6,1 6,.7 6,-.2 6,-.8 6,-1.1 6,-1 6,-.5 6,0 6,.4 6,.5 6,.2 6,0 6,0 6,.1 6,.6 6,.9 6,1 6,.7 6,.4 6,-.2 6,-.5 6,-.6 6,-.6 6,-.4 6,-.2 6,-.3 6,-.4 6,-.4 2,-.2" stroke="#2a2c7a"/>
<path d="M77.0,1773.1l6,-.8 6,-.1 6,.3 6,.6 6,.4 6,-.1 6,-.6 6,-.6 6,-.4 6,.1 6,.7 6,.8 6,.6 6,-.1 6,-.7 6,-1 6,-1 6,-.5 6,.2 6,.7 6,.9 6,.9 6,.5 6,.2 6,-.2 6,-.2 6,-.2 6,-.1 6,-.1 6,-.1 6,-.4 6,-.6 6,-1.2 6,-1.7 6,-2.5 6,-3.2 6,-3.7 6,-3.8 4,-2.3 4,-2 4,-1.7 4,-1.3 4,-.9 4,-.8 4,-.6 4,-.7 4,-.9 4,-1.2 4,-1.5 4,-1.8 4,-1.9 4,-2 4,-2 4,-2 4,-1.8 4,-1.8 3,-1.3 3,-1.2 3,-1.2 3,-1.2 3,-1.2 3,-1.3 3,-1.4 2,-1.1 2,-1.2 2,-1.4 2,-1.5 2,-1.8 2,-2 2,-2.2 2,-2.4 2,-2.4 2,-2.4 2,-2 2,-1.4 2,-.4 2,.7 2,1.9 2,3 2,3.8 2,4.4 2,4.8 2,4.9 2,4.7 2,4.5 2,4.2 2,3.8 2,3.5 2,3.1 2,2.8 2,2.4 2,2.2 2,2 2,1.8 3,2.4 3,2.1 3,1.9 3,1.8 3,1.5 3,1.4 3,1.1 3,.8 3,.5 3,.3 4,0 4,-.3 4,-.4 4,-.3 4,-.1 4,.2 4,.4 4,.7 6,1.1 6,.9 6,.4 6,-.2 6,-.4 6,-.4 6,-.1 6,.2 6,.4 6,.2 6,0 6,-.3 6,-.5 6,-.4 6,0 6,.4 6,.9 6,1.1 6,.9 6,.6 6,0 6,-.6 6,-1 6,-1.2 6,-1 6,-.6 6,-.1 6,.4 6,.6 2,.2" stroke="#292c78"/>
<path d="M77.0,1780.4l6,-.6 6,-.1 6,.4 6,.7 6,.7 6,.3 6,0 6,-.1 6,-.1 6,0 6,.2 6,.1 6,-.1 6,-.6 6,-.8 6,-.8 6,-.4 6,.1 6,.6 6,.9 6,.7 6,.4 6,.1 6,-.2 6,-.2 6,-.1 6,0 6,-.1 6,-.3 6,-.6 6,-.7 6,-.8 6,-.9 6,-1 6,-1.5 6,-2.2 6,-3.2 6,-3.8 4,-2.5 4,-2.4 4,-2 4,-1.4 4,-1 4,-.6 4,-.3 4,-.3 4,-.6 4,-1 4,-1.6 4,-2.1 4,-2.6 4,-2.8 4,-2.9 4,-2.7 4,-2.5 4,-2.2 3,-1.4 3,-1.1 3,-1.1 3,-.9 3,-.9 3,-.9 3,-1.1 2,-.8 2,-1.1 2,-1.1 2,-1.4 2,-1.7 2,-1.8 2,-2.1 2,-2.2 2,-2.3 2,-2.2 2,-1.8 2,-1.2 2,-.1 2,1 2,2.2 2,3.2 2,4.2 2,4.7 2,5 2,5 2,4.9 2,4.7 2,4.2 2,3.8 2,3.4 2,3 2,2.5 2,2.2 2,1.8 2,1.6 2,1.3 3,1.6 3,1.4 3,1.3 3,1.1 3,1.1 3,1 3,.8 3,.8 3,.6 3,.5 4,.3 4,.2 4,0 4,.1 4,.2 4,.4 4,.5 4,.7 6,1 6,.7 6,.1 6,-.6 6,-.7 6,-.5 6,0 6,.7 6,1 6,.9 6,.5 6,0 6,-.5 6,-.6 6,-.4 6,-.1 6,.3 6,.4 6,.3 6,.1 6,-.2 6,-.2 6,-.3 6,-.1 6,0 6,0 6,-.1 6,-.2 6,-.3 2,-.2" stroke="#272c77"/>
<path d="M77.0,1789.3l6,-.4 6,.1 6,.7 6,.7 6,.3 6,-.3 6,-1 6,-1.1 6,-.8 6,-.2 6,.6 6,.9 6,.9 6,.4 6,-.2 6,-.6 6,-.6 6,-.4 6,0 6,.4 6,.5 6,.4 6,.3 6,0 6,0 6,.1 6,0 6,0 6,-.2 6,-.4 6,-.6 6,-.8 6,-1.1 6,-1.3 6,-1.9 6,-2.5 6,-3.2 6,-3.4 4,-2.3 4,-2 4,-1.7 4,-1.3 4,-.9 4,-.7 4,-.5 4,-.6 4,-.9 4,-1.2 4,-1.6 4,-2 4,-2.3 4,-2.4 4,-2.3 4,-2.1 4,-1.9 4,-1.6 3,-1 3,-.8 3,-.8 3,-.8 3,-.7 3,-.9 3,-1.1 2,-.9 2,-1 2,-1.3 2,-1.4 2,-1.7 2,-2 2,-2.2 2,-2.3 2,-2.5 2,-2.3 2,-2.1 2,-1.4 2,-.4 2,.7 2,1.8 2,2.8 2,3.6 2,4.3 2,4.6 2,4.6 2,4.6 2,4.4 2,4 2,3.8 2,3.3 2,3 2,2.7 2,2.4 2,2 2,1.8 2,1.6 3,2.1 3,1.7 3,1.5 3,1.3 3,1.1 3,1 3,.7 3,.6 3,.4 3,.2 4,.1 4,0 4,0 4,.1 4,.2 4,.4 4,.6 4,.6 6,.8 6,.5 6,.2 6,-.1 6,0 6,.2 6,.4 6,.4 6,.1 6,-.3 6,-.7 6,-.6 6,-.4 6,.1 6,.6 6,.9 6,.6 6,.3 6,-.3 6,-.7 6,-.6 6,-.3 6,0 6,.3 6,.2 6,.1 6,-.1 6,-.3 6,-.1 2,0" stroke="#262d75"/>
<path d="M77.0,1796.1l6,0 6,.8 6,1.2 6,.8 6,.1 6,-.7 6,-.9 6,-.7 6,0 6,.6 6,.8 6,.4 6,-.3 6,-1 6,-1.1 6,-.8 6,0 6,.7 6,1 6,.8 6,.4 6,-.2 6,-.3 6,-.2 6,.2 6,.6 6,.4 6,.2 6,-.4 6,-.7 6,-.7 6,-.7 6,-.6 6,-.8 6,-1.6 6,-2.6 6,-3.5 6,-4 4,-2.5 4,-2.2 4,-1.8 4,-1.3 4,-.8 4,-.6 4,-.4 4,-.5 4,-.7 4,-1 4,-1.3 4,-1.5 4,-1.6 4,-1.6 4,-1.5 4,-1.5 4,-1.4 4,-1.3 3,-1 3,-1 3,-1.1 3,-1 3,-1.1 3,-1.2 3,-1.2 2,-.9 2,-1 2,-1.1 2,-1.2 2,-1.4 2,-1.6 2,-1.8 2,-1.9 2,-2 2,-2 2,-1.7 2,-1.1 2,-.3 2,.7 2,1.6 2,2.5 2,3.2 2,3.6 2,3.9 2,4 2,3.9 2,3.6 2,3.5 2,3.2 2,2.9 2,2.6 2,2.4 2,2.2 2,1.9 2,1.8 2,1.6 3,2.2 3,1.8 3,1.6 3,1.3 3,1 3,.7 3,.4 3,.2 3,0 3,-.1 4,-.2 4,.1 4,.3 4,.7 4,1 4,1.2 4,1.1 4,1 6,.7 6,-.1 6,-.7 6,-.6 6,-.2 6,.4 6,.7 6,.5 6,-.1 6,-.7 6,-.9 6,-.8 6,-.1 6,.5 6,.9 6,.8 6,.3 6,-.2 6,-.5 6,-.5 6,-.2 6,.2 6,.3 6,0 6,-.2 6,-.4 6,-.3 6,-.1 6,.4 2,.2" stroke="#252d74"/>
<path d="M77.0,1805.2l6,.4 6,.7 6,.7 6,.2 6,-.3 6,-.7 6,-.9 6,-.6 6,-.1 6,.2 6,.5 6,.3 6,0 6,-.3 6,-.4 6,-.2 6,.3 6,.6 6,.7 6,.5 6,.1 6,-.2 6,-.4 6,-.4 6,-.3 6,0 6,.1 6,.1 6,-.1 6,-.2 6,-.4 6,-.5 6,-.7 6,-1.1 6,-1.8 6,-2.4 6,-3.1 6,-3.2 4,-2.1 4,-1.8 4,-1.5 4,-1.1 4,-.7 4,-.5 4,-.4 4,-.4 4,-.5 4,-.9 4,-1.1 4,-1.4 4,-1.6 4,-1.7 4,-1.8 4,-1.8 4,-1.6 4,-1.6 3,-1 3,-1 3,-.9 3,-.7 3,-.7 3,-.7 3,-.7 2,-.5 2,-.7 2,-.8 2,-.9 2,-1.2 2,-1.4 2,-1.5 2,-1.8 2,-1.9 2,-1.9 2,-1.7 2,-1.1 2,-.5 2,.5 2,1.3 2,2 2,2.7 2,3.2 2,3.5 2,3.5 2,3.5 2,3.3 2,3.2 2,3 2,2.7 2,2.5 2,2.4 2,2.1 2,2 2,1.8 2,1.7 3,2.2 3,2 3,1.7 3,1.4 3,1.1 3,.7 3,.5 3,.3 3,0 3,-.1 4,-.3 4,-.2 4,-.1 4,.1 4,.4 4,.5 4,.6 4,.5 6,.5 6,0 6,-.2 6,-.1 6,.2 6,.6 6,.7 6,.3 6,-.1 6,-.8 6,-1 6,-.7 6,0 6,.8 6,1.2 6,1.1 6,.6 6,-.1 6,-.8 6,-1 6,-.8 6,-.4 6,.2 6,.4 6,.5 6,.2 6,.1 6,0 6,0 2,0" stroke="#232e72"/>
<path d="M77.0,1812.3l6,.9 6,1.1 6,.9 6,.2 6,-.5 6,-.9 6,-.9 6,-.3 6,.5 6,1 6,1 6,.6 6,-.1 6,-.8 6,-1.2 6,-1.1 6,-.6 6,-.1 6,.3 6,.5 6,.6 6,.5 6,.5 6,.5 6,.4 6,.3 6,-.2 6,-.7 6,-1.1 6,-1.2 6,-1 6,-.6 6,-.3 6,-.1 6,-.6 6,-1.3 6,-2.2 6,-3.1 4,-2.3 4,-2.2 4,-2.1 4,-1.7 4,-1.4 4,-1 4,-.7 4,-.7 4,-.6 4,-.7 4,-.9 4,-1.2 4,-1.4 4,-1.6 4,-1.9 4,-1.9 4,-2 4,-1.9 3,-1.3 3,-1.2 3,-1 3,-.9 3,-.7 3,-.7 3,-.5 2,-.5 2,-.5 2,-.6 2,-.7 2,-.9 2,-1.2 2,-1.3 2,-1.6 2,-1.6 2,-1.6 2,-1.5 2,-.9 2,-.2 2,.6 2,1.5 2,2.2 2,2.8 2,3.3 2,3.5 2,3.6 2,3.5 2,3.3 2,3.1 2,2.9 2,2.6 2,2.3 2,2.2 2,1.9 2,1.7 2,1.6 2,1.4 3,1.8 3,1.6 3,1.4 3,1.2 3,.9 3,.8 3,.6 3,.4 3,.4 3,.2 4,.2 4,.2 4,.1 4,.2 4,.2 4,.1 4,0 4,-.2 6,-.5 6,-.5 6,-.3 6,.4 6,1.1 6,1.6 6,1.5 6,.9 6,.1 6,-.7 6,-1 6,-.7 6,-.2 6,.5 6,.9 6,.8 6,.4 6,-.3 6,-.9 6,-1.1 6,-1.1 6,-.7 6,-.4 6,0 6,.1 6,.3 6,.4 6,.6 6,.6 2,.2" stroke="#222e71"/>
<path d="M77.0,1820.7l6,.7 6,.9 6,.7 6,.3 6,-.4 6,-.5 6,-.5 6,-.1 6,.3 6,.4 6,.1 6,-.3 6,-.8 6,-.9 6,-.6 6,0 6,.6 6,1 6,1 6,.8 6,.3 6,0 6,-.1 6,0 6,.1 6,.1 6,-.1 6,-.5 6,-.9 6,-1.1 6,-1.3 6,-1 6,-1 6,-.9 6,-1.3 6,-1.7 6,-2.2 6,-2.5 4,-1.6 4,-1.5 4,-1.2 4,-.9 4,-.6 4,-.3 4,-.3 4,-.4 4,-.5 4,-.7 4,-1.1 4,-1.4 4,-1.8 4,-1.9 4,-2.2 4,-2.2 4,-2.2 4,-2.1 3,-1.4 3,-1.2 3,-1.1 3,-.9 3,-.7 3,-.7 3,-.6 2,-.4 2,-.5 2,-.7 2,-.8 2,-.9 2,-1.2 2,-1.4 2,-1.6 2,-1.7 2,-1.7 2,-1.4 2,-1 2,-.2 2,.6 2,1.5 2,2.2 2,2.9 2,3.3 2,3.5 2,3.6 2,3.6 2,3.5 2,3.3 2,3 2,2.8 2,2.6 2,2.3 2,2 2,1.8 2,1.6 2,1.4 3,1.8 3,1.4 3,1 3,.8 3,.5 3,.3 3,.2 3,.1 3,0 3,.1 4,.3 4,.3 4,.6 4,.7 4,.7 4,.5 4,.4 4,.1 6,-.4 6,-.7 6,-.6 6,-.2 6,.4 6,.9 6,.9 6,.6 6,0 6,-.3 6,-.4 6,-.2 6,.3 6,.7 6,.6 6,.4 6,-.1 6,-.4 6,-.7 6,-.6 6,-.2 6,-.1 6,0 6,-.1 6,-.3 6,-.4 6,-.3 6,0 6,.3 2,.2" stroke="#212e6f"/>
<path d="M77.0,1829.7l6,.6 6,.5 6,.1 6,-.5 6,-.9 6,-.8 6,-.4 6,.4 6,.9 6,1 6,.7 6,.2 6,-.3 6,-.5 6,-.3 6,.1 6,.5 6,.5 6,.3 6,-.2 6,-.5 6,-.6 6,-.6 6,-.2 6,.1 6,.1 6,.1 6,-.2 6,-.4 6,-.4 6,-.3 6,-.1 6,-.1 6,-.5 6,-1.1 6,-2 6,-2.8 6,-3.3 4,-2.2 4,-2.1 4,-1.8 4,-1.5 4,-1.1 4,-.7 4,-.6 4,-.4 4,-.4 4,-.6 4,-.8 4,-1 4,-1.3 4,-1.5 4,-1.7 4,-1.8 4,-1.7 4,-1.7 3,-1.2 3,-1 3,-.8 3,-.7 3,-.6 3,-.5 3,-.5 2,-.5 2,-.6 2,-.7 2,-.9 2,-1.1 2,-1.4 2,-1.6 2,-1.8 2,-2 2,-1.9 2,-1.8 2,-1.2 2,-.6 2,.4 2,1.1 2,2 2,2.6 2,3.1 2,3.3 2,3.5 2,3.5 2,3.4 2,3.3 2,3 2,2.8 2,2.7 2,2.3 2,2.2 2,1.9 2,1.8 2,1.5 3,1.9 3,1.6 3,1.2 3,.9 3,.7 3,.5 3,.3 3,.3 3,.3 3,.2 4,.5 4,.6 4,.7 4,.7 4,.6 4,.5 4,.2 4,-.1 6,-.6 6,-.8 6,-.6 6,-.2 6,.4 6,.5 6,.5 6,.1 6,-.3 6,-.3 6,-.1 6,.4 6,.9 6,1 6,.7 6,.2 6,-.4 6,-.9 6,-.9 6,-.7 6,-.2 6,.2 6,.2 6,.1 6,0 6,-.2 6,-.1 6,.1 6,.4 2,.1" stroke="#1f2f6e"/>
<path d="M77.0,1838.2l6,.4 6,.3 6,-.2 6,-.7 6,-.9 6,-.7 6,-.2 6,.5 6,1 6,1.1 6,.7 6,.2 6,-.4 6,-.5 6,-.3 6,.2 6,.6 6,.8 6,.6 6,.3 6,-.3 6,-.8 6,-.9 6,-.9 6,-.7 6,-.5 6,-.4 6,-.1 6,.1 6,.1 6,.2 6,0 6,-.4 6,-.8 6,-1.3 6,-1.8 6,-2.2 6,-2.2 4,-1.5 4,-1.4 4,-1.4 4,-1.3 4,-1.3 4,-1.2 4,-1.2 4,-1.3 4,-1.3 4,-1.4 4,-1.4 4,-1.5 4,-1.5 4,-1.6 4,-1.6 4,-1.7 4,-1.6 4,-1.6 3,-1.1 3,-1 3,-.9 3,-.7 3,-.5 3,-.5 3,-.4 2,-.4 2,-.5 2,-.5 2,-.8 2,-1 2,-1.2 2,-1.4 2,-1.6 2,-1.7 2,-1.8 2,-1.5 2,-1 2,-.3 2,.6 2,1.3 2,2.2 2,2.8 2,3.3 2,3.5 2,3.6 2,3.6 2,3.4 2,3.3 2,3 2,2.8 2,2.5 2,2.2 2,2 2,1.7 2,1.4 2,1.3 3,1.5 3,1 3,.7 3,.5 3,.2 3,.1 3,0 3,0 3,.1 3,.2 4,.5 4,.8 4,.9 4,1.1 4,1 4,.9 4,.6 4,.3 6,0 6,-.3 6,-.1 6,.2 6,.6 6,.8 6,.5 6,.1 6,-.5 6,-.8 6,-1 6,-.7 6,-.4 6,0 6,.2 6,.3 6,.2 6,.3 6,.2 6,.2 6,.1 6,.1 6,0 6,0 6,.1 6,.4 6,.6 6,.6 6,.4 2,0" stroke="#1e2f6c"/>
</g></g>
<path d="M313.8,656.1V1861" stroke="#000" stroke-width="3.7" stroke-dasharray="21.1 20.1" fill="none" clip-path="url(#ce)"/>
<rect x="75.6" y="667.4" width="623.6" height="1192.8" fill="none" stroke="#000" stroke-width="2.8"/>
<path d="M83.3,1860V1873.5M136.8,1860V1873.5M190.4,1860V1873.5M243.9,1860V1873.5M297.5,1860V1873.5M351.1,1860V1873.5M404.6,1860V1873.5M458.1,1860V1873.5M511.7,1860V1873.5M565.2,1860V1873.5M618.8,1860V1873.5M672.3,1860V1873.5" stroke="#000" stroke-width="2.6" fill="none"/>
<text x="83.6" y="1907.0" font-size="28.5" fill="#000" text-anchor="middle" >360</text>
<text x="137.1" y="1907.0" font-size="28.5" fill="#000" text-anchor="middle" >340</text>
<text x="190.7" y="1907.0" font-size="28.5" fill="#000" text-anchor="middle" >320</text>
<text x="244.2" y="1907.0" font-size="28.5" fill="#000" text-anchor="middle" >300</text>
<text x="297.8" y="1907.0" font-size="28.5" fill="#000" text-anchor="middle" >280</text>
<text x="351.4" y="1907.0" font-size="28.5" fill="#000" text-anchor="middle" >260</text>
<text x="404.9" y="1907.0" font-size="28.5" fill="#000" text-anchor="middle" >240</text>
<text x="458.4" y="1907.0" font-size="28.5" fill="#000" text-anchor="middle" >220</text>
<text x="512.0" y="1907.0" font-size="28.5" fill="#000" text-anchor="middle" >200</text>
<text x="565.5" y="1907.0" font-size="28.5" fill="#000" text-anchor="middle" >180</text>
<text x="619.1" y="1907.0" font-size="28.5" fill="#000" text-anchor="middle" >160</text>
<text x="672.6" y="1907.0" font-size="28.5" fill="#000" text-anchor="middle" >140</text>
<text x="257.3" y="1947.6" font-size="28.5" fill="#000"><tspan font-size="16" dy="-10">7</tspan><tspan dy="10">Li chemical shift</tspan><tspan dx="11.5">(ppm)</tspan></text>
<text x="22.0" y="670.7" font-size="28.5" fill="#000" text-anchor="start" >e</text>
<text x="709.3" y="695.9" font-size="27" fill="#000" text-anchor="start" >LPS</text>
<text x="23.5" y="734.5" font-size="27.5" fill="#f3ab3c" text-anchor="middle" >1st</text>
<text x="23.5" y="1048.7" font-size="27.5" fill="#e3744f" text-anchor="middle" >2nd</text>
<text x="23.5" y="1326.9" font-size="27.5" fill="#b3348a" text-anchor="middle" >3rd</text>
<text x="23.5" y="1576.9" font-size="27.5" fill="#5b2c8f" text-anchor="middle" >4th</text>
<text x="23.5" y="1754.5" font-size="27.5" fill="#2b2c80" text-anchor="middle" >5th</text>
<path d="M53.7,667V1845" stroke="#e93a34" stroke-width="4" fill="none"/>
<path d="M38.6,1830.3L53.7,1845.8L68.8,1830.3" stroke="#e93a34" stroke-width="4.2" fill="none" stroke-linejoin="miter"/>
<path d="M699.5,1484.9H737.9V1660.7H699.5" stroke="#e93a34" stroke-width="3.3" fill="none"/>
<path d="M840.3,689.7L737.9,1483" stroke="#e93a34" stroke-width="4.2" fill="none" stroke-dasharray="20.7 20.3"/>
<path d="M737.9,1661.7L841.3,1846.8" stroke="#e93a34" stroke-width="4.2" fill="none" stroke-dasharray="20.7 20.7"/>
<clipPath id="cf"><rect x="849.4" y="681" width="506.5" height="429"/></clipPath>
<g clip-path="url(#cf)"><path d="M849.4,1044.1C850.1,1043.9 852.4,1043.1 853.9,1042.6C855.4,1042.1 856.9,1041.5 858.3,1041.0C859.8,1040.5 861.3,1039.6 862.8,1039.4C864.3,1039.3 865.8,1040.0 867.3,1040.4C868.8,1040.7 870.3,1041.1 871.8,1041.5C873.3,1041.9 874.8,1042.0 876.3,1042.7C877.8,1043.5 879.2,1044.7 880.7,1045.7C882.2,1046.7 883.7,1048.7 885.2,1048.7C886.7,1048.7 888.2,1046.7 889.7,1045.6C891.2,1044.5 892.7,1043.2 894.2,1042.0C895.7,1040.8 897.2,1039.5 898.6,1038.4C900.1,1037.4 901.6,1036.4 903.1,1035.9C904.6,1035.4 906.1,1035.5 907.6,1035.3C909.1,1035.1 910.6,1034.8 912.1,1034.6C913.6,1034.4 915.1,1034.2 916.6,1034.0C918.0,1033.8 919.5,1033.5 921.0,1033.4C922.5,1033.2 924.0,1033.1 925.5,1033.3C927.0,1033.4 928.5,1033.9 930.0,1034.2C931.5,1034.5 933.0,1034.8 934.5,1035.1C936.0,1035.4 937.4,1035.7 938.9,1035.9C940.4,1036.1 941.9,1036.2 943.4,1036.3C944.9,1036.3 946.4,1036.4 947.9,1036.4C949.4,1036.5 950.9,1036.5 952.4,1036.6C953.9,1036.6 955.4,1036.6 956.8,1036.7C958.3,1036.8 959.8,1036.9 961.3,1037.0C962.8,1037.1 964.3,1037.3 965.8,1037.5C967.3,1037.6 968.8,1037.7 970.3,1037.9C971.8,1038.0 973.3,1038.3 974.8,1038.3C976.2,1038.4 977.7,1038.6 979.2,1038.0C980.7,1037.5 982.2,1035.9 983.7,1034.9C985.2,1033.8 986.7,1032.8 988.2,1031.8C989.7,1030.7 991.2,1029.6 992.7,1028.5C994.2,1027.4 995.6,1026.3 997.1,1025.2C998.6,1024.1 1000.1,1022.6 1001.6,1021.8C1003.1,1021.0 1004.6,1020.6 1006.1,1020.5C1007.6,1020.4 1009.1,1021.0 1010.6,1021.2C1012.1,1021.5 1013.6,1021.7 1015.0,1021.9C1016.5,1022.2 1018.0,1022.6 1019.5,1022.7C1021.0,1022.7 1022.5,1022.3 1024.0,1022.0C1025.5,1021.8 1027.0,1021.6 1028.5,1021.3C1030.0,1021.1 1031.5,1020.9 1033.0,1020.6C1034.5,1020.4 1035.9,1020.1 1037.4,1019.9C1038.9,1019.6 1040.4,1019.4 1041.9,1019.1C1043.4,1018.9 1044.9,1018.6 1046.4,1018.4C1047.9,1018.1 1049.4,1017.9 1050.9,1017.6C1052.4,1017.4 1053.9,1017.0 1055.3,1017.0C1056.8,1017.0 1058.3,1017.4 1059.8,1017.6C1061.3,1017.7 1062.8,1018.0 1064.3,1018.1C1065.8,1018.2 1067.3,1018.5 1068.8,1018.1C1070.3,1017.7 1071.8,1016.6 1073.3,1015.8C1074.7,1015.0 1076.2,1014.7 1077.7,1013.3C1079.2,1011.9 1080.7,1009.3 1082.2,1007.4C1083.7,1005.4 1085.2,1003.1 1086.7,1001.4C1088.2,999.6 1089.7,998.3 1091.2,996.8C1092.7,995.3 1094.1,993.8 1095.6,992.3C1097.1,990.8 1098.6,989.5 1100.1,987.7C1101.6,986.0 1103.1,983.8 1104.6,981.8C1106.1,979.8 1107.7,978.3 1109.1,975.8C1110.4,973.3 1111.8,968.8 1112.6,966.9C1113.3,964.9 1113.2,965.3 1113.5,964.3C1113.9,963.3 1114.2,962.4 1114.8,960.9C1115.4,959.3 1116.5,956.3 1117.1,954.9C1117.6,953.5 1117.7,953.4 1118.0,952.4C1118.4,951.3 1118.7,950.6 1119.3,948.7C1119.9,946.9 1121.0,943.0 1121.5,941.3C1122.1,939.5 1122.1,939.3 1122.5,938.1C1122.9,936.8 1123.2,935.8 1123.8,933.8C1124.4,931.9 1125.5,928.1 1126.0,926.3C1126.6,924.6 1126.6,924.4 1127.0,923.1C1127.4,921.9 1127.7,920.3 1128.3,918.9C1128.8,917.4 1130.0,915.5 1130.5,914.5C1131.0,913.4 1131.1,913.4 1131.5,912.8C1131.8,912.1 1132.1,911.6 1132.7,910.5C1133.3,909.5 1134.4,907.0 1135.0,906.6C1135.5,906.2 1135.6,907.6 1135.9,908.3C1136.3,909.0 1136.6,909.5 1137.2,910.5C1137.8,911.6 1138.9,913.5 1139.4,914.5C1140.0,915.4 1140.0,915.3 1140.4,916.1C1140.8,917.0 1141.1,917.0 1141.7,919.4C1142.3,921.8 1143.4,927.9 1143.9,930.6C1144.5,933.3 1144.5,933.5 1144.9,935.4C1145.3,937.3 1145.6,938.8 1146.2,941.8C1146.8,944.8 1147.9,950.5 1148.4,953.3C1148.9,956.1 1149.0,956.5 1149.4,958.6C1149.7,960.6 1149.9,961.5 1150.6,965.6C1151.4,969.7 1152.6,977.6 1153.8,983.2C1155.1,988.9 1156.8,994.8 1158.3,999.5C1159.8,1004.3 1161.3,1008.4 1162.8,1011.8C1164.3,1015.3 1165.8,1018.4 1167.3,1020.4C1168.8,1022.5 1170.3,1022.9 1171.7,1024.1C1173.2,1025.4 1174.7,1026.9 1176.2,1027.9C1177.7,1028.8 1179.2,1029.1 1180.7,1029.7C1182.2,1030.3 1183.7,1030.9 1185.2,1031.5C1186.7,1032.0 1188.2,1032.6 1189.7,1033.2C1191.2,1033.7 1192.6,1034.5 1194.1,1034.9C1195.6,1035.3 1197.1,1035.5 1198.6,1035.6C1200.1,1035.8 1201.6,1035.8 1203.1,1035.9C1204.6,1035.9 1206.1,1036.1 1207.6,1036.1C1209.1,1036.1 1210.6,1035.9 1212.0,1035.8C1213.5,1035.7 1215.0,1035.5 1216.5,1035.3C1218.0,1035.2 1219.5,1034.9 1221.0,1034.9C1222.5,1034.9 1224.0,1034.6 1225.5,1035.1C1227.0,1035.6 1228.5,1037.0 1230.0,1037.9C1231.4,1038.9 1232.9,1039.9 1234.4,1040.7C1235.9,1041.6 1237.4,1042.4 1238.9,1043.1C1240.4,1043.7 1241.9,1044.2 1243.4,1044.6C1244.9,1044.9 1246.4,1045.5 1247.9,1045.2C1249.4,1044.8 1250.8,1043.4 1252.3,1042.5C1253.8,1041.6 1255.3,1040.7 1256.8,1039.8C1258.3,1038.9 1259.8,1037.6 1261.3,1037.1C1262.8,1036.6 1264.3,1036.6 1265.8,1036.6C1267.3,1036.6 1268.8,1037.1 1270.2,1037.3C1271.7,1037.6 1273.2,1037.8 1274.7,1038.0C1276.2,1038.3 1277.7,1038.5 1279.2,1038.8C1280.7,1039.1 1282.2,1039.5 1283.7,1039.9C1285.2,1040.3 1286.7,1040.8 1288.2,1041.0C1289.6,1041.3 1291.1,1041.7 1292.6,1041.4C1294.1,1041.0 1295.6,1039.7 1297.1,1038.9C1298.6,1038.0 1300.1,1037.2 1301.6,1036.3C1303.1,1035.5 1304.6,1034.4 1306.1,1033.8C1307.6,1033.2 1309.0,1033.0 1310.5,1032.7C1312.0,1032.5 1313.5,1032.5 1315.0,1032.4C1316.5,1032.3 1318.0,1032.2 1319.5,1032.1C1321.0,1032.0 1322.5,1031.9 1324.0,1031.8C1325.5,1031.7 1327.0,1031.4 1328.4,1031.5C1329.9,1031.5 1331.4,1031.8 1332.9,1032.1C1334.4,1032.4 1335.9,1032.8 1337.4,1033.2C1338.9,1033.6 1340.4,1034.1 1341.9,1034.3C1343.4,1034.5 1344.9,1034.2 1346.4,1034.1C1347.8,1034.0 1349.3,1033.7 1350.8,1033.5C1352.3,1033.4 1354.6,1033.1 1355.3,1033.0" fill="none" stroke="#b9bb45" stroke-width="3.4" stroke-linejoin="round"/>
<path d="M849.4,1040.7C850.1,1040.4 852.4,1039.7 853.9,1039.4C855.4,1039.1 856.9,1038.9 858.3,1038.8C859.8,1038.7 861.3,1038.3 862.8,1038.6C864.3,1039.0 865.8,1040.2 867.3,1041.0C868.8,1041.8 870.3,1042.7 871.8,1043.4C873.3,1044.1 874.8,1044.6 876.3,1045.3C877.8,1046.1 879.2,1047.2 880.7,1048.0C882.2,1048.7 883.7,1050.2 885.2,1049.9C886.7,1049.5 888.2,1047.2 889.7,1045.6C891.2,1044.0 892.7,1042.2 894.2,1040.5C895.7,1038.8 897.2,1036.9 898.6,1035.4C900.1,1034.0 901.6,1032.6 903.1,1031.8C904.6,1031.0 906.1,1030.9 907.6,1030.6C909.1,1030.4 910.6,1030.2 912.1,1030.3C913.6,1030.3 915.1,1030.5 916.6,1030.8C918.0,1031.0 919.5,1031.4 921.0,1031.9C922.5,1032.4 924.0,1033.0 925.5,1033.7C927.0,1034.4 928.5,1035.5 930.0,1036.2C931.5,1036.9 933.0,1037.6 934.5,1038.1C936.0,1038.6 937.4,1039.0 938.9,1039.0C940.4,1039.1 941.9,1038.8 943.4,1038.5C944.9,1038.2 946.4,1037.7 947.9,1037.1C949.4,1036.5 950.9,1035.7 952.4,1035.0C953.9,1034.3 955.4,1033.4 956.8,1032.8C958.3,1032.1 959.8,1031.4 961.3,1031.1C962.8,1030.8 964.3,1030.7 965.8,1030.7C967.3,1030.8 968.8,1031.0 970.3,1031.4C971.8,1031.8 973.3,1032.5 974.8,1033.1C976.2,1033.6 977.7,1034.6 979.2,1034.8C980.7,1035.0 982.2,1034.5 983.7,1034.3C985.2,1034.0 986.7,1033.8 988.2,1033.3C989.7,1032.9 991.2,1032.4 992.7,1031.7C994.2,1031.0 995.6,1030.2 997.1,1029.1C998.6,1028.0 1000.1,1026.4 1001.6,1025.3C1003.1,1024.2 1004.6,1023.2 1006.1,1022.5C1007.6,1021.7 1009.1,1021.4 1010.6,1020.9C1012.1,1020.4 1013.6,1019.8 1015.0,1019.3C1016.5,1018.8 1018.0,1018.4 1019.5,1017.7C1021.0,1017.1 1022.5,1016.1 1024.0,1015.4C1025.5,1014.8 1027.0,1014.2 1028.5,1013.7C1030.0,1013.2 1031.5,1012.9 1033.0,1012.7C1034.5,1012.5 1035.9,1012.5 1037.4,1012.5C1038.9,1012.4 1040.4,1012.6 1041.9,1012.7C1043.4,1012.8 1044.9,1013.0 1046.4,1013.1C1047.9,1013.2 1049.4,1013.3 1050.9,1013.2C1052.4,1013.2 1053.9,1012.9 1055.3,1013.0C1056.8,1013.1 1058.3,1013.6 1059.8,1013.7C1061.3,1013.8 1062.8,1013.8 1064.3,1013.5C1065.8,1013.3 1067.3,1013.0 1068.8,1012.1C1070.3,1011.3 1071.8,1009.6 1073.3,1008.2C1074.7,1006.9 1076.2,1006.1 1077.7,1004.2C1079.2,1002.3 1080.7,999.3 1082.2,996.9C1083.7,994.6 1085.2,992.2 1086.7,990.2C1088.2,988.2 1089.7,986.5 1091.2,984.8C1092.7,983.0 1094.1,981.4 1095.6,979.8C1097.1,978.1 1098.6,976.6 1100.1,974.8C1101.6,973.0 1103.1,971.1 1104.6,969.2C1106.1,967.3 1107.7,965.7 1109.1,963.3C1110.4,961.0 1111.8,956.6 1112.6,954.8C1113.3,952.9 1113.2,953.2 1113.5,952.2C1113.9,951.2 1114.2,950.3 1114.8,948.7C1115.4,947.2 1116.5,944.1 1117.1,942.7C1117.6,941.2 1117.7,941.1 1118.0,940.1C1118.4,939.0 1118.7,938.3 1119.3,936.4C1119.9,934.5 1121.0,930.7 1121.5,928.9C1122.1,927.2 1122.1,927.0 1122.5,925.7C1122.9,924.5 1123.2,923.4 1123.8,921.4C1124.4,919.4 1125.5,915.7 1126.0,913.9C1126.6,912.1 1126.6,911.9 1127.0,910.6C1127.4,909.4 1127.7,907.8 1128.3,906.3C1128.8,904.9 1130.0,903.0 1130.5,902.0C1131.0,901.0 1131.1,901.0 1131.5,900.4C1131.8,899.8 1132.1,899.3 1132.7,898.5C1133.3,897.6 1134.4,895.5 1135.0,895.2C1135.5,894.9 1135.6,896.1 1135.9,896.8C1136.3,897.5 1136.6,898.0 1137.2,899.2C1137.8,900.3 1138.9,902.6 1139.4,903.7C1140.0,904.8 1140.0,904.7 1140.4,905.6C1140.8,906.5 1141.1,906.7 1141.7,909.2C1142.3,911.8 1143.4,918.1 1143.9,920.9C1144.5,923.7 1144.5,924.0 1144.9,925.9C1145.3,927.9 1145.6,929.5 1146.2,932.7C1146.8,935.8 1147.9,941.8 1148.4,944.7C1148.9,947.7 1149.0,948.1 1149.4,950.3C1149.7,952.4 1149.9,953.3 1150.6,957.6C1151.4,962.0 1152.6,970.1 1153.8,976.2C1155.1,982.2 1156.8,988.8 1158.3,994.0C1159.8,999.3 1161.3,1003.9 1162.8,1007.9C1164.3,1011.8 1165.8,1015.3 1167.3,1017.7C1168.8,1020.2 1170.3,1020.9 1171.7,1022.4C1173.2,1023.8 1174.7,1025.4 1176.2,1026.3C1177.7,1027.3 1179.2,1027.6 1180.7,1028.1C1182.2,1028.6 1183.7,1028.9 1185.2,1029.2C1186.7,1029.6 1188.2,1029.8 1189.7,1030.2C1191.2,1030.5 1192.6,1031.0 1194.1,1031.4C1195.6,1031.7 1197.1,1032.0 1198.6,1032.3C1200.1,1032.6 1201.6,1033.0 1203.1,1033.4C1204.6,1033.9 1206.1,1034.5 1207.6,1035.0C1209.1,1035.5 1210.6,1035.8 1212.0,1036.2C1213.5,1036.5 1215.0,1036.9 1216.5,1037.2C1218.0,1037.4 1219.5,1037.6 1221.0,1037.9C1222.5,1038.1 1224.0,1038.1 1225.5,1038.6C1227.0,1039.2 1228.5,1040.4 1230.0,1041.1C1231.4,1041.8 1232.9,1042.4 1234.4,1043.0C1235.9,1043.5 1237.4,1044.0 1238.9,1044.3C1240.4,1044.5 1241.9,1044.6 1243.4,1044.6C1244.9,1044.5 1246.4,1044.7 1247.9,1044.0C1249.4,1043.3 1250.8,1041.6 1252.3,1040.5C1253.8,1039.4 1255.3,1038.3 1256.8,1037.4C1258.3,1036.5 1259.8,1035.4 1261.3,1035.1C1262.8,1034.7 1264.3,1035.0 1265.8,1035.4C1267.3,1035.8 1268.8,1036.6 1270.2,1037.3C1271.7,1037.9 1273.2,1038.6 1274.7,1039.2C1276.2,1039.9 1277.7,1040.5 1279.2,1041.1C1280.7,1041.8 1282.2,1042.5 1283.7,1043.0C1285.2,1043.6 1286.7,1044.2 1288.2,1044.4C1289.6,1044.7 1291.1,1045.0 1292.6,1044.5C1294.1,1044.1 1295.6,1042.7 1297.1,1041.7C1298.6,1040.6 1300.1,1039.5 1301.6,1038.4C1303.1,1037.3 1304.6,1035.9 1306.1,1035.0C1307.6,1034.1 1309.0,1033.5 1310.5,1033.0C1312.0,1032.5 1313.5,1032.3 1315.0,1032.1C1316.5,1031.8 1318.0,1031.6 1319.5,1031.5C1321.0,1031.4 1322.5,1031.3 1324.0,1031.3C1325.5,1031.3 1327.0,1031.2 1328.4,1031.4C1329.9,1031.6 1331.4,1032.1 1332.9,1032.5C1334.4,1033.0 1335.9,1033.6 1337.4,1034.1C1338.9,1034.6 1340.4,1035.2 1341.9,1035.5C1343.4,1035.7 1344.9,1035.5 1346.4,1035.4C1347.8,1035.4 1349.3,1035.1 1350.8,1034.9C1352.3,1034.7 1354.6,1034.3 1355.3,1034.2" fill="none" stroke="#f5d14b" stroke-width="3.4" stroke-linejoin="round"/>
<path d="M849.4,1043.5C850.1,1043.2 852.4,1042.2 853.9,1041.5C855.4,1040.9 856.9,1040.2 858.3,1039.6C859.8,1038.9 861.3,1037.9 862.8,1037.7C864.3,1037.4 865.8,1037.9 867.3,1038.1C868.8,1038.3 870.3,1038.5 871.8,1038.8C873.3,1039.1 874.8,1039.4 876.3,1039.8C877.8,1040.3 879.2,1041.0 880.7,1041.6C882.2,1042.2 883.7,1043.6 885.2,1043.5C886.7,1043.4 888.2,1042.1 889.7,1041.2C891.2,1040.3 892.7,1039.2 894.2,1038.3C895.7,1037.3 897.2,1036.2 898.6,1035.3C900.1,1034.5 901.6,1033.7 903.1,1033.3C904.6,1032.8 906.1,1032.9 907.6,1032.7C909.1,1032.5 910.6,1032.3 912.1,1032.1C913.6,1031.9 915.1,1031.8 916.6,1031.7C918.0,1031.6 919.5,1031.5 921.0,1031.5C922.5,1031.5 924.0,1031.5 925.5,1031.7C927.0,1031.8 928.5,1032.2 930.0,1032.5C931.5,1032.7 933.0,1033.0 934.5,1033.1C936.0,1033.3 937.4,1033.5 938.9,1033.4C940.4,1033.4 941.9,1033.2 943.4,1033.1C944.9,1032.9 946.4,1032.9 947.9,1032.6C949.4,1032.3 950.9,1031.9 952.4,1031.5C953.9,1031.0 955.4,1030.5 956.8,1030.0C958.3,1029.6 959.8,1029.0 961.3,1028.9C962.8,1028.7 964.3,1029.0 965.8,1029.2C967.3,1029.4 968.8,1029.7 970.3,1030.0C971.8,1030.3 973.3,1030.7 974.8,1031.0C976.2,1031.3 977.7,1031.8 979.2,1031.7C980.7,1031.6 982.2,1031.1 983.7,1030.5C985.2,1030.0 986.7,1029.1 988.2,1028.4C989.7,1027.6 991.2,1026.7 992.7,1025.9C994.2,1025.0 995.6,1024.2 997.1,1023.2C998.6,1022.2 1000.1,1020.8 1001.6,1019.9C1003.1,1019.0 1004.6,1018.2 1006.1,1017.8C1007.6,1017.4 1009.1,1017.5 1010.6,1017.4C1012.1,1017.3 1013.6,1017.5 1015.0,1017.4C1016.5,1017.4 1018.0,1017.3 1019.5,1016.9C1021.0,1016.5 1022.5,1015.8 1024.0,1015.1C1025.5,1014.3 1027.0,1013.4 1028.5,1012.4C1030.0,1011.4 1031.5,1010.2 1033.0,1009.1C1034.5,1008.0 1035.9,1006.8 1037.4,1005.6C1038.9,1004.5 1040.4,1003.2 1041.9,1002.0C1043.4,1000.8 1044.9,999.6 1046.4,998.5C1047.9,997.3 1049.4,996.2 1050.9,995.1C1052.4,994.1 1053.9,992.7 1055.3,992.1C1056.8,991.6 1058.3,992.0 1059.8,991.9C1061.3,991.9 1062.8,991.9 1064.3,991.9C1065.8,991.8 1067.3,991.8 1068.8,991.4C1070.3,990.9 1071.8,989.8 1073.3,989.0C1074.7,988.1 1076.2,987.8 1077.7,986.2C1079.2,984.6 1080.7,981.7 1082.2,979.5C1083.7,977.2 1085.2,975.0 1086.7,972.6C1088.2,970.2 1089.7,967.7 1091.2,965.2C1092.7,962.7 1094.1,960.1 1095.6,957.6C1097.1,955.1 1098.6,952.4 1100.1,950.0C1101.6,947.6 1103.1,945.6 1104.6,943.3C1106.1,941.1 1107.7,939.1 1109.1,936.6C1110.4,934.1 1111.8,930.2 1112.6,928.3C1113.3,926.5 1113.2,926.7 1113.5,925.7C1113.9,924.6 1114.2,923.7 1114.8,922.1C1115.4,920.4 1116.5,917.3 1117.1,915.8C1117.6,914.3 1117.7,914.2 1118.0,913.1C1118.4,912.1 1118.7,911.3 1119.3,909.4C1119.9,907.6 1121.0,903.9 1121.5,902.2C1122.1,900.4 1122.1,900.3 1122.5,899.0C1122.9,897.8 1123.2,896.7 1123.8,894.7C1124.4,892.7 1125.5,888.9 1126.0,887.1C1126.6,885.3 1126.6,885.1 1127.0,883.9C1127.4,882.6 1127.7,880.9 1128.3,879.5C1128.8,878.1 1130.0,876.4 1130.5,875.5C1131.0,874.6 1131.1,874.5 1131.5,874.1C1131.8,873.6 1132.1,873.3 1132.7,872.8C1133.3,872.3 1134.4,871.0 1135.0,870.9C1135.5,870.9 1135.6,871.8 1135.9,872.5C1136.3,873.2 1136.6,873.7 1137.2,875.2C1137.8,876.6 1138.9,879.6 1139.4,881.0C1140.0,882.4 1140.0,882.4 1140.4,883.5C1140.8,884.6 1141.1,885.0 1141.7,887.8C1142.3,890.7 1143.4,897.6 1143.9,900.7C1144.5,903.7 1144.5,904.0 1144.9,906.2C1145.3,908.3 1145.6,910.1 1146.2,913.5C1146.8,916.9 1147.9,923.5 1148.4,926.7C1148.9,929.9 1149.0,930.3 1149.4,932.7C1149.7,935.0 1149.9,936.0 1150.6,940.6C1151.4,945.3 1152.6,953.9 1153.8,960.6C1155.1,967.3 1156.8,974.9 1158.3,980.9C1159.8,987.0 1161.3,992.3 1162.8,997.0C1164.3,1001.6 1165.8,1005.8 1167.3,1008.9C1168.8,1012.1 1170.3,1013.6 1171.7,1015.7C1173.2,1017.8 1174.7,1019.8 1176.2,1021.4C1177.7,1022.9 1179.2,1024.0 1180.7,1025.1C1182.2,1026.2 1183.7,1027.2 1185.2,1028.1C1186.7,1028.9 1188.2,1029.6 1189.7,1030.4C1191.2,1031.1 1192.6,1032.0 1194.1,1032.7C1195.6,1033.3 1197.1,1033.9 1198.6,1034.4C1200.1,1034.9 1201.6,1035.3 1203.1,1035.8C1204.6,1036.2 1206.1,1036.8 1207.6,1037.1C1209.1,1037.3 1210.6,1037.2 1212.0,1037.2C1213.5,1037.1 1215.0,1037.0 1216.5,1036.9C1218.0,1036.8 1219.5,1036.6 1221.0,1036.5C1222.5,1036.4 1224.0,1036.0 1225.5,1036.2C1227.0,1036.4 1228.5,1037.1 1230.0,1037.6C1231.4,1038.1 1232.9,1038.5 1234.4,1039.2C1235.9,1039.8 1237.4,1040.7 1238.9,1041.4C1240.4,1042.0 1241.9,1042.7 1243.4,1043.2C1244.9,1043.6 1246.4,1044.4 1247.9,1044.2C1249.4,1044.0 1250.8,1042.8 1252.3,1042.1C1253.8,1041.5 1255.3,1040.8 1256.8,1040.3C1258.3,1039.7 1259.8,1039.0 1261.3,1038.9C1262.8,1038.8 1264.3,1039.3 1265.8,1039.8C1267.3,1040.2 1268.8,1041.0 1270.2,1041.6C1271.7,1042.1 1273.2,1042.7 1274.7,1043.2C1276.2,1043.7 1277.7,1044.1 1279.2,1044.5C1280.7,1045.0 1282.2,1045.5 1283.7,1045.9C1285.2,1046.3 1286.7,1046.6 1288.2,1046.7C1289.6,1046.8 1291.1,1047.0 1292.6,1046.5C1294.1,1046.1 1295.6,1044.9 1297.1,1044.0C1298.6,1043.1 1300.1,1042.0 1301.6,1041.0C1303.1,1039.9 1304.6,1038.7 1306.1,1037.7C1307.6,1036.8 1309.0,1035.9 1310.5,1035.3C1312.0,1034.7 1313.5,1034.4 1315.0,1034.0C1316.5,1033.6 1318.0,1033.2 1319.5,1032.8C1321.0,1032.5 1322.5,1032.1 1324.0,1031.9C1325.5,1031.7 1327.0,1031.6 1328.4,1031.6C1329.9,1031.7 1331.4,1032.0 1332.9,1032.4C1334.4,1032.7 1335.9,1033.2 1337.4,1033.7C1338.9,1034.1 1340.4,1034.7 1341.9,1035.1C1343.4,1035.4 1344.9,1035.5 1346.4,1035.7C1347.8,1035.9 1349.3,1036.0 1350.8,1036.2C1352.3,1036.3 1354.6,1036.5 1355.3,1036.6" fill="none" stroke="#e9501e" stroke-width="3.4" stroke-linejoin="round"/>
<path d="M849.4,1042.1C850.1,1042.1 852.4,1042.3 853.9,1042.4C855.4,1042.4 856.9,1042.6 858.3,1042.5C859.8,1042.5 861.3,1042.1 862.8,1042.2C864.3,1042.3 865.8,1043.0 867.3,1043.1C868.8,1043.3 870.3,1043.4 871.8,1043.4C873.3,1043.4 874.8,1043.2 876.3,1042.9C877.8,1042.7 879.2,1042.3 880.7,1042.0C882.2,1041.7 883.7,1041.9 885.2,1041.1C886.7,1040.3 888.2,1038.6 889.7,1037.2C891.2,1035.8 892.7,1034.3 894.2,1033.0C895.7,1031.7 897.2,1030.4 898.6,1029.4C900.1,1028.5 901.6,1027.7 903.1,1027.3C904.6,1026.8 906.1,1027.0 907.6,1026.9C909.1,1026.8 910.6,1026.7 912.1,1026.8C913.6,1026.8 915.1,1027.0 916.6,1027.2C918.0,1027.4 919.5,1027.7 921.0,1028.1C922.5,1028.4 924.0,1028.7 925.5,1029.1C927.0,1029.5 928.5,1030.1 930.0,1030.6C931.5,1031.1 933.0,1031.6 934.5,1032.1C936.0,1032.5 937.4,1032.9 938.9,1033.2C940.4,1033.4 941.9,1033.5 943.4,1033.7C944.9,1033.8 946.4,1034.2 947.9,1034.2C949.4,1034.1 950.9,1033.8 952.4,1033.4C953.9,1033.0 955.4,1032.3 956.8,1031.7C958.3,1031.1 959.8,1030.1 961.3,1029.7C962.8,1029.3 964.3,1029.3 965.8,1029.1C967.3,1028.9 968.8,1028.8 970.3,1028.5C971.8,1028.3 973.3,1028.0 974.8,1027.6C976.2,1027.3 977.7,1027.1 979.2,1026.5C980.7,1025.9 982.2,1025.1 983.7,1024.2C985.2,1023.2 986.7,1021.9 988.2,1020.9C989.7,1019.9 991.2,1018.9 992.7,1018.0C994.2,1017.2 995.6,1016.6 997.1,1016.0C998.6,1015.3 1000.1,1014.3 1001.6,1013.9C1003.1,1013.4 1004.6,1013.1 1006.1,1013.2C1007.6,1013.3 1009.1,1013.8 1010.6,1014.3C1012.1,1014.8 1013.6,1015.6 1015.0,1015.9C1016.5,1016.3 1018.0,1016.4 1019.5,1016.2C1021.0,1016.0 1022.5,1015.4 1024.0,1014.5C1025.5,1013.6 1027.0,1012.4 1028.5,1010.9C1030.0,1009.4 1031.5,1007.4 1033.0,1005.6C1034.5,1003.7 1035.9,1001.8 1037.4,999.8C1038.9,997.8 1040.4,995.6 1041.9,993.6C1043.4,991.7 1044.9,989.7 1046.4,987.9C1047.9,986.1 1049.4,984.4 1050.9,982.8C1052.4,981.3 1053.9,979.4 1055.3,978.6C1056.8,977.9 1058.3,978.3 1059.8,978.3C1061.3,978.2 1062.8,978.2 1064.3,978.1C1065.8,977.9 1067.3,978.0 1068.8,977.4C1070.3,976.8 1071.8,975.6 1073.3,974.5C1074.7,973.5 1076.2,972.9 1077.7,970.9C1079.2,969.0 1080.7,965.6 1082.2,962.9C1083.7,960.2 1085.2,957.6 1086.7,954.7C1088.2,951.7 1089.7,948.3 1091.2,945.1C1092.7,941.9 1094.1,938.7 1095.6,935.6C1097.1,932.5 1098.6,929.2 1100.1,926.6C1101.6,924.0 1103.1,922.1 1104.6,920.0C1106.1,917.8 1107.7,915.8 1109.1,913.4C1110.4,911.1 1111.8,907.8 1112.6,906.1C1113.3,904.4 1113.2,904.5 1113.5,903.4C1113.9,902.4 1114.2,901.5 1114.8,899.9C1115.4,898.3 1116.5,895.2 1117.1,893.7C1117.6,892.2 1117.7,892.1 1118.0,891.1C1118.4,890.0 1118.7,889.2 1119.3,887.4C1119.9,885.6 1121.0,882.0 1121.5,880.3C1122.1,878.6 1122.1,878.4 1122.5,877.2C1122.9,875.9 1123.2,874.8 1123.8,872.8C1124.4,870.8 1125.5,867.0 1126.0,865.1C1126.6,863.3 1126.6,863.1 1127.0,861.8C1127.4,860.6 1127.7,858.8 1128.3,857.4C1128.8,856.1 1130.0,854.4 1130.5,853.6C1131.0,852.7 1131.1,852.5 1131.5,852.2C1131.8,851.8 1132.1,851.7 1132.7,851.5C1133.3,851.3 1134.4,850.7 1135.0,850.9C1135.5,851.1 1135.6,851.7 1135.9,852.4C1136.3,853.2 1136.6,853.8 1137.2,855.5C1137.8,857.2 1138.9,860.9 1139.4,862.5C1140.0,864.2 1140.0,864.2 1140.4,865.6C1140.8,866.9 1141.1,867.4 1141.7,870.6C1142.3,873.7 1143.4,881.1 1143.9,884.4C1144.5,887.7 1144.5,888.0 1144.9,890.3C1145.3,892.6 1145.6,894.6 1146.2,898.2C1146.8,901.9 1147.9,908.9 1148.4,912.3C1148.9,915.7 1149.0,916.2 1149.4,918.7C1149.7,921.2 1149.9,922.3 1150.6,927.2C1151.4,932.1 1152.6,941.1 1153.8,948.4C1155.1,955.6 1156.8,963.9 1158.3,970.5C1159.8,977.2 1161.3,983.0 1162.8,988.1C1164.3,993.3 1165.8,997.8 1167.3,1001.3C1168.8,1004.8 1170.3,1006.7 1171.7,1008.9C1173.2,1011.2 1174.7,1013.2 1176.2,1014.8C1177.7,1016.5 1179.2,1017.7 1180.7,1018.9C1182.2,1020.2 1183.7,1021.2 1185.2,1022.2C1186.7,1023.3 1188.2,1024.0 1189.7,1025.0C1191.2,1026.0 1192.6,1027.2 1194.1,1028.4C1195.6,1029.6 1197.1,1031.0 1198.6,1032.3C1200.1,1033.6 1201.6,1035.0 1203.1,1036.2C1204.6,1037.5 1206.1,1039.1 1207.6,1040.0C1209.1,1040.9 1210.6,1041.5 1212.0,1041.9C1213.5,1042.3 1215.0,1042.5 1216.5,1042.6C1218.0,1042.7 1219.5,1042.6 1221.0,1042.3C1222.5,1042.0 1224.0,1041.3 1225.5,1040.9C1227.0,1040.5 1228.5,1040.4 1230.0,1040.1C1231.4,1039.8 1232.9,1039.2 1234.4,1039.1C1235.9,1039.1 1237.4,1039.4 1238.9,1039.6C1240.4,1039.8 1241.9,1040.1 1243.4,1040.3C1244.9,1040.6 1246.4,1041.2 1247.9,1041.1C1249.4,1041.0 1250.8,1040.0 1252.3,1039.7C1253.8,1039.4 1255.3,1039.2 1256.8,1039.2C1258.3,1039.3 1259.8,1039.3 1261.3,1039.9C1262.8,1040.5 1264.3,1041.7 1265.8,1042.7C1267.3,1043.7 1268.8,1044.9 1270.2,1045.7C1271.7,1046.5 1273.2,1047.2 1274.7,1047.6C1276.2,1048.1 1277.7,1048.2 1279.2,1048.3C1280.7,1048.4 1282.2,1048.4 1283.7,1048.1C1285.2,1047.9 1286.7,1047.4 1288.2,1046.8C1289.6,1046.2 1291.1,1045.6 1292.6,1044.6C1294.1,1043.7 1295.6,1042.4 1297.1,1041.3C1298.6,1040.3 1300.1,1039.2 1301.6,1038.4C1303.1,1037.5 1304.6,1036.7 1306.1,1036.3C1307.6,1035.9 1309.0,1035.8 1310.5,1036.0C1312.0,1036.1 1313.5,1036.9 1315.0,1037.4C1316.5,1037.9 1318.0,1038.6 1319.5,1039.1C1321.0,1039.6 1322.5,1040.0 1324.0,1040.3C1325.5,1040.7 1327.0,1041.0 1328.4,1041.2C1329.9,1041.4 1331.4,1041.5 1332.9,1041.4C1334.4,1041.3 1335.9,1041.1 1337.4,1040.7C1338.9,1040.2 1340.4,1039.6 1341.9,1038.7C1343.4,1037.9 1344.9,1036.7 1346.4,1035.8C1347.8,1034.8 1349.3,1033.7 1350.8,1032.9C1352.3,1032.0 1354.6,1031.1 1355.3,1030.8" fill="none" stroke="#de4b3c" stroke-width="3.4" stroke-linejoin="round"/>
<path d="M849.4,1042.8C850.1,1042.5 852.4,1041.9 853.9,1041.5C855.4,1041.1 856.9,1040.6 858.3,1040.2C859.8,1039.7 861.3,1038.9 862.8,1038.8C864.3,1038.6 865.8,1039.0 867.3,1039.1C868.8,1039.3 870.3,1039.5 871.8,1039.6C873.3,1039.8 874.8,1040.0 876.3,1040.0C877.8,1040.0 879.2,1039.7 880.7,1039.5C882.2,1039.4 883.7,1039.6 885.2,1039.1C886.7,1038.6 888.2,1037.6 889.7,1036.6C891.2,1035.6 892.7,1034.3 894.2,1033.1C895.7,1032.0 897.2,1030.7 898.6,1029.7C900.1,1028.7 901.6,1027.7 903.1,1027.0C904.6,1026.4 906.1,1026.1 907.6,1025.7C909.1,1025.2 910.6,1024.6 912.1,1024.3C913.6,1024.1 915.1,1024.0 916.6,1024.1C918.0,1024.2 919.5,1024.5 921.0,1024.9C922.5,1025.2 924.0,1025.5 925.5,1026.0C927.0,1026.4 928.5,1027.1 930.0,1027.6C931.5,1028.2 933.0,1028.8 934.5,1029.2C936.0,1029.7 937.4,1030.0 938.9,1030.2C940.4,1030.4 941.9,1030.3 943.4,1030.3C944.9,1030.4 946.4,1030.7 947.9,1030.4C949.4,1030.1 950.9,1029.3 952.4,1028.5C953.9,1027.8 955.4,1026.6 956.8,1025.7C958.3,1024.7 959.8,1023.3 961.3,1022.8C962.8,1022.3 964.3,1022.6 965.8,1022.7C967.3,1022.8 968.8,1023.2 970.3,1023.4C971.8,1023.6 973.3,1023.8 974.8,1024.0C976.2,1024.3 977.7,1024.6 979.2,1024.7C980.7,1024.8 982.2,1025.1 983.7,1024.6C985.2,1024.2 986.7,1023.2 988.2,1022.3C989.7,1021.4 991.2,1020.3 992.7,1019.3C994.2,1018.3 995.6,1017.5 997.1,1016.3C998.6,1015.2 1000.1,1013.6 1001.6,1012.4C1003.1,1011.1 1004.6,1009.8 1006.1,1009.0C1007.6,1008.2 1009.1,1007.7 1010.6,1007.4C1012.1,1007.1 1013.6,1007.5 1015.0,1007.3C1016.5,1007.1 1018.0,1006.7 1019.5,1006.2C1021.0,1005.7 1022.5,1005.1 1024.0,1004.2C1025.5,1003.3 1027.0,1002.1 1028.5,1000.6C1030.0,999.2 1031.5,997.2 1033.0,995.4C1034.5,993.6 1035.9,991.8 1037.4,989.8C1038.9,987.8 1040.4,985.5 1041.9,983.4C1043.4,981.2 1044.9,979.1 1046.4,976.9C1047.9,974.7 1049.4,972.5 1050.9,970.3C1052.4,968.2 1053.9,965.4 1055.3,964.0C1056.8,962.6 1058.3,962.7 1059.8,962.0C1061.3,961.3 1062.8,960.7 1064.3,959.9C1065.8,959.2 1067.3,958.5 1068.8,957.4C1070.3,956.3 1071.8,954.7 1073.3,953.3C1074.7,951.9 1076.2,951.1 1077.7,948.9C1079.2,946.7 1080.7,943.0 1082.2,940.1C1083.7,937.2 1085.2,934.8 1086.7,931.4C1088.2,928.1 1089.7,923.9 1091.2,920.1C1092.7,916.3 1094.1,912.4 1095.6,908.6C1097.1,904.8 1098.6,900.5 1100.1,897.5C1101.6,894.4 1103.1,892.7 1104.6,890.3C1106.1,888.0 1107.7,885.6 1109.1,883.2C1110.4,880.9 1111.8,877.9 1112.6,876.3C1113.3,874.7 1113.2,874.7 1113.5,873.6C1113.9,872.5 1114.2,871.6 1114.8,869.9C1115.4,868.2 1116.5,865.0 1117.1,863.5C1117.6,861.9 1117.7,861.8 1118.0,860.7C1118.4,859.6 1118.7,858.7 1119.3,857.0C1119.9,855.2 1121.0,851.7 1121.5,850.1C1122.1,848.4 1122.1,848.2 1122.5,847.0C1122.9,845.7 1123.2,844.6 1123.8,842.6C1124.4,840.6 1125.5,836.7 1126.0,834.9C1126.6,833.0 1126.6,832.9 1127.0,831.6C1127.4,830.3 1127.7,828.5 1128.3,827.2C1128.8,825.8 1130.0,824.5 1130.5,823.7C1131.0,822.9 1131.1,822.7 1131.5,822.5C1131.8,822.3 1132.1,822.4 1132.7,822.5C1133.3,822.7 1134.4,823.1 1135.0,823.5C1135.5,823.9 1135.6,824.1 1135.9,824.9C1136.3,825.7 1136.6,826.3 1137.2,828.3C1137.8,830.3 1138.9,834.8 1139.4,836.8C1140.0,838.8 1140.0,838.9 1140.4,840.5C1140.8,842.0 1141.1,842.8 1141.7,846.3C1142.3,849.8 1143.4,857.8 1143.9,861.5C1144.5,865.1 1144.5,865.4 1144.9,868.0C1145.3,870.5 1145.6,872.6 1146.2,876.6C1146.8,880.6 1147.9,888.4 1148.4,892.1C1148.9,895.8 1149.0,896.4 1149.4,899.1C1149.7,901.8 1149.9,903.0 1150.6,908.4C1151.4,913.8 1152.6,923.5 1153.8,931.6C1155.1,939.8 1156.8,949.5 1158.3,957.3C1159.8,965.0 1161.3,972.0 1162.8,978.2C1164.3,984.4 1165.8,990.0 1167.3,994.4C1168.8,998.9 1170.3,1001.8 1171.7,1004.8C1173.2,1007.8 1174.7,1010.2 1176.2,1012.4C1177.7,1014.6 1179.2,1016.3 1180.7,1017.9C1182.2,1019.4 1183.7,1020.7 1185.2,1021.7C1186.7,1022.7 1188.2,1023.1 1189.7,1023.9C1191.2,1024.6 1192.6,1025.3 1194.1,1026.0C1195.6,1026.8 1197.1,1027.7 1198.6,1028.6C1200.1,1029.4 1201.6,1030.4 1203.1,1031.3C1204.6,1032.3 1206.1,1033.5 1207.6,1034.2C1209.1,1034.9 1210.6,1035.1 1212.0,1035.4C1213.5,1035.8 1215.0,1036.0 1216.5,1036.3C1218.0,1036.6 1219.5,1037.0 1221.0,1037.3C1222.5,1037.5 1224.0,1037.4 1225.5,1037.7C1227.0,1038.0 1228.5,1038.5 1230.0,1038.9C1231.4,1039.4 1232.9,1039.5 1234.4,1040.3C1235.9,1041.1 1237.4,1042.6 1238.9,1043.7C1240.4,1044.8 1241.9,1045.9 1243.4,1046.8C1244.9,1047.6 1246.4,1048.7 1247.9,1048.8C1249.4,1048.9 1250.8,1047.9 1252.3,1047.4C1253.8,1046.9 1255.3,1046.3 1256.8,1045.8C1258.3,1045.4 1259.8,1044.9 1261.3,1044.9C1262.8,1044.9 1264.3,1045.4 1265.8,1045.8C1267.3,1046.1 1268.8,1046.7 1270.2,1047.0C1271.7,1047.3 1273.2,1047.5 1274.7,1047.7C1276.2,1047.9 1277.7,1047.9 1279.2,1048.0C1280.7,1048.1 1282.2,1048.4 1283.7,1048.4C1285.2,1048.4 1286.7,1048.2 1288.2,1048.0C1289.6,1047.8 1291.1,1047.5 1292.6,1047.0C1294.1,1046.5 1295.6,1045.9 1297.1,1045.2C1298.6,1044.5 1300.1,1043.6 1301.6,1042.8C1303.1,1042.0 1304.6,1041.1 1306.1,1040.3C1307.6,1039.6 1309.0,1038.8 1310.5,1038.4C1312.0,1038.0 1313.5,1038.0 1315.0,1037.8C1316.5,1037.7 1318.0,1037.6 1319.5,1037.5C1321.0,1037.4 1322.5,1037.2 1324.0,1037.2C1325.5,1037.3 1327.0,1037.5 1328.4,1037.8C1329.9,1038.0 1331.4,1038.3 1332.9,1038.6C1334.4,1038.9 1335.9,1039.3 1337.4,1039.5C1338.9,1039.7 1340.4,1039.9 1341.9,1039.9C1343.4,1040.0 1344.9,1039.9 1346.4,1039.9C1347.8,1039.9 1349.3,1039.8 1350.8,1039.7C1352.3,1039.7 1354.6,1039.6 1355.3,1039.5" fill="none" stroke="#c2372c" stroke-width="2.9" stroke-linejoin="round"/>
<path d="M849.4,1041.7C850.1,1041.4 852.4,1040.5 853.9,1039.9C855.4,1039.3 856.9,1038.7 858.3,1038.2C859.8,1037.7 861.3,1036.9 862.8,1036.8C864.3,1036.6 865.8,1037.1 867.3,1037.3C868.8,1037.6 870.3,1038.0 871.8,1038.3C873.3,1038.7 874.8,1039.3 876.3,1039.5C877.8,1039.7 879.2,1039.5 880.7,1039.5C882.2,1039.5 883.7,1039.7 885.2,1039.4C886.7,1039.2 888.2,1038.7 889.7,1038.0C891.2,1037.3 892.7,1036.1 894.2,1035.1C895.7,1034.1 897.2,1032.9 898.6,1031.8C900.1,1030.8 901.6,1029.7 903.1,1028.8C904.6,1027.9 906.1,1027.2 907.6,1026.4C909.1,1025.5 910.6,1024.4 912.1,1023.7C913.6,1022.9 915.1,1022.3 916.6,1022.0C918.0,1021.6 919.5,1021.6 921.0,1021.5C922.5,1021.4 924.0,1021.3 925.5,1021.4C927.0,1021.5 928.5,1021.8 930.0,1022.1C931.5,1022.4 933.0,1022.9 934.5,1023.3C936.0,1023.6 937.4,1024.0 938.9,1024.2C940.4,1024.5 941.9,1024.6 943.4,1024.9C944.9,1025.2 946.4,1025.9 947.9,1025.9C949.4,1026.0 950.9,1025.6 952.4,1025.2C953.9,1024.8 955.4,1024.0 956.8,1023.4C958.3,1022.8 959.8,1021.7 961.3,1021.6C962.8,1021.5 964.3,1022.4 965.8,1022.9C967.3,1023.4 968.8,1024.2 970.3,1024.7C971.8,1025.3 973.3,1025.7 974.8,1026.1C976.2,1026.5 977.7,1027.0 979.2,1027.1C980.7,1027.3 982.2,1027.8 983.7,1027.3C985.2,1026.8 986.7,1025.4 988.2,1024.2C989.7,1023.0 991.2,1021.5 992.7,1020.2C994.2,1018.8 995.6,1017.6 997.1,1016.0C998.6,1014.4 1000.1,1012.3 1001.6,1010.5C1003.1,1008.8 1004.6,1006.9 1006.1,1005.6C1007.6,1004.2 1009.1,1003.2 1010.6,1002.5C1012.1,1001.8 1013.6,1001.9 1015.0,1001.4C1016.5,1000.9 1018.0,1000.3 1019.5,999.6C1021.0,998.9 1022.5,998.3 1024.0,997.3C1025.5,996.2 1027.0,994.9 1028.5,993.3C1030.0,991.8 1031.5,989.7 1033.0,987.7C1034.5,985.8 1035.9,983.9 1037.4,981.8C1038.9,979.7 1040.4,977.3 1041.9,975.0C1043.4,972.8 1044.9,970.5 1046.4,968.2C1047.9,966.0 1049.4,963.6 1050.9,961.4C1052.4,959.1 1053.9,956.1 1055.3,954.7C1056.8,953.3 1058.3,953.6 1059.8,952.9C1061.3,952.3 1062.8,951.7 1064.3,951.0C1065.8,950.3 1067.3,949.6 1068.8,948.5C1070.3,947.4 1071.8,945.7 1073.3,944.2C1074.7,942.7 1076.2,941.9 1077.7,939.5C1079.2,937.1 1080.7,933.2 1082.2,930.1C1083.7,926.9 1085.2,924.3 1086.7,920.5C1088.2,916.8 1089.7,911.9 1091.2,907.5C1092.7,903.1 1094.1,898.5 1095.6,894.1C1097.1,889.8 1098.6,884.7 1100.1,881.2C1101.6,877.8 1103.1,876.0 1104.6,873.4C1106.1,870.8 1107.7,868.0 1109.1,865.6C1110.4,863.2 1111.8,860.5 1112.6,858.9C1113.3,857.4 1113.2,857.2 1113.5,856.1C1113.9,855.0 1114.2,854.1 1114.8,852.4C1115.4,850.6 1116.5,847.4 1117.1,845.8C1117.6,844.3 1117.7,844.1 1118.0,843.0C1118.4,841.9 1118.7,841.0 1119.3,839.3C1119.9,837.5 1121.0,834.2 1121.5,832.5C1122.1,830.9 1122.1,830.8 1122.5,829.5C1122.9,828.3 1123.2,827.2 1123.8,825.2C1124.4,823.2 1125.5,819.4 1126.0,817.5C1126.6,815.7 1126.6,815.5 1127.0,814.3C1127.4,813.0 1127.7,811.2 1128.3,809.9C1128.8,808.7 1130.0,807.5 1130.5,806.8C1131.0,806.1 1131.1,805.8 1131.5,805.7C1131.8,805.6 1132.1,805.8 1132.7,806.1C1133.3,806.5 1134.4,807.3 1135.0,807.9C1135.5,808.4 1135.6,808.4 1135.9,809.2C1136.3,810.0 1136.6,810.6 1137.2,812.7C1137.8,814.9 1138.9,819.8 1139.4,822.1C1140.0,824.3 1140.0,824.4 1140.4,826.1C1140.8,827.8 1141.1,828.7 1141.7,832.4C1142.3,836.1 1143.4,844.6 1143.9,848.4C1144.5,852.2 1144.5,852.5 1144.9,855.2C1145.3,857.9 1145.6,860.1 1146.2,864.4C1146.8,868.6 1147.9,876.8 1148.4,880.7C1148.9,884.7 1149.0,885.2 1149.4,888.1C1149.7,891.0 1149.9,892.2 1150.6,898.0C1151.4,903.7 1152.6,913.9 1153.8,922.6C1155.1,931.4 1156.8,942.1 1158.3,950.6C1159.8,959.1 1161.3,966.8 1162.8,973.7C1164.3,980.6 1165.8,986.8 1167.3,991.8C1168.8,996.8 1170.3,1000.3 1171.7,1003.6C1173.2,1006.9 1174.7,1009.5 1176.2,1011.7C1177.7,1014.0 1179.2,1015.9 1180.7,1017.3C1182.2,1018.8 1183.7,1019.9 1185.2,1020.6C1186.7,1021.3 1188.2,1021.3 1189.7,1021.6C1191.2,1021.9 1192.6,1022.1 1194.1,1022.6C1195.6,1023.1 1197.1,1023.7 1198.6,1024.4C1200.1,1025.2 1201.6,1026.1 1203.1,1027.1C1204.6,1028.1 1206.1,1029.5 1207.6,1030.4C1209.1,1031.3 1210.6,1031.8 1212.0,1032.5C1213.5,1033.1 1215.0,1033.8 1216.5,1034.5C1218.0,1035.3 1219.5,1036.2 1221.0,1036.9C1222.5,1037.6 1224.0,1038.1 1225.5,1038.8C1227.0,1039.4 1228.5,1040.2 1230.0,1040.9C1231.4,1041.6 1232.9,1041.9 1234.4,1042.9C1235.9,1044.0 1237.4,1045.8 1238.9,1047.0C1240.4,1048.3 1241.9,1049.5 1243.4,1050.4C1244.9,1051.3 1246.4,1052.3 1247.9,1052.2C1249.4,1052.1 1250.8,1050.8 1252.3,1050.0C1253.8,1049.2 1255.3,1048.1 1256.8,1047.4C1258.3,1046.6 1259.8,1045.7 1261.3,1045.4C1262.8,1045.0 1264.3,1045.2 1265.8,1045.2C1267.3,1045.3 1268.8,1045.4 1270.2,1045.5C1271.7,1045.6 1273.2,1045.7 1274.7,1045.7C1276.2,1045.8 1277.7,1045.8 1279.2,1046.0C1280.7,1046.2 1282.2,1046.6 1283.7,1046.8C1285.2,1047.1 1286.7,1047.2 1288.2,1047.3C1289.6,1047.4 1291.1,1047.4 1292.6,1047.4C1294.1,1047.4 1295.6,1047.4 1297.1,1047.2C1298.6,1047.1 1300.1,1046.7 1301.6,1046.3C1303.1,1045.9 1304.6,1045.4 1306.1,1044.9C1307.6,1044.5 1309.0,1043.8 1310.5,1043.4C1312.0,1043.1 1313.5,1043.1 1315.0,1042.9C1316.5,1042.7 1318.0,1042.3 1319.5,1042.0C1321.0,1041.6 1322.5,1041.0 1324.0,1040.7C1325.5,1040.4 1327.0,1040.2 1328.4,1040.0C1329.9,1039.8 1331.4,1039.6 1332.9,1039.4C1334.4,1039.2 1335.9,1039.1 1337.4,1038.9C1338.9,1038.6 1340.4,1038.3 1341.9,1038.0C1343.4,1037.8 1344.9,1037.5 1346.4,1037.4C1347.8,1037.3 1349.3,1037.2 1350.8,1037.2C1352.3,1037.3 1354.6,1037.5 1355.3,1037.6" fill="none" stroke="#9a2d22" stroke-width="2.6" stroke-linejoin="round"/>
<path d="M849.4,1040.9C850.1,1040.8 852.4,1040.2 853.9,1039.9C855.4,1039.5 856.9,1039.2 858.3,1038.9C859.8,1038.5 861.3,1037.9 862.8,1037.8C864.3,1037.7 865.8,1038.1 867.3,1038.3C868.8,1038.4 870.3,1038.7 871.8,1038.8C873.3,1039.0 874.8,1039.4 876.3,1039.2C877.8,1039.0 879.2,1038.1 880.7,1037.5C882.2,1037.0 883.7,1036.5 885.2,1035.9C886.7,1035.2 888.2,1034.7 889.7,1033.8C891.2,1032.9 892.7,1031.6 894.2,1030.5C895.7,1029.3 897.2,1028.1 898.6,1027.1C900.1,1026.1 901.6,1025.1 903.1,1024.3C904.6,1023.5 906.1,1023.0 907.6,1022.4C909.1,1021.7 910.6,1020.9 912.1,1020.5C913.6,1020.1 915.1,1019.9 916.6,1020.0C918.0,1020.1 919.5,1020.7 921.0,1021.1C922.5,1021.5 924.0,1021.9 925.5,1022.3C927.0,1022.8 928.5,1023.5 930.0,1024.0C931.5,1024.6 933.0,1025.3 934.5,1025.7C936.0,1026.1 937.4,1026.4 938.9,1026.5C940.4,1026.7 941.9,1026.5 943.4,1026.5C944.9,1026.5 946.4,1027.0 947.9,1026.5C949.4,1026.1 950.9,1025.1 952.4,1024.0C953.9,1023.0 955.4,1021.4 956.8,1020.1C958.3,1018.8 959.8,1016.8 961.3,1016.2C962.8,1015.5 964.3,1016.0 965.8,1016.2C967.3,1016.4 968.8,1017.0 970.3,1017.4C971.8,1017.7 973.3,1018.0 974.8,1018.5C976.2,1018.9 977.7,1019.4 979.2,1019.9C980.7,1020.4 982.2,1021.5 983.7,1021.4C985.2,1021.4 986.7,1020.3 988.2,1019.6C989.7,1018.8 991.2,1017.7 992.7,1016.8C994.2,1015.8 995.6,1015.1 997.1,1014.0C998.6,1012.8 1000.1,1011.1 1001.6,1009.6C1003.1,1008.1 1004.6,1006.4 1006.1,1005.1C1007.6,1003.9 1009.1,1002.8 1010.6,1002.2C1012.1,1001.5 1013.6,1001.8 1015.0,1001.3C1016.5,1000.8 1018.0,999.9 1019.5,999.0C1021.0,998.2 1022.5,997.4 1024.0,996.1C1025.5,994.7 1027.0,992.9 1028.5,990.8C1030.0,988.7 1031.5,985.9 1033.0,983.4C1034.5,980.8 1035.9,978.2 1037.4,975.4C1038.9,972.6 1040.4,969.4 1041.9,966.4C1043.4,963.4 1044.9,960.5 1046.4,957.5C1047.9,954.5 1049.4,951.4 1050.9,948.5C1052.4,945.6 1053.9,941.9 1055.3,940.0C1056.8,938.1 1058.3,938.1 1059.8,937.2C1061.3,936.3 1062.8,935.4 1064.3,934.4C1065.8,933.4 1067.3,932.5 1068.8,931.2C1070.3,930.0 1071.8,928.3 1073.3,926.8C1074.7,925.2 1076.2,924.3 1077.7,921.9C1079.2,919.5 1080.7,915.5 1082.2,912.2C1083.7,909.0 1085.2,906.5 1086.7,902.5C1088.2,898.5 1089.7,893.1 1091.2,888.3C1092.7,883.5 1094.1,878.5 1095.6,873.8C1097.1,869.0 1098.6,863.3 1100.1,859.7C1101.6,856.0 1103.1,854.5 1104.6,851.9C1106.1,849.2 1107.7,846.4 1109.1,844.0C1110.4,841.7 1111.8,839.4 1112.6,837.9C1113.3,836.4 1113.2,836.1 1113.5,835.0C1113.9,833.9 1114.2,832.9 1114.8,831.2C1115.4,829.4 1116.5,826.0 1117.1,824.4C1117.6,822.8 1117.7,822.7 1118.0,821.6C1118.4,820.4 1118.7,819.5 1119.3,817.7C1119.9,816.0 1121.0,812.6 1121.5,811.0C1122.1,809.4 1122.1,809.2 1122.5,808.0C1122.9,806.7 1123.2,805.5 1123.8,803.5C1124.4,801.4 1125.5,797.5 1126.0,795.7C1126.6,793.8 1126.6,793.6 1127.0,792.3C1127.4,791.0 1127.7,789.1 1128.3,787.8C1128.8,786.6 1130.0,785.4 1130.5,784.8C1131.0,784.1 1131.1,783.8 1131.5,783.8C1131.8,783.8 1132.1,784.1 1132.7,784.8C1133.3,785.4 1134.4,787.1 1135.0,787.8C1135.5,788.5 1135.6,788.2 1135.9,789.0C1136.3,789.9 1136.6,790.5 1137.2,792.9C1137.8,795.3 1138.9,800.8 1139.4,803.3C1140.0,805.8 1140.0,805.9 1140.4,807.8C1140.8,809.7 1141.1,810.7 1141.7,814.7C1142.3,818.6 1143.4,827.5 1143.9,831.5C1144.5,835.5 1144.5,835.9 1144.9,838.7C1145.3,841.5 1145.6,843.8 1146.2,848.3C1146.8,852.7 1147.9,861.2 1148.4,865.4C1148.9,869.5 1149.0,870.1 1149.4,873.0C1149.7,876.0 1149.9,877.3 1150.6,883.3C1151.4,889.2 1152.6,899.7 1153.8,908.9C1155.1,918.1 1156.8,929.4 1158.3,938.4C1159.8,947.5 1161.3,955.7 1162.8,963.1C1164.3,970.4 1165.8,977.2 1167.3,982.7C1168.8,988.3 1170.3,992.3 1171.7,996.2C1173.2,1000.0 1174.7,1002.9 1176.2,1005.8C1177.7,1008.6 1179.2,1011.1 1180.7,1013.2C1182.2,1015.3 1183.7,1017.0 1185.2,1018.4C1186.7,1019.7 1188.2,1020.2 1189.7,1021.1C1191.2,1022.1 1192.6,1022.9 1194.1,1023.9C1195.6,1025.0 1197.1,1026.2 1198.6,1027.5C1200.1,1028.7 1201.6,1030.1 1203.1,1031.4C1204.6,1032.7 1206.1,1034.4 1207.6,1035.3C1209.1,1036.2 1210.6,1036.5 1212.0,1037.0C1213.5,1037.5 1215.0,1037.8 1216.5,1038.1C1218.0,1038.5 1219.5,1039.1 1221.0,1039.3C1222.5,1039.5 1224.0,1039.3 1225.5,1039.3C1227.0,1039.4 1228.5,1039.3 1230.0,1039.3C1231.4,1039.4 1232.9,1039.0 1234.4,1039.6C1235.9,1040.2 1237.4,1041.8 1238.9,1042.9C1240.4,1044.1 1241.9,1045.3 1243.4,1046.3C1244.9,1047.3 1246.4,1048.5 1247.9,1048.7C1249.4,1048.9 1250.8,1047.9 1252.3,1047.6C1253.8,1047.2 1255.3,1046.7 1256.8,1046.5C1258.3,1046.2 1259.8,1046.1 1261.3,1046.3C1262.8,1046.6 1264.3,1047.5 1265.8,1048.0C1267.3,1048.6 1268.8,1049.2 1270.2,1049.7C1271.7,1050.2 1273.2,1050.5 1274.7,1050.8C1276.2,1051.1 1277.7,1051.2 1279.2,1051.4C1280.7,1051.6 1282.2,1051.9 1283.7,1051.9C1285.2,1051.9 1286.7,1051.7 1288.2,1051.4C1289.6,1051.1 1291.1,1050.7 1292.6,1050.3C1294.1,1049.9 1295.6,1049.7 1297.1,1049.2C1298.6,1048.7 1300.1,1047.9 1301.6,1047.2C1303.1,1046.5 1304.6,1045.7 1306.1,1044.9C1307.6,1044.2 1309.0,1043.2 1310.5,1042.7C1312.0,1042.2 1313.5,1042.2 1315.0,1042.0C1316.5,1041.8 1318.0,1041.6 1319.5,1041.5C1321.0,1041.3 1322.5,1041.0 1324.0,1041.0C1325.5,1041.0 1327.0,1041.4 1328.4,1041.5C1329.9,1041.7 1331.4,1041.9 1332.9,1042.1C1334.4,1042.2 1335.9,1042.5 1337.4,1042.5C1338.9,1042.5 1340.4,1042.2 1341.9,1042.1C1343.4,1042.0 1344.9,1041.8 1346.4,1041.7C1347.8,1041.6 1349.3,1041.5 1350.8,1041.3C1352.3,1041.2 1354.6,1041.0 1355.3,1041.0" fill="none" stroke="#7a3322" stroke-width="2.5" stroke-linejoin="round"/></g>
<rect x="849.4" y="680.2" width="506.2" height="430.1" fill="none" stroke="#000" stroke-width="2.8"/>
<path d="M855.8,1114.5V1131.4M899.3,1114.5V1131.4M986.6,1114.5V1131.4M1074.2,1114.5V1131.4M1161.2,1114.5V1131.4M1248.5,1114.5V1131.4M1335.8,1114.5V1131.4" stroke="#000" stroke-width="2.6" fill="none"/>
<text x="892.9" y="1156.0" font-size="21.7" fill="#000" text-anchor="middle" >340</text>
<text x="988.2" y="1156.0" font-size="21.7" fill="#000" text-anchor="middle" >300</text>
<text x="1073.6" y="1156.0" font-size="21.7" fill="#000" text-anchor="middle" >260</text>
<text x="1160.5" y="1156.0" font-size="21.7" fill="#000" text-anchor="middle" >220</text>
<text x="1246.9" y="1156.0" font-size="21.7" fill="#000" text-anchor="middle" >180</text>
<text x="1333.2" y="1156.0" font-size="21.7" fill="#000" text-anchor="middle" >140</text>
<text x="967.5" y="1199.2" font-size="29" fill="#000"><tspan font-size="27.5" dy="-6.5">7</tspan><tspan dy="6.5">Li chemical shift (ppm)</tspan></text>
<text x="818.4" y="670.0" font-size="28.5" fill="#000" text-anchor="start" >f</text>
<text x="1374.8" y="666.8" font-size="28.5" fill="#000" text-anchor="start" >h</text>
<text x="874.3" y="906.6" font-size="27.2" fill="#231815" text-anchor="start" >4th charge</text>
<path d="M1055.2,892.3V1064" stroke="#000" stroke-width="4" stroke-dasharray="11.65 12.25" fill="none"/>
<path d="M1044.8,899.3L1055.2,869.8L1066.8,899.3" stroke="#000" stroke-width="4.7" fill="none" stroke-linejoin="miter" stroke-miterlimit="10"/>
<clipPath id="cg"><rect x="849.9" y="1417" width="507" height="428"/></clipPath>
<g clip-path="url(#cg)"><path d="M853.1,1751.2C853.8,1751.5 856.0,1752.1 857.5,1752.6C859.0,1753.1 860.4,1753.5 861.9,1754.0C863.4,1754.4 864.9,1755.2 866.3,1755.4C867.8,1755.5 869.3,1755.4 870.7,1755.1C872.2,1754.8 873.7,1754.1 875.1,1753.6C876.6,1753.1 878.1,1752.6 879.6,1752.1C881.0,1751.6 882.5,1751.0 884.0,1750.6C885.4,1750.2 886.9,1750.1 888.4,1749.9C889.9,1749.7 891.3,1749.4 892.8,1749.2C894.3,1748.9 895.7,1748.7 897.2,1748.5C898.7,1748.2 900.1,1748.0 901.6,1747.7C903.1,1747.4 904.6,1747.1 906.0,1746.8C907.5,1746.5 909.0,1746.2 910.4,1745.9C911.9,1745.6 913.4,1745.3 914.8,1745.0C916.3,1744.8 917.8,1744.7 919.3,1744.5C920.7,1744.3 922.2,1744.2 923.7,1744.0C925.1,1743.8 926.6,1743.5 928.1,1743.5C929.5,1743.6 931.0,1744.0 932.5,1744.4C934.0,1744.8 935.4,1745.4 936.9,1746.0C938.4,1746.5 939.8,1747.1 941.3,1747.6C942.8,1748.1 944.3,1749.1 945.7,1749.2C947.2,1749.3 948.7,1748.6 950.1,1748.1C951.6,1747.5 953.1,1746.6 954.5,1745.9C956.0,1745.1 957.5,1744.3 959.0,1743.7C960.4,1743.0 961.9,1742.0 963.4,1741.9C964.8,1741.8 966.3,1742.7 967.8,1743.0C969.2,1743.4 970.7,1743.8 972.2,1744.1C973.7,1744.5 975.1,1744.9 976.6,1745.2C978.1,1745.6 979.5,1746.4 981.0,1746.3C982.5,1746.3 983.9,1745.6 985.4,1745.1C986.9,1744.6 988.4,1744.0 989.8,1743.4C991.3,1742.9 992.8,1742.5 994.2,1741.8C995.7,1741.1 997.2,1740.1 998.7,1739.3C1000.1,1738.4 1001.6,1737.3 1003.1,1736.7C1004.5,1736.2 1006.0,1735.9 1007.5,1735.9C1008.9,1735.8 1010.4,1736.4 1011.9,1736.6C1013.4,1736.9 1014.8,1737.3 1016.3,1737.4C1017.8,1737.5 1019.2,1737.7 1020.7,1737.3C1022.2,1736.8 1023.6,1735.6 1025.1,1734.7C1026.6,1733.9 1028.1,1733.0 1029.5,1732.2C1031.0,1731.4 1032.5,1730.6 1033.9,1729.9C1035.4,1729.1 1036.9,1728.5 1038.3,1727.8C1039.8,1727.2 1041.3,1726.5 1042.8,1725.8C1044.2,1725.1 1045.7,1724.3 1047.2,1723.8C1048.6,1723.3 1050.1,1723.2 1051.6,1723.0C1053.1,1722.7 1054.5,1722.6 1056.0,1722.4C1057.5,1722.1 1058.9,1722.0 1060.4,1721.7C1061.9,1721.5 1063.3,1721.3 1064.8,1721.0C1066.3,1720.7 1067.8,1720.2 1069.2,1719.9C1070.7,1719.5 1072.2,1719.4 1073.6,1718.8C1075.1,1718.1 1076.6,1717.3 1078.0,1716.0C1079.5,1714.7 1081.0,1712.7 1082.5,1711.1C1083.9,1709.4 1085.4,1707.7 1086.9,1706.1C1088.3,1704.4 1089.8,1702.8 1091.3,1701.1C1092.7,1699.5 1094.2,1697.8 1095.7,1696.2C1097.2,1694.5 1098.6,1693.4 1100.1,1691.2C1101.6,1689.0 1103.0,1685.9 1104.5,1683.0C1106.0,1680.0 1107.5,1677.1 1108.9,1673.4C1110.4,1669.7 1112.5,1663.3 1113.3,1660.9C1114.2,1658.5 1113.5,1660.4 1114.0,1658.8C1114.4,1657.2 1115.5,1653.6 1116.2,1651.5C1116.8,1649.4 1117.4,1647.4 1117.7,1646.2C1118.1,1645.0 1117.9,1645.7 1118.4,1644.1C1118.8,1642.5 1119.9,1638.9 1120.6,1636.8C1121.2,1634.7 1121.8,1632.9 1122.2,1631.8C1122.5,1630.6 1122.3,1631.2 1122.8,1629.7C1123.3,1628.2 1124.4,1624.7 1125.0,1622.7C1125.6,1620.7 1126.2,1618.8 1126.6,1617.6C1126.9,1616.5 1126.7,1616.7 1127.2,1615.6C1127.7,1614.6 1128.8,1612.3 1129.4,1611.3C1130.0,1610.4 1130.6,1610.1 1131.0,1609.8C1131.3,1609.4 1131.1,1609.2 1131.6,1609.1C1132.1,1609.0 1133.2,1608.8 1133.8,1609.1C1134.4,1609.5 1135.0,1610.7 1135.4,1611.2C1135.8,1611.7 1135.5,1611.0 1136.0,1612.1C1136.5,1613.1 1137.6,1615.2 1138.2,1617.5C1138.9,1619.8 1139.4,1623.8 1139.8,1625.7C1140.2,1627.7 1140.0,1626.6 1140.4,1629.1C1140.9,1631.5 1142.0,1637.3 1142.6,1640.6C1143.3,1644.0 1143.8,1647.1 1144.2,1649.1C1144.6,1651.2 1144.4,1650.1 1144.8,1652.9C1145.3,1655.8 1146.4,1662.4 1147.0,1666.2C1147.7,1669.9 1148.3,1673.4 1148.6,1675.6C1149.0,1677.8 1148.8,1676.8 1149.3,1679.4C1149.7,1682.0 1150.8,1688.1 1151.5,1691.4C1152.1,1694.7 1152.0,1694.7 1153.0,1699.2C1154.0,1703.8 1156.0,1713.8 1157.4,1718.8C1158.9,1723.9 1160.4,1726.3 1161.9,1729.4C1163.3,1732.5 1164.8,1735.3 1166.3,1737.4C1167.7,1739.4 1169.2,1740.4 1170.7,1741.8C1172.1,1743.2 1173.6,1744.6 1175.1,1745.8C1176.6,1747.0 1178.0,1747.9 1179.5,1748.9C1181.0,1749.9 1182.4,1750.9 1183.9,1752.0C1185.4,1753.0 1186.8,1754.2 1188.3,1755.1C1189.8,1755.9 1191.3,1756.5 1192.7,1757.1C1194.2,1757.7 1195.7,1758.2 1197.1,1758.8C1198.6,1759.3 1200.1,1760.1 1201.6,1760.4C1203.0,1760.8 1204.5,1760.6 1206.0,1760.7C1207.4,1760.7 1208.9,1760.7 1210.4,1760.7C1211.8,1760.7 1213.3,1760.7 1214.8,1760.7C1216.3,1760.7 1217.7,1760.5 1219.2,1760.7C1220.7,1760.8 1222.1,1761.2 1223.6,1761.6C1225.1,1762.1 1226.5,1762.7 1228.0,1763.3C1229.5,1763.8 1231.0,1764.3 1232.4,1764.9C1233.9,1765.5 1235.4,1766.1 1236.8,1766.7C1238.3,1767.4 1239.8,1768.0 1241.2,1768.6C1242.7,1769.2 1244.2,1770.5 1245.7,1770.5C1247.1,1770.5 1248.6,1769.4 1250.1,1768.7C1251.5,1768.0 1253.0,1767.1 1254.5,1766.3C1256.0,1765.5 1257.4,1764.6 1258.9,1764.0C1260.4,1763.3 1261.8,1762.6 1263.3,1762.6C1264.8,1762.5 1266.2,1763.3 1267.7,1763.7C1269.2,1764.0 1270.7,1764.3 1272.1,1764.8C1273.6,1765.2 1275.1,1765.7 1276.5,1766.2C1278.0,1766.8 1279.5,1767.5 1280.9,1768.1C1282.4,1768.7 1283.9,1769.9 1285.4,1770.0C1286.8,1770.0 1288.3,1769.5 1289.8,1768.6C1291.2,1767.8 1292.7,1766.2 1294.2,1764.9C1295.6,1763.7 1297.1,1762.5 1298.6,1761.2C1300.1,1760.0 1301.5,1758.2 1303.0,1757.5C1304.5,1756.8 1305.9,1757.3 1307.4,1757.2C1308.9,1757.0 1310.4,1756.9 1311.8,1756.8C1313.3,1756.7 1314.8,1756.5 1316.2,1756.4C1317.7,1756.3 1319.2,1756.2 1320.6,1756.1C1322.1,1755.9 1323.6,1755.8 1325.1,1755.6C1326.5,1755.5 1328.0,1755.3 1329.5,1755.2C1330.9,1755.0 1332.4,1754.9 1333.9,1754.8C1335.3,1754.6 1336.8,1754.4 1338.3,1754.3C1339.8,1754.2 1341.2,1754.2 1342.7,1754.1C1344.2,1754.0 1345.6,1754.0 1347.1,1753.9C1348.6,1753.8 1350.8,1753.8 1351.5,1753.7" fill="none" stroke="#74c6cf" stroke-width="3.0" stroke-linejoin="round"/>
<path d="M853.1,1757.3C853.8,1757.4 856.0,1757.7 857.5,1757.9C859.0,1758.1 860.4,1758.4 861.9,1758.7C863.4,1758.9 864.9,1759.4 866.3,1759.4C867.8,1759.4 869.3,1759.1 870.7,1758.9C872.2,1758.6 873.7,1758.1 875.1,1757.6C876.6,1757.2 878.1,1756.6 879.6,1756.1C881.0,1755.6 882.5,1755.1 884.0,1754.6C885.4,1754.2 886.9,1753.8 888.4,1753.2C889.9,1752.7 891.3,1752.0 892.8,1751.3C894.3,1750.6 895.7,1749.8 897.2,1748.9C898.7,1748.1 900.1,1747.1 901.6,1746.2C903.1,1745.2 904.6,1744.2 906.0,1743.3C907.5,1742.4 909.0,1741.6 910.4,1740.9C911.9,1740.2 913.4,1739.5 914.8,1739.1C916.3,1738.7 917.8,1738.5 919.3,1738.4C920.7,1738.3 922.2,1738.3 923.7,1738.5C925.1,1738.6 926.6,1738.6 928.1,1739.1C929.5,1739.6 931.0,1740.5 932.5,1741.4C934.0,1742.4 935.4,1743.6 936.9,1744.6C938.4,1745.6 939.8,1746.6 941.3,1747.5C942.8,1748.3 944.3,1749.3 945.7,1749.7C947.2,1750.2 948.7,1750.3 950.1,1750.1C951.6,1749.9 953.1,1749.1 954.5,1748.4C956.0,1747.7 957.5,1746.6 959.0,1745.8C960.4,1744.9 961.9,1743.8 963.4,1743.4C964.8,1743.0 966.3,1743.2 967.8,1743.3C969.2,1743.4 970.7,1743.5 972.2,1743.8C973.7,1744.1 975.1,1744.8 976.6,1745.3C978.1,1745.8 979.5,1746.6 981.0,1746.7C982.5,1746.9 983.9,1746.6 985.4,1746.2C986.9,1745.8 988.4,1745.2 989.8,1744.3C991.3,1743.4 992.8,1742.3 994.2,1741.0C995.7,1739.7 997.2,1738.2 998.7,1736.7C1000.1,1735.1 1001.6,1733.2 1003.1,1731.8C1004.5,1730.3 1006.0,1728.8 1007.5,1727.9C1008.9,1727.0 1010.4,1726.7 1011.9,1726.3C1013.4,1725.8 1014.8,1725.6 1016.3,1725.2C1017.8,1724.9 1019.2,1724.5 1020.7,1724.1C1022.2,1723.6 1023.6,1723.3 1025.1,1722.6C1026.6,1721.8 1028.1,1720.7 1029.5,1719.8C1031.0,1719.0 1032.5,1718.4 1033.9,1717.4C1035.4,1716.5 1036.9,1715.3 1038.3,1714.1C1039.8,1712.8 1041.3,1711.4 1042.8,1710.0C1044.2,1708.7 1045.7,1707.4 1047.2,1706.1C1048.6,1704.9 1050.1,1703.8 1051.6,1702.7C1053.1,1701.6 1054.5,1700.5 1056.0,1699.6C1057.5,1698.7 1058.9,1698.1 1060.4,1697.2C1061.9,1696.3 1063.3,1695.4 1064.8,1694.4C1066.3,1693.4 1067.8,1692.3 1069.2,1691.3C1070.7,1690.2 1072.2,1689.3 1073.6,1688.1C1075.1,1686.8 1076.6,1685.2 1078.0,1683.6C1079.5,1681.9 1081.0,1680.6 1082.5,1678.2C1083.9,1675.8 1085.4,1672.1 1086.9,1669.0C1088.3,1665.9 1089.8,1662.7 1091.3,1659.7C1092.7,1656.6 1094.2,1653.3 1095.7,1650.7C1097.2,1648.1 1098.6,1646.6 1100.1,1644.0C1101.6,1641.5 1103.0,1638.6 1104.5,1635.7C1106.0,1632.8 1107.5,1629.9 1108.9,1626.8C1110.4,1623.6 1112.5,1618.5 1113.3,1616.5C1114.2,1614.6 1113.5,1616.5 1114.0,1614.9C1114.4,1613.4 1115.5,1609.4 1116.2,1607.2C1116.8,1605.1 1117.4,1603.1 1117.7,1601.8C1118.1,1600.5 1117.9,1601.2 1118.4,1599.6C1118.8,1598.0 1119.9,1594.2 1120.6,1592.1C1121.2,1589.9 1121.8,1588.0 1122.2,1586.8C1122.5,1585.6 1122.3,1586.2 1122.8,1584.7C1123.3,1583.2 1124.4,1579.7 1125.0,1577.7C1125.6,1575.7 1126.2,1573.9 1126.6,1572.8C1126.9,1571.7 1126.7,1572.1 1127.2,1570.8C1127.7,1569.6 1128.8,1566.6 1129.4,1565.4C1130.0,1564.2 1130.6,1564.1 1131.0,1563.7C1131.3,1563.4 1131.1,1563.2 1131.6,1563.2C1132.1,1563.2 1133.2,1563.0 1133.8,1563.4C1134.4,1563.9 1135.0,1565.1 1135.4,1565.6C1135.8,1566.2 1135.5,1565.5 1136.0,1566.5C1136.5,1567.6 1137.6,1569.8 1138.2,1572.1C1138.9,1574.5 1139.4,1578.6 1139.8,1580.5C1140.2,1582.5 1140.0,1581.3 1140.4,1583.9C1140.9,1586.5 1142.0,1592.3 1142.6,1596.2C1143.3,1600.0 1143.8,1604.3 1144.2,1606.8C1144.6,1609.3 1144.4,1607.9 1144.8,1611.3C1145.3,1614.7 1146.4,1622.5 1147.0,1627.0C1147.7,1631.5 1148.3,1635.6 1148.6,1638.2C1149.0,1640.8 1148.8,1639.4 1149.3,1642.7C1149.7,1645.9 1150.8,1653.5 1151.5,1657.8C1152.1,1662.0 1152.0,1662.2 1153.0,1668.2C1154.0,1674.1 1156.0,1686.3 1157.4,1693.5C1158.9,1700.7 1160.4,1706.3 1161.9,1711.4C1163.3,1716.5 1164.8,1720.5 1166.3,1724.0C1167.7,1727.4 1169.2,1729.8 1170.7,1732.1C1172.1,1734.4 1173.6,1736.4 1175.1,1737.8C1176.6,1739.2 1178.0,1739.5 1179.5,1740.3C1181.0,1741.2 1182.4,1742.1 1183.9,1743.0C1185.4,1744.0 1186.8,1745.1 1188.3,1746.2C1189.8,1747.2 1191.3,1748.3 1192.7,1749.3C1194.2,1750.3 1195.7,1751.2 1197.1,1752.1C1198.6,1752.9 1200.1,1753.8 1201.6,1754.4C1203.0,1754.9 1204.5,1755.3 1206.0,1755.6C1207.4,1755.9 1208.9,1756.0 1210.4,1756.1C1211.8,1756.1 1213.3,1755.9 1214.8,1755.9C1216.3,1755.8 1217.7,1755.7 1219.2,1755.7C1220.7,1755.7 1222.1,1755.7 1223.6,1755.8C1225.1,1756.0 1226.5,1756.2 1228.0,1756.6C1229.5,1756.9 1231.0,1757.3 1232.4,1758.0C1233.9,1758.7 1235.4,1759.6 1236.8,1760.6C1238.3,1761.6 1239.8,1762.9 1241.2,1764.0C1242.7,1765.2 1244.2,1766.8 1245.7,1767.6C1247.1,1768.5 1248.6,1768.9 1250.1,1769.1C1251.5,1769.2 1253.0,1768.8 1254.5,1768.5C1256.0,1768.2 1257.4,1767.6 1258.9,1767.2C1260.4,1766.7 1261.8,1766.0 1263.3,1765.8C1264.8,1765.5 1266.2,1765.8 1267.7,1765.7C1269.2,1765.6 1270.7,1765.2 1272.1,1765.2C1273.6,1765.2 1275.1,1765.5 1276.5,1765.7C1278.0,1766.0 1279.5,1766.4 1280.9,1766.6C1282.4,1766.9 1283.9,1767.5 1285.4,1767.2C1286.8,1767.0 1288.3,1765.9 1289.8,1765.0C1291.2,1764.1 1292.7,1763.0 1294.2,1762.1C1295.6,1761.1 1297.1,1760.2 1298.6,1759.5C1300.1,1758.8 1301.5,1758.0 1303.0,1757.6C1304.5,1757.3 1305.9,1757.6 1307.4,1757.6C1308.9,1757.5 1310.4,1757.4 1311.8,1757.2C1313.3,1757.0 1314.8,1756.7 1316.2,1756.4C1317.7,1756.0 1319.2,1755.6 1320.6,1755.1C1322.1,1754.7 1323.6,1754.2 1325.1,1753.8C1326.5,1753.4 1328.0,1753.0 1329.5,1752.9C1330.9,1752.8 1332.4,1753.0 1333.9,1753.2C1335.3,1753.4 1336.8,1753.6 1338.3,1754.0C1339.8,1754.5 1341.2,1755.1 1342.7,1755.6C1344.2,1756.2 1345.6,1756.7 1347.1,1757.2C1348.6,1757.7 1350.8,1758.6 1351.5,1758.8" fill="none" stroke="#2fb5e0" stroke-width="3.0" stroke-linejoin="round"/>
<path d="M853.1,1756.5C853.8,1756.5 856.0,1756.3 857.5,1756.2C859.0,1756.1 860.4,1756.2 861.9,1756.1C863.4,1755.9 864.9,1755.9 866.3,1755.6C867.8,1755.2 869.3,1754.4 870.7,1753.8C872.2,1753.1 873.7,1752.3 875.1,1751.6C876.6,1750.8 878.1,1749.9 879.6,1749.3C881.0,1748.7 882.5,1748.3 884.0,1748.0C885.4,1747.7 886.9,1747.6 888.4,1747.5C889.9,1747.4 891.3,1747.3 892.8,1747.4C894.3,1747.5 895.7,1747.7 897.2,1747.9C898.7,1748.1 900.1,1748.3 901.6,1748.6C903.1,1748.8 904.6,1748.9 906.0,1749.1C907.5,1749.3 909.0,1749.6 910.4,1749.7C911.9,1749.9 913.4,1750.0 914.8,1750.0C916.3,1750.0 917.8,1750.1 919.3,1749.9C920.7,1749.7 922.2,1749.4 923.7,1748.9C925.1,1748.5 926.6,1747.6 928.1,1747.1C929.5,1746.6 931.0,1746.3 932.5,1746.1C934.0,1745.8 935.4,1745.6 936.9,1745.4C938.4,1745.1 939.8,1744.8 941.3,1744.6C942.8,1744.3 944.3,1744.0 945.7,1743.8C947.2,1743.5 948.7,1743.4 950.1,1742.9C951.6,1742.4 953.1,1741.5 954.5,1740.7C956.0,1740.0 957.5,1739.0 959.0,1738.3C960.4,1737.7 961.9,1737.0 963.4,1736.9C964.8,1736.8 966.3,1737.2 967.8,1737.5C969.2,1737.9 970.7,1738.3 972.2,1739.0C973.7,1739.7 975.1,1740.8 976.6,1741.6C978.1,1742.4 979.5,1743.3 981.0,1743.7C982.5,1744.0 983.9,1744.1 985.4,1743.8C986.9,1743.5 988.4,1743.0 989.8,1742.1C991.3,1741.3 992.8,1739.9 994.2,1738.7C995.7,1737.5 997.2,1736.1 998.7,1734.8C1000.1,1733.5 1001.6,1731.9 1003.1,1730.7C1004.5,1729.6 1006.0,1728.3 1007.5,1727.7C1008.9,1727.2 1010.4,1727.4 1011.9,1727.3C1013.4,1727.2 1014.8,1727.4 1016.3,1727.3C1017.8,1727.1 1019.2,1726.9 1020.7,1726.6C1022.2,1726.2 1023.6,1726.3 1025.1,1725.3C1026.6,1724.4 1028.1,1722.5 1029.5,1720.9C1031.0,1719.3 1032.5,1717.8 1033.9,1715.7C1035.4,1713.5 1036.9,1710.9 1038.3,1708.2C1039.8,1705.5 1041.3,1702.4 1042.8,1699.7C1044.2,1697.0 1045.7,1694.4 1047.2,1692.0C1048.6,1689.6 1050.1,1687.3 1051.6,1685.3C1053.1,1683.4 1054.5,1681.7 1056.0,1680.4C1057.5,1679.1 1058.9,1678.5 1060.4,1677.6C1061.9,1676.7 1063.3,1675.9 1064.8,1675.0C1066.3,1674.2 1067.8,1673.4 1069.2,1672.5C1070.7,1671.6 1072.2,1670.8 1073.6,1669.6C1075.1,1668.3 1076.6,1666.6 1078.0,1664.9C1079.5,1663.3 1081.0,1662.3 1082.5,1659.4C1083.9,1656.5 1085.4,1651.5 1086.9,1647.4C1088.3,1643.4 1089.8,1639.2 1091.3,1635.3C1092.7,1631.4 1094.2,1627.0 1095.7,1623.8C1097.2,1620.7 1098.6,1619.0 1100.1,1616.4C1101.6,1613.9 1103.0,1611.2 1104.5,1608.6C1106.0,1606.0 1107.5,1603.6 1108.9,1600.9C1110.4,1598.3 1112.5,1594.3 1113.3,1592.8C1114.2,1591.2 1113.5,1593.0 1114.0,1591.6C1114.4,1590.1 1115.5,1586.1 1116.2,1584.0C1116.8,1581.8 1117.4,1579.8 1117.7,1578.6C1118.1,1577.3 1117.9,1578.0 1118.4,1576.4C1118.8,1574.8 1119.9,1571.0 1120.6,1568.8C1121.2,1566.6 1121.8,1564.6 1122.2,1563.4C1122.5,1562.1 1122.3,1562.8 1122.8,1561.2C1123.3,1559.7 1124.4,1556.1 1125.0,1554.1C1125.6,1552.0 1126.2,1550.2 1126.6,1549.0C1126.9,1547.9 1126.7,1548.4 1127.2,1547.0C1127.7,1545.6 1128.8,1542.0 1129.4,1540.6C1130.0,1539.2 1130.6,1539.1 1131.0,1538.7C1131.3,1538.2 1131.1,1538.1 1131.6,1538.1C1132.1,1538.1 1133.2,1538.0 1133.8,1538.4C1134.4,1538.9 1135.0,1540.3 1135.4,1540.9C1135.8,1541.5 1135.5,1540.7 1136.0,1541.9C1136.5,1543.0 1137.6,1545.4 1138.2,1547.8C1138.9,1550.2 1139.4,1554.3 1139.8,1556.3C1140.2,1558.3 1140.0,1557.0 1140.4,1559.7C1140.9,1562.3 1142.0,1568.2 1142.6,1572.2C1143.3,1576.3 1143.8,1581.2 1144.2,1583.9C1144.6,1586.7 1144.4,1585.1 1144.8,1588.7C1145.3,1592.3 1146.4,1600.6 1147.0,1605.4C1147.7,1610.1 1148.3,1614.5 1148.6,1617.2C1149.0,1620.0 1148.8,1618.5 1149.3,1622.0C1149.7,1625.5 1150.8,1633.6 1151.5,1638.2C1152.1,1642.8 1152.0,1643.1 1153.0,1649.6C1154.0,1656.0 1156.0,1668.7 1157.4,1676.8C1158.9,1684.8 1160.4,1691.8 1161.9,1697.8C1163.3,1703.7 1164.8,1708.2 1166.3,1712.3C1167.7,1716.5 1169.2,1719.7 1170.7,1722.6C1172.1,1725.6 1173.6,1728.2 1175.1,1730.0C1176.6,1731.8 1178.0,1732.2 1179.5,1733.4C1181.0,1734.5 1182.4,1735.7 1183.9,1737.0C1185.4,1738.3 1186.8,1739.7 1188.3,1741.1C1189.8,1742.5 1191.3,1744.0 1192.7,1745.4C1194.2,1746.7 1195.7,1748.0 1197.1,1749.1C1198.6,1750.2 1200.1,1751.1 1201.6,1752.0C1203.0,1752.8 1204.5,1753.6 1206.0,1754.3C1207.4,1754.9 1208.9,1755.5 1210.4,1755.9C1211.8,1756.4 1213.3,1756.6 1214.8,1756.9C1216.3,1757.3 1217.7,1757.8 1219.2,1758.2C1220.7,1758.6 1222.1,1758.9 1223.6,1759.3C1225.1,1759.6 1226.5,1759.9 1228.0,1760.2C1229.5,1760.5 1231.0,1760.8 1232.4,1761.2C1233.9,1761.7 1235.4,1762.3 1236.8,1762.8C1238.3,1763.3 1239.8,1763.9 1241.2,1764.4C1242.7,1764.8 1244.2,1765.4 1245.7,1765.5C1247.1,1765.6 1248.6,1765.6 1250.1,1765.1C1251.5,1764.5 1253.0,1763.2 1254.5,1762.2C1256.0,1761.3 1257.4,1760.1 1258.9,1759.3C1260.4,1758.5 1261.8,1757.6 1263.3,1757.3C1264.8,1756.9 1266.2,1757.2 1267.7,1757.4C1269.2,1757.6 1270.7,1757.7 1272.1,1758.4C1273.6,1759.2 1275.1,1760.6 1276.5,1761.8C1278.0,1763.0 1279.5,1764.6 1280.9,1765.8C1282.4,1767.0 1283.9,1768.5 1285.4,1769.0C1286.8,1769.4 1288.3,1768.9 1289.8,1768.5C1291.2,1768.2 1292.7,1767.7 1294.2,1767.1C1295.6,1766.6 1297.1,1765.8 1298.6,1765.1C1300.1,1764.4 1301.5,1763.7 1303.0,1763.1C1304.5,1762.5 1305.9,1762.1 1307.4,1761.5C1308.9,1760.8 1310.4,1760.1 1311.8,1759.3C1313.3,1758.5 1314.8,1757.7 1316.2,1756.9C1317.7,1756.1 1319.2,1755.2 1320.6,1754.4C1322.1,1753.7 1323.6,1752.9 1325.1,1752.4C1326.5,1752.0 1328.0,1751.6 1329.5,1751.6C1330.9,1751.7 1332.4,1752.2 1333.9,1752.7C1335.3,1753.2 1336.8,1753.8 1338.3,1754.5C1339.8,1755.2 1341.2,1756.1 1342.7,1756.8C1344.2,1757.5 1345.6,1758.0 1347.1,1758.6C1348.6,1759.1 1350.8,1759.7 1351.5,1759.9" fill="none" stroke="#5562b6" stroke-width="3.0" stroke-linejoin="round"/>
<path d="M853.1,1760.7C853.8,1760.6 856.0,1760.3 857.5,1760.1C859.0,1759.9 860.4,1759.8 861.9,1759.5C863.4,1759.3 864.9,1759.0 866.3,1758.5C867.8,1758.0 869.3,1757.2 870.7,1756.5C872.2,1755.8 873.7,1755.1 875.1,1754.5C876.6,1753.8 878.1,1752.9 879.6,1752.4C881.0,1751.9 882.5,1751.7 884.0,1751.5C885.4,1751.2 886.9,1751.1 888.4,1751.0C889.9,1750.8 891.3,1750.6 892.8,1750.5C894.3,1750.3 895.7,1750.2 897.2,1749.9C898.7,1749.7 900.1,1749.4 901.6,1749.1C903.1,1748.7 904.6,1748.2 906.0,1747.8C907.5,1747.3 909.0,1746.9 910.4,1746.4C911.9,1746.0 913.4,1745.5 914.8,1745.1C916.3,1744.7 917.8,1744.3 919.3,1743.9C920.7,1743.5 922.2,1743.1 923.7,1742.7C925.1,1742.3 926.6,1741.7 928.1,1741.6C929.5,1741.4 931.0,1741.7 932.5,1742.0C934.0,1742.2 935.4,1742.8 936.9,1743.2C938.4,1743.6 939.8,1744.1 941.3,1744.4C942.8,1744.8 944.3,1745.0 945.7,1745.3C947.2,1745.6 948.7,1746.3 950.1,1746.2C951.6,1746.1 953.1,1745.4 954.5,1744.6C956.0,1743.9 957.5,1742.7 959.0,1741.7C960.4,1740.8 961.9,1739.7 963.4,1739.1C964.8,1738.4 966.3,1738.1 967.8,1737.8C969.2,1737.6 970.7,1737.4 972.2,1737.6C973.7,1737.9 975.1,1738.7 976.6,1739.3C978.1,1739.8 979.5,1740.5 981.0,1740.9C982.5,1741.3 983.9,1741.6 985.4,1741.5C986.9,1741.5 988.4,1741.2 989.8,1740.5C991.3,1739.9 992.8,1738.6 994.2,1737.6C995.7,1736.6 997.2,1735.6 998.7,1734.4C1000.1,1733.3 1001.6,1731.9 1003.1,1730.7C1004.5,1729.6 1006.0,1728.2 1007.5,1727.4C1008.9,1726.7 1010.4,1726.8 1011.9,1726.4C1013.4,1726.1 1014.8,1725.9 1016.3,1725.4C1017.8,1724.9 1019.2,1724.1 1020.7,1723.5C1022.2,1722.8 1023.6,1722.9 1025.1,1721.6C1026.6,1720.3 1028.1,1717.7 1029.5,1715.6C1031.0,1713.5 1032.5,1711.6 1033.9,1709.0C1035.4,1706.4 1036.9,1703.0 1038.3,1699.8C1039.8,1696.5 1041.3,1692.7 1042.8,1689.5C1044.2,1686.3 1045.7,1683.3 1047.2,1680.4C1048.6,1677.6 1050.1,1674.7 1051.6,1672.4C1053.1,1670.0 1054.5,1667.8 1056.0,1666.2C1057.5,1664.5 1058.9,1663.7 1060.4,1662.5C1061.9,1661.3 1063.3,1660.0 1064.8,1658.8C1066.3,1657.6 1067.8,1656.4 1069.2,1655.1C1070.7,1653.9 1072.2,1652.7 1073.6,1651.2C1075.1,1649.7 1076.6,1647.8 1078.0,1646.1C1079.5,1644.4 1081.0,1644.0 1082.5,1641.0C1083.9,1637.9 1085.4,1632.1 1086.9,1627.7C1088.3,1623.3 1089.8,1618.8 1091.3,1614.5C1092.7,1610.2 1094.2,1605.4 1095.7,1602.1C1097.2,1598.8 1098.6,1597.2 1100.1,1594.7C1101.6,1592.3 1103.0,1589.8 1104.5,1587.4C1106.0,1584.9 1107.5,1582.5 1108.9,1580.0C1110.4,1577.6 1112.5,1574.1 1113.3,1572.7C1114.2,1571.3 1113.5,1573.2 1114.0,1571.6C1114.4,1570.1 1115.5,1565.9 1116.2,1563.6C1116.8,1561.2 1117.4,1559.1 1117.7,1557.8C1118.1,1556.4 1117.9,1557.2 1118.4,1555.5C1118.8,1553.7 1119.9,1549.7 1120.6,1547.4C1121.2,1545.1 1121.8,1543.0 1122.2,1541.6C1122.5,1540.3 1122.3,1540.9 1122.8,1539.3C1123.3,1537.7 1124.4,1534.0 1125.0,1531.9C1125.6,1529.8 1126.2,1527.9 1126.6,1526.7C1126.9,1525.5 1126.7,1526.2 1127.2,1524.7C1127.7,1523.2 1128.8,1519.1 1129.4,1517.5C1130.0,1516.0 1130.6,1515.9 1131.0,1515.5C1131.3,1515.1 1131.1,1515.0 1131.6,1515.0C1132.1,1515.0 1133.2,1515.0 1133.8,1515.4C1134.4,1515.9 1135.0,1517.3 1135.4,1517.8C1135.8,1518.4 1135.5,1517.7 1136.0,1518.8C1136.5,1519.9 1137.6,1522.2 1138.2,1524.6C1138.9,1527.0 1139.4,1531.0 1139.8,1533.0C1140.2,1535.0 1140.0,1533.7 1140.4,1536.4C1140.9,1539.0 1142.0,1544.8 1142.6,1549.0C1143.3,1553.2 1143.8,1558.6 1144.2,1561.6C1144.6,1564.5 1144.4,1562.8 1144.8,1566.6C1145.3,1570.4 1146.4,1579.2 1147.0,1584.2C1147.7,1589.3 1148.3,1593.9 1148.6,1596.8C1149.0,1599.8 1148.8,1598.1 1149.3,1601.9C1149.7,1605.7 1150.8,1614.5 1151.5,1619.5C1152.1,1624.6 1152.0,1625.0 1153.0,1632.1C1154.0,1639.3 1156.0,1653.1 1157.4,1662.4C1158.9,1671.6 1160.4,1680.4 1161.9,1687.6C1163.3,1694.7 1164.8,1700.1 1166.3,1705.2C1167.7,1710.3 1169.2,1714.5 1170.7,1718.1C1172.1,1721.8 1173.6,1724.9 1175.1,1727.0C1176.6,1729.0 1178.0,1729.2 1179.5,1730.3C1181.0,1731.4 1182.4,1732.4 1183.9,1733.6C1185.4,1734.8 1186.8,1736.0 1188.3,1737.4C1189.8,1738.7 1191.3,1740.4 1192.7,1741.8C1194.2,1743.2 1195.7,1744.6 1197.1,1745.9C1198.6,1747.1 1200.1,1748.1 1201.6,1749.2C1203.0,1750.3 1204.5,1751.5 1206.0,1752.5C1207.4,1753.5 1208.9,1754.4 1210.4,1755.1C1211.8,1755.8 1213.3,1756.2 1214.8,1756.7C1216.3,1757.3 1217.7,1758.0 1219.2,1758.4C1220.7,1758.8 1222.1,1759.0 1223.6,1759.1C1225.1,1759.2 1226.5,1759.1 1228.0,1759.1C1229.5,1759.1 1231.0,1759.0 1232.4,1759.1C1233.9,1759.2 1235.4,1759.6 1236.8,1759.9C1238.3,1760.2 1239.8,1760.7 1241.2,1761.1C1242.7,1761.4 1244.2,1761.9 1245.7,1762.2C1247.1,1762.5 1248.6,1763.1 1250.1,1762.9C1251.5,1762.8 1253.0,1761.8 1254.5,1761.2C1256.0,1760.6 1257.4,1759.9 1258.9,1759.4C1260.4,1758.9 1261.8,1758.4 1263.3,1758.3C1264.8,1758.2 1266.2,1758.5 1267.7,1758.7C1269.2,1758.9 1270.7,1758.9 1272.1,1759.5C1273.6,1760.2 1275.1,1761.5 1276.5,1762.5C1278.0,1763.5 1279.5,1764.7 1280.9,1765.5C1282.4,1766.2 1283.9,1767.1 1285.4,1767.0C1286.8,1766.9 1288.3,1765.6 1289.8,1764.9C1291.2,1764.2 1292.7,1763.5 1294.2,1762.8C1295.6,1762.1 1297.1,1761.2 1298.6,1760.6C1300.1,1760.1 1301.5,1759.9 1303.0,1759.7C1304.5,1759.4 1305.9,1759.3 1307.4,1759.1C1308.9,1759.0 1310.4,1758.8 1311.8,1758.6C1313.3,1758.4 1314.8,1758.3 1316.2,1758.0C1317.7,1757.8 1319.2,1757.5 1320.6,1757.3C1322.1,1757.0 1323.6,1756.7 1325.1,1756.5C1326.5,1756.3 1328.0,1756.1 1329.5,1756.3C1330.9,1756.5 1332.4,1757.2 1333.9,1757.6C1335.3,1758.1 1336.8,1758.5 1338.3,1759.0C1339.8,1759.4 1341.2,1760.0 1342.7,1760.3C1344.2,1760.6 1345.6,1760.6 1347.1,1760.7C1348.6,1760.7 1350.8,1760.7 1351.5,1760.7" fill="none" stroke="#2b3b9b" stroke-width="3.0" stroke-linejoin="round"/></g>
<rect x="849.9" y="1416.3" width="506.7" height="429.4" fill="none" stroke="#000" stroke-width="2.8"/>
<path d="M856.6,1849.5V1867.8M900.4,1849.5V1867.8M987.3,1849.5V1867.8M1074.6,1849.5V1867.8M1161.9,1849.5V1867.8M1249.4,1849.5V1867.8M1336.4,1849.5V1867.8" stroke="#000" stroke-width="2.6" fill="none"/>
<text x="901.3" y="1892.4" font-size="21.7" fill="#000" text-anchor="middle" >340</text>
<text x="988.0" y="1892.4" font-size="21.7" fill="#000" text-anchor="middle" >300</text>
<text x="1073.6" y="1892.4" font-size="21.7" fill="#000" text-anchor="middle" >260</text>
<text x="1160.6" y="1892.4" font-size="21.7" fill="#000" text-anchor="middle" >220</text>
<text x="1246.9" y="1892.4" font-size="21.7" fill="#000" text-anchor="middle" >180</text>
<text x="1333.9" y="1892.4" font-size="21.7" fill="#000" text-anchor="middle" >140</text>
<text x="988.1" y="1935.5" font-size="29" fill="#000"><tspan font-size="27.5" dy="-6.5">7</tspan><tspan dy="6.5">Li chemical shift (ppm)</tspan></text>
<text x="818.4" y="1403.0" font-size="28.5" fill="#000" text-anchor="start" >g</text>
<text x="1373.9" y="1404.7" font-size="28.5" fill="#000" text-anchor="start" >i</text>
<text x="869.8" y="1607.9" font-size="27.2" fill="#231815" text-anchor="start" >4th discharge</text>
<path d="M1055.4,1760.7V1589" stroke="#000" stroke-width="4" stroke-dasharray="11.65 12.25" fill="none"/>
<path d="M1045.1,1753.4L1055.5,1782.8L1066.2,1753.4" stroke="#000" stroke-width="4.7" fill="none" stroke-linejoin="miter" stroke-miterlimit="10"/>
<defs><filter id="sh" x="-30%" y="-30%" width="160%" height="160%"><feGaussianBlur stdDeviation="2.2"/></filter><filter id="sh2" x="-60%" y="-30%" width="220%" height="160%"><feGaussianBlur stdDeviation="3.4"/></filter></defs>
<rect x="1410" y="687.7" width="640.3" height="361" fill="#cadf9a"/>
<rect x="1410" y="1048.7" width="640.3" height="96.6" fill="#f9d18b"/>
<clipPath id="ch"><rect x="1410" y="680" width="641" height="368"/></clipPath>
<g clip-path="url(#ch)"><g filter="url(#sh)" opacity="0.42" fill="#222" stroke="#222" stroke-width="4"><path d="M1729.6,690.3C1730.2,690.3 1731.7,697.4 1732.5,702.0C1733.2,706.6 1734.1,713.4 1734.3,718.0C1734.4,722.6 1734.1,725.3 1733.5,729.7C1732.9,734.1 1731.8,739.3 1730.9,744.6C1729.9,750.0 1728.6,758.0 1727.7,761.7C1726.7,765.4 1725.8,765.7 1725.0,767.0C1724.2,768.3 1722.6,768.3 1722.6,769.7C1722.6,771.1 1723.4,772.8 1725.0,775.5C1726.6,778.3 1730.9,783.7 1732.5,786.2C1734.0,788.7 1734.2,789.1 1734.3,790.5C1734.4,791.8 1733.4,793.0 1733.0,794.2C1732.5,795.4 1731.7,796.4 1731.6,797.9C1731.5,799.4 1731.4,801.3 1732.5,803.3C1733.5,805.2 1736.2,807.2 1737.8,809.7C1739.4,812.1 1741.0,815.8 1742.0,818.2C1743.1,820.6 1744.1,822.7 1744.2,824.1C1744.3,825.4 1743.5,825.5 1742.6,826.2C1741.7,826.9 1739.8,827.0 1738.8,828.3C1737.9,829.6 1737.4,831.4 1736.7,834.2C1736.0,836.9 1735.2,840.9 1734.8,844.8C1734.4,848.7 1734.6,853.4 1734.1,857.6C1733.5,861.8 1732.0,867.8 1731.4,870.0C1730.8,872.2 1731.6,868.8 1730.3,870.7C1729.1,872.5 1725.6,877.8 1723.9,881.3C1722.2,884.9 1721.0,888.4 1720.2,892.0C1719.4,895.5 1718.9,899.3 1719.1,902.6C1719.3,906.0 1722.3,911.0 1721.3,912.2C1720.2,913.5 1714.2,912.6 1712.7,910.1C1711.3,907.6 1712.3,901.2 1712.7,897.3C1713.2,893.4 1713.9,890.9 1715.4,886.7C1716.9,882.4 1720.5,874.5 1721.8,871.7C1723.1,869.0 1722.5,872.7 1723.4,870.0C1724.3,867.3 1726.6,859.5 1727.3,855.5C1728.0,851.5 1727.8,848.4 1727.7,845.9C1727.5,843.4 1726.5,842.2 1726.6,840.6C1726.7,839.0 1727.0,837.9 1728.2,836.3C1729.3,834.7 1732.1,832.6 1733.5,831.0C1734.9,829.4 1736.1,828.5 1736.5,826.7C1736.9,824.9 1736.7,822.5 1736.2,820.3C1735.7,818.2 1734.8,815.9 1733.5,813.9C1732.3,812.0 1729.8,810.4 1728.7,808.6C1727.6,806.8 1727.1,805.0 1726.9,803.3C1726.7,801.5 1727.2,799.6 1727.7,797.9C1728.1,796.2 1729.4,794.7 1729.8,793.1C1730.2,791.5 1730.7,790.0 1730.1,788.3C1729.5,786.6 1727.8,785.0 1726.1,783.0C1724.3,781.1 1721.2,778.7 1719.7,776.6C1718.1,774.5 1717.0,772.5 1716.8,770.2C1716.5,767.9 1717.2,765.4 1718.1,762.8C1718.9,760.1 1720.4,757.6 1721.8,754.2C1723.2,750.8 1725.3,746.6 1726.6,742.5C1727.8,738.4 1728.7,733.8 1729.3,729.7C1729.8,725.6 1729.9,722.6 1729.8,718.0C1729.6,713.4 1728.4,706.6 1728.4,702.0C1728.4,697.4 1728.9,690.3 1729.6,690.3Z"/><path d="M1712.7,910.1C1710.9,911.6 1711.6,917.4 1710.6,921.8C1709.6,926.3 1708.2,932.0 1706.9,936.8C1705.5,941.6 1704.2,947.1 1702.6,950.6C1701.0,954.2 1698.9,956.1 1697.3,958.1C1695.7,960.0 1693.5,960.9 1693.0,962.3C1692.5,963.8 1692.8,964.1 1694.1,966.6C1695.3,969.1 1698.5,973.7 1700.5,977.3C1702.4,980.8 1704.4,984.4 1705.8,987.9C1707.2,991.5 1708.4,995.0 1709.0,998.6C1709.6,1002.1 1709.4,1005.2 1709.5,1009.3C1709.6,1013.3 1709.8,1019.7 1709.5,1023.1C1709.3,1026.5 1708.6,1027.4 1707.9,1029.5C1707.2,1031.6 1705.8,1033.2 1705.3,1035.9C1704.7,1038.6 1704.6,1043.5 1704.7,1045.5C1704.8,1047.5 1704.0,1047.4 1705.8,1047.6C1707.6,1047.9 1713.6,1047.8 1715.4,1047.1C1717.2,1046.4 1716.5,1045.2 1716.5,1043.4C1716.4,1041.5 1715.0,1038.2 1714.9,1035.9C1714.7,1033.6 1715.0,1030.8 1715.4,1029.5C1715.8,1028.2 1715.2,1026.8 1717.5,1027.9C1719.8,1029.0 1726.1,1033.7 1729.3,1035.9C1732.5,1038.1 1734.9,1040.5 1736.7,1041.2C1738.5,1041.9 1739.2,1041.2 1739.9,1040.2C1740.6,1039.1 1741.3,1036.8 1741.0,1034.8C1740.6,1032.9 1739.4,1030.4 1737.8,1028.4C1736.2,1026.5 1733.9,1025.4 1731.4,1023.1C1728.9,1020.8 1725.0,1017.2 1722.9,1014.6C1720.7,1011.9 1719.8,1010.3 1718.6,1007.1C1717.3,1003.9 1716.6,999.8 1715.4,995.4C1714.2,991.0 1712.6,984.9 1711.1,980.5C1709.6,976.0 1707.3,971.7 1706.3,968.7C1705.4,965.8 1704.6,964.7 1705.3,962.9C1706.0,961.1 1709.3,960.1 1710.6,958.1C1711.9,956.0 1712.8,953.6 1713.3,950.6C1713.7,947.6 1712.9,943.7 1713.3,940.0C1713.6,936.2 1714.3,931.8 1715.4,928.2C1716.5,924.7 1718.6,921.2 1719.7,918.6C1720.7,916.1 1722.7,914.2 1721.6,912.8C1720.4,911.4 1714.6,908.6 1712.7,910.1Z"/><path d="M1739.9,1030.6C1741.0,1030.2 1744.4,1034.1 1746.3,1035.9C1748.3,1037.7 1750.3,1039.6 1751.6,1041.2C1753.0,1042.9 1754.3,1044.6 1754.5,1045.7C1754.8,1046.8 1754.1,1047.4 1753.2,1047.6C1752.4,1047.9 1751.2,1047.7 1749.5,1047.1C1747.8,1046.5 1745.2,1044.9 1743.1,1043.9C1741.1,1042.9 1737.8,1042.2 1737.2,1041.2C1736.7,1040.3 1739.5,1039.8 1739.9,1038.0C1740.4,1036.3 1738.8,1030.9 1739.9,1030.6Z"/><path d="M1710.6,1002.9C1708.4,1000.7 1703.0,1006.9 1697.3,1009.3C1691.5,1011.6 1681.6,1014.3 1675.9,1016.7C1670.3,1019.1 1667.6,1022.0 1663.2,1023.6C1658.7,1025.2 1653.6,1025.5 1649.3,1026.3C1645.0,1027.1 1642.0,1027.0 1637.6,1028.4C1633.1,1029.9 1627.4,1032.5 1622.6,1034.8C1617.8,1037.1 1612.1,1040.3 1608.8,1042.3C1605.5,1044.3 1603.1,1046.1 1602.9,1047.1C1602.7,1048.1 1605.5,1048.0 1607.7,1048.2C1609.9,1048.3 1612.9,1048.6 1616.2,1047.8C1619.6,1047.0 1623.4,1045.1 1628.0,1043.4C1632.6,1041.6 1637.7,1039.2 1644.0,1037.5C1650.2,1035.8 1659.1,1034.6 1665.3,1033.2C1671.5,1031.9 1675.9,1031.0 1681.3,1029.5C1686.6,1028.0 1692.4,1025.4 1697.3,1024.2C1702.2,1022.9 1708.4,1025.6 1710.6,1022.0C1712.8,1018.5 1712.8,1005.0 1710.6,1002.9Z"/></g></g>
<g clip-path="url(#ch)"><path d="M1729.6,690.3C1730.2,690.3 1731.7,697.4 1732.5,702.0C1733.2,706.6 1734.1,713.4 1734.3,718.0C1734.4,722.6 1734.1,725.3 1733.5,729.7C1732.9,734.1 1731.8,739.3 1730.9,744.6C1729.9,750.0 1728.6,758.0 1727.7,761.7C1726.7,765.4 1725.8,765.7 1725.0,767.0C1724.2,768.3 1722.6,768.3 1722.6,769.7C1722.6,771.1 1723.4,772.8 1725.0,775.5C1726.6,778.3 1730.9,783.7 1732.5,786.2C1734.0,788.7 1734.2,789.1 1734.3,790.5C1734.4,791.8 1733.4,793.0 1733.0,794.2C1732.5,795.4 1731.7,796.4 1731.6,797.9C1731.5,799.4 1731.4,801.3 1732.5,803.3C1733.5,805.2 1736.2,807.2 1737.8,809.7C1739.4,812.1 1741.0,815.8 1742.0,818.2C1743.1,820.6 1744.1,822.7 1744.2,824.1C1744.3,825.4 1743.5,825.5 1742.6,826.2C1741.7,826.9 1739.8,827.0 1738.8,828.3C1737.9,829.6 1737.4,831.4 1736.7,834.2C1736.0,836.9 1735.2,840.9 1734.8,844.8C1734.4,848.7 1734.6,853.4 1734.1,857.6C1733.5,861.8 1732.0,867.8 1731.4,870.0C1730.8,872.2 1731.6,868.8 1730.3,870.7C1729.1,872.5 1725.6,877.8 1723.9,881.3C1722.2,884.9 1721.0,888.4 1720.2,892.0C1719.4,895.5 1718.9,899.3 1719.1,902.6C1719.3,906.0 1722.3,911.0 1721.3,912.2C1720.2,913.5 1714.2,912.6 1712.7,910.1C1711.3,907.6 1712.3,901.2 1712.7,897.3C1713.2,893.4 1713.9,890.9 1715.4,886.7C1716.9,882.4 1720.5,874.5 1721.8,871.7C1723.1,869.0 1722.5,872.7 1723.4,870.0C1724.3,867.3 1726.6,859.5 1727.3,855.5C1728.0,851.5 1727.8,848.4 1727.7,845.9C1727.5,843.4 1726.5,842.2 1726.6,840.6C1726.7,839.0 1727.0,837.9 1728.2,836.3C1729.3,834.7 1732.1,832.6 1733.5,831.0C1734.9,829.4 1736.1,828.5 1736.5,826.7C1736.9,824.9 1736.7,822.5 1736.2,820.3C1735.7,818.2 1734.8,815.9 1733.5,813.9C1732.3,812.0 1729.8,810.4 1728.7,808.6C1727.6,806.8 1727.1,805.0 1726.9,803.3C1726.7,801.5 1727.2,799.6 1727.7,797.9C1728.1,796.2 1729.4,794.7 1729.8,793.1C1730.2,791.5 1730.7,790.0 1730.1,788.3C1729.5,786.6 1727.8,785.0 1726.1,783.0C1724.3,781.1 1721.2,778.7 1719.7,776.6C1718.1,774.5 1717.0,772.5 1716.8,770.2C1716.5,767.9 1717.2,765.4 1718.1,762.8C1718.9,760.1 1720.4,757.6 1721.8,754.2C1723.2,750.8 1725.3,746.6 1726.6,742.5C1727.8,738.4 1728.7,733.8 1729.3,729.7C1729.8,725.6 1729.9,722.6 1729.8,718.0C1729.6,713.4 1728.4,706.6 1728.4,702.0C1728.4,697.4 1728.9,690.3 1729.6,690.3Z" fill="#0b0b0b"/><path d="M1710.6,1002.9C1708.4,1000.7 1703.0,1006.9 1697.3,1009.3C1691.5,1011.6 1681.6,1014.3 1675.9,1016.7C1670.3,1019.1 1667.6,1022.0 1663.2,1023.6C1658.7,1025.2 1653.6,1025.5 1649.3,1026.3C1645.0,1027.1 1642.0,1027.0 1637.6,1028.4C1633.1,1029.9 1627.4,1032.5 1622.6,1034.8C1617.8,1037.1 1612.1,1040.3 1608.8,1042.3C1605.5,1044.3 1603.1,1046.1 1602.9,1047.1C1602.7,1048.1 1605.5,1048.0 1607.7,1048.2C1609.9,1048.3 1612.9,1048.6 1616.2,1047.8C1619.6,1047.0 1623.4,1045.1 1628.0,1043.4C1632.6,1041.6 1637.7,1039.2 1644.0,1037.5C1650.2,1035.8 1659.1,1034.6 1665.3,1033.2C1671.5,1031.9 1675.9,1031.0 1681.3,1029.5C1686.6,1028.0 1692.4,1025.4 1697.3,1024.2C1702.2,1022.9 1708.4,1025.6 1710.6,1022.0C1712.8,1018.5 1712.8,1005.0 1710.6,1002.9Z" fill="#0b0b0b"/><path d="M1739.9,1030.6C1741.0,1030.2 1744.4,1034.1 1746.3,1035.9C1748.3,1037.7 1750.3,1039.6 1751.6,1041.2C1753.0,1042.9 1754.3,1044.6 1754.5,1045.7C1754.8,1046.8 1754.1,1047.4 1753.2,1047.6C1752.4,1047.9 1751.2,1047.7 1749.5,1047.1C1747.8,1046.5 1745.2,1044.9 1743.1,1043.9C1741.1,1042.9 1737.8,1042.2 1737.2,1041.2C1736.7,1040.3 1739.5,1039.8 1739.9,1038.0C1740.4,1036.3 1738.8,1030.9 1739.9,1030.6Z" fill="#0b0b0b"/><path d="M1712.7,910.1C1710.9,911.6 1711.6,917.4 1710.6,921.8C1709.6,926.3 1708.2,932.0 1706.9,936.8C1705.5,941.6 1704.2,947.1 1702.6,950.6C1701.0,954.2 1698.9,956.1 1697.3,958.1C1695.7,960.0 1693.5,960.9 1693.0,962.3C1692.5,963.8 1692.8,964.1 1694.1,966.6C1695.3,969.1 1698.5,973.7 1700.5,977.3C1702.4,980.8 1704.4,984.4 1705.8,987.9C1707.2,991.5 1708.4,995.0 1709.0,998.6C1709.6,1002.1 1709.4,1005.2 1709.5,1009.3C1709.6,1013.3 1709.8,1019.7 1709.5,1023.1C1709.3,1026.5 1708.6,1027.4 1707.9,1029.5C1707.2,1031.6 1705.8,1033.2 1705.3,1035.9C1704.7,1038.6 1704.6,1043.5 1704.7,1045.5C1704.8,1047.5 1704.0,1047.4 1705.8,1047.6C1707.6,1047.9 1713.6,1047.8 1715.4,1047.1C1717.2,1046.4 1716.5,1045.2 1716.5,1043.4C1716.4,1041.5 1715.0,1038.2 1714.9,1035.9C1714.7,1033.6 1715.0,1030.8 1715.4,1029.5C1715.8,1028.2 1715.2,1026.8 1717.5,1027.9C1719.8,1029.0 1726.1,1033.7 1729.3,1035.9C1732.5,1038.1 1734.9,1040.5 1736.7,1041.2C1738.5,1041.9 1739.2,1041.2 1739.9,1040.2C1740.6,1039.1 1741.3,1036.8 1741.0,1034.8C1740.6,1032.9 1739.4,1030.4 1737.8,1028.4C1736.2,1026.5 1733.9,1025.4 1731.4,1023.1C1728.9,1020.8 1725.0,1017.2 1722.9,1014.6C1720.7,1011.9 1719.8,1010.3 1718.6,1007.1C1717.3,1003.9 1716.6,999.8 1715.4,995.4C1714.2,991.0 1712.6,984.9 1711.1,980.5C1709.6,976.0 1707.3,971.7 1706.3,968.7C1705.4,965.8 1704.6,964.7 1705.3,962.9C1706.0,961.1 1709.3,960.1 1710.6,958.1C1711.9,956.0 1712.8,953.6 1713.3,950.6C1713.7,947.6 1712.9,943.7 1713.3,940.0C1713.6,936.2 1714.3,931.8 1715.4,928.2C1716.5,924.7 1718.6,921.2 1719.7,918.6C1720.7,916.1 1722.7,914.2 1721.6,912.8C1720.4,911.4 1714.6,908.6 1712.7,910.1Z" fill="#f9d18b" stroke="#6b4515" stroke-width="0.9"/></g>
<path d="M1410,1048.7H2050.3" stroke="#6b4515" stroke-width="2.3"/>
<text x="1791.9" y="951.3" font-size="28.5" fill="#000" text-anchor="start" >Li dendrite</text>
<text x="1791.9" y="986.0" font-size="28.5" fill="#000" text-anchor="start" >penetration</text>
<rect x="1465.2" y="1191.4" width="116.6" height="53.2" fill="#cadf9a"/>
<rect x="1465.2" y="1293" width="116.6" height="52.8" fill="#f9d18b"/>
<text x="1594.8" y="1228.2" font-size="28.5" fill="#000" text-anchor="start" >Solid Electrolyte</text>
<text x="1594.8" y="1327.7" font-size="28.5" fill="#000" text-anchor="start" >Li metal</text>
<text x="1905.0" y="1267.4" font-size="28.5" fill="#000" text-anchor="start" >Crack</text>
<path d="M1861.7,1195.9C1860.6,1197.0 1858.3,1203.1 1858.4,1206.5C1858.4,1209.8 1860.9,1211.7 1862.2,1216.0C1863.5,1220.4 1865.1,1226.4 1866.0,1232.4C1867.0,1238.3 1868.0,1246.6 1868.0,1251.5C1868.0,1256.5 1867.3,1258.7 1866.0,1262.1C1864.8,1265.4 1861.9,1267.8 1860.3,1271.7C1858.7,1275.5 1858.4,1279.7 1856.5,1285.1C1854.5,1290.5 1850.9,1298.5 1848.8,1304.3C1846.7,1310.0 1844.9,1315.6 1844.0,1319.6C1843.0,1323.6 1842.5,1326.3 1843.0,1328.3C1843.5,1330.3 1845.1,1331.1 1846.9,1331.6C1848.6,1332.2 1851.0,1332.0 1853.6,1331.6C1856.1,1331.2 1860.0,1330.9 1862.2,1329.2C1864.4,1327.6 1865.7,1325.4 1867.0,1321.6C1868.3,1317.7 1869.0,1312.3 1869.9,1306.2C1870.8,1300.1 1871.2,1290.5 1872.3,1285.1C1873.4,1279.7 1874.9,1277.4 1876.6,1273.6C1878.3,1269.8 1881.2,1265.3 1882.4,1262.1C1883.5,1258.9 1883.9,1257.6 1883.8,1254.4C1883.6,1251.2 1882.7,1247.4 1881.4,1242.9C1880.0,1238.4 1877.6,1232.5 1875.6,1227.6C1873.7,1222.6 1871.6,1217.8 1869.9,1213.2C1868.1,1208.5 1866.4,1202.6 1865.1,1199.7C1863.7,1196.9 1862.8,1194.8 1861.7,1195.9Z" fill="#222" stroke="#222" stroke-width="7" filter="url(#sh2)" opacity="0.5"/>
<path d="M1861.7,1195.9C1860.6,1197.0 1858.3,1203.1 1858.4,1206.5C1858.4,1209.8 1860.9,1211.7 1862.2,1216.0C1863.5,1220.4 1865.1,1226.4 1866.0,1232.4C1867.0,1238.3 1868.0,1246.6 1868.0,1251.5C1868.0,1256.5 1867.3,1258.7 1866.0,1262.1C1864.8,1265.4 1861.9,1267.8 1860.3,1271.7C1858.7,1275.5 1858.4,1279.7 1856.5,1285.1C1854.5,1290.5 1850.9,1298.5 1848.8,1304.3C1846.7,1310.0 1844.9,1315.6 1844.0,1319.6C1843.0,1323.6 1842.5,1326.3 1843.0,1328.3C1843.5,1330.3 1845.1,1331.1 1846.9,1331.6C1848.6,1332.2 1851.0,1332.0 1853.6,1331.6C1856.1,1331.2 1860.0,1330.9 1862.2,1329.2C1864.4,1327.6 1865.7,1325.4 1867.0,1321.6C1868.3,1317.7 1869.0,1312.3 1869.9,1306.2C1870.8,1300.1 1871.2,1290.5 1872.3,1285.1C1873.4,1279.7 1874.9,1277.4 1876.6,1273.6C1878.3,1269.8 1881.2,1265.3 1882.4,1262.1C1883.5,1258.9 1883.9,1257.6 1883.8,1254.4C1883.6,1251.2 1882.7,1247.4 1881.4,1242.9C1880.0,1238.4 1877.6,1232.5 1875.6,1227.6C1873.7,1222.6 1871.6,1217.8 1869.9,1213.2C1868.1,1208.5 1866.4,1202.6 1865.1,1199.7C1863.7,1196.9 1862.8,1194.8 1861.7,1195.9Z" fill="#000"/>
<rect x="1410" y="1419.9" width="640.3" height="361.7" fill="#cadf9a"/>
<rect x="1410" y="1787.4" width="640.3" height="16.2" fill="#f9d18b"/>
<clipPath id="ci"><rect x="1410" y="1412" width="641" height="369"/></clipPath>
<g clip-path="url(#ci)"><g filter="url(#sh)" opacity="0.42" fill="#222" stroke="#222" stroke-width="4"><path d="M1729.6,690.3C1730.2,690.3 1731.7,697.4 1732.5,702.0C1733.2,706.6 1734.1,713.4 1734.3,718.0C1734.4,722.6 1734.1,725.3 1733.5,729.7C1732.9,734.1 1731.8,739.3 1730.9,744.6C1729.9,750.0 1728.6,758.0 1727.7,761.7C1726.7,765.4 1725.8,765.7 1725.0,767.0C1724.2,768.3 1722.6,768.3 1722.6,769.7C1722.6,771.1 1723.4,772.8 1725.0,775.5C1726.6,778.3 1730.9,783.7 1732.5,786.2C1734.0,788.7 1734.2,789.1 1734.3,790.5C1734.4,791.8 1733.4,793.0 1733.0,794.2C1732.5,795.4 1731.7,796.4 1731.6,797.9C1731.5,799.4 1731.4,801.3 1732.5,803.3C1733.5,805.2 1736.2,807.2 1737.8,809.7C1739.4,812.1 1741.0,815.8 1742.0,818.2C1743.1,820.6 1744.1,822.7 1744.2,824.1C1744.3,825.4 1743.5,825.5 1742.6,826.2C1741.7,826.9 1739.8,827.0 1738.8,828.3C1737.9,829.6 1737.4,831.4 1736.7,834.2C1736.0,836.9 1735.2,840.9 1734.8,844.8C1734.4,848.7 1734.6,853.4 1734.1,857.6C1733.5,861.8 1732.0,867.8 1731.4,870.0C1730.8,872.2 1731.6,868.8 1730.3,870.7C1729.1,872.5 1725.6,877.8 1723.9,881.3C1722.2,884.9 1721.0,888.4 1720.2,892.0C1719.4,895.5 1718.9,899.3 1719.1,902.6C1719.3,906.0 1722.3,911.0 1721.3,912.2C1720.2,913.5 1714.2,912.6 1712.7,910.1C1711.3,907.6 1712.3,901.2 1712.7,897.3C1713.2,893.4 1713.9,890.9 1715.4,886.7C1716.9,882.4 1720.5,874.5 1721.8,871.7C1723.1,869.0 1722.5,872.7 1723.4,870.0C1724.3,867.3 1726.6,859.5 1727.3,855.5C1728.0,851.5 1727.8,848.4 1727.7,845.9C1727.5,843.4 1726.5,842.2 1726.6,840.6C1726.7,839.0 1727.0,837.9 1728.2,836.3C1729.3,834.7 1732.1,832.6 1733.5,831.0C1734.9,829.4 1736.1,828.5 1736.5,826.7C1736.9,824.9 1736.7,822.5 1736.2,820.3C1735.7,818.2 1734.8,815.9 1733.5,813.9C1732.3,812.0 1729.8,810.4 1728.7,808.6C1727.6,806.8 1727.1,805.0 1726.9,803.3C1726.7,801.5 1727.2,799.6 1727.7,797.9C1728.1,796.2 1729.4,794.7 1729.8,793.1C1730.2,791.5 1730.7,790.0 1730.1,788.3C1729.5,786.6 1727.8,785.0 1726.1,783.0C1724.3,781.1 1721.2,778.7 1719.7,776.6C1718.1,774.5 1717.0,772.5 1716.8,770.2C1716.5,767.9 1717.2,765.4 1718.1,762.8C1718.9,760.1 1720.4,757.6 1721.8,754.2C1723.2,750.8 1725.3,746.6 1726.6,742.5C1727.8,738.4 1728.7,733.8 1729.3,729.7C1729.8,725.6 1729.9,722.6 1729.8,718.0C1729.6,713.4 1728.4,706.6 1728.4,702.0C1728.4,697.4 1728.9,690.3 1729.6,690.3Z" transform="translate(-4.6 732.5)"/><path d="M1708.5,1640.4C1706.3,1642.7 1707.1,1652.0 1705.8,1658.0C1704.5,1663.9 1702.2,1671.3 1700.5,1676.1C1698.7,1680.9 1697.1,1683.6 1695.1,1686.8C1693.2,1689.9 1689.5,1692.4 1688.7,1694.8C1688.0,1697.1 1689.8,1698.2 1690.9,1700.6C1691.9,1703.0 1693.9,1706.8 1695.1,1709.1C1696.4,1711.5 1697.4,1713.7 1698.3,1714.5C1699.2,1715.3 1699.5,1714.8 1700.5,1713.9C1701.4,1713.1 1703.7,1710.8 1704.2,1709.1C1704.7,1707.5 1704.3,1705.6 1703.7,1703.8C1703.0,1702.0 1700.9,1700.1 1700.5,1698.5C1700.0,1696.9 1699.9,1696.0 1701.0,1694.2C1702.1,1692.4 1705.4,1690.5 1706.9,1687.8C1708.4,1685.2 1709.4,1682.3 1710.1,1678.2C1710.7,1674.1 1710.1,1667.4 1710.6,1663.3C1711.1,1659.2 1711.9,1656.9 1713.3,1653.7C1714.6,1650.5 1719.4,1646.3 1718.6,1644.1C1717.8,1641.9 1710.6,1638.1 1708.5,1640.4Z"/><path d="M1698.3,1713.9C1699.0,1712.4 1702.6,1710.5 1704.2,1711.8C1705.8,1713.1 1706.6,1718.1 1707.9,1721.9C1709.3,1725.8 1710.7,1730.5 1712.2,1734.7C1713.7,1739.0 1714.7,1744.2 1717.0,1747.5C1719.3,1750.9 1722.6,1752.3 1726.1,1755.0C1729.5,1757.7 1734.4,1760.9 1737.8,1763.5C1741.2,1766.2 1744.4,1768.8 1746.3,1771.0C1748.3,1773.1 1749.2,1775.0 1749.5,1776.3C1749.9,1777.6 1749.3,1778.6 1748.4,1779.0C1747.6,1779.3 1746.5,1779.4 1744.2,1778.4C1741.9,1777.5 1738.3,1775.4 1734.6,1773.1C1730.9,1770.8 1725.6,1767.1 1721.8,1764.6C1718.0,1762.1 1713.7,1758.7 1711.7,1758.2C1709.6,1757.7 1709.9,1759.4 1709.5,1761.4C1709.2,1763.3 1709.4,1767.1 1709.5,1769.9C1709.7,1772.8 1711.2,1776.8 1710.6,1778.4C1710.0,1780.0 1707.5,1779.5 1705.8,1779.5C1704.1,1779.5 1701.4,1779.7 1700.5,1778.4C1699.5,1777.2 1699.9,1774.5 1700.3,1772.0C1700.6,1769.6 1701.8,1766.2 1702.6,1763.5C1703.4,1760.9 1706.2,1756.9 1705.3,1756.1C1704.4,1755.2 1702.2,1756.8 1697.3,1758.2C1692.4,1759.6 1682.2,1763.0 1675.9,1764.6C1669.7,1766.2 1665.3,1766.9 1660.0,1767.8C1654.6,1768.7 1649.3,1768.7 1644.0,1769.9C1638.6,1771.2 1633.3,1773.5 1628.0,1775.2C1622.6,1777.0 1616.1,1779.7 1612.0,1780.6C1607.9,1781.5 1605.4,1780.8 1603.5,1780.6C1601.5,1780.3 1600.1,1780.0 1600.3,1779.0C1600.4,1778.0 1601.1,1776.8 1604.5,1774.7C1607.9,1772.7 1615.4,1769.1 1620.5,1766.7C1625.7,1764.3 1629.4,1761.9 1635.4,1760.3C1641.5,1758.7 1650.9,1758.9 1656.8,1757.1C1662.6,1755.3 1665.6,1752.0 1670.6,1749.7C1675.6,1747.3 1682.0,1745.0 1686.6,1743.3C1691.2,1741.6 1695.4,1740.8 1698.3,1739.5C1701.3,1738.3 1703.3,1737.7 1704.2,1735.8C1705.1,1733.9 1704.3,1730.8 1703.7,1728.3C1703.0,1725.8 1701.4,1723.3 1700.5,1720.9C1699.6,1718.5 1697.7,1715.5 1698.3,1713.9Z"/></g></g>
<g clip-path="url(#ci)"><path d="M1729.6,690.3C1730.2,690.3 1731.7,697.4 1732.5,702.0C1733.2,706.6 1734.1,713.4 1734.3,718.0C1734.4,722.6 1734.1,725.3 1733.5,729.7C1732.9,734.1 1731.8,739.3 1730.9,744.6C1729.9,750.0 1728.6,758.0 1727.7,761.7C1726.7,765.4 1725.8,765.7 1725.0,767.0C1724.2,768.3 1722.6,768.3 1722.6,769.7C1722.6,771.1 1723.4,772.8 1725.0,775.5C1726.6,778.3 1730.9,783.7 1732.5,786.2C1734.0,788.7 1734.2,789.1 1734.3,790.5C1734.4,791.8 1733.4,793.0 1733.0,794.2C1732.5,795.4 1731.7,796.4 1731.6,797.9C1731.5,799.4 1731.4,801.3 1732.5,803.3C1733.5,805.2 1736.2,807.2 1737.8,809.7C1739.4,812.1 1741.0,815.8 1742.0,818.2C1743.1,820.6 1744.1,822.7 1744.2,824.1C1744.3,825.4 1743.5,825.5 1742.6,826.2C1741.7,826.9 1739.8,827.0 1738.8,828.3C1737.9,829.6 1737.4,831.4 1736.7,834.2C1736.0,836.9 1735.2,840.9 1734.8,844.8C1734.4,848.7 1734.6,853.4 1734.1,857.6C1733.5,861.8 1732.0,867.8 1731.4,870.0C1730.8,872.2 1731.6,868.8 1730.3,870.7C1729.1,872.5 1725.6,877.8 1723.9,881.3C1722.2,884.9 1721.0,888.4 1720.2,892.0C1719.4,895.5 1718.9,899.3 1719.1,902.6C1719.3,906.0 1722.3,911.0 1721.3,912.2C1720.2,913.5 1714.2,912.6 1712.7,910.1C1711.3,907.6 1712.3,901.2 1712.7,897.3C1713.2,893.4 1713.9,890.9 1715.4,886.7C1716.9,882.4 1720.5,874.5 1721.8,871.7C1723.1,869.0 1722.5,872.7 1723.4,870.0C1724.3,867.3 1726.6,859.5 1727.3,855.5C1728.0,851.5 1727.8,848.4 1727.7,845.9C1727.5,843.4 1726.5,842.2 1726.6,840.6C1726.7,839.0 1727.0,837.9 1728.2,836.3C1729.3,834.7 1732.1,832.6 1733.5,831.0C1734.9,829.4 1736.1,828.5 1736.5,826.7C1736.9,824.9 1736.7,822.5 1736.2,820.3C1735.7,818.2 1734.8,815.9 1733.5,813.9C1732.3,812.0 1729.8,810.4 1728.7,808.6C1727.6,806.8 1727.1,805.0 1726.9,803.3C1726.7,801.5 1727.2,799.6 1727.7,797.9C1728.1,796.2 1729.4,794.7 1729.8,793.1C1730.2,791.5 1730.7,790.0 1730.1,788.3C1729.5,786.6 1727.8,785.0 1726.1,783.0C1724.3,781.1 1721.2,778.7 1719.7,776.6C1718.1,774.5 1717.0,772.5 1716.8,770.2C1716.5,767.9 1717.2,765.4 1718.1,762.8C1718.9,760.1 1720.4,757.6 1721.8,754.2C1723.2,750.8 1725.3,746.6 1726.6,742.5C1727.8,738.4 1728.7,733.8 1729.3,729.7C1729.8,725.6 1729.9,722.6 1729.8,718.0C1729.6,713.4 1728.4,706.6 1728.4,702.0C1728.4,697.4 1728.9,690.3 1729.6,690.3Z" transform="translate(-4.6 732.5)" fill="#0b0b0b"/><path d="M1698.3,1713.9C1699.0,1712.4 1702.6,1710.5 1704.2,1711.8C1705.8,1713.1 1706.6,1718.1 1707.9,1721.9C1709.3,1725.8 1710.7,1730.5 1712.2,1734.7C1713.7,1739.0 1714.7,1744.2 1717.0,1747.5C1719.3,1750.9 1722.6,1752.3 1726.1,1755.0C1729.5,1757.7 1734.4,1760.9 1737.8,1763.5C1741.2,1766.2 1744.4,1768.8 1746.3,1771.0C1748.3,1773.1 1749.2,1775.0 1749.5,1776.3C1749.9,1777.6 1749.3,1778.6 1748.4,1779.0C1747.6,1779.3 1746.5,1779.4 1744.2,1778.4C1741.9,1777.5 1738.3,1775.4 1734.6,1773.1C1730.9,1770.8 1725.6,1767.1 1721.8,1764.6C1718.0,1762.1 1713.7,1758.7 1711.7,1758.2C1709.6,1757.7 1709.9,1759.4 1709.5,1761.4C1709.2,1763.3 1709.4,1767.1 1709.5,1769.9C1709.7,1772.8 1711.2,1776.8 1710.6,1778.4C1710.0,1780.0 1707.5,1779.5 1705.8,1779.5C1704.1,1779.5 1701.4,1779.7 1700.5,1778.4C1699.5,1777.2 1699.9,1774.5 1700.3,1772.0C1700.6,1769.6 1701.8,1766.2 1702.6,1763.5C1703.4,1760.9 1706.2,1756.9 1705.3,1756.1C1704.4,1755.2 1702.2,1756.8 1697.3,1758.2C1692.4,1759.6 1682.2,1763.0 1675.9,1764.6C1669.7,1766.2 1665.3,1766.9 1660.0,1767.8C1654.6,1768.7 1649.3,1768.7 1644.0,1769.9C1638.6,1771.2 1633.3,1773.5 1628.0,1775.2C1622.6,1777.0 1616.1,1779.7 1612.0,1780.6C1607.9,1781.5 1605.4,1780.8 1603.5,1780.6C1601.5,1780.3 1600.1,1780.0 1600.3,1779.0C1600.4,1778.0 1601.1,1776.8 1604.5,1774.7C1607.9,1772.7 1615.4,1769.1 1620.5,1766.7C1625.7,1764.3 1629.4,1761.9 1635.4,1760.3C1641.5,1758.7 1650.9,1758.9 1656.8,1757.1C1662.6,1755.3 1665.6,1752.0 1670.6,1749.7C1675.6,1747.3 1682.0,1745.0 1686.6,1743.3C1691.2,1741.6 1695.4,1740.8 1698.3,1739.5C1701.3,1738.3 1703.3,1737.7 1704.2,1735.8C1705.1,1733.9 1704.3,1730.8 1703.7,1728.3C1703.0,1725.8 1701.4,1723.3 1700.5,1720.9C1699.6,1718.5 1697.7,1715.5 1698.3,1713.9Z" fill="#0b0b0b"/><path d="M1708.5,1640.4C1706.3,1642.7 1707.1,1652.0 1705.8,1658.0C1704.5,1663.9 1702.2,1671.3 1700.5,1676.1C1698.7,1680.9 1697.1,1683.6 1695.1,1686.8C1693.2,1689.9 1689.5,1692.4 1688.7,1694.8C1688.0,1697.1 1689.8,1698.2 1690.9,1700.6C1691.9,1703.0 1693.9,1706.8 1695.1,1709.1C1696.4,1711.5 1697.4,1713.7 1698.3,1714.5C1699.2,1715.3 1699.5,1714.8 1700.5,1713.9C1701.4,1713.1 1703.7,1710.8 1704.2,1709.1C1704.7,1707.5 1704.3,1705.6 1703.7,1703.8C1703.0,1702.0 1700.9,1700.1 1700.5,1698.5C1700.0,1696.9 1699.9,1696.0 1701.0,1694.2C1702.1,1692.4 1705.4,1690.5 1706.9,1687.8C1708.4,1685.2 1709.4,1682.3 1710.1,1678.2C1710.7,1674.1 1710.1,1667.4 1710.6,1663.3C1711.1,1659.2 1711.9,1656.9 1713.3,1653.7C1714.6,1650.5 1719.4,1646.3 1718.6,1644.1C1717.8,1641.9 1710.6,1638.1 1708.5,1640.4Z" fill="#f9d18b" stroke="#6b4515" stroke-width="0.9"/><path d="M1714.9,1750.7C1715.2,1749.5 1715.7,1748.9 1717.5,1749.7C1719.4,1750.5 1723.2,1753.6 1726.1,1755.5C1728.9,1757.5 1732.8,1759.5 1734.6,1761.4C1736.4,1763.3 1736.6,1765.3 1736.7,1766.7C1736.8,1768.1 1736.4,1769.7 1735.1,1769.9C1733.9,1770.1 1731.5,1769.1 1729.3,1767.8C1727.0,1766.4 1724.1,1763.7 1721.8,1761.9C1719.5,1760.1 1716.5,1759.0 1715.4,1757.1C1714.2,1755.3 1714.5,1752.0 1714.9,1750.7Z" fill="#f9d18b" stroke="#6b4515" stroke-width="0.9"/></g>
<path d="M1410,1781.6H2050.3" stroke="#6b4515" stroke-width="2"/>
<text x="1791.9" y="1702.9" font-size="28.5" fill="#000" text-anchor="start" >Dead</text>
<text x="1873.0" y="1702.9" font-size="28.5" fill="#000" text-anchor="start" >Li</text>
<text x="1791.9" y="1738.0" font-size="28.5" fill="#000" text-anchor="start" >formation</text>
</svg>
</body></html>
